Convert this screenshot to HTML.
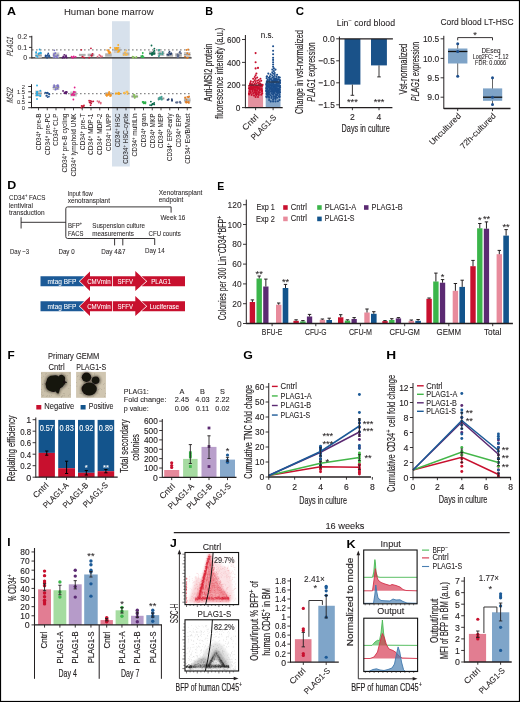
<!DOCTYPE html>
<html><head><meta charset="utf-8"><style>
html,body{margin:0;padding:0;background:#fff;}
body{width:520px;height:702px;overflow:hidden;}
svg{display:block;font-family:"Liberation Sans", sans-serif;will-change:transform;}
</style></head><body>
<svg width="520" height="702" viewBox="0 0 520 702" fill="#231f20">
<defs><filter id="bl1" x="-20%" y="-20%" width="140%" height="140%"><feGaussianBlur stdDeviation="0.45"/></filter>
<filter id="bl2" x="-30%" y="-30%" width="160%" height="160%"><feGaussianBlur stdDeviation="0.8"/></filter>
<filter id="bl3" x="-10%" y="-10%" width="120%" height="120%"><feGaussianBlur stdDeviation="0.6"/></filter></defs>
<text x="7" y="15" font-size="10.4" font-weight="bold" fill="#000" textLength="9" lengthAdjust="spacingAndGlyphs">A</text>
<text x="63.9" y="15.4" font-size="9.87" stroke="#231f20" stroke-width="0.04" textLength="89.7" lengthAdjust="spacingAndGlyphs">Human bone marrow</text>
<rect x="112" y="21.2" width="17.8" height="145.3" fill="#d7e1ec"/>
<line x1="31.8" y1="57.9" x2="191.6" y2="57.9" stroke="#231f20" stroke-width="1.4"/>
<line x1="32" y1="49.8" x2="191.6" y2="49.8" stroke="#8a8a8a" stroke-width="1.3" stroke-dasharray="1.6 2.4"/>
<rect x="35.2" y="53" width="6.6" height="4.8" fill="#c9c9c9"/>
<line x1="35.2" y1="55.4" x2="41.8" y2="55.4" stroke="#7a7a7a" stroke-width="0.6"/>
<circle cx="36.3" cy="55.67" r="0.9" fill="#29a9e0"/>
<circle cx="38.93" cy="53.35" r="0.9" fill="#29a9e0"/>
<circle cx="36.19" cy="52.1" r="0.9" fill="#29a9e0"/>
<circle cx="38.57" cy="54.1" r="0.9" fill="#29a9e0"/>
<circle cx="40.79" cy="53.39" r="0.9" fill="#29a9e0"/>
<circle cx="37.49" cy="56.9" r="0.9" fill="#29a9e0"/>
<circle cx="40.78" cy="52.54" r="0.9" fill="#29a9e0"/>
<circle cx="39.15" cy="53.35" r="0.9" fill="#29a9e0"/>
<circle cx="40.34" cy="52.63" r="0.9" fill="#29a9e0"/>
<circle cx="36.19" cy="52.66" r="0.9" fill="#29a9e0"/>
<circle cx="39.63" cy="49.5" r="0.9" fill="#29a9e0"/>
<circle cx="49.22" cy="55.29" r="0.9" fill="#1f4f8f"/>
<circle cx="46.26" cy="55.9" r="0.9" fill="#1f4f8f"/>
<circle cx="47.06" cy="57.83" r="0.9" fill="#1f4f8f"/>
<circle cx="45.5" cy="56.39" r="0.9" fill="#1f4f8f"/>
<circle cx="49.63" cy="56.82" r="0.9" fill="#1f4f8f"/>
<circle cx="45.59" cy="55.36" r="0.9" fill="#1f4f8f"/>
<circle cx="48.08" cy="56.24" r="0.9" fill="#1f4f8f"/>
<circle cx="47.72" cy="55.01" r="0.9" fill="#1f4f8f"/>
<circle cx="48.28" cy="53.5" r="0.9" fill="#1f4f8f"/>
<rect x="52.7" y="52.5" width="6.6" height="5.3" fill="#c9c9c9"/>
<line x1="52.7" y1="55.15" x2="59.3" y2="55.15" stroke="#7a7a7a" stroke-width="0.6"/>
<circle cx="55.98" cy="56.41" r="0.9" fill="#7b72c6"/>
<circle cx="57.71" cy="55.31" r="0.9" fill="#7b72c6"/>
<circle cx="54.03" cy="57.41" r="0.9" fill="#7b72c6"/>
<circle cx="55.42" cy="53.09" r="0.9" fill="#7b72c6"/>
<circle cx="53.84" cy="55.45" r="0.9" fill="#7b72c6"/>
<circle cx="56.72" cy="57.08" r="0.9" fill="#7b72c6"/>
<circle cx="54.51" cy="57.12" r="0.9" fill="#7b72c6"/>
<circle cx="55.08" cy="53.37" r="0.9" fill="#7b72c6"/>
<circle cx="57.53" cy="57.48" r="0.9" fill="#7b72c6"/>
<circle cx="53.86" cy="54.11" r="0.9" fill="#7b72c6"/>
<circle cx="54.34" cy="50.3" r="0.9" fill="#7b72c6"/>
<circle cx="64.13" cy="57.62" r="0.9" fill="#5a1d6e"/>
<circle cx="66.71" cy="57.64" r="0.9" fill="#5a1d6e"/>
<circle cx="64.25" cy="57.41" r="0.9" fill="#5a1d6e"/>
<circle cx="63.34" cy="56.52" r="0.9" fill="#5a1d6e"/>
<circle cx="66.28" cy="56.92" r="0.9" fill="#5a1d6e"/>
<circle cx="65.99" cy="55.41" r="0.9" fill="#5a1d6e"/>
<circle cx="65.7" cy="56.83" r="0.9" fill="#5a1d6e"/>
<circle cx="62.45" cy="57.75" r="0.9" fill="#5a1d6e"/>
<circle cx="64.3" cy="54.87" r="0.9" fill="#5a1d6e"/>
<circle cx="72.44" cy="57.64" r="0.9" fill="#e0218a"/>
<circle cx="73.3" cy="57.49" r="0.9" fill="#e0218a"/>
<circle cx="73.73" cy="56.44" r="0.9" fill="#e0218a"/>
<circle cx="71.59" cy="56.68" r="0.9" fill="#e0218a"/>
<circle cx="73.51" cy="57.15" r="0.9" fill="#e0218a"/>
<circle cx="75.69" cy="56.96" r="0.9" fill="#e0218a"/>
<rect x="78.95" y="53.8" width="6.6" height="2.3" fill="#c9c9c9"/>
<line x1="78.95" y1="54.95" x2="85.55" y2="54.95" stroke="#7a7a7a" stroke-width="0.6"/>
<circle cx="82.3" cy="56.8" r="0.9" fill="#cc1f3a"/>
<circle cx="82.72" cy="56.68" r="0.9" fill="#cc1f3a"/>
<circle cx="81.3" cy="49.8" r="0.9" fill="#cc1f3a"/>
<circle cx="84.31" cy="57.7" r="0.9" fill="#cc1f3a"/>
<rect x="87.7" y="53.5" width="6.6" height="3" fill="#c9c9c9"/>
<line x1="87.7" y1="55" x2="94.3" y2="55" stroke="#7a7a7a" stroke-width="0.6"/>
<circle cx="91.81" cy="55.53" r="0.9" fill="#c41a3b"/>
<circle cx="91.6" cy="55.68" r="0.9" fill="#c41a3b"/>
<circle cx="91.4" cy="55.33" r="0.9" fill="#c41a3b"/>
<circle cx="90.94" cy="48.3" r="0.9" fill="#c41a3b"/>
<circle cx="92.54" cy="53.8" r="0.9" fill="#c41a3b"/>
<circle cx="89.18" cy="57.7" r="0.9" fill="#c41a3b"/>
<circle cx="99.29" cy="55.02" r="0.9" fill="#e06c82"/>
<circle cx="100.4" cy="55.61" r="0.9" fill="#e06c82"/>
<circle cx="102.01" cy="56.47" r="0.9" fill="#e06c82"/>
<circle cx="97.54" cy="56.68" r="0.9" fill="#e06c82"/>
<circle cx="100.61" cy="56.79" r="0.9" fill="#e06c82"/>
<rect x="105.2" y="53" width="6.6" height="4" fill="#c9c9c9"/>
<line x1="105.2" y1="55" x2="111.8" y2="55" stroke="#7a7a7a" stroke-width="0.6"/>
<circle cx="108.59" cy="50.91" r="0.9" fill="#f7941d"/>
<circle cx="108.74" cy="51.32" r="0.9" fill="#f7941d"/>
<circle cx="107.2" cy="50.12" r="0.9" fill="#f7941d"/>
<circle cx="110.42" cy="52.5" r="0.9" fill="#f7941d"/>
<circle cx="109.16" cy="53.06" r="0.9" fill="#f7941d"/>
<circle cx="108.4" cy="51.86" r="0.9" fill="#f7941d"/>
<circle cx="109.72" cy="52.08" r="0.9" fill="#f7941d"/>
<circle cx="109.46" cy="53.13" r="0.9" fill="#f7941d"/>
<circle cx="110.35" cy="47.7" r="0.9" fill="#f7941d"/>
<rect x="113.95" y="47" width="6.6" height="6" fill="#c9c9c9"/>
<line x1="113.95" y1="50" x2="120.55" y2="50" stroke="#7a7a7a" stroke-width="0.6"/>
<circle cx="118.71" cy="50.99" r="0.9" fill="#f6a821"/>
<circle cx="116.97" cy="47.9" r="0.9" fill="#f6a821"/>
<circle cx="114.97" cy="48" r="0.9" fill="#f6a821"/>
<circle cx="116.58" cy="48.16" r="0.9" fill="#f6a821"/>
<circle cx="115.93" cy="48.91" r="0.9" fill="#f6a821"/>
<circle cx="116.01" cy="49.44" r="0.9" fill="#f6a821"/>
<circle cx="119.15" cy="50.76" r="0.9" fill="#f6a821"/>
<circle cx="116.5" cy="47.91" r="0.9" fill="#f6a821"/>
<circle cx="118" cy="51.88" r="0.9" fill="#f6a821"/>
<circle cx="116.65" cy="48.86" r="0.9" fill="#f6a821"/>
<circle cx="117.58" cy="48.81" r="0.9" fill="#f6a821"/>
<circle cx="118.13" cy="47.66" r="0.9" fill="#f6a821"/>
<circle cx="118.21" cy="45" r="0.9" fill="#f6a821"/>
<rect x="122.7" y="52" width="6.6" height="4" fill="#c9c9c9"/>
<line x1="122.7" y1="54" x2="129.3" y2="54" stroke="#7a7a7a" stroke-width="0.6"/>
<circle cx="125.29" cy="52.39" r="0.9" fill="#f9b94a"/>
<circle cx="125.88" cy="54.9" r="0.9" fill="#f9b94a"/>
<circle cx="126.45" cy="54.12" r="0.9" fill="#f9b94a"/>
<circle cx="126.39" cy="50.49" r="0.9" fill="#f9b94a"/>
<circle cx="123.72" cy="54.88" r="0.9" fill="#f9b94a"/>
<circle cx="126.39" cy="54.48" r="0.9" fill="#f9b94a"/>
<circle cx="124.78" cy="52.47" r="0.9" fill="#f9b94a"/>
<circle cx="127.13" cy="54.53" r="0.9" fill="#f9b94a"/>
<circle cx="132.57" cy="56.68" r="0.9" fill="#8cbf62"/>
<circle cx="133.33" cy="57.73" r="0.9" fill="#8cbf62"/>
<circle cx="135.75" cy="57.72" r="0.9" fill="#8cbf62"/>
<circle cx="133.04" cy="57.85" r="0.9" fill="#8cbf62"/>
<circle cx="136.48" cy="57.01" r="0.9" fill="#8cbf62"/>
<circle cx="133.63" cy="56.96" r="0.9" fill="#8cbf62"/>
<circle cx="141.83" cy="57.06" r="0.9" fill="#2db04b"/>
<circle cx="142.16" cy="57.26" r="0.9" fill="#2db04b"/>
<circle cx="141.2" cy="56.06" r="0.9" fill="#2db04b"/>
<circle cx="143.1" cy="57.1" r="0.9" fill="#2db04b"/>
<circle cx="143.55" cy="57.13" r="0.9" fill="#2db04b"/>
<circle cx="142.59" cy="55.71" r="0.9" fill="#2db04b"/>
<circle cx="142.77" cy="53" r="0.9" fill="#2db04b"/>
<rect x="148.95" y="51" width="6.6" height="4" fill="#c9c9c9"/>
<line x1="148.95" y1="53" x2="155.55" y2="53" stroke="#7a7a7a" stroke-width="0.6"/>
<circle cx="152.17" cy="54.69" r="0.9" fill="#0d6b4e"/>
<circle cx="153.96" cy="53.79" r="0.9" fill="#0d6b4e"/>
<circle cx="152.49" cy="54.39" r="0.9" fill="#0d6b4e"/>
<circle cx="152.7" cy="53.74" r="0.9" fill="#0d6b4e"/>
<circle cx="150.09" cy="53.59" r="0.9" fill="#0d6b4e"/>
<circle cx="151.61" cy="53.47" r="0.9" fill="#0d6b4e"/>
<circle cx="154.38" cy="50.6" r="0.9" fill="#0d6b4e"/>
<circle cx="151.7" cy="54.78" r="0.9" fill="#0d6b4e"/>
<circle cx="154.48" cy="53.52" r="0.9" fill="#0d6b4e"/>
<circle cx="153.79" cy="51.94" r="0.9" fill="#0d6b4e"/>
<circle cx="154.36" cy="48.69" r="0.9" fill="#0d6b4e"/>
<circle cx="152.52" cy="52.9" r="0.9" fill="#0d6b4e"/>
<circle cx="151.51" cy="45.5" r="0.9" fill="#0d6b4e"/>
<rect x="157.7" y="51" width="6.6" height="5" fill="#c9c9c9"/>
<line x1="157.7" y1="53.5" x2="164.3" y2="53.5" stroke="#7a7a7a" stroke-width="0.6"/>
<circle cx="159.17" cy="49.89" r="0.9" fill="#43a093"/>
<circle cx="162.57" cy="53.98" r="0.9" fill="#43a093"/>
<circle cx="159.32" cy="55.07" r="0.9" fill="#43a093"/>
<circle cx="159.1" cy="49.82" r="0.9" fill="#43a093"/>
<circle cx="158.9" cy="56.45" r="0.9" fill="#43a093"/>
<circle cx="160.37" cy="53.77" r="0.9" fill="#43a093"/>
<circle cx="158.66" cy="50.39" r="0.9" fill="#43a093"/>
<circle cx="162.2" cy="54.3" r="0.9" fill="#43a093"/>
<circle cx="159.84" cy="53.44" r="0.9" fill="#43a093"/>
<circle cx="162.63" cy="52.19" r="0.9" fill="#43a093"/>
<rect x="166.45" y="53" width="6.6" height="4" fill="#c9c9c9"/>
<line x1="166.45" y1="55" x2="173.05" y2="55" stroke="#7a7a7a" stroke-width="0.6"/>
<circle cx="171.08" cy="53.38" r="0.9" fill="#2d4470"/>
<circle cx="167.43" cy="54.71" r="0.9" fill="#2d4470"/>
<circle cx="170.65" cy="54.3" r="0.9" fill="#2d4470"/>
<circle cx="169.94" cy="53.67" r="0.9" fill="#2d4470"/>
<circle cx="171.24" cy="53.5" r="0.9" fill="#2d4470"/>
<circle cx="168.98" cy="52.87" r="0.9" fill="#2d4470"/>
<circle cx="169.54" cy="51.54" r="0.9" fill="#2d4470"/>
<circle cx="168.62" cy="54.93" r="0.9" fill="#2d4470"/>
<rect x="175.2" y="53" width="6.6" height="4" fill="#c9c9c9"/>
<line x1="175.2" y1="55" x2="181.8" y2="55" stroke="#7a7a7a" stroke-width="0.6"/>
<circle cx="179.98" cy="51.74" r="0.9" fill="#5c6a8c"/>
<circle cx="178.39" cy="56.81" r="0.9" fill="#5c6a8c"/>
<circle cx="177.61" cy="56" r="0.9" fill="#5c6a8c"/>
<circle cx="178.61" cy="55.2" r="0.9" fill="#5c6a8c"/>
<circle cx="177.61" cy="57.33" r="0.9" fill="#5c6a8c"/>
<circle cx="179.49" cy="52.63" r="0.9" fill="#5c6a8c"/>
<circle cx="180.89" cy="53.22" r="0.9" fill="#5c6a8c"/>
<circle cx="177.45" cy="54.5" r="0.9" fill="#5c6a8c"/>
<rect x="183.95" y="52" width="6.6" height="5" fill="#c9c9c9"/>
<line x1="183.95" y1="54.5" x2="190.55" y2="54.5" stroke="#7a7a7a" stroke-width="0.6"/>
<circle cx="189.2" cy="54.24" r="0.9" fill="#e17e26"/>
<circle cx="187.24" cy="53.19" r="0.9" fill="#e17e26"/>
<circle cx="185.05" cy="56.58" r="0.9" fill="#e17e26"/>
<circle cx="187.89" cy="57.56" r="0.9" fill="#e17e26"/>
<circle cx="188.12" cy="49.5" r="0.9" fill="#e17e26"/>
<circle cx="186.58" cy="50" r="0.9" fill="#e17e26"/>
<circle cx="187.05" cy="58" r="0.9" fill="#e17e26"/>
<line x1="31.8" y1="35.8" x2="31.8" y2="58.5" stroke="#231f20" stroke-width="1"/>
<line x1="29" y1="36.8" x2="31.8" y2="36.8" stroke="#231f20" stroke-width="0.9"/>
<text x="27.2" y="39.3" font-size="7" stroke="#231f20" stroke-width="0.04" text-anchor="end">0.2</text>
<line x1="29" y1="47.4" x2="31.8" y2="47.4" stroke="#231f20" stroke-width="0.9"/>
<text x="27.2" y="49.9" font-size="7" stroke="#231f20" stroke-width="0.04" text-anchor="end">0.1</text>
<line x1="29" y1="57.9" x2="31.8" y2="57.9" stroke="#231f20" stroke-width="0.9"/>
<text x="27.2" y="60.4" font-size="7" stroke="#231f20" stroke-width="0.04" text-anchor="end">0</text>
<text transform="translate(13.3 46.8) rotate(-90) skewX(-10)" font-size="9.12" stroke="#231f20" stroke-width="0.04" text-anchor="middle" font-style="italic" textLength="19.5" lengthAdjust="spacingAndGlyphs">PLAG1</text>
<line x1="31.5" y1="107.6" x2="191.6" y2="107.6" stroke="#231f20" stroke-width="1.4"/>
<line x1="32" y1="93.7" x2="191.6" y2="93.7" stroke="#8a8a8a" stroke-width="1.3" stroke-dasharray="1.6 2.4"/>
<rect x="35.2" y="90.5" width="6.6" height="6" fill="#c9c9c9"/>
<line x1="35.2" y1="93.5" x2="41.8" y2="93.5" stroke="#7a7a7a" stroke-width="0.6"/>
<circle cx="36.73" cy="92.07" r="0.9" fill="#29a9e0"/>
<circle cx="40.02" cy="95.08" r="0.9" fill="#29a9e0"/>
<circle cx="40.33" cy="90.74" r="0.9" fill="#29a9e0"/>
<circle cx="37.95" cy="95.18" r="0.9" fill="#29a9e0"/>
<circle cx="37.43" cy="91.93" r="0.9" fill="#29a9e0"/>
<circle cx="37.04" cy="93.79" r="0.9" fill="#29a9e0"/>
<circle cx="36.49" cy="95.37" r="0.9" fill="#29a9e0"/>
<circle cx="37.13" cy="91.94" r="0.9" fill="#29a9e0"/>
<circle cx="37.07" cy="94.48" r="0.9" fill="#29a9e0"/>
<circle cx="40.2" cy="96.21" r="0.9" fill="#29a9e0"/>
<circle cx="37.02" cy="85.5" r="0.9" fill="#29a9e0"/>
<circle cx="37.01" cy="99" r="0.9" fill="#29a9e0"/>
<circle cx="45.27" cy="92.72" r="0.9" fill="#1f4f8f"/>
<circle cx="47.65" cy="97.1" r="0.9" fill="#1f4f8f"/>
<circle cx="46.76" cy="93" r="0.9" fill="#1f4f8f"/>
<circle cx="49.24" cy="93.93" r="0.9" fill="#1f4f8f"/>
<circle cx="47.8" cy="92.93" r="0.9" fill="#1f4f8f"/>
<circle cx="47.36" cy="92.7" r="0.9" fill="#1f4f8f"/>
<circle cx="49.35" cy="94.38" r="0.9" fill="#1f4f8f"/>
<circle cx="46.22" cy="95.87" r="0.9" fill="#1f4f8f"/>
<circle cx="48.92" cy="96.55" r="0.9" fill="#1f4f8f"/>
<circle cx="46.88" cy="95.47" r="0.9" fill="#1f4f8f"/>
<rect x="52.7" y="85" width="6.6" height="5" fill="#c9c9c9"/>
<line x1="52.7" y1="87.5" x2="59.3" y2="87.5" stroke="#7a7a7a" stroke-width="0.6"/>
<circle cx="55.92" cy="88.89" r="0.9" fill="#7b72c6"/>
<circle cx="54.55" cy="86.18" r="0.9" fill="#7b72c6"/>
<circle cx="58.32" cy="86.53" r="0.9" fill="#7b72c6"/>
<circle cx="57.97" cy="85.15" r="0.9" fill="#7b72c6"/>
<circle cx="57.18" cy="86.11" r="0.9" fill="#7b72c6"/>
<circle cx="57.61" cy="88.7" r="0.9" fill="#7b72c6"/>
<circle cx="53.73" cy="87.21" r="0.9" fill="#7b72c6"/>
<circle cx="57.26" cy="85.38" r="0.9" fill="#7b72c6"/>
<circle cx="54.13" cy="85.08" r="0.9" fill="#7b72c6"/>
<circle cx="55.46" cy="89.68" r="0.9" fill="#7b72c6"/>
<circle cx="65.26" cy="92.1" r="0.9" fill="#5a1d6e"/>
<circle cx="63.06" cy="91.01" r="0.9" fill="#5a1d6e"/>
<circle cx="66.89" cy="92.12" r="0.9" fill="#5a1d6e"/>
<circle cx="64.46" cy="93.06" r="0.9" fill="#5a1d6e"/>
<circle cx="64.5" cy="93.17" r="0.9" fill="#5a1d6e"/>
<circle cx="65.36" cy="93.22" r="0.9" fill="#5a1d6e"/>
<circle cx="65.89" cy="92.41" r="0.9" fill="#5a1d6e"/>
<circle cx="66.2" cy="93.51" r="0.9" fill="#5a1d6e"/>
<circle cx="66.42" cy="91.98" r="0.9" fill="#5a1d6e"/>
<rect x="70.2" y="91.5" width="6.6" height="5" fill="#c9c9c9"/>
<line x1="70.2" y1="94" x2="76.8" y2="94" stroke="#7a7a7a" stroke-width="0.6"/>
<circle cx="71.69" cy="94.67" r="0.9" fill="#e0218a"/>
<circle cx="72.75" cy="93.78" r="0.9" fill="#e0218a"/>
<circle cx="71.94" cy="94.96" r="0.9" fill="#e0218a"/>
<circle cx="73.92" cy="91.7" r="0.9" fill="#e0218a"/>
<circle cx="74.51" cy="94.84" r="0.9" fill="#e0218a"/>
<circle cx="73.61" cy="95.06" r="0.9" fill="#e0218a"/>
<circle cx="73.69" cy="92.81" r="0.9" fill="#e0218a"/>
<circle cx="75.03" cy="92.09" r="0.9" fill="#e0218a"/>
<circle cx="74.66" cy="87.5" r="0.9" fill="#e0218a"/>
<circle cx="73.35" cy="99.5" r="0.9" fill="#e0218a"/>
<circle cx="81.41" cy="107.65" r="0.9" fill="#cc1f3a"/>
<circle cx="83.06" cy="106.56" r="0.9" fill="#cc1f3a"/>
<circle cx="83.58" cy="106.32" r="0.9" fill="#cc1f3a"/>
<circle cx="83.3" cy="106.38" r="0.9" fill="#cc1f3a"/>
<circle cx="82.29" cy="106.04" r="0.9" fill="#cc1f3a"/>
<circle cx="81.61" cy="105.93" r="0.9" fill="#cc1f3a"/>
<circle cx="83.99" cy="105.31" r="0.9" fill="#cc1f3a"/>
<circle cx="90.24" cy="102.44" r="0.9" fill="#c41a3b"/>
<circle cx="90.59" cy="105.17" r="0.9" fill="#c41a3b"/>
<circle cx="91.23" cy="103.31" r="0.9" fill="#c41a3b"/>
<circle cx="90.76" cy="100.84" r="0.9" fill="#c41a3b"/>
<circle cx="89.12" cy="100.7" r="0.9" fill="#c41a3b"/>
<circle cx="91.88" cy="101.7" r="0.9" fill="#c41a3b"/>
<circle cx="93.26" cy="101.33" r="0.9" fill="#c41a3b"/>
<circle cx="89.55" cy="102.37" r="0.9" fill="#c41a3b"/>
<circle cx="90.22" cy="102.54" r="0.9" fill="#c41a3b"/>
<circle cx="99" cy="101.95" r="0.9" fill="#e06c82"/>
<circle cx="99.24" cy="101.3" r="0.9" fill="#e06c82"/>
<circle cx="98.68" cy="102.59" r="0.9" fill="#e06c82"/>
<circle cx="100.77" cy="102.57" r="0.9" fill="#e06c82"/>
<circle cx="97.41" cy="101.04" r="0.9" fill="#e06c82"/>
<circle cx="100.68" cy="103.51" r="0.9" fill="#e06c82"/>
<rect x="105.2" y="92" width="6.6" height="4" fill="#c9c9c9"/>
<line x1="105.2" y1="94" x2="111.8" y2="94" stroke="#7a7a7a" stroke-width="0.6"/>
<circle cx="108" cy="94.61" r="0.9" fill="#f7941d"/>
<circle cx="110.82" cy="94.86" r="0.9" fill="#f7941d"/>
<circle cx="109.49" cy="94.23" r="0.9" fill="#f7941d"/>
<circle cx="106.39" cy="94.09" r="0.9" fill="#f7941d"/>
<circle cx="108.78" cy="93.1" r="0.9" fill="#f7941d"/>
<circle cx="106.85" cy="95.95" r="0.9" fill="#f7941d"/>
<circle cx="106.32" cy="95.29" r="0.9" fill="#f7941d"/>
<circle cx="110.06" cy="96.11" r="0.9" fill="#f7941d"/>
<circle cx="110.84" cy="95.87" r="0.9" fill="#f7941d"/>
<circle cx="108.6" cy="94.6" r="0.9" fill="#f7941d"/>
<circle cx="109.17" cy="91.96" r="0.9" fill="#f7941d"/>
<circle cx="106.75" cy="95.14" r="0.9" fill="#f7941d"/>
<circle cx="118.21" cy="93.47" r="0.9" fill="#f6a821"/>
<circle cx="116" cy="93.21" r="0.9" fill="#f6a821"/>
<circle cx="118.34" cy="93.85" r="0.9" fill="#f6a821"/>
<circle cx="119.25" cy="93.25" r="0.9" fill="#f6a821"/>
<circle cx="118.22" cy="93.61" r="0.9" fill="#f6a821"/>
<circle cx="115.76" cy="93.84" r="0.9" fill="#f6a821"/>
<circle cx="119.09" cy="94.17" r="0.9" fill="#f6a821"/>
<circle cx="118.52" cy="92.66" r="0.9" fill="#f6a821"/>
<circle cx="127.42" cy="94.02" r="0.9" fill="#f9b94a"/>
<circle cx="124.03" cy="92.79" r="0.9" fill="#f9b94a"/>
<circle cx="127.05" cy="91.42" r="0.9" fill="#f9b94a"/>
<circle cx="123.92" cy="93.2" r="0.9" fill="#f9b94a"/>
<circle cx="124.3" cy="93.34" r="0.9" fill="#f9b94a"/>
<circle cx="127.75" cy="92.38" r="0.9" fill="#f9b94a"/>
<circle cx="124.4" cy="92.67" r="0.9" fill="#f9b94a"/>
<circle cx="126.16" cy="92.03" r="0.9" fill="#f9b94a"/>
<rect x="131.45" y="95" width="6.6" height="3" fill="#c9c9c9"/>
<line x1="131.45" y1="96.5" x2="138.05" y2="96.5" stroke="#7a7a7a" stroke-width="0.6"/>
<circle cx="134.48" cy="96.82" r="0.9" fill="#8cbf62"/>
<circle cx="134.19" cy="96.05" r="0.9" fill="#8cbf62"/>
<circle cx="135.12" cy="96.84" r="0.9" fill="#8cbf62"/>
<circle cx="134.54" cy="94.87" r="0.9" fill="#8cbf62"/>
<circle cx="134.32" cy="95.89" r="0.9" fill="#8cbf62"/>
<circle cx="134.7" cy="97.94" r="0.9" fill="#8cbf62"/>
<circle cx="133.61" cy="94.7" r="0.9" fill="#8cbf62"/>
<circle cx="136.73" cy="96.41" r="0.9" fill="#8cbf62"/>
<circle cx="144.09" cy="103.14" r="0.9" fill="#2db04b"/>
<circle cx="144.33" cy="103.13" r="0.9" fill="#2db04b"/>
<circle cx="143.72" cy="101.9" r="0.9" fill="#2db04b"/>
<circle cx="143.59" cy="103.27" r="0.9" fill="#2db04b"/>
<circle cx="142.64" cy="101.98" r="0.9" fill="#2db04b"/>
<circle cx="145.37" cy="103.43" r="0.9" fill="#2db04b"/>
<circle cx="144.73" cy="102.76" r="0.9" fill="#2db04b"/>
<circle cx="145.52" cy="102.25" r="0.9" fill="#2db04b"/>
<circle cx="154.18" cy="102.96" r="0.9" fill="#0d6b4e"/>
<circle cx="154.26" cy="104.38" r="0.9" fill="#0d6b4e"/>
<circle cx="150.89" cy="101.55" r="0.9" fill="#0d6b4e"/>
<circle cx="150.04" cy="105.08" r="0.9" fill="#0d6b4e"/>
<circle cx="152.13" cy="104.6" r="0.9" fill="#0d6b4e"/>
<circle cx="152.67" cy="104.22" r="0.9" fill="#0d6b4e"/>
<circle cx="152.83" cy="103.87" r="0.9" fill="#0d6b4e"/>
<circle cx="151.31" cy="105.33" r="0.9" fill="#0d6b4e"/>
<circle cx="152.64" cy="103.88" r="0.9" fill="#0d6b4e"/>
<circle cx="152.61" cy="103.99" r="0.9" fill="#0d6b4e"/>
<rect x="157.7" y="97" width="6.6" height="3" fill="#c9c9c9"/>
<line x1="157.7" y1="98.5" x2="164.3" y2="98.5" stroke="#7a7a7a" stroke-width="0.6"/>
<circle cx="161.2" cy="98.22" r="0.9" fill="#43a093"/>
<circle cx="160.22" cy="98.6" r="0.9" fill="#43a093"/>
<circle cx="160.96" cy="97.26" r="0.9" fill="#43a093"/>
<circle cx="158.63" cy="99.55" r="0.9" fill="#43a093"/>
<circle cx="159.79" cy="97.33" r="0.9" fill="#43a093"/>
<circle cx="161.36" cy="99.4" r="0.9" fill="#43a093"/>
<circle cx="159.15" cy="98.02" r="0.9" fill="#43a093"/>
<circle cx="159.18" cy="99.2" r="0.9" fill="#43a093"/>
<circle cx="161.95" cy="99.62" r="0.9" fill="#43a093"/>
<circle cx="161.68" cy="96.64" r="0.9" fill="#43a093"/>
<circle cx="167.5" cy="99.92" r="0.9" fill="#2d4470"/>
<circle cx="172" cy="100.64" r="0.9" fill="#2d4470"/>
<circle cx="168.29" cy="99.67" r="0.9" fill="#2d4470"/>
<circle cx="172.12" cy="100.47" r="0.9" fill="#2d4470"/>
<circle cx="171.89" cy="99.25" r="0.9" fill="#2d4470"/>
<circle cx="168.59" cy="99.15" r="0.9" fill="#2d4470"/>
<circle cx="176.23" cy="102.47" r="0.9" fill="#5c6a8c"/>
<circle cx="180.64" cy="102.91" r="0.9" fill="#5c6a8c"/>
<circle cx="176.16" cy="102.45" r="0.9" fill="#5c6a8c"/>
<circle cx="177.63" cy="102.17" r="0.9" fill="#5c6a8c"/>
<circle cx="179.97" cy="102.4" r="0.9" fill="#5c6a8c"/>
<circle cx="180.01" cy="101.62" r="0.9" fill="#5c6a8c"/>
<circle cx="177.18" cy="102.63" r="0.9" fill="#5c6a8c"/>
<rect x="183.95" y="97.8" width="6.6" height="4.7" fill="#c9c9c9"/>
<line x1="183.95" y1="100.15" x2="190.55" y2="100.15" stroke="#7a7a7a" stroke-width="0.6"/>
<circle cx="188.83" cy="102.9" r="0.9" fill="#e17e26"/>
<circle cx="186.33" cy="102.71" r="0.9" fill="#e17e26"/>
<circle cx="186.46" cy="99.56" r="0.9" fill="#e17e26"/>
<circle cx="186.73" cy="101.86" r="0.9" fill="#e17e26"/>
<circle cx="185.83" cy="101.91" r="0.9" fill="#e17e26"/>
<circle cx="188.64" cy="97.18" r="0.9" fill="#e17e26"/>
<circle cx="187.16" cy="102.33" r="0.9" fill="#e17e26"/>
<circle cx="188.73" cy="101.84" r="0.9" fill="#e17e26"/>
<circle cx="187.37" cy="96.93" r="0.9" fill="#e17e26"/>
<circle cx="185.11" cy="97.42" r="0.9" fill="#e17e26"/>
<circle cx="185.31" cy="97.81" r="0.9" fill="#e17e26"/>
<circle cx="189.09" cy="96.44" r="0.9" fill="#e17e26"/>
<line x1="31.5" y1="84.2" x2="31.5" y2="108.2" stroke="#231f20" stroke-width="1"/>
<line x1="28.2" y1="86.5" x2="31.5" y2="86.5" stroke="#231f20" stroke-width="0.9"/>
<line x1="28.2" y1="91.8" x2="31.5" y2="91.8" stroke="#231f20" stroke-width="0.9"/>
<line x1="28.2" y1="97.1" x2="31.5" y2="97.1" stroke="#231f20" stroke-width="0.9"/>
<line x1="28.2" y1="102.4" x2="31.5" y2="102.4" stroke="#231f20" stroke-width="0.9"/>
<line x1="28.2" y1="107.7" x2="31.5" y2="107.7" stroke="#231f20" stroke-width="0.9"/>
<text x="25" y="88.5" font-size="5.8" stroke="#231f20" stroke-width="0.04" text-anchor="end">2</text>
<text x="25" y="93.8" font-size="5.8" stroke="#231f20" stroke-width="0.04" text-anchor="end">1.5</text>
<text x="25" y="99.1" font-size="5.8" stroke="#231f20" stroke-width="0.04" text-anchor="end">1</text>
<text x="25" y="104.4" font-size="5.8" stroke="#231f20" stroke-width="0.04" text-anchor="end">0.5</text>
<text x="25" y="109.7" font-size="5.8" stroke="#231f20" stroke-width="0.04" text-anchor="end">0</text>
<text transform="translate(12.9 95.7) rotate(-90) skewX(-10)" font-size="9.12" stroke="#231f20" stroke-width="0.04" text-anchor="middle" font-style="italic" textLength="15.4" lengthAdjust="spacingAndGlyphs">MSI2</text>
<line x1="38.5" y1="107.6" x2="38.5" y2="110.3" stroke="#231f20" stroke-width="0.8"/>
<text transform="translate(40.9 113.5) rotate(-90)" font-size="7.04" stroke="#231f20" stroke-width="0.04" text-anchor="end" textLength="36.8" lengthAdjust="spacingAndGlyphs">CD34<tspan font-size="65%" baseline-shift="super">+</tspan> pre-B</text>
<line x1="47.25" y1="107.6" x2="47.25" y2="110.3" stroke="#231f20" stroke-width="0.8"/>
<text transform="translate(49.65 113.5) rotate(-90)" font-size="7.04" stroke="#231f20" stroke-width="0.04" text-anchor="end" textLength="41.4" lengthAdjust="spacingAndGlyphs">CD34<tspan font-size="65%" baseline-shift="super">+</tspan> pre-PC</text>
<line x1="56" y1="107.6" x2="56" y2="110.3" stroke="#231f20" stroke-width="0.8"/>
<text transform="translate(58.4 113.5) rotate(-90)" font-size="7.04" stroke="#231f20" stroke-width="0.04" text-anchor="end" textLength="32.2" lengthAdjust="spacingAndGlyphs">CD34<tspan font-size="65%" baseline-shift="super">+</tspan> CLP</text>
<line x1="64.75" y1="107.6" x2="64.75" y2="110.3" stroke="#231f20" stroke-width="0.8"/>
<text transform="translate(67.15 113.5) rotate(-90)" font-size="7.04" stroke="#231f20" stroke-width="0.04" text-anchor="end" textLength="59" lengthAdjust="spacingAndGlyphs">CD34<tspan font-size="65%" baseline-shift="super">+</tspan> pre-B cycling</text>
<line x1="73.5" y1="107.6" x2="73.5" y2="110.3" stroke="#231f20" stroke-width="0.8"/>
<text transform="translate(75.9 113.5) rotate(-90)" font-size="7.04" stroke="#231f20" stroke-width="0.04" text-anchor="end" textLength="63" lengthAdjust="spacingAndGlyphs">CD34<tspan font-size="65%" baseline-shift="super">+</tspan> lymphoid UNK</text>
<line x1="82.25" y1="107.6" x2="82.25" y2="110.3" stroke="#231f20" stroke-width="0.8"/>
<text transform="translate(84.65 113.5) rotate(-90)" font-size="7.04" stroke="#231f20" stroke-width="0.04" text-anchor="end" textLength="36.8" lengthAdjust="spacingAndGlyphs">CD34<tspan font-size="65%" baseline-shift="super">+</tspan> pre-T</text>
<line x1="91" y1="107.6" x2="91" y2="110.3" stroke="#231f20" stroke-width="0.8"/>
<text transform="translate(93.4 113.5) rotate(-90)" font-size="7.04" stroke="#231f20" stroke-width="0.04" text-anchor="end" textLength="41.4" lengthAdjust="spacingAndGlyphs">CD34<tspan font-size="65%" baseline-shift="super">+</tspan> MDP-1</text>
<line x1="99.75" y1="107.6" x2="99.75" y2="110.3" stroke="#231f20" stroke-width="0.8"/>
<text transform="translate(102.15 113.5) rotate(-90)" font-size="7.04" stroke="#231f20" stroke-width="0.04" text-anchor="end" textLength="41.4" lengthAdjust="spacingAndGlyphs">CD34<tspan font-size="65%" baseline-shift="super">+</tspan> MDP-2</text>
<line x1="108.5" y1="107.6" x2="108.5" y2="110.3" stroke="#231f20" stroke-width="0.8"/>
<text transform="translate(110.9 113.5) rotate(-90)" font-size="7.04" stroke="#231f20" stroke-width="0.04" text-anchor="end" textLength="37.5" lengthAdjust="spacingAndGlyphs">CD34<tspan font-size="65%" baseline-shift="super">+</tspan> LMPP</text>
<line x1="117.25" y1="107.6" x2="117.25" y2="110.3" stroke="#231f20" stroke-width="0.8"/>
<text transform="translate(119.65 113.5) rotate(-90)" font-size="7.04" stroke="#231f20" stroke-width="0.04" text-anchor="end" textLength="33.8" lengthAdjust="spacingAndGlyphs">CD34<tspan font-size="65%" baseline-shift="super">+</tspan> HSC</text>
<line x1="126" y1="107.6" x2="126" y2="110.3" stroke="#231f20" stroke-width="0.8"/>
<text transform="translate(128.4 113.5) rotate(-90)" font-size="7.04" stroke="#231f20" stroke-width="0.04" text-anchor="end" textLength="50.3" lengthAdjust="spacingAndGlyphs">CD34<tspan font-size="65%" baseline-shift="super">+</tspan> HSC-cycle</text>
<line x1="134.75" y1="107.6" x2="134.75" y2="110.3" stroke="#231f20" stroke-width="0.8"/>
<text transform="translate(137.15 113.5) rotate(-90)" font-size="7.04" stroke="#231f20" stroke-width="0.04" text-anchor="end" textLength="42.9" lengthAdjust="spacingAndGlyphs">CD34<tspan font-size="65%" baseline-shift="super">+</tspan> multiLin</text>
<line x1="143.5" y1="107.6" x2="143.5" y2="110.3" stroke="#231f20" stroke-width="0.8"/>
<text transform="translate(145.9 113.5) rotate(-90)" font-size="7.04" stroke="#231f20" stroke-width="0.04" text-anchor="end" textLength="33.8" lengthAdjust="spacingAndGlyphs">CD34<tspan font-size="65%" baseline-shift="super">+</tspan> gran</text>
<line x1="152.25" y1="107.6" x2="152.25" y2="110.3" stroke="#231f20" stroke-width="0.8"/>
<text transform="translate(154.65 113.5) rotate(-90)" font-size="7.04" stroke="#231f20" stroke-width="0.04" text-anchor="end" textLength="34.7" lengthAdjust="spacingAndGlyphs">CD34<tspan font-size="65%" baseline-shift="super">+</tspan> MKP</text>
<line x1="161" y1="107.6" x2="161" y2="110.3" stroke="#231f20" stroke-width="0.8"/>
<text transform="translate(163.4 113.5) rotate(-90)" font-size="7.04" stroke="#231f20" stroke-width="0.04" text-anchor="end" textLength="34.7" lengthAdjust="spacingAndGlyphs">CD34<tspan font-size="65%" baseline-shift="super">+</tspan> MEP</text>
<line x1="169.75" y1="107.6" x2="169.75" y2="110.3" stroke="#231f20" stroke-width="0.8"/>
<text transform="translate(172.15 113.5) rotate(-90)" font-size="7.04" stroke="#231f20" stroke-width="0.04" text-anchor="end" textLength="47.5" lengthAdjust="spacingAndGlyphs">CD34<tspan font-size="65%" baseline-shift="super">+</tspan> ERP-early</text>
<line x1="178.5" y1="107.6" x2="178.5" y2="110.3" stroke="#231f20" stroke-width="0.8"/>
<text transform="translate(180.9 113.5) rotate(-90)" font-size="7.04" stroke="#231f20" stroke-width="0.04" text-anchor="end" textLength="33.8" lengthAdjust="spacingAndGlyphs">CD34<tspan font-size="65%" baseline-shift="super">+</tspan> ERP</text>
<line x1="187.25" y1="107.6" x2="187.25" y2="110.3" stroke="#231f20" stroke-width="0.8"/>
<text transform="translate(189.65 113.5) rotate(-90)" font-size="7.04" stroke="#231f20" stroke-width="0.04" text-anchor="end" textLength="50.3" lengthAdjust="spacingAndGlyphs">CD34<tspan font-size="65%" baseline-shift="super">+</tspan> Eo/B/Mast</text>
<text x="205.3" y="15.1" font-size="10.4" font-weight="bold" fill="#000" textLength="7.8" lengthAdjust="spacingAndGlyphs">B</text>
<text x="267.3" y="37.7" font-size="8.58" stroke="#231f20" stroke-width="0.09" text-anchor="middle" textLength="13" lengthAdjust="spacingAndGlyphs">n.s.</text>
<rect x="248.1" y="85.1" width="15" height="22.5" fill="#e3919f"/>
<rect x="265.7" y="82" width="14.8" height="25.6" fill="#86a6c8"/>
<g fill="#c8102e"><circle cx="255.6" cy="97.0" r="1.05"/><circle cx="258.0" cy="97.0" r="1.05"/><circle cx="254.0" cy="95.6" r="1.05"/><circle cx="256.4" cy="95.3" r="1.05"/><circle cx="258.8" cy="94.9" r="1.05"/><circle cx="251.6" cy="94.9" r="1.05"/><circle cx="261.2" cy="94.7" r="1.05"/><circle cx="249.2" cy="94.4" r="1.05"/><circle cx="256.1" cy="94.4" r="1.05"/><circle cx="255.6" cy="94.0" r="1.05"/><circle cx="257.1" cy="94.0" r="1.05"/><circle cx="253.2" cy="93.5" r="1.05"/><circle cx="249.0" cy="93.4" r="1.05"/><circle cx="262.2" cy="93.4" r="1.05"/><circle cx="258.8" cy="93.0" r="1.05"/><circle cx="250.8" cy="92.9" r="1.05"/><circle cx="255.8" cy="92.6" r="1.05"/><circle cx="254.2" cy="92.4" r="1.05"/><circle cx="259.8" cy="92.4" r="1.05"/><circle cx="256.5" cy="92.4" r="1.05"/><circle cx="255.5" cy="92.3" r="1.05"/><circle cx="258.3" cy="92.0" r="1.05"/><circle cx="252.4" cy="91.6" r="1.05"/><circle cx="262.0" cy="91.6" r="1.05"/><circle cx="250.0" cy="91.2" r="1.05"/><circle cx="249.5" cy="91.2" r="1.05"/><circle cx="254.8" cy="90.7" r="1.05"/><circle cx="257.2" cy="90.6" r="1.05"/><circle cx="259.6" cy="90.4" r="1.05"/><circle cx="256.1" cy="90.4" r="1.05"/><circle cx="254.4" cy="90.2" r="1.05"/><circle cx="262.0" cy="90.2" r="1.05"/><circle cx="261.5" cy="90.2" r="1.05"/><circle cx="252.4" cy="90.1" r="1.05"/><circle cx="255.2" cy="89.7" r="1.05"/><circle cx="250.0" cy="89.4" r="1.05"/><circle cx="250.4" cy="89.4" r="1.05"/><circle cx="254.7" cy="89.3" r="1.05"/><circle cx="260.0" cy="89.3" r="1.05"/><circle cx="261.2" cy="89.2" r="1.05"/><circle cx="255.3" cy="89.2" r="1.05"/><circle cx="253.0" cy="89.1" r="1.05"/><circle cx="258.0" cy="88.9" r="1.05"/><circle cx="251.3" cy="88.9" r="1.05"/><circle cx="257.3" cy="88.6" r="1.05"/><circle cx="261.6" cy="88.4" r="1.05"/><circle cx="250.4" cy="88.4" r="1.05"/><circle cx="259.5" cy="88.3" r="1.05"/><circle cx="248.9" cy="88.2" r="1.05"/><circle cx="251.3" cy="88.2" r="1.05"/><circle cx="251.8" cy="88.1" r="1.05"/><circle cx="258.2" cy="88.0" r="1.05"/><circle cx="253.1" cy="88.0" r="1.05"/><circle cx="253.6" cy="87.9" r="1.05"/><circle cx="257.3" cy="87.9" r="1.05"/><circle cx="250.1" cy="87.9" r="1.05"/><circle cx="258.8" cy="87.8" r="1.05"/><circle cx="250.3" cy="87.8" r="1.05"/><circle cx="255.7" cy="87.6" r="1.05"/><circle cx="252.1" cy="87.6" r="1.05"/><circle cx="251.4" cy="87.2" r="1.05"/><circle cx="256.0" cy="87.2" r="1.05"/><circle cx="254.7" cy="87.2" r="1.05"/><circle cx="260.4" cy="86.7" r="1.05"/><circle cx="253.9" cy="86.7" r="1.05"/><circle cx="254.4" cy="86.7" r="1.05"/><circle cx="256.0" cy="86.6" r="1.05"/><circle cx="250.8" cy="86.5" r="1.05"/><circle cx="251.5" cy="86.4" r="1.05"/><circle cx="257.4" cy="86.3" r="1.05"/><circle cx="257.5" cy="86.2" r="1.05"/><circle cx="256.0" cy="86.0" r="1.05"/><circle cx="262.0" cy="85.9" r="1.05"/><circle cx="249.2" cy="85.8" r="1.05"/><circle cx="260.5" cy="85.7" r="1.05"/><circle cx="257.2" cy="85.7" r="1.05"/><circle cx="260.6" cy="85.7" r="1.05"/><circle cx="251.9" cy="85.7" r="1.05"/><circle cx="259.0" cy="85.7" r="1.05"/><circle cx="259.9" cy="85.5" r="1.05"/><circle cx="261.2" cy="85.4" r="1.05"/><circle cx="253.0" cy="85.4" r="1.05"/><circle cx="253.0" cy="85.3" r="1.05"/><circle cx="261.5" cy="85.3" r="1.05"/><circle cx="251.7" cy="85.0" r="1.05"/><circle cx="262.6" cy="84.9" r="1.05"/><circle cx="254.8" cy="84.5" r="1.05"/><circle cx="261.0" cy="84.5" r="1.05"/><circle cx="250.5" cy="84.4" r="1.05"/><circle cx="252.0" cy="84.4" r="1.05"/><circle cx="258.8" cy="84.4" r="1.05"/><circle cx="252.2" cy="84.3" r="1.05"/><circle cx="250.0" cy="84.1" r="1.05"/><circle cx="260.3" cy="83.9" r="1.05"/><circle cx="254.5" cy="83.9" r="1.05"/><circle cx="256.4" cy="83.8" r="1.05"/><circle cx="259.7" cy="83.8" r="1.05"/><circle cx="250.4" cy="83.1" r="1.05"/><circle cx="258.0" cy="82.7" r="1.05"/><circle cx="255.6" cy="82.0" r="1.05"/><circle cx="253.2" cy="81.9" r="1.05"/><circle cx="259.6" cy="81.8" r="1.05"/><circle cx="250.8" cy="81.4" r="1.05"/><circle cx="257.2" cy="80.8" r="1.05"/><circle cx="261.2" cy="80.8" r="1.05"/><circle cx="254.8" cy="80.4" r="1.05"/><circle cx="258.8" cy="80.0" r="1.05"/><circle cx="255.6" cy="78.7" r="1.05"/><circle cx="253.2" cy="78.7" r="1.05"/><circle cx="260.4" cy="78.7" r="1.05"/><circle cx="257.2" cy="77.5" r="1.05"/><circle cx="254.8" cy="77.0" r="1.05"/><circle cx="255.6" cy="75.3" r="1.05"/><circle cx="256.4" cy="73.5" r="1.05"/><circle cx="255.6" cy="68.4" r="1.05"/><circle cx="258.0" cy="67.9" r="1.05"/><circle cx="255.6" cy="62.2" r="1.05"/><circle cx="255.6" cy="53.1" r="1.05"/></g>
<g fill="#1c4e8c"><circle cx="273.1" cy="101.4" r="1.05"/><circle cx="275.5" cy="101.4" r="1.05"/><circle cx="270.7" cy="101.4" r="1.05"/><circle cx="277.9" cy="101.3" r="1.05"/><circle cx="269.1" cy="100.0" r="1.05"/><circle cx="279.5" cy="100.0" r="1.05"/><circle cx="273.1" cy="99.6" r="1.05"/><circle cx="275.5" cy="98.9" r="1.05"/><circle cx="273.9" cy="98.0" r="1.05"/><circle cx="271.5" cy="98.0" r="1.05"/><circle cx="277.1" cy="97.7" r="1.05"/><circle cx="269.1" cy="97.7" r="1.05"/><circle cx="279.5" cy="97.3" r="1.05"/><circle cx="266.7" cy="97.2" r="1.05"/><circle cx="275.5" cy="97.0" r="1.05"/><circle cx="271.7" cy="96.7" r="1.05"/><circle cx="275.7" cy="96.6" r="1.05"/><circle cx="266.3" cy="96.6" r="1.05"/><circle cx="268.9" cy="96.6" r="1.05"/><circle cx="275.7" cy="96.3" r="1.05"/><circle cx="278.9" cy="96.3" r="1.05"/><circle cx="279.7" cy="96.3" r="1.05"/><circle cx="273.9" cy="96.2" r="1.05"/><circle cx="267.7" cy="95.9" r="1.05"/><circle cx="270.7" cy="95.3" r="1.05"/><circle cx="277.1" cy="95.1" r="1.05"/><circle cx="273.2" cy="94.8" r="1.05"/><circle cx="276.7" cy="94.7" r="1.05"/><circle cx="269.1" cy="94.5" r="1.05"/><circle cx="279.5" cy="94.4" r="1.05"/><circle cx="266.7" cy="94.3" r="1.05"/><circle cx="273.1" cy="94.3" r="1.05"/><circle cx="275.7" cy="94.3" r="1.05"/><circle cx="268.7" cy="94.0" r="1.05"/><circle cx="267.1" cy="94.0" r="1.05"/><circle cx="267.6" cy="93.8" r="1.05"/><circle cx="271.5" cy="93.5" r="1.05"/><circle cx="266.6" cy="93.5" r="1.05"/><circle cx="277.9" cy="93.3" r="1.05"/><circle cx="273.8" cy="93.2" r="1.05"/><circle cx="273.3" cy="92.9" r="1.05"/><circle cx="274.1" cy="92.8" r="1.05"/><circle cx="268.2" cy="92.8" r="1.05"/><circle cx="268.7" cy="92.7" r="1.05"/><circle cx="276.3" cy="92.5" r="1.05"/><circle cx="279.5" cy="92.4" r="1.05"/><circle cx="269.0" cy="92.4" r="1.05"/><circle cx="277.9" cy="92.3" r="1.05"/><circle cx="280.0" cy="92.3" r="1.05"/><circle cx="279.1" cy="92.2" r="1.05"/><circle cx="271.5" cy="91.8" r="1.05"/><circle cx="266.7" cy="91.7" r="1.05"/><circle cx="267.4" cy="91.7" r="1.05"/><circle cx="267.0" cy="91.5" r="1.05"/><circle cx="279.4" cy="91.5" r="1.05"/><circle cx="272.6" cy="91.5" r="1.05"/><circle cx="276.8" cy="91.4" r="1.05"/><circle cx="270.7" cy="91.4" r="1.05"/><circle cx="272.6" cy="91.3" r="1.05"/><circle cx="273.3" cy="91.3" r="1.05"/><circle cx="272.1" cy="91.2" r="1.05"/><circle cx="274.5" cy="91.1" r="1.05"/><circle cx="266.3" cy="91.1" r="1.05"/><circle cx="275.9" cy="90.9" r="1.05"/><circle cx="277.9" cy="90.9" r="1.05"/><circle cx="268.6" cy="90.9" r="1.05"/><circle cx="272.5" cy="90.9" r="1.05"/><circle cx="276.5" cy="90.8" r="1.05"/><circle cx="271.8" cy="90.8" r="1.05"/><circle cx="268.8" cy="90.7" r="1.05"/><circle cx="268.4" cy="90.6" r="1.05"/><circle cx="273.3" cy="90.6" r="1.05"/><circle cx="266.3" cy="90.5" r="1.05"/><circle cx="278.6" cy="90.4" r="1.05"/><circle cx="277.3" cy="90.4" r="1.05"/><circle cx="276.0" cy="90.4" r="1.05"/><circle cx="278.2" cy="90.4" r="1.05"/><circle cx="274.9" cy="90.3" r="1.05"/><circle cx="271.8" cy="90.3" r="1.05"/><circle cx="274.5" cy="90.0" r="1.05"/><circle cx="273.2" cy="89.9" r="1.05"/><circle cx="279.9" cy="89.9" r="1.05"/><circle cx="277.4" cy="89.6" r="1.05"/><circle cx="269.7" cy="89.6" r="1.05"/><circle cx="278.9" cy="89.6" r="1.05"/><circle cx="276.5" cy="89.6" r="1.05"/><circle cx="277.0" cy="89.3" r="1.05"/><circle cx="277.5" cy="89.2" r="1.05"/><circle cx="271.8" cy="89.1" r="1.05"/><circle cx="267.5" cy="89.1" r="1.05"/><circle cx="278.7" cy="89.1" r="1.05"/><circle cx="278.4" cy="89.1" r="1.05"/><circle cx="275.8" cy="89.0" r="1.05"/><circle cx="276.8" cy="89.0" r="1.05"/><circle cx="276.8" cy="88.9" r="1.05"/><circle cx="271.8" cy="88.9" r="1.05"/><circle cx="276.2" cy="88.7" r="1.05"/><circle cx="267.1" cy="88.7" r="1.05"/><circle cx="270.9" cy="88.7" r="1.05"/><circle cx="272.7" cy="88.7" r="1.05"/><circle cx="266.2" cy="88.7" r="1.05"/><circle cx="271.1" cy="88.6" r="1.05"/><circle cx="275.0" cy="88.5" r="1.05"/><circle cx="274.8" cy="88.3" r="1.05"/><circle cx="269.3" cy="88.1" r="1.05"/><circle cx="279.3" cy="88.1" r="1.05"/><circle cx="275.4" cy="88.1" r="1.05"/><circle cx="270.8" cy="88.1" r="1.05"/><circle cx="275.3" cy="87.9" r="1.05"/><circle cx="274.1" cy="87.9" r="1.05"/><circle cx="273.6" cy="87.7" r="1.05"/><circle cx="271.6" cy="87.7" r="1.05"/><circle cx="280.1" cy="87.6" r="1.05"/><circle cx="275.1" cy="87.6" r="1.05"/><circle cx="275.9" cy="87.5" r="1.05"/><circle cx="276.8" cy="87.4" r="1.05"/><circle cx="279.8" cy="87.4" r="1.05"/><circle cx="266.4" cy="87.4" r="1.05"/><circle cx="274.7" cy="87.4" r="1.05"/><circle cx="276.4" cy="87.4" r="1.05"/><circle cx="269.7" cy="87.4" r="1.05"/><circle cx="271.7" cy="87.2" r="1.05"/><circle cx="266.8" cy="87.1" r="1.05"/><circle cx="268.8" cy="87.1" r="1.05"/><circle cx="271.4" cy="86.6" r="1.05"/><circle cx="267.5" cy="86.6" r="1.05"/><circle cx="269.6" cy="86.5" r="1.05"/><circle cx="278.8" cy="86.2" r="1.05"/><circle cx="273.8" cy="86.2" r="1.05"/><circle cx="273.2" cy="86.1" r="1.05"/><circle cx="279.6" cy="86.1" r="1.05"/><circle cx="274.1" cy="86.1" r="1.05"/><circle cx="280.0" cy="86.0" r="1.05"/><circle cx="275.0" cy="85.9" r="1.05"/><circle cx="277.4" cy="85.9" r="1.05"/><circle cx="267.2" cy="85.9" r="1.05"/><circle cx="274.5" cy="85.8" r="1.05"/><circle cx="276.7" cy="85.7" r="1.05"/><circle cx="266.7" cy="85.5" r="1.05"/><circle cx="279.1" cy="85.5" r="1.05"/><circle cx="268.3" cy="85.5" r="1.05"/><circle cx="272.7" cy="85.4" r="1.05"/><circle cx="268.5" cy="85.4" r="1.05"/><circle cx="273.0" cy="85.4" r="1.05"/><circle cx="274.7" cy="85.3" r="1.05"/><circle cx="266.9" cy="85.3" r="1.05"/><circle cx="279.3" cy="85.2" r="1.05"/><circle cx="272.0" cy="85.2" r="1.05"/><circle cx="273.5" cy="85.2" r="1.05"/><circle cx="274.5" cy="85.2" r="1.05"/><circle cx="271.2" cy="85.1" r="1.05"/><circle cx="270.1" cy="85.1" r="1.05"/><circle cx="275.3" cy="85.1" r="1.05"/><circle cx="273.9" cy="85.0" r="1.05"/><circle cx="270.1" cy="84.7" r="1.05"/><circle cx="276.1" cy="84.5" r="1.05"/><circle cx="270.2" cy="84.4" r="1.05"/><circle cx="266.3" cy="84.4" r="1.05"/><circle cx="269.5" cy="84.4" r="1.05"/><circle cx="277.9" cy="84.1" r="1.05"/><circle cx="266.7" cy="83.9" r="1.05"/><circle cx="268.3" cy="83.9" r="1.05"/><circle cx="276.7" cy="83.5" r="1.05"/><circle cx="273.1" cy="83.4" r="1.05"/><circle cx="279.5" cy="83.3" r="1.05"/><circle cx="271.6" cy="83.3" r="1.05"/><circle cx="278.7" cy="83.0" r="1.05"/><circle cx="276.6" cy="83.0" r="1.05"/><circle cx="266.8" cy="83.0" r="1.05"/><circle cx="279.9" cy="82.9" r="1.05"/><circle cx="279.3" cy="82.9" r="1.05"/><circle cx="267.1" cy="82.9" r="1.05"/><circle cx="278.8" cy="82.7" r="1.05"/><circle cx="274.7" cy="82.6" r="1.05"/><circle cx="269.9" cy="82.5" r="1.05"/><circle cx="272.1" cy="82.3" r="1.05"/><circle cx="272.8" cy="82.3" r="1.05"/><circle cx="279.7" cy="82.2" r="1.05"/><circle cx="269.5" cy="82.1" r="1.05"/><circle cx="273.4" cy="82.1" r="1.05"/><circle cx="279.2" cy="81.9" r="1.05"/><circle cx="276.2" cy="81.9" r="1.05"/><circle cx="272.7" cy="81.8" r="1.05"/><circle cx="279.8" cy="81.8" r="1.05"/><circle cx="277.5" cy="81.7" r="1.05"/><circle cx="274.6" cy="81.6" r="1.05"/><circle cx="267.7" cy="81.6" r="1.05"/><circle cx="274.8" cy="81.5" r="1.05"/><circle cx="272.5" cy="81.4" r="1.05"/><circle cx="269.0" cy="81.3" r="1.05"/><circle cx="266.8" cy="81.2" r="1.05"/><circle cx="273.5" cy="81.1" r="1.05"/><circle cx="267.8" cy="81.1" r="1.05"/><circle cx="272.3" cy="81.0" r="1.05"/><circle cx="275.5" cy="80.9" r="1.05"/><circle cx="272.5" cy="80.9" r="1.05"/><circle cx="269.8" cy="80.9" r="1.05"/><circle cx="274.3" cy="80.8" r="1.05"/><circle cx="272.0" cy="80.3" r="1.05"/><circle cx="277.0" cy="80.3" r="1.05"/><circle cx="273.5" cy="80.3" r="1.05"/><circle cx="280.1" cy="80.3" r="1.05"/><circle cx="279.4" cy="80.1" r="1.05"/><circle cx="276.4" cy="79.8" r="1.05"/><circle cx="269.4" cy="79.7" r="1.05"/><circle cx="267.7" cy="79.7" r="1.05"/><circle cx="278.6" cy="79.6" r="1.05"/><circle cx="277.1" cy="79.6" r="1.05"/><circle cx="274.8" cy="79.1" r="1.05"/><circle cx="271.1" cy="79.1" r="1.05"/><circle cx="269.9" cy="79.0" r="1.05"/><circle cx="275.7" cy="79.0" r="1.05"/><circle cx="274.0" cy="79.0" r="1.05"/><circle cx="274.4" cy="78.8" r="1.05"/><circle cx="275.0" cy="78.5" r="1.05"/><circle cx="276.6" cy="78.4" r="1.05"/><circle cx="266.7" cy="78.3" r="1.05"/><circle cx="278.7" cy="77.8" r="1.05"/><circle cx="272.3" cy="77.7" r="1.05"/><circle cx="268.8" cy="77.7" r="1.05"/><circle cx="269.6" cy="77.6" r="1.05"/><circle cx="279.8" cy="77.5" r="1.05"/><circle cx="278.9" cy="77.5" r="1.05"/><circle cx="278.4" cy="77.1" r="1.05"/><circle cx="273.9" cy="76.9" r="1.05"/><circle cx="266.7" cy="76.8" r="1.05"/><circle cx="276.3" cy="76.6" r="1.05"/><circle cx="267.0" cy="76.3" r="1.05"/><circle cx="269.9" cy="76.3" r="1.05"/><circle cx="272.3" cy="75.7" r="1.05"/><circle cx="274.7" cy="75.0" r="1.05"/><circle cx="277.1" cy="74.8" r="1.05"/><circle cx="270.7" cy="74.2" r="1.05"/><circle cx="273.1" cy="73.8" r="1.05"/><circle cx="268.3" cy="73.6" r="1.05"/><circle cx="274.7" cy="73.0" r="1.05"/><circle cx="272.3" cy="72.2" r="1.05"/><circle cx="273.9" cy="71.1" r="1.05"/><circle cx="272.3" cy="69.6" r="1.05"/><circle cx="275.5" cy="69.6" r="1.05"/><circle cx="273.9" cy="68.4" r="1.05"/><circle cx="273.1" cy="66.7" r="1.05"/><circle cx="273.1" cy="64.5" r="1.05"/><circle cx="273.1" cy="62.2" r="1.05"/><circle cx="273.1" cy="59.9" r="1.05"/><circle cx="273.1" cy="57.7" r="1.05"/><circle cx="273.1" cy="54.3" r="1.05"/><circle cx="273.1" cy="50.8" r="1.05"/><circle cx="273.1" cy="46.3" r="1.05"/></g>
<line x1="249" y1="85.1" x2="262" y2="85.1" stroke="#333" stroke-width="0.8"/>
<line x1="266.5" y1="82" x2="279.5" y2="82" stroke="#333" stroke-width="0.8"/>
<line x1="245.3" y1="107.6" x2="282.7" y2="107.6" stroke="#231f20" stroke-width="1.3"/>
<line x1="245.4" y1="35" x2="245.4" y2="108.2" stroke="#231f20" stroke-width="1"/>
<line x1="242" y1="39.5" x2="245.4" y2="39.5" stroke="#231f20" stroke-width="0.9"/>
<text x="240.5" y="42.75" font-size="9.12" stroke="#231f20" stroke-width="0.13" text-anchor="end" textLength="13.4" lengthAdjust="spacingAndGlyphs">600</text>
<line x1="242" y1="62.4" x2="245.4" y2="62.4" stroke="#231f20" stroke-width="0.9"/>
<text x="240.5" y="65.65" font-size="9.12" stroke="#231f20" stroke-width="0.13" text-anchor="end" textLength="13.4" lengthAdjust="spacingAndGlyphs">400</text>
<line x1="242" y1="85.1" x2="245.4" y2="85.1" stroke="#231f20" stroke-width="0.9"/>
<text x="240.5" y="88.35" font-size="9.12" stroke="#231f20" stroke-width="0.13" text-anchor="end" textLength="13.4" lengthAdjust="spacingAndGlyphs">200</text>
<line x1="242" y1="107.6" x2="245.4" y2="107.6" stroke="#231f20" stroke-width="0.9"/>
<text x="240.5" y="110.85" font-size="9.12" stroke="#231f20" stroke-width="0.13" text-anchor="end" textLength="4.65" lengthAdjust="spacingAndGlyphs">0</text>
<line x1="255.6" y1="107.6" x2="255.6" y2="110.2" stroke="#231f20" stroke-width="0.9"/>
<line x1="273.1" y1="107.6" x2="273.1" y2="110.2" stroke="#231f20" stroke-width="0.9"/>
<text transform="translate(212.2 72.6) rotate(-90)" font-size="10.26" stroke="#231f20" stroke-width="0.16" text-anchor="middle" textLength="58" lengthAdjust="spacingAndGlyphs">Anti-MSI2 protein</text>
<text transform="translate(222.6 73.2) rotate(-90)" font-size="10.26" stroke="#231f20" stroke-width="0.16" text-anchor="middle" textLength="91" lengthAdjust="spacingAndGlyphs">fluorescence intensity (a.u.)</text>
<text transform="translate(259 117.5) rotate(-45)" font-size="8.36" stroke="#231f20" stroke-width="0.09" text-anchor="end" textLength="19" lengthAdjust="spacingAndGlyphs">Cntrl</text>
<text transform="translate(276.8 118) rotate(-45)" font-size="8.36" stroke="#231f20" stroke-width="0.09" text-anchor="end" textLength="32" lengthAdjust="spacingAndGlyphs">PLAG1-S</text>
<text x="295.7" y="15.1" font-size="10.4" font-weight="bold" fill="#000" textLength="8.3" lengthAdjust="spacingAndGlyphs">C</text>
<text x="336.8" y="25.5" font-size="9.46" stroke="#231f20" stroke-width="0.09" textLength="58.2" lengthAdjust="spacingAndGlyphs">Lin<tspan font-size="65%" baseline-shift="super">−</tspan> cord blood</text>
<rect x="344.5" y="38.9" width="15.9" height="45.7" fill="#1a5289"/>
<rect x="371" y="38.9" width="15.9" height="26.5" fill="#1a5289"/>
<line x1="352.4" y1="84.6" x2="352.4" y2="95.3" stroke="#231f20" stroke-width="0.9"/>
<line x1="350.6" y1="95.3" x2="354.2" y2="95.3" stroke="#231f20" stroke-width="0.9"/>
<line x1="379" y1="65.4" x2="379" y2="76.9" stroke="#231f20" stroke-width="0.9"/>
<line x1="377.2" y1="76.9" x2="380.8" y2="76.9" stroke="#231f20" stroke-width="0.9"/>
<text x="352.4" y="104.68" font-size="9.2" stroke="#231f20" stroke-width="0.09" text-anchor="middle">***</text>
<text x="379" y="104.68" font-size="9.2" stroke="#231f20" stroke-width="0.09" text-anchor="middle">***</text>
<line x1="339.4" y1="38.9" x2="392.9" y2="38.9" stroke="#231f20" stroke-width="1.4"/>
<line x1="339.4" y1="107.6" x2="392.4" y2="107.6" stroke="#231f20" stroke-width="1.3"/>
<line x1="339.4" y1="36.5" x2="339.4" y2="108.2" stroke="#231f20" stroke-width="1"/>
<line x1="336.2" y1="38.8" x2="339.4" y2="38.8" stroke="#231f20" stroke-width="0.9"/>
<text x="334.8" y="42.05" font-size="9.12" stroke="#231f20" stroke-width="0.13" text-anchor="end" textLength="12" lengthAdjust="spacingAndGlyphs">0.0</text>
<line x1="336.2" y1="60.8" x2="339.4" y2="60.8" stroke="#231f20" stroke-width="0.9"/>
<text x="334.8" y="64.05" font-size="9.12" stroke="#231f20" stroke-width="0.13" text-anchor="end" textLength="16.5" lengthAdjust="spacingAndGlyphs">−0.5</text>
<line x1="336.2" y1="82.8" x2="339.4" y2="82.8" stroke="#231f20" stroke-width="0.9"/>
<text x="334.8" y="86.05" font-size="9.12" stroke="#231f20" stroke-width="0.13" text-anchor="end" textLength="16.5" lengthAdjust="spacingAndGlyphs">−1.0</text>
<line x1="336.2" y1="104.8" x2="339.4" y2="104.8" stroke="#231f20" stroke-width="0.9"/>
<text x="334.8" y="108.05" font-size="9.12" stroke="#231f20" stroke-width="0.13" text-anchor="end" textLength="16.5" lengthAdjust="spacingAndGlyphs">−1.5</text>
<line x1="352.4" y1="107.6" x2="352.4" y2="110.2" stroke="#231f20" stroke-width="0.9"/>
<text x="352.4" y="119.6" font-size="9.36" stroke="#231f20" stroke-width="0.13" text-anchor="middle" textLength="4.77" lengthAdjust="spacingAndGlyphs">2</text>
<line x1="379" y1="107.6" x2="379" y2="110.2" stroke="#231f20" stroke-width="0.9"/>
<text x="379" y="119.6" font-size="9.36" stroke="#231f20" stroke-width="0.13" text-anchor="middle" textLength="4.77" lengthAdjust="spacingAndGlyphs">4</text>
<text x="365.7" y="132" font-size="10.8" stroke="#231f20" stroke-width="0.16" text-anchor="middle" textLength="48.2" lengthAdjust="spacingAndGlyphs">Days in culture</text>
<text transform="translate(303.3 72) rotate(-90)" font-size="10.26" stroke="#231f20" stroke-width="0.16" text-anchor="middle" textLength="84" lengthAdjust="spacingAndGlyphs">Change in vst-normalized</text>
<text transform="translate(315.2 72) rotate(-90)" font-size="10.26" stroke="#231f20" stroke-width="0.16" text-anchor="middle" textLength="59.5" lengthAdjust="spacingAndGlyphs"><tspan font-style="italic">PLAG1</tspan> expression</text>
<text x="440.4" y="25.4" font-size="9.46" stroke="#231f20" stroke-width="0.09" textLength="73.1" lengthAdjust="spacingAndGlyphs">Cord blood LT-HSC</text>
<line x1="457.7" y1="43.8" x2="457.7" y2="76.2" stroke="#555" stroke-width="0.9"/>
<rect x="448" y="48.5" width="19.4" height="15" fill="#7ea3c7"/>
<line x1="448" y1="51.5" x2="467.4" y2="51.5" stroke="#111" stroke-width="1.3"/>
<circle cx="457.7" cy="43.8" r="1.5" fill="#1c4e8c"/>
<circle cx="457.7" cy="51.5" r="1.5" fill="#1c4e8c"/>
<circle cx="457.7" cy="76.2" r="1.5" fill="#1c4e8c"/>
<line x1="492.5" y1="77.8" x2="492.5" y2="104.5" stroke="#555" stroke-width="0.9"/>
<rect x="483" y="88.4" width="19.2" height="12.4" fill="#7ea3c7"/>
<line x1="483" y1="97.2" x2="502.2" y2="97.2" stroke="#111" stroke-width="1.3"/>
<circle cx="492.5" cy="77.8" r="1.5" fill="#1c4e8c"/>
<circle cx="492.5" cy="97.2" r="1.5" fill="#1c4e8c"/>
<circle cx="492.5" cy="104.5" r="1.5" fill="#1c4e8c"/>
<polyline points="457.7,40.3 457.7,37.6 492.5,37.6 492.5,40.3" fill="none" stroke="#231f20" stroke-width="0.9"/>
<text x="475.1" y="37.78" font-size="9.2" stroke="#231f20" stroke-width="0.09" text-anchor="middle">*</text>
<text x="491" y="53" font-size="7.2" stroke="#231f20" stroke-width="0.09" text-anchor="middle" textLength="19" lengthAdjust="spacingAndGlyphs">DEseq</text>
<text x="490.6" y="59.3" font-size="7.2" stroke="#231f20" stroke-width="0.09" text-anchor="middle" textLength="35.8" lengthAdjust="spacingAndGlyphs">Log2FC: −1.12</text>
<text x="490.6" y="65.3" font-size="7.2" stroke="#231f20" stroke-width="0.09" text-anchor="middle" textLength="31" lengthAdjust="spacingAndGlyphs">FDR: 0.0066</text>
<line x1="443.8" y1="35.8" x2="443.8" y2="108.9" stroke="#231f20" stroke-width="1"/>
<line x1="443.8" y1="108.5" x2="510.5" y2="108.5" stroke="#231f20" stroke-width="1.3"/>
<line x1="440.6" y1="38.8" x2="443.8" y2="38.8" stroke="#231f20" stroke-width="0.9"/>
<text x="439.2" y="42.05" font-size="9.12" stroke="#231f20" stroke-width="0.13" text-anchor="end" textLength="16.3" lengthAdjust="spacingAndGlyphs">10.5</text>
<line x1="440.6" y1="58.4" x2="443.8" y2="58.4" stroke="#231f20" stroke-width="0.9"/>
<text x="439.2" y="61.65" font-size="9.12" stroke="#231f20" stroke-width="0.13" text-anchor="end" textLength="16.3" lengthAdjust="spacingAndGlyphs">10.0</text>
<line x1="440.6" y1="77.8" x2="443.8" y2="77.8" stroke="#231f20" stroke-width="0.9"/>
<text x="439.2" y="81.05" font-size="9.12" stroke="#231f20" stroke-width="0.13" text-anchor="end" textLength="12" lengthAdjust="spacingAndGlyphs">9.5</text>
<line x1="440.6" y1="97.2" x2="443.8" y2="97.2" stroke="#231f20" stroke-width="0.9"/>
<text x="439.2" y="100.45" font-size="9.12" stroke="#231f20" stroke-width="0.13" text-anchor="end" textLength="12" lengthAdjust="spacingAndGlyphs">9.0</text>
<line x1="457.7" y1="108.5" x2="457.7" y2="111.1" stroke="#231f20" stroke-width="0.9"/>
<line x1="492.5" y1="108.5" x2="492.5" y2="111.1" stroke="#231f20" stroke-width="0.9"/>
<text transform="translate(407.4 69.2) rotate(-90)" font-size="10.26" stroke="#231f20" stroke-width="0.16" text-anchor="middle" textLength="50.8" lengthAdjust="spacingAndGlyphs">Vst-normalized</text>
<text transform="translate(418.8 71.5) rotate(-90)" font-size="10.26" stroke="#231f20" stroke-width="0.16" text-anchor="middle" textLength="59.5" lengthAdjust="spacingAndGlyphs"><tspan font-style="italic">PLAG1</tspan> expression</text>
<text transform="translate(461.5 116.5) rotate(-45)" font-size="8.36" stroke="#231f20" stroke-width="0.09" text-anchor="end" textLength="41" lengthAdjust="spacingAndGlyphs">Uncultured</text>
<text transform="translate(496.3 116.5) rotate(-45)" font-size="8.36" stroke="#231f20" stroke-width="0.09" text-anchor="end" textLength="46.5" lengthAdjust="spacingAndGlyphs">72h-cultured</text>
<text x="7.2" y="189.2" font-size="10.4" font-weight="bold" fill="#000" textLength="9" lengthAdjust="spacingAndGlyphs">D</text>
<text x="8.9" y="199.9" font-size="7.74" stroke="#231f20" stroke-width="0.06" textLength="36.5" lengthAdjust="spacingAndGlyphs">CD34<tspan font-size="65%" baseline-shift="super">+</tspan> FACS</text>
<text x="8.9" y="207.6" font-size="7.74" stroke="#231f20" stroke-width="0.06" textLength="24" lengthAdjust="spacingAndGlyphs">lentiviral</text>
<text x="8.9" y="215.2" font-size="7.74" stroke="#231f20" stroke-width="0.06" textLength="35.7" lengthAdjust="spacingAndGlyphs">transduction</text>
<line x1="21.1" y1="217.3" x2="21.1" y2="228.5" stroke="#231f20" stroke-width="0.9"/>
<line x1="21.1" y1="222.3" x2="65.8" y2="222.3" stroke="#231f20" stroke-width="0.9"/>
<path d="M171.1 212.7 V206.9 H67.6 Q65.8 206.9 65.8 208.7 V236.7 Q65.8 238.5 67.6 238.5 H154.7 V245" fill="none" stroke="#231f20" stroke-width="0.9"/>
<line x1="114.6" y1="238.5" x2="114.6" y2="245.4" stroke="#231f20" stroke-width="0.9"/>
<line x1="122.8" y1="238.5" x2="122.8" y2="245.4" stroke="#231f20" stroke-width="0.9"/>
<text x="67.7" y="195.8" font-size="7.74" stroke="#231f20" stroke-width="0.06" textLength="25" lengthAdjust="spacingAndGlyphs">Input flow</text>
<text x="67.7" y="203.4" font-size="7.74" stroke="#231f20" stroke-width="0.06" textLength="42.3" lengthAdjust="spacingAndGlyphs">xenotransplant</text>
<text x="68" y="227.7" font-size="7.74" stroke="#231f20" stroke-width="0.06" textLength="14" lengthAdjust="spacingAndGlyphs">BFP<tspan font-size="65%" baseline-shift="super">+</tspan></text>
<text x="68" y="235.7" font-size="7.74" stroke="#231f20" stroke-width="0.06" textLength="15.5" lengthAdjust="spacingAndGlyphs">FACS</text>
<text x="92.3" y="228" font-size="7.74" stroke="#231f20" stroke-width="0.06" textLength="52.7" lengthAdjust="spacingAndGlyphs">Suspension culture</text>
<text x="92.3" y="235.7" font-size="7.74" stroke="#231f20" stroke-width="0.06" textLength="41.7" lengthAdjust="spacingAndGlyphs">measurements</text>
<text x="158.8" y="195.4" font-size="7.74" stroke="#231f20" stroke-width="0.06" textLength="43.5" lengthAdjust="spacingAndGlyphs">Xenotransplant</text>
<text x="158.8" y="202.3" font-size="7.74" stroke="#231f20" stroke-width="0.06" textLength="24.5" lengthAdjust="spacingAndGlyphs">endpoint</text>
<text x="160.5" y="219.6" font-size="7.74" stroke="#231f20" stroke-width="0.06" textLength="24.9" lengthAdjust="spacingAndGlyphs">Week 16</text>
<text x="148.5" y="235.8" font-size="7.74" stroke="#231f20" stroke-width="0.06" textLength="32.3" lengthAdjust="spacingAndGlyphs">CFU counts</text>
<text x="10" y="253.5" font-size="7.74" stroke="#231f20" stroke-width="0.06" textLength="19.2" lengthAdjust="spacingAndGlyphs">Day −3</text>
<text x="58.5" y="253.5" font-size="7.74" stroke="#231f20" stroke-width="0.06" textLength="16.1" lengthAdjust="spacingAndGlyphs">Day 0</text>
<text x="101.2" y="253.5" font-size="7.74" stroke="#231f20" stroke-width="0.06" textLength="24.2" lengthAdjust="spacingAndGlyphs">Day 4&amp;7</text>
<text x="145" y="253.3" font-size="7.74" stroke="#231f20" stroke-width="0.06" textLength="19.6" lengthAdjust="spacingAndGlyphs">Day 14</text>
<polygon points="40.5,276.35 84.2,276.35 78.8,281.3 84.2,286.25 40.5,286.25" fill="#1c5a97"/>
<polygon points="79.8,281.3 90,271.5 90,276.35 112,276.35 112,286.25 90,286.25 90,290.9" fill="#c8102e"/>
<polygon points="112.8,276.35 135.3,276.35 135.3,271.1 146.2,281.3 135.3,291.1 135.3,286.25 112.8,286.25" fill="#c8102e"/>
<polygon points="141.6,276.35 185,276.35 185,286.25 141.6,286.25 147.2,281.3" fill="#c8102e"/>
<text x="61.9" y="283.9" font-size="7.84" stroke="#fff" stroke-width="0.06" text-anchor="middle" fill="#fff" textLength="29" lengthAdjust="spacingAndGlyphs">mtag BFP</text>
<text x="98.9" y="283.9" font-size="7.84" stroke="#fff" stroke-width="0.06" text-anchor="middle" fill="#fff" textLength="23.5" lengthAdjust="spacingAndGlyphs">CMVmin</text>
<text x="125.2" y="283.9" font-size="7.84" stroke="#fff" stroke-width="0.06" text-anchor="middle" fill="#fff" textLength="15.5" lengthAdjust="spacingAndGlyphs">SFFV</text>
<text x="161" y="283.9" font-size="7.84" stroke="#fff" stroke-width="0.06" text-anchor="middle" fill="#fff" textLength="19.5" lengthAdjust="spacingAndGlyphs">PLAG1</text>
<polygon points="40.5,301.35 84.2,301.35 78.8,306.3 84.2,311.25 40.5,311.25" fill="#1c5a97"/>
<polygon points="79.8,306.3 90,296.5 90,301.35 112,301.35 112,311.25 90,311.25 90,315.9" fill="#c8102e"/>
<polygon points="112.8,301.35 135.3,301.35 135.3,296.1 146.2,306.3 135.3,316.1 135.3,311.25 112.8,311.25" fill="#c8102e"/>
<polygon points="141.6,301.35 185,301.35 185,311.25 141.6,311.25 147.2,306.3" fill="#c8102e"/>
<text x="61.9" y="308.9" font-size="7.84" stroke="#fff" stroke-width="0.06" text-anchor="middle" fill="#fff" textLength="29" lengthAdjust="spacingAndGlyphs">mtag BFP</text>
<text x="98.9" y="308.9" font-size="7.84" stroke="#fff" stroke-width="0.06" text-anchor="middle" fill="#fff" textLength="23.5" lengthAdjust="spacingAndGlyphs">CMVmin</text>
<text x="125.2" y="308.9" font-size="7.84" stroke="#fff" stroke-width="0.06" text-anchor="middle" fill="#fff" textLength="15.5" lengthAdjust="spacingAndGlyphs">SFFV</text>
<text x="164.2" y="308.9" font-size="7.84" stroke="#fff" stroke-width="0.06" text-anchor="middle" fill="#fff" textLength="29.5" lengthAdjust="spacingAndGlyphs">Luciferase</text>
<text x="217.3" y="189.7" font-size="10.4" font-weight="bold" fill="#000" textLength="7" lengthAdjust="spacingAndGlyphs">E</text>
<rect x="249.7" y="302" width="5.4" height="21.5" fill="#c8102e"/>
<line x1="252.4" y1="302" x2="252.4" y2="299.9" stroke="#231f20" stroke-width="1"/>
<line x1="250.7" y1="299.9" x2="254.1" y2="299.9" stroke="#231f20" stroke-width="1"/>
<rect x="256.5" y="278.5" width="5.4" height="45" fill="#3bb54a"/>
<line x1="259.2" y1="278.5" x2="259.2" y2="276" stroke="#231f20" stroke-width="1"/>
<line x1="257.5" y1="276" x2="260.9" y2="276" stroke="#231f20" stroke-width="1"/>
<rect x="263.2" y="286.5" width="5.3" height="37" fill="#5b2a72"/>
<line x1="265.85" y1="286.5" x2="265.85" y2="279.1" stroke="#231f20" stroke-width="1"/>
<line x1="264.15" y1="279.1" x2="267.55" y2="279.1" stroke="#231f20" stroke-width="1"/>
<rect x="276" y="304.7" width="5.4" height="18.8" fill="#e88b9c"/>
<line x1="278.7" y1="304.7" x2="278.7" y2="303" stroke="#231f20" stroke-width="1"/>
<line x1="277" y1="303" x2="280.4" y2="303" stroke="#231f20" stroke-width="1"/>
<rect x="282.7" y="288" width="5.6" height="35.5" fill="#13548c"/>
<line x1="285.5" y1="288" x2="285.5" y2="284.4" stroke="#231f20" stroke-width="1"/>
<line x1="283.8" y1="284.4" x2="287.2" y2="284.4" stroke="#231f20" stroke-width="1"/>
<rect x="293.4" y="320.8" width="5.4" height="2.7" fill="#c8102e"/>
<line x1="296.1" y1="320.8" x2="296.1" y2="319.8" stroke="#231f20" stroke-width="1"/>
<line x1="294.4" y1="319.8" x2="297.8" y2="319.8" stroke="#231f20" stroke-width="1"/>
<rect x="300.2" y="321.4" width="5.4" height="2.1" fill="#3bb54a"/>
<line x1="302.9" y1="321.4" x2="302.9" y2="320.6" stroke="#231f20" stroke-width="1"/>
<line x1="301.2" y1="320.6" x2="304.6" y2="320.6" stroke="#231f20" stroke-width="1"/>
<rect x="306.9" y="316.5" width="5.3" height="7" fill="#5b2a72"/>
<line x1="309.55" y1="316.5" x2="309.55" y2="314.4" stroke="#231f20" stroke-width="1"/>
<line x1="307.85" y1="314.4" x2="311.25" y2="314.4" stroke="#231f20" stroke-width="1"/>
<rect x="319.7" y="319.8" width="5.4" height="3.7" fill="#e88b9c"/>
<line x1="322.4" y1="319.8" x2="322.4" y2="319" stroke="#231f20" stroke-width="1"/>
<line x1="320.7" y1="319" x2="324.1" y2="319" stroke="#231f20" stroke-width="1"/>
<rect x="326.4" y="320" width="5.6" height="3.5" fill="#13548c"/>
<line x1="329.2" y1="320" x2="329.2" y2="318.2" stroke="#231f20" stroke-width="1"/>
<line x1="327.5" y1="318.2" x2="330.9" y2="318.2" stroke="#231f20" stroke-width="1"/>
<rect x="338" y="317.3" width="5.4" height="6.2" fill="#c8102e"/>
<line x1="340.7" y1="317.3" x2="340.7" y2="314.7" stroke="#231f20" stroke-width="1"/>
<line x1="339" y1="314.7" x2="342.4" y2="314.7" stroke="#231f20" stroke-width="1"/>
<rect x="344.8" y="320.6" width="5.4" height="2.9" fill="#3bb54a"/>
<line x1="347.5" y1="320.6" x2="347.5" y2="319.8" stroke="#231f20" stroke-width="1"/>
<line x1="345.8" y1="319.8" x2="349.2" y2="319.8" stroke="#231f20" stroke-width="1"/>
<rect x="351.5" y="319" width="5.3" height="4.5" fill="#5b2a72"/>
<line x1="354.15" y1="319" x2="354.15" y2="317.6" stroke="#231f20" stroke-width="1"/>
<line x1="352.45" y1="317.6" x2="355.85" y2="317.6" stroke="#231f20" stroke-width="1"/>
<rect x="364.3" y="312.5" width="5.4" height="11" fill="#e88b9c"/>
<line x1="367" y1="312.5" x2="367" y2="309" stroke="#231f20" stroke-width="1"/>
<line x1="365.3" y1="309" x2="368.7" y2="309" stroke="#231f20" stroke-width="1"/>
<rect x="371" y="313.8" width="5.6" height="9.7" fill="#13548c"/>
<line x1="373.8" y1="313.8" x2="373.8" y2="311.7" stroke="#231f20" stroke-width="1"/>
<line x1="372.1" y1="311.7" x2="375.5" y2="311.7" stroke="#231f20" stroke-width="1"/>
<rect x="382.3" y="321.1" width="5.4" height="2.4" fill="#c8102e"/>
<line x1="385" y1="321.1" x2="385" y2="320.6" stroke="#231f20" stroke-width="1"/>
<line x1="383.3" y1="320.6" x2="386.7" y2="320.6" stroke="#231f20" stroke-width="1"/>
<rect x="389.1" y="320" width="5.4" height="3.5" fill="#3bb54a"/>
<line x1="391.8" y1="320" x2="391.8" y2="318.7" stroke="#231f20" stroke-width="1"/>
<line x1="390.1" y1="318.7" x2="393.5" y2="318.7" stroke="#231f20" stroke-width="1"/>
<rect x="395.8" y="318.4" width="5.3" height="5.1" fill="#5b2a72"/>
<line x1="398.45" y1="318.4" x2="398.45" y2="317.6" stroke="#231f20" stroke-width="1"/>
<line x1="396.75" y1="317.6" x2="400.15" y2="317.6" stroke="#231f20" stroke-width="1"/>
<rect x="408.6" y="320.8" width="5.4" height="2.7" fill="#e88b9c"/>
<line x1="411.3" y1="320.8" x2="411.3" y2="320" stroke="#231f20" stroke-width="1"/>
<line x1="409.6" y1="320" x2="413" y2="320" stroke="#231f20" stroke-width="1"/>
<rect x="415.3" y="320.8" width="5.6" height="2.7" fill="#13548c"/>
<line x1="418.1" y1="320.8" x2="418.1" y2="319.5" stroke="#231f20" stroke-width="1"/>
<line x1="416.4" y1="319.5" x2="419.8" y2="319.5" stroke="#231f20" stroke-width="1"/>
<rect x="426.4" y="298.8" width="5.4" height="24.7" fill="#c8102e"/>
<line x1="429.1" y1="298.8" x2="429.1" y2="298" stroke="#231f20" stroke-width="1"/>
<line x1="427.4" y1="298" x2="430.8" y2="298" stroke="#231f20" stroke-width="1"/>
<rect x="433.2" y="281.5" width="5.4" height="42" fill="#3bb54a"/>
<line x1="435.9" y1="281.5" x2="435.9" y2="273.1" stroke="#231f20" stroke-width="1"/>
<line x1="434.2" y1="273.1" x2="437.6" y2="273.1" stroke="#231f20" stroke-width="1"/>
<rect x="439.9" y="282.7" width="5.3" height="40.8" fill="#5b2a72"/>
<line x1="442.55" y1="282.7" x2="442.55" y2="279.6" stroke="#231f20" stroke-width="1"/>
<line x1="440.85" y1="279.6" x2="444.25" y2="279.6" stroke="#231f20" stroke-width="1"/>
<rect x="452.7" y="290.8" width="5.4" height="32.7" fill="#e88b9c"/>
<line x1="455.4" y1="290.8" x2="455.4" y2="283.5" stroke="#231f20" stroke-width="1"/>
<line x1="453.7" y1="283.5" x2="457.1" y2="283.5" stroke="#231f20" stroke-width="1"/>
<rect x="459.4" y="286.9" width="5.6" height="36.6" fill="#13548c"/>
<line x1="462.2" y1="286.9" x2="462.2" y2="280.2" stroke="#231f20" stroke-width="1"/>
<line x1="460.5" y1="280.2" x2="463.9" y2="280.2" stroke="#231f20" stroke-width="1"/>
<rect x="470.3" y="266.2" width="5.4" height="57.3" fill="#c8102e"/>
<line x1="473" y1="266.2" x2="473" y2="260.4" stroke="#231f20" stroke-width="1"/>
<line x1="471.3" y1="260.4" x2="474.7" y2="260.4" stroke="#231f20" stroke-width="1"/>
<rect x="477.1" y="228.3" width="5.4" height="95.2" fill="#3bb54a"/>
<line x1="479.8" y1="228.3" x2="479.8" y2="223.5" stroke="#231f20" stroke-width="1"/>
<line x1="478.1" y1="223.5" x2="481.5" y2="223.5" stroke="#231f20" stroke-width="1"/>
<rect x="483.8" y="228.7" width="5.3" height="94.8" fill="#5b2a72"/>
<line x1="486.45" y1="228.7" x2="486.45" y2="221.9" stroke="#231f20" stroke-width="1"/>
<line x1="484.75" y1="221.9" x2="488.15" y2="221.9" stroke="#231f20" stroke-width="1"/>
<rect x="496.6" y="254.2" width="5.4" height="69.3" fill="#e88b9c"/>
<line x1="499.3" y1="254.2" x2="499.3" y2="250.4" stroke="#231f20" stroke-width="1"/>
<line x1="497.6" y1="250.4" x2="501" y2="250.4" stroke="#231f20" stroke-width="1"/>
<rect x="503.3" y="235.6" width="5.6" height="87.9" fill="#13548c"/>
<line x1="506.1" y1="235.6" x2="506.1" y2="229.6" stroke="#231f20" stroke-width="1"/>
<line x1="504.4" y1="229.6" x2="507.8" y2="229.6" stroke="#231f20" stroke-width="1"/>
<text x="259.2" y="276.88" font-size="9.2" stroke="#231f20" stroke-width="0.09" text-anchor="middle">**</text>
<text x="285.5" y="285.38" font-size="9.2" stroke="#231f20" stroke-width="0.09" text-anchor="middle">**</text>
<text x="442.6" y="279.78" font-size="9.2" stroke="#231f20" stroke-width="0.09" text-anchor="middle">*</text>
<text x="479.8" y="223.48" font-size="9.2" stroke="#231f20" stroke-width="0.09" text-anchor="middle">*</text>
<text x="486.5" y="222.48" font-size="9.2" stroke="#231f20" stroke-width="0.09" text-anchor="middle">**</text>
<text x="506.1" y="229.78" font-size="9.2" stroke="#231f20" stroke-width="0.09" text-anchor="middle">**</text>
<line x1="246.3" y1="323.5" x2="512.9" y2="323.5" stroke="#231f20" stroke-width="1.3"/>
<line x1="246.3" y1="199.6" x2="246.3" y2="324.1" stroke="#231f20" stroke-width="1"/>
<line x1="243" y1="323.5" x2="246.3" y2="323.5" stroke="#231f20" stroke-width="0.9"/>
<text x="241.6" y="326.5" font-size="8.4" stroke="#231f20" stroke-width="0.09" text-anchor="end">0</text>
<line x1="243" y1="303.7" x2="246.3" y2="303.7" stroke="#231f20" stroke-width="0.9"/>
<text x="241.6" y="306.7" font-size="8.4" stroke="#231f20" stroke-width="0.09" text-anchor="end">20</text>
<line x1="243" y1="283.9" x2="246.3" y2="283.9" stroke="#231f20" stroke-width="0.9"/>
<text x="241.6" y="286.9" font-size="8.4" stroke="#231f20" stroke-width="0.09" text-anchor="end">40</text>
<line x1="243" y1="264.1" x2="246.3" y2="264.1" stroke="#231f20" stroke-width="0.9"/>
<text x="241.6" y="267.1" font-size="8.4" stroke="#231f20" stroke-width="0.09" text-anchor="end">60</text>
<line x1="243" y1="244.3" x2="246.3" y2="244.3" stroke="#231f20" stroke-width="0.9"/>
<text x="241.6" y="247.3" font-size="8.4" stroke="#231f20" stroke-width="0.09" text-anchor="end">80</text>
<line x1="243" y1="224.5" x2="246.3" y2="224.5" stroke="#231f20" stroke-width="0.9"/>
<text x="241.6" y="227.5" font-size="8.4" stroke="#231f20" stroke-width="0.09" text-anchor="end">100</text>
<line x1="243" y1="204.7" x2="246.3" y2="204.7" stroke="#231f20" stroke-width="0.9"/>
<text x="241.6" y="207.7" font-size="8.4" stroke="#231f20" stroke-width="0.09" text-anchor="end">120</text>
<line x1="272.1" y1="323.5" x2="272.1" y2="326.2" stroke="#231f20" stroke-width="0.9"/>
<text x="272.1" y="335.2" font-size="8.58" stroke="#231f20" stroke-width="0.09" text-anchor="middle" textLength="20.5" lengthAdjust="spacingAndGlyphs">BFU-E</text>
<line x1="315.8" y1="323.5" x2="315.8" y2="326.2" stroke="#231f20" stroke-width="0.9"/>
<text x="315.8" y="335.2" font-size="8.58" stroke="#231f20" stroke-width="0.09" text-anchor="middle" textLength="21.5" lengthAdjust="spacingAndGlyphs">CFU-G</text>
<line x1="360.4" y1="323.5" x2="360.4" y2="326.2" stroke="#231f20" stroke-width="0.9"/>
<text x="360.4" y="335.2" font-size="8.58" stroke="#231f20" stroke-width="0.09" text-anchor="middle" textLength="23" lengthAdjust="spacingAndGlyphs">CFU-M</text>
<line x1="404.7" y1="323.5" x2="404.7" y2="326.2" stroke="#231f20" stroke-width="0.9"/>
<text x="404.7" y="335.2" font-size="8.58" stroke="#231f20" stroke-width="0.09" text-anchor="middle" textLength="30.5" lengthAdjust="spacingAndGlyphs">CFU-GM</text>
<line x1="448.8" y1="323.5" x2="448.8" y2="326.2" stroke="#231f20" stroke-width="0.9"/>
<text x="448.8" y="335.2" font-size="8.58" stroke="#231f20" stroke-width="0.09" text-anchor="middle" textLength="24.5" lengthAdjust="spacingAndGlyphs">GEMM</text>
<line x1="492.7" y1="323.5" x2="492.7" y2="326.2" stroke="#231f20" stroke-width="0.9"/>
<text x="492.7" y="335.2" font-size="8.58" stroke="#231f20" stroke-width="0.09" text-anchor="middle" textLength="17.5" lengthAdjust="spacingAndGlyphs">Total</text>
<text transform="translate(225.8 268) rotate(-90)" font-size="10.26" stroke="#231f20" stroke-width="0.16" text-anchor="middle" textLength="104.7" lengthAdjust="spacingAndGlyphs">Colonies per 300 Lin<tspan font-size="75%" baseline-shift="super">−</tspan>CD34<tspan font-size="75%" baseline-shift="super">+</tspan>BFP<tspan font-size="75%" baseline-shift="super">+</tspan></text>
<text x="256.4" y="209.6" font-size="8.14" stroke="#231f20" stroke-width="0.09" textLength="18.5" lengthAdjust="spacingAndGlyphs">Exp 1</text>
<text x="256" y="221.5" font-size="8.14" stroke="#231f20" stroke-width="0.09" textLength="18.9" lengthAdjust="spacingAndGlyphs">Exp 2</text>
<rect x="283.2" y="205.2" width="4.5" height="4.6" fill="#c8102e"/>
<text x="290.8" y="209.8" font-size="8.14" stroke="#231f20" stroke-width="0.09" textLength="16.1" lengthAdjust="spacingAndGlyphs">Cntrl</text>
<rect x="317.2" y="205.2" width="4.5" height="4.6" fill="#3bb54a"/>
<text x="324.8" y="209.8" font-size="8.14" stroke="#231f20" stroke-width="0.09" textLength="31.5" lengthAdjust="spacingAndGlyphs">PLAG1-A</text>
<rect x="364" y="205.2" width="4.5" height="4.6" fill="#5b2a72"/>
<text x="371.6" y="209.8" font-size="8.14" stroke="#231f20" stroke-width="0.09" textLength="31" lengthAdjust="spacingAndGlyphs">PLAG1-B</text>
<rect x="283.2" y="216.6" width="4.5" height="4.6" fill="#e88b9c"/>
<text x="290.8" y="221.2" font-size="8.14" stroke="#231f20" stroke-width="0.09" textLength="16.1" lengthAdjust="spacingAndGlyphs">Cntrl</text>
<rect x="317.2" y="216.6" width="4.5" height="4.6" fill="#13548c"/>
<text x="324.8" y="221.2" font-size="8.14" stroke="#231f20" stroke-width="0.09" textLength="29.7" lengthAdjust="spacingAndGlyphs">PLAG1-S</text>
<text x="7.6" y="358.5" font-size="10.4" font-weight="bold" fill="#000" textLength="7.2" lengthAdjust="spacingAndGlyphs">F</text>
<text x="48" y="358.9" font-size="8.36" stroke="#231f20" stroke-width="0.09" textLength="51.2" lengthAdjust="spacingAndGlyphs">Primary GEMM</text>
<text x="48.5" y="369.5" font-size="8.36" stroke="#231f20" stroke-width="0.09" textLength="16.1" lengthAdjust="spacingAndGlyphs">Cntrl</text>
<text x="76.2" y="369.5" font-size="8.36" stroke="#231f20" stroke-width="0.09" textLength="30" lengthAdjust="spacingAndGlyphs">PLAG1-S</text>
<rect x="41" y="371.9" width="30" height="25.9" fill="#cbc1ab"/>
<rect x="76.1" y="371.9" width="29.8" height="25.9" fill="#d0c6b1"/>
<circle cx="59.56" cy="390.9" r="0.35" fill="#6e665a" opacity="0.6"/>
<circle cx="64.56" cy="395.87" r="0.35" fill="#6e665a" opacity="0.6"/>
<circle cx="62.96" cy="395.37" r="0.35" fill="#6e665a" opacity="0.6"/>
<circle cx="42.34" cy="384.05" r="0.35" fill="#6e665a" opacity="0.6"/>
<circle cx="68.86" cy="388.59" r="0.35" fill="#6e665a" opacity="0.6"/>
<circle cx="67.63" cy="375.31" r="0.35" fill="#6e665a" opacity="0.6"/>
<circle cx="55.1" cy="378.62" r="0.35" fill="#6e665a" opacity="0.6"/>
<circle cx="57.27" cy="386.73" r="0.35" fill="#6e665a" opacity="0.6"/>
<circle cx="41.88" cy="377.87" r="0.35" fill="#6e665a" opacity="0.6"/>
<circle cx="49.6" cy="395.23" r="0.35" fill="#6e665a" opacity="0.6"/>
<circle cx="63.71" cy="376.46" r="0.35" fill="#6e665a" opacity="0.6"/>
<circle cx="64.62" cy="375.94" r="0.35" fill="#6e665a" opacity="0.6"/>
<circle cx="59.41" cy="375.64" r="0.35" fill="#6e665a" opacity="0.6"/>
<circle cx="41.55" cy="394.11" r="0.35" fill="#6e665a" opacity="0.6"/>
<circle cx="47.57" cy="377.84" r="0.35" fill="#6e665a" opacity="0.6"/>
<circle cx="69.99" cy="394.14" r="0.35" fill="#6e665a" opacity="0.6"/>
<circle cx="49.89" cy="396.34" r="0.35" fill="#6e665a" opacity="0.6"/>
<circle cx="57.14" cy="389.31" r="0.35" fill="#6e665a" opacity="0.6"/>
<circle cx="47.44" cy="395.84" r="0.35" fill="#6e665a" opacity="0.6"/>
<circle cx="61.53" cy="396.47" r="0.35" fill="#6e665a" opacity="0.6"/>
<circle cx="67.42" cy="379.91" r="0.35" fill="#6e665a" opacity="0.6"/>
<circle cx="51.97" cy="376.62" r="0.35" fill="#6e665a" opacity="0.6"/>
<circle cx="45.73" cy="374.12" r="0.35" fill="#6e665a" opacity="0.6"/>
<circle cx="50.24" cy="387.46" r="0.35" fill="#6e665a" opacity="0.6"/>
<circle cx="41.6" cy="389.31" r="0.35" fill="#6e665a" opacity="0.6"/>
<circle cx="51.3" cy="380.19" r="0.35" fill="#6e665a" opacity="0.6"/>
<circle cx="65.24" cy="384.42" r="0.35" fill="#6e665a" opacity="0.6"/>
<circle cx="50.66" cy="384.43" r="0.35" fill="#6e665a" opacity="0.6"/>
<circle cx="61.94" cy="373.91" r="0.35" fill="#6e665a" opacity="0.6"/>
<circle cx="69.78" cy="373.07" r="0.35" fill="#6e665a" opacity="0.6"/>
<circle cx="63.24" cy="393.45" r="0.35" fill="#6e665a" opacity="0.6"/>
<circle cx="42.02" cy="392.04" r="0.35" fill="#6e665a" opacity="0.6"/>
<circle cx="52.12" cy="386.85" r="0.35" fill="#6e665a" opacity="0.6"/>
<circle cx="41.76" cy="373.66" r="0.35" fill="#6e665a" opacity="0.6"/>
<circle cx="46.75" cy="396.19" r="0.35" fill="#6e665a" opacity="0.6"/>
<circle cx="47.2" cy="391.24" r="0.35" fill="#6e665a" opacity="0.6"/>
<circle cx="68.46" cy="395.86" r="0.35" fill="#6e665a" opacity="0.6"/>
<circle cx="51.49" cy="381.3" r="0.35" fill="#6e665a" opacity="0.6"/>
<circle cx="56.72" cy="391.73" r="0.35" fill="#6e665a" opacity="0.6"/>
<circle cx="44.63" cy="391.06" r="0.35" fill="#6e665a" opacity="0.6"/>
<circle cx="64.62" cy="393.82" r="0.35" fill="#6e665a" opacity="0.6"/>
<circle cx="42.56" cy="395.96" r="0.35" fill="#6e665a" opacity="0.6"/>
<circle cx="44.14" cy="380.95" r="0.35" fill="#6e665a" opacity="0.6"/>
<circle cx="59.21" cy="395.27" r="0.35" fill="#6e665a" opacity="0.6"/>
<circle cx="51.36" cy="395.42" r="0.35" fill="#6e665a" opacity="0.6"/>
<circle cx="57.31" cy="380.25" r="0.35" fill="#6e665a" opacity="0.6"/>
<circle cx="50.69" cy="376.9" r="0.35" fill="#6e665a" opacity="0.6"/>
<circle cx="43.77" cy="376.19" r="0.35" fill="#6e665a" opacity="0.6"/>
<circle cx="61.49" cy="397.22" r="0.35" fill="#6e665a" opacity="0.6"/>
<circle cx="46.18" cy="373.7" r="0.35" fill="#6e665a" opacity="0.6"/>
<circle cx="70.11" cy="385.73" r="0.35" fill="#6e665a" opacity="0.6"/>
<circle cx="53.27" cy="378.39" r="0.35" fill="#6e665a" opacity="0.6"/>
<circle cx="58.72" cy="392.99" r="0.35" fill="#6e665a" opacity="0.6"/>
<circle cx="54.71" cy="382.96" r="0.35" fill="#6e665a" opacity="0.6"/>
<circle cx="43.12" cy="395.22" r="0.35" fill="#6e665a" opacity="0.6"/>
<circle cx="42.45" cy="384.74" r="0.35" fill="#6e665a" opacity="0.6"/>
<circle cx="65.81" cy="375.74" r="0.35" fill="#6e665a" opacity="0.6"/>
<circle cx="62.72" cy="396.06" r="0.35" fill="#6e665a" opacity="0.6"/>
<circle cx="59.78" cy="392.04" r="0.35" fill="#6e665a" opacity="0.6"/>
<circle cx="44.59" cy="383.28" r="0.35" fill="#6e665a" opacity="0.6"/>
<circle cx="80.9" cy="393.45" r="0.35" fill="#6e665a" opacity="0.6"/>
<circle cx="85.09" cy="383.74" r="0.35" fill="#6e665a" opacity="0.6"/>
<circle cx="105.38" cy="393.64" r="0.35" fill="#6e665a" opacity="0.6"/>
<circle cx="104.71" cy="383.75" r="0.35" fill="#6e665a" opacity="0.6"/>
<circle cx="90.66" cy="390.59" r="0.35" fill="#6e665a" opacity="0.6"/>
<circle cx="90.4" cy="379.72" r="0.35" fill="#6e665a" opacity="0.6"/>
<circle cx="88.23" cy="376.13" r="0.35" fill="#6e665a" opacity="0.6"/>
<circle cx="87.46" cy="397.01" r="0.35" fill="#6e665a" opacity="0.6"/>
<circle cx="104.24" cy="388.05" r="0.35" fill="#6e665a" opacity="0.6"/>
<circle cx="90.98" cy="380.89" r="0.35" fill="#6e665a" opacity="0.6"/>
<circle cx="79.17" cy="379.25" r="0.35" fill="#6e665a" opacity="0.6"/>
<circle cx="99.12" cy="394.01" r="0.35" fill="#6e665a" opacity="0.6"/>
<circle cx="87.01" cy="391.99" r="0.35" fill="#6e665a" opacity="0.6"/>
<circle cx="98.92" cy="389.73" r="0.35" fill="#6e665a" opacity="0.6"/>
<circle cx="95.72" cy="391.34" r="0.35" fill="#6e665a" opacity="0.6"/>
<circle cx="87.07" cy="389.97" r="0.35" fill="#6e665a" opacity="0.6"/>
<circle cx="84.69" cy="384.54" r="0.35" fill="#6e665a" opacity="0.6"/>
<circle cx="98.77" cy="389.63" r="0.35" fill="#6e665a" opacity="0.6"/>
<circle cx="85.06" cy="395.95" r="0.35" fill="#6e665a" opacity="0.6"/>
<circle cx="95.31" cy="386.9" r="0.35" fill="#6e665a" opacity="0.6"/>
<circle cx="76.93" cy="386.07" r="0.35" fill="#6e665a" opacity="0.6"/>
<circle cx="83.82" cy="389.16" r="0.35" fill="#6e665a" opacity="0.6"/>
<circle cx="89.93" cy="392.75" r="0.35" fill="#6e665a" opacity="0.6"/>
<circle cx="95.25" cy="392.28" r="0.35" fill="#6e665a" opacity="0.6"/>
<circle cx="86.62" cy="388.47" r="0.35" fill="#6e665a" opacity="0.6"/>
<circle cx="97.85" cy="393.04" r="0.35" fill="#6e665a" opacity="0.6"/>
<circle cx="86.68" cy="393.4" r="0.35" fill="#6e665a" opacity="0.6"/>
<circle cx="101.65" cy="389.57" r="0.35" fill="#6e665a" opacity="0.6"/>
<circle cx="104.71" cy="396.22" r="0.35" fill="#6e665a" opacity="0.6"/>
<circle cx="91.52" cy="385.63" r="0.35" fill="#6e665a" opacity="0.6"/>
<circle cx="81.39" cy="393.25" r="0.35" fill="#6e665a" opacity="0.6"/>
<circle cx="103.6" cy="384.34" r="0.35" fill="#6e665a" opacity="0.6"/>
<circle cx="96.51" cy="390.35" r="0.35" fill="#6e665a" opacity="0.6"/>
<circle cx="97.63" cy="376.76" r="0.35" fill="#6e665a" opacity="0.6"/>
<circle cx="99.07" cy="386.9" r="0.35" fill="#6e665a" opacity="0.6"/>
<circle cx="95.77" cy="382.94" r="0.35" fill="#6e665a" opacity="0.6"/>
<circle cx="94.56" cy="391.71" r="0.35" fill="#6e665a" opacity="0.6"/>
<circle cx="94.94" cy="390.37" r="0.35" fill="#6e665a" opacity="0.6"/>
<circle cx="77.4" cy="376.47" r="0.35" fill="#6e665a" opacity="0.6"/>
<circle cx="89.3" cy="388.62" r="0.35" fill="#6e665a" opacity="0.6"/>
<circle cx="82.91" cy="389.51" r="0.35" fill="#6e665a" opacity="0.6"/>
<circle cx="94.77" cy="373.54" r="0.35" fill="#6e665a" opacity="0.6"/>
<circle cx="90.18" cy="378.11" r="0.35" fill="#6e665a" opacity="0.6"/>
<circle cx="78.16" cy="375.81" r="0.35" fill="#6e665a" opacity="0.6"/>
<circle cx="85.74" cy="377" r="0.35" fill="#6e665a" opacity="0.6"/>
<circle cx="82.17" cy="373.38" r="0.35" fill="#6e665a" opacity="0.6"/>
<circle cx="90" cy="381.93" r="0.35" fill="#6e665a" opacity="0.6"/>
<circle cx="94.22" cy="387.14" r="0.35" fill="#6e665a" opacity="0.6"/>
<circle cx="83.45" cy="394.9" r="0.35" fill="#6e665a" opacity="0.6"/>
<circle cx="76.62" cy="382.55" r="0.35" fill="#6e665a" opacity="0.6"/>
<circle cx="84.62" cy="382.67" r="0.35" fill="#6e665a" opacity="0.6"/>
<circle cx="79.91" cy="393.12" r="0.35" fill="#6e665a" opacity="0.6"/>
<circle cx="87.37" cy="373.39" r="0.35" fill="#6e665a" opacity="0.6"/>
<circle cx="94.27" cy="374.85" r="0.35" fill="#6e665a" opacity="0.6"/>
<circle cx="92.3" cy="380.92" r="0.35" fill="#6e665a" opacity="0.6"/>
<circle cx="93.33" cy="396.27" r="0.35" fill="#6e665a" opacity="0.6"/>
<circle cx="100.17" cy="382.89" r="0.35" fill="#6e665a" opacity="0.6"/>
<circle cx="100.01" cy="388.43" r="0.35" fill="#6e665a" opacity="0.6"/>
<circle cx="87.24" cy="376.02" r="0.35" fill="#6e665a" opacity="0.6"/>
<circle cx="93.76" cy="386.48" r="0.35" fill="#6e665a" opacity="0.6"/>
<g filter="url(#bl2)" fill="#3a342c" fill-opacity="0.55"><path d="M45 381 Q46 374 53 374.5 Q57 373.5 58.5 375.5 Q60 373 63.5 374.2 Q67.5 376.5 66 380 Q68.5 382 66.5 385 Q63.5 388.5 61 389.5 Q60.5 392 59 395 Q56 395.5 55.5 392.5 Q52 393.5 49 392 Q44.5 390.5 44.5 386.5 Q43.5 383.5 45 381 Z"/><circle cx="96" cy="380.3" r="5"/><circle cx="86.5" cy="377.3" r="5.6"/><ellipse cx="89.2" cy="389.0" rx="8.8" ry="7.6"/></g>
<g filter="url(#bl1)" fill="#141210"><path d="M46.5 381 Q47.5 375.5 53 375.5 Q57 374.5 58.5 376.5 Q60 374 63 375.2 Q66 377 64.8 380 Q66.5 383 64 385 Q62.5 387.5 60 388.5 Q59.5 391 58.5 393.5 Q56.5 394 56 391.5 Q53 392.5 50 391 Q46 389.5 46 386 Q45 383.5 46.5 381 Z"/><path d="M63 381 L67 382 L66.5 383 L63 382.5 Z"/><circle cx="86.5" cy="377.3" r="4.7"/><circle cx="95.6" cy="380.3" r="3.8"/><ellipse cx="89.2" cy="389.0" rx="7.6" ry="6.5"/><path d="M84 386 L82 390 L84 392 Z"/></g>
<rect x="36.3" y="405" width="5" height="4.5" fill="#c8102e"/>
<text x="44.3" y="409.3" font-size="8.47" stroke="#231f20" stroke-width="0.09" textLength="30" lengthAdjust="spacingAndGlyphs">Negative</text>
<rect x="80.6" y="405" width="5" height="4.5" fill="#13548c"/>
<text x="88.8" y="409.3" font-size="8.47" stroke="#231f20" stroke-width="0.09" textLength="24.7" lengthAdjust="spacingAndGlyphs">Positive</text>
<rect x="38.6" y="419.9" width="16.3" height="33" fill="#13548c"/>
<rect x="38.6" y="452.9" width="16.3" height="24.3" fill="#c8102e"/>
<text x="46.75" y="430.8" font-size="8.14" stroke="#fff" stroke-width="0.09" text-anchor="middle" fill="#fff" textLength="14.2" lengthAdjust="spacingAndGlyphs">0.57</text>
<line x1="46.75" y1="451" x2="46.75" y2="455.2" stroke="#000" stroke-width="1"/>
<line x1="45.15" y1="451" x2="48.35" y2="451" stroke="#000" stroke-width="1"/>
<line x1="45.15" y1="455.2" x2="48.35" y2="455.2" stroke="#000" stroke-width="1"/>
<rect x="58.2" y="419.9" width="16.8" height="48.3" fill="#13548c"/>
<rect x="58.2" y="468.2" width="16.8" height="9" fill="#c8102e"/>
<text x="66.6" y="430.8" font-size="8.14" stroke="#fff" stroke-width="0.09" text-anchor="middle" fill="#fff" textLength="14.2" lengthAdjust="spacingAndGlyphs">0.83</text>
<line x1="66.6" y1="461.2" x2="66.6" y2="473.5" stroke="#000" stroke-width="1"/>
<line x1="65" y1="461.2" x2="68.2" y2="461.2" stroke="#000" stroke-width="1"/>
<line x1="65" y1="473.5" x2="68.2" y2="473.5" stroke="#000" stroke-width="1"/>
<rect x="78" y="419.9" width="16.6" height="52.9" fill="#13548c"/>
<rect x="78" y="472.8" width="16.6" height="4.4" fill="#c8102e"/>
<text x="86.3" y="430.8" font-size="8.14" stroke="#fff" stroke-width="0.09" text-anchor="middle" fill="#fff" textLength="14.2" lengthAdjust="spacingAndGlyphs">0.92</text>
<line x1="86.3" y1="470.5" x2="86.3" y2="475" stroke="#000" stroke-width="1"/>
<line x1="84.7" y1="470.5" x2="87.9" y2="470.5" stroke="#000" stroke-width="1"/>
<line x1="84.7" y1="475" x2="87.9" y2="475" stroke="#000" stroke-width="1"/>
<text x="86.3" y="469.55" font-size="7.6" stroke="#fff" stroke-width="0.09" text-anchor="middle" fill="#fff">*</text>
<rect x="97.6" y="419.9" width="16.6" height="51.3" fill="#13548c"/>
<rect x="97.6" y="471.2" width="16.6" height="6" fill="#c8102e"/>
<text x="105.9" y="430.8" font-size="8.14" stroke="#fff" stroke-width="0.09" text-anchor="middle" fill="#fff" textLength="14.2" lengthAdjust="spacingAndGlyphs">0.89</text>
<line x1="105.9" y1="469.5" x2="105.9" y2="472.8" stroke="#000" stroke-width="1"/>
<line x1="104.3" y1="469.5" x2="107.5" y2="469.5" stroke="#000" stroke-width="1"/>
<line x1="104.3" y1="472.8" x2="107.5" y2="472.8" stroke="#000" stroke-width="1"/>
<text x="105.9" y="469.55" font-size="7.6" stroke="#fff" stroke-width="0.09" text-anchor="middle" fill="#fff">**</text>
<line x1="35.8" y1="477.2" x2="117.7" y2="477.2" stroke="#231f20" stroke-width="1.3"/>
<line x1="35.8" y1="417.5" x2="35.8" y2="477.8" stroke="#231f20" stroke-width="1"/>
<line x1="32.6" y1="477.2" x2="35.8" y2="477.2" stroke="#231f20" stroke-width="0.9"/>
<text x="31.2" y="480.56" font-size="9.36" stroke="#231f20" stroke-width="0.13" text-anchor="end" textLength="5" lengthAdjust="spacingAndGlyphs">0</text>
<line x1="32.6" y1="465.7" x2="35.8" y2="465.7" stroke="#231f20" stroke-width="0.9"/>
<text x="31.2" y="469.06" font-size="9.36" stroke="#231f20" stroke-width="0.13" text-anchor="end" textLength="11" lengthAdjust="spacingAndGlyphs">0.2</text>
<line x1="32.6" y1="454.2" x2="35.8" y2="454.2" stroke="#231f20" stroke-width="0.9"/>
<text x="31.2" y="457.56" font-size="9.36" stroke="#231f20" stroke-width="0.13" text-anchor="end" textLength="11" lengthAdjust="spacingAndGlyphs">0.4</text>
<line x1="32.6" y1="442.7" x2="35.8" y2="442.7" stroke="#231f20" stroke-width="0.9"/>
<text x="31.2" y="446.06" font-size="9.36" stroke="#231f20" stroke-width="0.13" text-anchor="end" textLength="11" lengthAdjust="spacingAndGlyphs">0.6</text>
<line x1="32.6" y1="431.2" x2="35.8" y2="431.2" stroke="#231f20" stroke-width="0.9"/>
<text x="31.2" y="434.56" font-size="9.36" stroke="#231f20" stroke-width="0.13" text-anchor="end" textLength="11" lengthAdjust="spacingAndGlyphs">0.8</text>
<line x1="32.6" y1="419.7" x2="35.8" y2="419.7" stroke="#231f20" stroke-width="0.9"/>
<text x="31.2" y="423.06" font-size="9.36" stroke="#231f20" stroke-width="0.13" text-anchor="end" textLength="5" lengthAdjust="spacingAndGlyphs">1</text>
<text transform="translate(15.2 448.3) rotate(-90)" font-size="10.53" stroke="#231f20" stroke-width="0.16" text-anchor="middle" textLength="65.8" lengthAdjust="spacingAndGlyphs">Replating efficiency</text>
<line x1="46.4" y1="477.2" x2="46.4" y2="479.9" stroke="#231f20" stroke-width="0.9"/>
<text transform="translate(49.1 485.8) rotate(-45)" font-size="8.36" stroke="#231f20" stroke-width="0.09" text-anchor="end" textLength="18" lengthAdjust="spacingAndGlyphs">Cntrl</text>
<line x1="66.5" y1="477.2" x2="66.5" y2="479.9" stroke="#231f20" stroke-width="0.9"/>
<text transform="translate(69.2 485.8) rotate(-45)" font-size="8.36" stroke="#231f20" stroke-width="0.09" text-anchor="end" textLength="32.5" lengthAdjust="spacingAndGlyphs">PLAG1-A</text>
<line x1="86.2" y1="477.2" x2="86.2" y2="479.9" stroke="#231f20" stroke-width="0.9"/>
<text transform="translate(88.9 485.8) rotate(-45)" font-size="8.36" stroke="#231f20" stroke-width="0.09" text-anchor="end" textLength="32.5" lengthAdjust="spacingAndGlyphs">PLAG1-B</text>
<line x1="105.7" y1="477.2" x2="105.7" y2="479.9" stroke="#231f20" stroke-width="0.9"/>
<text transform="translate(108.4 485.8) rotate(-45)" font-size="8.36" stroke="#231f20" stroke-width="0.09" text-anchor="end" textLength="31.5" lengthAdjust="spacingAndGlyphs">PLAG1-S</text>
<text x="123.7" y="393.7" font-size="8.03" stroke="#231f20" stroke-width="0.09" textLength="25" lengthAdjust="spacingAndGlyphs">PLAG1:</text>
<text x="123.7" y="401.9" font-size="8.03" stroke="#231f20" stroke-width="0.09" textLength="42.8" lengthAdjust="spacingAndGlyphs">Fold change:</text>
<text x="123.7" y="410.6" font-size="8.03" stroke="#231f20" stroke-width="0.09" textLength="25" lengthAdjust="spacingAndGlyphs">p value:</text>
<text x="181.9" y="393.7" font-size="7.3" stroke="#231f20" stroke-width="0.09" text-anchor="middle">A</text>
<text x="181.9" y="401.9" font-size="8.03" stroke="#231f20" stroke-width="0.09" text-anchor="middle" textLength="14.3" lengthAdjust="spacingAndGlyphs">2.45</text>
<text x="181.9" y="410.6" font-size="8.03" stroke="#231f20" stroke-width="0.09" text-anchor="middle" textLength="14.3" lengthAdjust="spacingAndGlyphs">0.06</text>
<text x="202.5" y="393.7" font-size="7.3" stroke="#231f20" stroke-width="0.09" text-anchor="middle">B</text>
<text x="202.5" y="401.9" font-size="8.03" stroke="#231f20" stroke-width="0.09" text-anchor="middle" textLength="14.3" lengthAdjust="spacingAndGlyphs">4.03</text>
<text x="202.5" y="410.6" font-size="8.03" stroke="#231f20" stroke-width="0.09" text-anchor="middle" textLength="13" lengthAdjust="spacingAndGlyphs">0.11</text>
<text x="222.5" y="393.7" font-size="7.3" stroke="#231f20" stroke-width="0.09" text-anchor="middle">S</text>
<text x="222.5" y="401.9" font-size="8.03" stroke="#231f20" stroke-width="0.09" text-anchor="middle" textLength="14.3" lengthAdjust="spacingAndGlyphs">2.22</text>
<text x="222.5" y="410.6" font-size="8.03" stroke="#231f20" stroke-width="0.09" text-anchor="middle" textLength="14.3" lengthAdjust="spacingAndGlyphs">0.02</text>
<rect x="164.2" y="470" width="15" height="7.4" fill="#e6899b"/>
<circle cx="171.7" cy="462.8" r="1.6" fill="#c8102e"/>
<circle cx="171.7" cy="465.5" r="1.6" fill="#c8102e"/>
<circle cx="171.7" cy="467.5" r="1.6" fill="#c8102e"/>
<rect x="183.1" y="458.9" width="14.5" height="18.5" fill="#a6dba1"/>
<rect x="188.95" y="451.3" width="2.8" height="2.8" fill="#3bb54a"/>
<rect x="188.95" y="453.6" width="2.8" height="2.8" fill="#3bb54a"/>
<rect x="188.95" y="455.6" width="2.8" height="2.8" fill="#3bb54a"/>
<rect x="188.95" y="465.1" width="2.8" height="2.8" fill="#3bb54a"/>
<line x1="190.35" y1="444.6" x2="190.35" y2="463.5" stroke="#231f20" stroke-width="0.9"/>
<line x1="188.75" y1="444.6" x2="191.95" y2="444.6" stroke="#231f20" stroke-width="0.9"/>
<line x1="188.75" y1="463.5" x2="191.95" y2="463.5" stroke="#231f20" stroke-width="0.9"/>
<rect x="201.5" y="446.9" width="15" height="30.5" fill="#b99fcb"/>
<rect x="207.6" y="426.6" width="2.8" height="2.8" fill="#5b2a72"/>
<rect x="207.6" y="445.1" width="2.8" height="2.8" fill="#5b2a72"/>
<rect x="207.6" y="465.1" width="2.8" height="2.8" fill="#5b2a72"/>
<line x1="209" y1="435.8" x2="209" y2="458.5" stroke="#231f20" stroke-width="0.9"/>
<line x1="207.4" y1="435.8" x2="210.6" y2="435.8" stroke="#231f20" stroke-width="0.9"/>
<line x1="207.4" y1="458.5" x2="210.6" y2="458.5" stroke="#231f20" stroke-width="0.9"/>
<rect x="220" y="459.6" width="15" height="17.8" fill="#87a9cc"/>
<circle cx="227.5" cy="455" r="1.6" fill="#1c5a97"/>
<circle cx="227.5" cy="460" r="1.6" fill="#1c5a97"/>
<circle cx="227.5" cy="462.3" r="1.6" fill="#1c5a97"/>
<line x1="227.5" y1="457.3" x2="227.5" y2="461.2" stroke="#231f20" stroke-width="0.9"/>
<line x1="225.9" y1="457.3" x2="229.1" y2="457.3" stroke="#231f20" stroke-width="0.9"/>
<line x1="225.9" y1="461.2" x2="229.1" y2="461.2" stroke="#231f20" stroke-width="0.9"/>
<text x="227.5" y="453.98" font-size="9.2" stroke="#231f20" stroke-width="0.09" text-anchor="middle">*</text>
<line x1="162.3" y1="477.4" x2="236.5" y2="477.4" stroke="#231f20" stroke-width="1.3"/>
<line x1="162.3" y1="419" x2="162.3" y2="478" stroke="#231f20" stroke-width="1"/>
<line x1="159.2" y1="477.4" x2="162.3" y2="477.4" stroke="#231f20" stroke-width="0.9"/>
<text x="157.8" y="480.65" font-size="9.12" stroke="#231f20" stroke-width="0.13" text-anchor="end" textLength="4.8" lengthAdjust="spacingAndGlyphs">0</text>
<line x1="159.2" y1="468.02" x2="162.3" y2="468.02" stroke="#231f20" stroke-width="0.9"/>
<text x="157.8" y="471.27" font-size="9.12" stroke="#231f20" stroke-width="0.13" text-anchor="end" textLength="13.9" lengthAdjust="spacingAndGlyphs">100</text>
<line x1="159.2" y1="458.64" x2="162.3" y2="458.64" stroke="#231f20" stroke-width="0.9"/>
<text x="157.8" y="461.89" font-size="9.12" stroke="#231f20" stroke-width="0.13" text-anchor="end" textLength="13.9" lengthAdjust="spacingAndGlyphs">200</text>
<line x1="159.2" y1="449.26" x2="162.3" y2="449.26" stroke="#231f20" stroke-width="0.9"/>
<text x="157.8" y="452.51" font-size="9.12" stroke="#231f20" stroke-width="0.13" text-anchor="end" textLength="13.9" lengthAdjust="spacingAndGlyphs">300</text>
<line x1="159.2" y1="439.88" x2="162.3" y2="439.88" stroke="#231f20" stroke-width="0.9"/>
<text x="157.8" y="443.13" font-size="9.12" stroke="#231f20" stroke-width="0.13" text-anchor="end" textLength="13.9" lengthAdjust="spacingAndGlyphs">400</text>
<line x1="159.2" y1="430.5" x2="162.3" y2="430.5" stroke="#231f20" stroke-width="0.9"/>
<text x="157.8" y="433.75" font-size="9.12" stroke="#231f20" stroke-width="0.13" text-anchor="end" textLength="13.9" lengthAdjust="spacingAndGlyphs">500</text>
<line x1="159.2" y1="421.12" x2="162.3" y2="421.12" stroke="#231f20" stroke-width="0.9"/>
<text x="157.8" y="424.37" font-size="9.12" stroke="#231f20" stroke-width="0.13" text-anchor="end" textLength="13.9" lengthAdjust="spacingAndGlyphs">600</text>
<text transform="translate(128 446.2) rotate(-90)" font-size="10.53" stroke="#231f20" stroke-width="0.16" text-anchor="middle" textLength="53.3" lengthAdjust="spacingAndGlyphs">Total secondary</text>
<text transform="translate(138.6 447.4) rotate(-90)" font-size="10.53" stroke="#231f20" stroke-width="0.16" text-anchor="middle" textLength="26.8" lengthAdjust="spacingAndGlyphs">colonies</text>
<line x1="171.7" y1="477.4" x2="171.7" y2="480.1" stroke="#231f20" stroke-width="0.9"/>
<text transform="translate(175.6 486.8) rotate(-45)" font-size="8.36" stroke="#231f20" stroke-width="0.09" text-anchor="end" textLength="18" lengthAdjust="spacingAndGlyphs">Cntrl</text>
<line x1="190.4" y1="477.4" x2="190.4" y2="480.1" stroke="#231f20" stroke-width="0.9"/>
<text transform="translate(194.3 486.8) rotate(-45)" font-size="8.36" stroke="#231f20" stroke-width="0.09" text-anchor="end" textLength="32.5" lengthAdjust="spacingAndGlyphs">PLAG1-A</text>
<line x1="209" y1="477.4" x2="209" y2="480.1" stroke="#231f20" stroke-width="0.9"/>
<text transform="translate(212.9 486.8) rotate(-45)" font-size="8.36" stroke="#231f20" stroke-width="0.09" text-anchor="end" textLength="32.5" lengthAdjust="spacingAndGlyphs">PLAG1-B</text>
<line x1="227.5" y1="477.4" x2="227.5" y2="480.1" stroke="#231f20" stroke-width="0.9"/>
<text transform="translate(231.4 486.8) rotate(-45)" font-size="8.36" stroke="#231f20" stroke-width="0.09" text-anchor="end" textLength="31.5" lengthAdjust="spacingAndGlyphs">PLAG1-S</text>
<text x="243.2" y="359.4" font-size="10.4" font-weight="bold" fill="#000" textLength="9.6" lengthAdjust="spacingAndGlyphs">G</text>
<circle cx="320.55" cy="471.75" r="1.45" fill="#c8102e"/>
<circle cx="320.55" cy="469.5" r="1.45" fill="#c8102e"/>
<circle cx="320.55" cy="468" r="1.45" fill="#c8102e"/>
<circle cx="320.55" cy="466.5" r="1.45" fill="#c8102e"/>
<circle cx="320.55" cy="465" r="1.45" fill="#c8102e"/>
<circle cx="320.55" cy="463.5" r="1.45" fill="#c8102e"/>
<circle cx="359.4" cy="474" r="1.45" fill="#c8102e"/>
<circle cx="359.4" cy="472.5" r="1.45" fill="#c8102e"/>
<circle cx="359.4" cy="471" r="1.45" fill="#c8102e"/>
<circle cx="359.4" cy="469.5" r="1.45" fill="#c8102e"/>
<circle cx="359.4" cy="468" r="1.45" fill="#c8102e"/>
<circle cx="359.4" cy="465.75" r="1.45" fill="#c8102e"/>
<circle cx="359.4" cy="464.25" r="1.45" fill="#c8102e"/>
<circle cx="320.55" cy="466.5" r="1.45" fill="#43b649"/>
<circle cx="320.55" cy="464.25" r="1.45" fill="#43b649"/>
<circle cx="320.55" cy="462.75" r="1.45" fill="#43b649"/>
<circle cx="320.55" cy="461.25" r="1.45" fill="#43b649"/>
<circle cx="320.55" cy="459" r="1.45" fill="#43b649"/>
<circle cx="359.4" cy="462" r="1.45" fill="#43b649"/>
<circle cx="359.4" cy="460.5" r="1.45" fill="#43b649"/>
<circle cx="359.4" cy="458.25" r="1.45" fill="#43b649"/>
<circle cx="359.4" cy="456" r="1.45" fill="#43b649"/>
<circle cx="359.4" cy="454.5" r="1.45" fill="#43b649"/>
<circle cx="359.4" cy="453" r="1.45" fill="#43b649"/>
<circle cx="320.55" cy="462" r="1.45" fill="#5b2a72"/>
<circle cx="320.55" cy="459" r="1.45" fill="#5b2a72"/>
<circle cx="320.55" cy="456" r="1.45" fill="#5b2a72"/>
<circle cx="320.55" cy="453" r="1.45" fill="#5b2a72"/>
<circle cx="320.55" cy="450" r="1.45" fill="#5b2a72"/>
<circle cx="320.55" cy="447.75" r="1.45" fill="#5b2a72"/>
<circle cx="359.4" cy="447" r="1.45" fill="#5b2a72"/>
<circle cx="359.4" cy="439.5" r="1.45" fill="#5b2a72"/>
<circle cx="359.4" cy="435" r="1.45" fill="#5b2a72"/>
<circle cx="359.4" cy="432" r="1.45" fill="#5b2a72"/>
<circle cx="359.4" cy="427.5" r="1.45" fill="#5b2a72"/>
<circle cx="359.4" cy="423" r="1.45" fill="#5b2a72"/>
<circle cx="320.55" cy="465" r="1.45" fill="#1c5a97"/>
<circle cx="320.55" cy="459" r="1.45" fill="#1c5a97"/>
<circle cx="320.55" cy="456" r="1.45" fill="#1c5a97"/>
<circle cx="320.55" cy="453.75" r="1.45" fill="#1c5a97"/>
<circle cx="320.55" cy="451.5" r="1.45" fill="#1c5a97"/>
<circle cx="320.55" cy="450" r="1.45" fill="#1c5a97"/>
<circle cx="320.55" cy="448.5" r="1.45" fill="#1c5a97"/>
<circle cx="320.55" cy="447" r="1.45" fill="#1c5a97"/>
<circle cx="320.55" cy="446.25" r="1.45" fill="#1c5a97"/>
<circle cx="359.4" cy="448.5" r="1.45" fill="#1c5a97"/>
<circle cx="359.4" cy="445.5" r="1.45" fill="#1c5a97"/>
<circle cx="359.4" cy="432" r="1.45" fill="#1c5a97"/>
<circle cx="359.4" cy="426.75" r="1.45" fill="#1c5a97"/>
<circle cx="359.4" cy="423" r="1.45" fill="#1c5a97"/>
<circle cx="359.4" cy="420" r="1.45" fill="#1c5a97"/>
<circle cx="359.4" cy="412.5" r="1.45" fill="#1c5a97"/>
<circle cx="359.4" cy="394.5" r="1.45" fill="#1c5a97"/>
<polyline points="268.75,475.5 320.55,466.8 359.4,467.25" fill="none" stroke="#c8102e" stroke-width="1.5"/>
<polyline points="268.75,475.5 320.55,463.2 359.4,457.5" fill="none" stroke="#43b649" stroke-width="1.5"/>
<polyline points="268.75,475.5 320.55,452.25 359.4,432" fill="none" stroke="#5b2a72" stroke-width="1.5"/>
<polyline points="268.75,475.5 320.55,451.5 359.4,426" fill="none" stroke="#1c5a97" stroke-width="1.5"/>
<line x1="320.55" y1="456" x2="320.55" y2="447.75" stroke="#231f20" stroke-width="0.8"/>
<line x1="319.25" y1="456" x2="321.85" y2="456" stroke="#231f20" stroke-width="0.8"/>
<line x1="319.25" y1="447.75" x2="321.85" y2="447.75" stroke="#231f20" stroke-width="0.8"/>
<line x1="359.4" y1="436.5" x2="359.4" y2="418.5" stroke="#231f20" stroke-width="0.8"/>
<line x1="358.1" y1="436.5" x2="360.7" y2="436.5" stroke="#231f20" stroke-width="0.8"/>
<line x1="358.1" y1="418.5" x2="360.7" y2="418.5" stroke="#231f20" stroke-width="0.8"/>
<line x1="359.4" y1="432" x2="359.4" y2="420" stroke="#231f20" stroke-width="0.8"/>
<line x1="358.1" y1="432" x2="360.7" y2="432" stroke="#231f20" stroke-width="0.8"/>
<line x1="358.1" y1="420" x2="360.7" y2="420" stroke="#231f20" stroke-width="0.8"/>
<line x1="359.4" y1="460.5" x2="359.4" y2="454.5" stroke="#231f20" stroke-width="0.8"/>
<line x1="358.1" y1="460.5" x2="360.7" y2="460.5" stroke="#231f20" stroke-width="0.8"/>
<line x1="358.1" y1="454.5" x2="360.7" y2="454.5" stroke="#231f20" stroke-width="0.8"/>
<line x1="359.4" y1="469.5" x2="359.4" y2="465" stroke="#231f20" stroke-width="0.8"/>
<line x1="358.1" y1="469.5" x2="360.7" y2="469.5" stroke="#231f20" stroke-width="0.8"/>
<line x1="358.1" y1="465" x2="360.7" y2="465" stroke="#231f20" stroke-width="0.8"/>
<line x1="320.55" y1="468" x2="320.55" y2="465.6" stroke="#231f20" stroke-width="0.8"/>
<line x1="319.25" y1="468" x2="321.85" y2="468" stroke="#231f20" stroke-width="0.8"/>
<line x1="319.25" y1="465.6" x2="321.85" y2="465.6" stroke="#231f20" stroke-width="0.8"/>
<line x1="320.55" y1="465" x2="320.55" y2="461.25" stroke="#231f20" stroke-width="0.8"/>
<line x1="319.25" y1="465" x2="321.85" y2="465" stroke="#231f20" stroke-width="0.8"/>
<line x1="319.25" y1="461.25" x2="321.85" y2="461.25" stroke="#231f20" stroke-width="0.8"/>
<text x="327.8" y="439.28" font-size="9.2" stroke="#231f20" stroke-width="0.09" text-anchor="middle">***</text>
<text x="327.8" y="447.28" font-size="9.2" stroke="#231f20" stroke-width="0.09" text-anchor="middle">***</text>
<text x="327.3" y="464.78" font-size="9.2" stroke="#231f20" stroke-width="0.09" text-anchor="middle">*</text>
<text x="368" y="426.98" font-size="9.2" stroke="#231f20" stroke-width="0.09" text-anchor="middle">***</text>
<text x="368" y="433.78" font-size="9.2" stroke="#231f20" stroke-width="0.09" text-anchor="middle">***</text>
<text x="368" y="460.78" font-size="9.2" stroke="#231f20" stroke-width="0.09" text-anchor="middle">**</text>
<line x1="268.75" y1="477" x2="371" y2="477" stroke="#231f20" stroke-width="1.3"/>
<line x1="268.75" y1="383" x2="268.75" y2="477.6" stroke="#231f20" stroke-width="1"/>
<line x1="265.6" y1="477" x2="268.75" y2="477" stroke="#231f20" stroke-width="0.9"/>
<text x="264.3" y="480.36" font-size="9.36" stroke="#231f20" stroke-width="0.13" text-anchor="end" textLength="4.9" lengthAdjust="spacingAndGlyphs">0</text>
<line x1="265.6" y1="462" x2="268.75" y2="462" stroke="#231f20" stroke-width="0.9"/>
<text x="264.3" y="465.36" font-size="9.36" stroke="#231f20" stroke-width="0.13" text-anchor="end" textLength="9.3" lengthAdjust="spacingAndGlyphs">10</text>
<line x1="265.6" y1="447" x2="268.75" y2="447" stroke="#231f20" stroke-width="0.9"/>
<text x="264.3" y="450.36" font-size="9.36" stroke="#231f20" stroke-width="0.13" text-anchor="end" textLength="9.3" lengthAdjust="spacingAndGlyphs">20</text>
<line x1="265.6" y1="432" x2="268.75" y2="432" stroke="#231f20" stroke-width="0.9"/>
<text x="264.3" y="435.36" font-size="9.36" stroke="#231f20" stroke-width="0.13" text-anchor="end" textLength="9.3" lengthAdjust="spacingAndGlyphs">30</text>
<line x1="265.6" y1="417" x2="268.75" y2="417" stroke="#231f20" stroke-width="0.9"/>
<text x="264.3" y="420.36" font-size="9.36" stroke="#231f20" stroke-width="0.13" text-anchor="end" textLength="9.3" lengthAdjust="spacingAndGlyphs">40</text>
<line x1="265.6" y1="402" x2="268.75" y2="402" stroke="#231f20" stroke-width="0.9"/>
<text x="264.3" y="405.36" font-size="9.36" stroke="#231f20" stroke-width="0.13" text-anchor="end" textLength="9.3" lengthAdjust="spacingAndGlyphs">50</text>
<line x1="265.6" y1="387" x2="268.75" y2="387" stroke="#231f20" stroke-width="0.9"/>
<text x="264.3" y="390.36" font-size="9.36" stroke="#231f20" stroke-width="0.13" text-anchor="end" textLength="9.3" lengthAdjust="spacingAndGlyphs">60</text>
<line x1="268.75" y1="477" x2="268.75" y2="479.7" stroke="#231f20" stroke-width="0.9"/>
<text x="268.75" y="490" font-size="9.36" stroke="#231f20" stroke-width="0.13" text-anchor="middle" textLength="4.77" lengthAdjust="spacingAndGlyphs">0</text>
<line x1="294.65" y1="477" x2="294.65" y2="479.7" stroke="#231f20" stroke-width="0.9"/>
<text x="294.65" y="490" font-size="9.36" stroke="#231f20" stroke-width="0.13" text-anchor="middle" textLength="4.77" lengthAdjust="spacingAndGlyphs">2</text>
<line x1="320.55" y1="477" x2="320.55" y2="479.7" stroke="#231f20" stroke-width="0.9"/>
<text x="320.55" y="490" font-size="9.36" stroke="#231f20" stroke-width="0.13" text-anchor="middle" textLength="4.77" lengthAdjust="spacingAndGlyphs">4</text>
<line x1="346.45" y1="477" x2="346.45" y2="479.7" stroke="#231f20" stroke-width="0.9"/>
<text x="346.45" y="490" font-size="9.36" stroke="#231f20" stroke-width="0.13" text-anchor="middle" textLength="4.77" lengthAdjust="spacingAndGlyphs">6</text>
<line x1="372.35" y1="477" x2="372.35" y2="479.7" stroke="#231f20" stroke-width="0.9"/>
<text x="372.35" y="490" font-size="9.36" stroke="#231f20" stroke-width="0.13" text-anchor="middle" textLength="4.77" lengthAdjust="spacingAndGlyphs">8</text>
<text x="323.1" y="503.8" font-size="10.8" stroke="#231f20" stroke-width="0.16" text-anchor="middle" textLength="47.8" lengthAdjust="spacingAndGlyphs">Days in culture</text>
<text transform="translate(252 431.9) rotate(-90)" font-size="10.67" stroke="#231f20" stroke-width="0.16" text-anchor="middle" textLength="93.8" lengthAdjust="spacingAndGlyphs">Cumulative TNC fold change</text>
<line x1="271.9" y1="386.4" x2="277.7" y2="386.4" stroke="#c8102e" stroke-width="1.4"/>
<text x="280.6" y="389.1" font-size="8.36" stroke="#231f20" stroke-width="0.09" textLength="16.3" lengthAdjust="spacingAndGlyphs">Cntrl</text>
<line x1="271.9" y1="395.95" x2="277.7" y2="395.95" stroke="#43b649" stroke-width="1.4"/>
<text x="280.6" y="398.65" font-size="8.36" stroke="#231f20" stroke-width="0.09" textLength="31" lengthAdjust="spacingAndGlyphs">PLAG1-A</text>
<line x1="271.9" y1="405.5" x2="277.7" y2="405.5" stroke="#5b2a72" stroke-width="1.4"/>
<text x="280.6" y="408.2" font-size="8.36" stroke="#231f20" stroke-width="0.09" textLength="30.6" lengthAdjust="spacingAndGlyphs">PLAG1-B</text>
<line x1="271.9" y1="415.05" x2="277.7" y2="415.05" stroke="#1c5a97" stroke-width="1.4"/>
<text x="280.6" y="417.75" font-size="8.36" stroke="#231f20" stroke-width="0.09" textLength="29.6" lengthAdjust="spacingAndGlyphs">PLAG1-S</text>
<text x="386.2" y="359.4" font-size="10.4" font-weight="bold" fill="#000" textLength="9.9" lengthAdjust="spacingAndGlyphs">H</text>
<circle cx="461.8" cy="471.5" r="1.45" fill="#c8102e"/>
<circle cx="461.8" cy="466.25" r="1.45" fill="#c8102e"/>
<circle cx="461.8" cy="462.5" r="1.45" fill="#c8102e"/>
<circle cx="461.8" cy="458.75" r="1.45" fill="#c8102e"/>
<circle cx="461.8" cy="455" r="1.45" fill="#c8102e"/>
<circle cx="498.4" cy="476" r="1.45" fill="#c8102e"/>
<circle cx="498.4" cy="473.75" r="1.45" fill="#c8102e"/>
<circle cx="498.4" cy="470" r="1.45" fill="#c8102e"/>
<circle cx="498.4" cy="466.25" r="1.45" fill="#c8102e"/>
<circle cx="498.4" cy="462.5" r="1.45" fill="#c8102e"/>
<circle cx="461.8" cy="455" r="1.45" fill="#43b649"/>
<circle cx="461.8" cy="451.25" r="1.45" fill="#43b649"/>
<circle cx="461.8" cy="447.5" r="1.45" fill="#43b649"/>
<circle cx="498.4" cy="466.25" r="1.45" fill="#43b649"/>
<circle cx="498.4" cy="462.5" r="1.45" fill="#43b649"/>
<circle cx="498.4" cy="458.75" r="1.45" fill="#43b649"/>
<circle cx="498.4" cy="455" r="1.45" fill="#43b649"/>
<circle cx="461.8" cy="432.5" r="1.45" fill="#5b2a72"/>
<circle cx="461.8" cy="425" r="1.45" fill="#5b2a72"/>
<circle cx="461.8" cy="417.5" r="1.45" fill="#5b2a72"/>
<circle cx="461.8" cy="405.5" r="1.45" fill="#5b2a72"/>
<circle cx="498.4" cy="458.75" r="1.45" fill="#5b2a72"/>
<circle cx="498.4" cy="455" r="1.45" fill="#5b2a72"/>
<circle cx="498.4" cy="447.5" r="1.45" fill="#5b2a72"/>
<circle cx="498.4" cy="443.75" r="1.45" fill="#5b2a72"/>
<circle cx="498.4" cy="440" r="1.45" fill="#5b2a72"/>
<circle cx="461.8" cy="438.5" r="1.45" fill="#1c5a97"/>
<circle cx="461.8" cy="434" r="1.45" fill="#1c5a97"/>
<circle cx="461.8" cy="428.75" r="1.45" fill="#1c5a97"/>
<circle cx="461.8" cy="425" r="1.45" fill="#1c5a97"/>
<circle cx="461.8" cy="421.25" r="1.45" fill="#1c5a97"/>
<circle cx="461.8" cy="417.5" r="1.45" fill="#1c5a97"/>
<circle cx="461.8" cy="413" r="1.45" fill="#1c5a97"/>
<circle cx="461.8" cy="410" r="1.45" fill="#1c5a97"/>
<circle cx="461.8" cy="393.5" r="1.45" fill="#1c5a97"/>
<circle cx="498.4" cy="473.75" r="1.45" fill="#1c5a97"/>
<circle cx="498.4" cy="470" r="1.45" fill="#1c5a97"/>
<circle cx="498.4" cy="462.5" r="1.45" fill="#1c5a97"/>
<circle cx="498.4" cy="458.75" r="1.45" fill="#1c5a97"/>
<circle cx="498.4" cy="451.25" r="1.45" fill="#1c5a97"/>
<circle cx="498.4" cy="447.5" r="1.45" fill="#1c5a97"/>
<circle cx="498.4" cy="443" r="1.45" fill="#1c5a97"/>
<circle cx="498.4" cy="438.5" r="1.45" fill="#1c5a97"/>
<circle cx="498.4" cy="436.25" r="1.45" fill="#1c5a97"/>
<circle cx="498.4" cy="434" r="1.45" fill="#1c5a97"/>
<polyline points="413,470 461.8,457.25 498.4,474.5" fill="none" stroke="#c8102e" stroke-width="1.5"/>
<polyline points="413,470 461.8,452 498.4,462.5" fill="none" stroke="#43b649" stroke-width="1.5"/>
<polyline points="413,470 461.8,422 498.4,454.25" fill="none" stroke="#5b2a72" stroke-width="1.5"/>
<polyline points="413,470 461.8,420.5 498.4,450.5" fill="none" stroke="#1c5a97" stroke-width="1.5"/>
<line x1="461.8" y1="428.75" x2="461.8" y2="412.25" stroke="#231f20" stroke-width="0.8"/>
<line x1="460.5" y1="428.75" x2="463.1" y2="428.75" stroke="#231f20" stroke-width="0.8"/>
<line x1="460.5" y1="412.25" x2="463.1" y2="412.25" stroke="#231f20" stroke-width="0.8"/>
<line x1="461.8" y1="462.5" x2="461.8" y2="452.75" stroke="#231f20" stroke-width="0.8"/>
<line x1="460.5" y1="462.5" x2="463.1" y2="462.5" stroke="#231f20" stroke-width="0.8"/>
<line x1="460.5" y1="452.75" x2="463.1" y2="452.75" stroke="#231f20" stroke-width="0.8"/>
<line x1="461.8" y1="452.75" x2="461.8" y2="449" stroke="#231f20" stroke-width="0.8"/>
<line x1="460.5" y1="452.75" x2="463.1" y2="452.75" stroke="#231f20" stroke-width="0.8"/>
<line x1="460.5" y1="449" x2="463.1" y2="449" stroke="#231f20" stroke-width="0.8"/>
<line x1="498.4" y1="458" x2="498.4" y2="449" stroke="#231f20" stroke-width="0.8"/>
<line x1="497.1" y1="458" x2="499.7" y2="458" stroke="#231f20" stroke-width="0.8"/>
<line x1="497.1" y1="449" x2="499.7" y2="449" stroke="#231f20" stroke-width="0.8"/>
<line x1="498.4" y1="465.5" x2="498.4" y2="459.5" stroke="#231f20" stroke-width="0.8"/>
<line x1="497.1" y1="465.5" x2="499.7" y2="465.5" stroke="#231f20" stroke-width="0.8"/>
<line x1="497.1" y1="459.5" x2="499.7" y2="459.5" stroke="#231f20" stroke-width="0.8"/>
<line x1="498.4" y1="476" x2="498.4" y2="473" stroke="#231f20" stroke-width="0.8"/>
<line x1="497.1" y1="476" x2="499.7" y2="476" stroke="#231f20" stroke-width="0.8"/>
<line x1="497.1" y1="473" x2="499.7" y2="473" stroke="#231f20" stroke-width="0.8"/>
<text x="469.3" y="415.98" font-size="9.2" stroke="#231f20" stroke-width="0.09" text-anchor="middle">**</text>
<text x="469.3" y="424.08" font-size="9.2" stroke="#231f20" stroke-width="0.09" text-anchor="middle">**</text>
<text x="505.3" y="452.78" font-size="9.2" stroke="#231f20" stroke-width="0.09" text-anchor="middle">**</text>
<text x="505.3" y="461.08" font-size="9.2" stroke="#231f20" stroke-width="0.09" text-anchor="middle">**</text>
<text x="505.3" y="469.78" font-size="9.2" stroke="#231f20" stroke-width="0.09" text-anchor="middle">**</text>
<line x1="413" y1="477.5" x2="511" y2="477.5" stroke="#231f20" stroke-width="1.3"/>
<line x1="413" y1="383" x2="413" y2="478.1" stroke="#231f20" stroke-width="1"/>
<line x1="409.9" y1="477.5" x2="413" y2="477.5" stroke="#231f20" stroke-width="0.9"/>
<text x="408.5" y="480.86" font-size="9.36" stroke="#231f20" stroke-width="0.13" text-anchor="end" textLength="4.9" lengthAdjust="spacingAndGlyphs">0</text>
<line x1="409.9" y1="462.5" x2="413" y2="462.5" stroke="#231f20" stroke-width="0.9"/>
<text x="408.5" y="465.86" font-size="9.36" stroke="#231f20" stroke-width="0.13" text-anchor="end" textLength="4.9" lengthAdjust="spacingAndGlyphs">2</text>
<line x1="409.9" y1="447.5" x2="413" y2="447.5" stroke="#231f20" stroke-width="0.9"/>
<text x="408.5" y="450.86" font-size="9.36" stroke="#231f20" stroke-width="0.13" text-anchor="end" textLength="4.9" lengthAdjust="spacingAndGlyphs">4</text>
<line x1="409.9" y1="432.5" x2="413" y2="432.5" stroke="#231f20" stroke-width="0.9"/>
<text x="408.5" y="435.86" font-size="9.36" stroke="#231f20" stroke-width="0.13" text-anchor="end" textLength="4.9" lengthAdjust="spacingAndGlyphs">6</text>
<line x1="409.9" y1="417.5" x2="413" y2="417.5" stroke="#231f20" stroke-width="0.9"/>
<text x="408.5" y="420.86" font-size="9.36" stroke="#231f20" stroke-width="0.13" text-anchor="end" textLength="4.9" lengthAdjust="spacingAndGlyphs">8</text>
<line x1="409.9" y1="402.5" x2="413" y2="402.5" stroke="#231f20" stroke-width="0.9"/>
<text x="408.5" y="405.86" font-size="9.36" stroke="#231f20" stroke-width="0.13" text-anchor="end" textLength="9.3" lengthAdjust="spacingAndGlyphs">10</text>
<line x1="409.9" y1="387.5" x2="413" y2="387.5" stroke="#231f20" stroke-width="0.9"/>
<text x="408.5" y="390.86" font-size="9.36" stroke="#231f20" stroke-width="0.13" text-anchor="end" textLength="9.3" lengthAdjust="spacingAndGlyphs">12</text>
<line x1="413" y1="477.5" x2="413" y2="480.2" stroke="#231f20" stroke-width="0.9"/>
<text x="413" y="489.6" font-size="9.36" stroke="#231f20" stroke-width="0.13" text-anchor="middle" textLength="4.77" lengthAdjust="spacingAndGlyphs">0</text>
<line x1="437.4" y1="477.5" x2="437.4" y2="480.2" stroke="#231f20" stroke-width="0.9"/>
<text x="437.4" y="489.6" font-size="9.36" stroke="#231f20" stroke-width="0.13" text-anchor="middle" textLength="4.77" lengthAdjust="spacingAndGlyphs">2</text>
<line x1="461.8" y1="477.5" x2="461.8" y2="480.2" stroke="#231f20" stroke-width="0.9"/>
<text x="461.8" y="489.6" font-size="9.36" stroke="#231f20" stroke-width="0.13" text-anchor="middle" textLength="4.77" lengthAdjust="spacingAndGlyphs">4</text>
<line x1="486.2" y1="477.5" x2="486.2" y2="480.2" stroke="#231f20" stroke-width="0.9"/>
<text x="486.2" y="489.6" font-size="9.36" stroke="#231f20" stroke-width="0.13" text-anchor="middle" textLength="4.77" lengthAdjust="spacingAndGlyphs">6</text>
<line x1="510.6" y1="477.5" x2="510.6" y2="480.2" stroke="#231f20" stroke-width="0.9"/>
<text x="510.6" y="489.6" font-size="9.36" stroke="#231f20" stroke-width="0.13" text-anchor="middle" textLength="4.77" lengthAdjust="spacingAndGlyphs">8</text>
<text x="463.1" y="502.5" font-size="10.8" stroke="#231f20" stroke-width="0.16" text-anchor="middle" textLength="48.7" lengthAdjust="spacingAndGlyphs">Days in culture</text>
<text transform="translate(394.8 433.4) rotate(-90)" font-size="10.67" stroke="#231f20" stroke-width="0.16" text-anchor="middle" textLength="117.3" lengthAdjust="spacingAndGlyphs">Cumulative CD34<tspan font-size="75%" baseline-shift="super">+</tspan> cell fold change</text>
<line x1="417" y1="385.8" x2="423.7" y2="385.8" stroke="#c8102e" stroke-width="1.4"/>
<text x="426.3" y="388.5" font-size="8.36" stroke="#231f20" stroke-width="0.09" textLength="16.3" lengthAdjust="spacingAndGlyphs">Cntrl</text>
<line x1="417" y1="394.3" x2="423.7" y2="394.3" stroke="#43b649" stroke-width="1.4"/>
<text x="426.3" y="397" font-size="8.36" stroke="#231f20" stroke-width="0.09" textLength="31" lengthAdjust="spacingAndGlyphs">PLAG1-A</text>
<line x1="417" y1="402.8" x2="423.7" y2="402.8" stroke="#5b2a72" stroke-width="1.4"/>
<text x="426.3" y="405.5" font-size="8.36" stroke="#231f20" stroke-width="0.09" textLength="30.6" lengthAdjust="spacingAndGlyphs">PLAG1-B</text>
<line x1="417" y1="411.3" x2="423.7" y2="411.3" stroke="#1c5a97" stroke-width="1.4"/>
<text x="426.3" y="414" font-size="8.36" stroke="#231f20" stroke-width="0.09" textLength="29.6" lengthAdjust="spacingAndGlyphs">PLAG1-S</text>
<text x="7.2" y="546.2" font-size="10.4" font-weight="bold" fill="#000" textLength="3.3" lengthAdjust="spacingAndGlyphs">I</text>
<rect x="38.1" y="589.33" width="12.9" height="35.57" fill="#e27d93"/>
<circle cx="44.55" cy="571.09" r="1.7" fill="#c8102e"/>
<circle cx="44.55" cy="575.65" r="1.7" fill="#c8102e"/>
<circle cx="44.55" cy="581.12" r="1.7" fill="#c8102e"/>
<circle cx="44.55" cy="582.95" r="1.7" fill="#c8102e"/>
<circle cx="44.55" cy="585.68" r="1.7" fill="#c8102e"/>
<circle cx="44.55" cy="592.98" r="1.7" fill="#c8102e"/>
<circle cx="44.55" cy="596.63" r="1.7" fill="#c8102e"/>
<circle cx="44.55" cy="600.28" r="1.7" fill="#c8102e"/>
<circle cx="44.55" cy="602.1" r="1.7" fill="#c8102e"/>
<circle cx="44.55" cy="603.92" r="1.7" fill="#c8102e"/>
<line x1="44.55" y1="583.86" x2="44.55" y2="590.7" stroke="#231f20" stroke-width="0.9"/>
<line x1="42.95" y1="583.86" x2="46.15" y2="583.86" stroke="#231f20" stroke-width="0.9"/>
<line x1="42.95" y1="590.7" x2="46.15" y2="590.7" stroke="#231f20" stroke-width="0.9"/>
<rect x="53.5" y="590.24" width="12.8" height="34.66" fill="#a5dca0"/>
<circle cx="59.9" cy="582.04" r="1.7" fill="#3bb54a"/>
<circle cx="59.9" cy="592.07" r="1.7" fill="#3bb54a"/>
<circle cx="59.9" cy="597.08" r="1.7" fill="#3bb54a"/>
<line x1="59.9" y1="585.23" x2="59.9" y2="594.8" stroke="#231f20" stroke-width="0.9"/>
<line x1="58.3" y1="585.23" x2="61.5" y2="585.23" stroke="#231f20" stroke-width="0.9"/>
<line x1="58.3" y1="594.8" x2="61.5" y2="594.8" stroke="#231f20" stroke-width="0.9"/>
<rect x="68.8" y="584.32" width="12.9" height="40.58" fill="#b69bc9"/>
<circle cx="75.25" cy="570.18" r="1.7" fill="#5b2a72"/>
<circle cx="75.25" cy="576.11" r="1.7" fill="#5b2a72"/>
<circle cx="75.25" cy="586.6" r="1.7" fill="#5b2a72"/>
<circle cx="75.25" cy="597.08" r="1.7" fill="#5b2a72"/>
<line x1="75.25" y1="580.67" x2="75.25" y2="588.88" stroke="#231f20" stroke-width="0.9"/>
<line x1="73.65" y1="580.67" x2="76.85" y2="580.67" stroke="#231f20" stroke-width="0.9"/>
<line x1="73.65" y1="588.88" x2="76.85" y2="588.88" stroke="#231f20" stroke-width="0.9"/>
<rect x="84.2" y="574.47" width="13.5" height="50.43" fill="#7ea3c7"/>
<circle cx="90.95" cy="561.06" r="1.7" fill="#1c5a97"/>
<circle cx="90.95" cy="564.71" r="1.7" fill="#1c5a97"/>
<circle cx="90.95" cy="570.18" r="1.7" fill="#1c5a97"/>
<circle cx="90.95" cy="572" r="1.7" fill="#1c5a97"/>
<circle cx="90.95" cy="583.86" r="1.7" fill="#1c5a97"/>
<circle cx="90.95" cy="596.17" r="1.7" fill="#1c5a97"/>
<line x1="90.95" y1="571.55" x2="90.95" y2="577.02" stroke="#231f20" stroke-width="0.9"/>
<line x1="89.35" y1="571.55" x2="92.55" y2="571.55" stroke="#231f20" stroke-width="0.9"/>
<line x1="89.35" y1="577.02" x2="92.55" y2="577.02" stroke="#231f20" stroke-width="0.9"/>
<rect x="100.5" y="620.07" width="12.4" height="4.83" fill="#e27d93"/>
<circle cx="106.7" cy="617.6" r="1.7" fill="#c8102e"/>
<circle cx="106.7" cy="619.43" r="1.7" fill="#c8102e"/>
<circle cx="106.7" cy="620.34" r="1.7" fill="#c8102e"/>
<circle cx="106.7" cy="621.25" r="1.7" fill="#c8102e"/>
<circle cx="106.7" cy="621.71" r="1.7" fill="#c8102e"/>
<line x1="106.7" y1="618.52" x2="106.7" y2="620.8" stroke="#231f20" stroke-width="0.9"/>
<line x1="105.1" y1="618.52" x2="108.3" y2="618.52" stroke="#231f20" stroke-width="0.9"/>
<line x1="105.1" y1="620.8" x2="108.3" y2="620.8" stroke="#231f20" stroke-width="0.9"/>
<rect x="115.6" y="610.31" width="12.7" height="14.59" fill="#a5dca0"/>
<circle cx="121.95" cy="607.57" r="1.7" fill="#3bb54a"/>
<circle cx="121.95" cy="611.22" r="1.7" fill="#3bb54a"/>
<circle cx="121.95" cy="616.24" r="1.7" fill="#3bb54a"/>
<line x1="121.95" y1="607.57" x2="121.95" y2="613.04" stroke="#231f20" stroke-width="0.9"/>
<line x1="120.35" y1="607.57" x2="123.55" y2="607.57" stroke="#231f20" stroke-width="0.9"/>
<line x1="120.35" y1="613.04" x2="123.55" y2="613.04" stroke="#231f20" stroke-width="0.9"/>
<rect x="131" y="615.78" width="12.6" height="9.12" fill="#b69bc9"/>
<circle cx="137.3" cy="610.31" r="1.7" fill="#5b2a72"/>
<circle cx="137.3" cy="613.5" r="1.7" fill="#5b2a72"/>
<circle cx="137.3" cy="616.69" r="1.7" fill="#5b2a72"/>
<circle cx="137.3" cy="621.71" r="1.7" fill="#5b2a72"/>
<line x1="137.3" y1="612.13" x2="137.3" y2="617.6" stroke="#231f20" stroke-width="0.9"/>
<line x1="135.7" y1="612.13" x2="138.9" y2="612.13" stroke="#231f20" stroke-width="0.9"/>
<line x1="135.7" y1="617.6" x2="138.9" y2="617.6" stroke="#231f20" stroke-width="0.9"/>
<rect x="146.3" y="615.14" width="12.9" height="9.76" fill="#7ea3c7"/>
<circle cx="152.75" cy="610.31" r="1.7" fill="#1c5a97"/>
<circle cx="152.75" cy="613.04" r="1.7" fill="#1c5a97"/>
<circle cx="152.75" cy="615.78" r="1.7" fill="#1c5a97"/>
<circle cx="152.75" cy="616.69" r="1.7" fill="#1c5a97"/>
<circle cx="152.75" cy="621.25" r="1.7" fill="#1c5a97"/>
<line x1="152.75" y1="613.04" x2="152.75" y2="617.15" stroke="#231f20" stroke-width="0.9"/>
<line x1="151.15" y1="613.04" x2="154.35" y2="613.04" stroke="#231f20" stroke-width="0.9"/>
<line x1="151.15" y1="617.15" x2="154.35" y2="617.15" stroke="#231f20" stroke-width="0.9"/>
<text x="90.9" y="559.38" font-size="9.2" stroke="#231f20" stroke-width="0.09" text-anchor="middle">**</text>
<text x="122" y="606.78" font-size="9.2" stroke="#231f20" stroke-width="0.09" text-anchor="middle">*</text>
<text x="152.7" y="608.78" font-size="9.2" stroke="#231f20" stroke-width="0.09" text-anchor="middle">**</text>
<line x1="34.5" y1="624.9" x2="162" y2="624.9" stroke="#231f20" stroke-width="1.3"/>
<line x1="34.5" y1="548" x2="34.5" y2="625.5" stroke="#231f20" stroke-width="1.1"/>
<line x1="31.5" y1="624.9" x2="34.5" y2="624.9" stroke="#231f20" stroke-width="0.9"/>
<text x="29.6" y="628.26" font-size="9.36" stroke="#231f20" stroke-width="0.13" text-anchor="end" textLength="4.9" lengthAdjust="spacingAndGlyphs">0</text>
<line x1="31.5" y1="615.78" x2="34.5" y2="615.78" stroke="#231f20" stroke-width="0.9"/>
<text x="29.6" y="619.14" font-size="9.36" stroke="#231f20" stroke-width="0.13" text-anchor="end" textLength="9.3" lengthAdjust="spacingAndGlyphs">10</text>
<line x1="31.5" y1="606.66" x2="34.5" y2="606.66" stroke="#231f20" stroke-width="0.9"/>
<text x="29.6" y="610.02" font-size="9.36" stroke="#231f20" stroke-width="0.13" text-anchor="end" textLength="9.3" lengthAdjust="spacingAndGlyphs">20</text>
<line x1="31.5" y1="597.54" x2="34.5" y2="597.54" stroke="#231f20" stroke-width="0.9"/>
<text x="29.6" y="600.9" font-size="9.36" stroke="#231f20" stroke-width="0.13" text-anchor="end" textLength="9.3" lengthAdjust="spacingAndGlyphs">30</text>
<line x1="31.5" y1="588.42" x2="34.5" y2="588.42" stroke="#231f20" stroke-width="0.9"/>
<text x="29.6" y="591.78" font-size="9.36" stroke="#231f20" stroke-width="0.13" text-anchor="end" textLength="9.3" lengthAdjust="spacingAndGlyphs">40</text>
<line x1="31.5" y1="579.3" x2="34.5" y2="579.3" stroke="#231f20" stroke-width="0.9"/>
<text x="29.6" y="582.66" font-size="9.36" stroke="#231f20" stroke-width="0.13" text-anchor="end" textLength="9.3" lengthAdjust="spacingAndGlyphs">50</text>
<line x1="31.5" y1="570.18" x2="34.5" y2="570.18" stroke="#231f20" stroke-width="0.9"/>
<text x="29.6" y="573.54" font-size="9.36" stroke="#231f20" stroke-width="0.13" text-anchor="end" textLength="9.3" lengthAdjust="spacingAndGlyphs">60</text>
<line x1="31.5" y1="561.06" x2="34.5" y2="561.06" stroke="#231f20" stroke-width="0.9"/>
<text x="29.6" y="564.42" font-size="9.36" stroke="#231f20" stroke-width="0.13" text-anchor="end" textLength="9.3" lengthAdjust="spacingAndGlyphs">70</text>
<line x1="31.5" y1="551.94" x2="34.5" y2="551.94" stroke="#231f20" stroke-width="0.9"/>
<text x="29.6" y="555.3" font-size="9.36" stroke="#231f20" stroke-width="0.13" text-anchor="end" textLength="9.3" lengthAdjust="spacingAndGlyphs">80</text>
<line x1="34.5" y1="625" x2="34.5" y2="678.8" stroke="#231f20" stroke-width="1"/>
<line x1="99.2" y1="625" x2="99.2" y2="678.8" stroke="#231f20" stroke-width="1"/>
<line x1="161.4" y1="625" x2="161.4" y2="678.8" stroke="#231f20" stroke-width="1"/>
<line x1="44.55" y1="624.9" x2="44.55" y2="627.6" stroke="#231f20" stroke-width="0.9"/>
<text transform="translate(47.45 631.5) rotate(-90)" font-size="8.85" stroke="#231f20" stroke-width="0.16" text-anchor="end" textLength="17" lengthAdjust="spacingAndGlyphs">Cntrl</text>
<line x1="59.9" y1="624.9" x2="59.9" y2="627.6" stroke="#231f20" stroke-width="0.9"/>
<text transform="translate(62.8 631.5) rotate(-90)" font-size="8.85" stroke="#231f20" stroke-width="0.16" text-anchor="end" textLength="32" lengthAdjust="spacingAndGlyphs">PLAG1-A</text>
<line x1="75.25" y1="624.9" x2="75.25" y2="627.6" stroke="#231f20" stroke-width="0.9"/>
<text transform="translate(78.15 631.5) rotate(-90)" font-size="8.85" stroke="#231f20" stroke-width="0.16" text-anchor="end" textLength="32" lengthAdjust="spacingAndGlyphs">PLAG1-B</text>
<line x1="90.95" y1="624.9" x2="90.95" y2="627.6" stroke="#231f20" stroke-width="0.9"/>
<text transform="translate(93.85 631.5) rotate(-90)" font-size="8.85" stroke="#231f20" stroke-width="0.16" text-anchor="end" textLength="31.5" lengthAdjust="spacingAndGlyphs">PLAG1-S</text>
<line x1="106.7" y1="624.9" x2="106.7" y2="627.6" stroke="#231f20" stroke-width="0.9"/>
<text transform="translate(109.6 631.5) rotate(-90)" font-size="8.85" stroke="#231f20" stroke-width="0.16" text-anchor="end" textLength="17" lengthAdjust="spacingAndGlyphs">Cntrl</text>
<line x1="121.95" y1="624.9" x2="121.95" y2="627.6" stroke="#231f20" stroke-width="0.9"/>
<text transform="translate(124.85 631.5) rotate(-90)" font-size="8.85" stroke="#231f20" stroke-width="0.16" text-anchor="end" textLength="32" lengthAdjust="spacingAndGlyphs">PLAG1-A</text>
<line x1="137.3" y1="624.9" x2="137.3" y2="627.6" stroke="#231f20" stroke-width="0.9"/>
<text transform="translate(140.2 631.5) rotate(-90)" font-size="8.85" stroke="#231f20" stroke-width="0.16" text-anchor="end" textLength="32" lengthAdjust="spacingAndGlyphs">PLAG1-B</text>
<line x1="152.75" y1="624.9" x2="152.75" y2="627.6" stroke="#231f20" stroke-width="0.9"/>
<text transform="translate(155.65 631.5) rotate(-90)" font-size="8.85" stroke="#231f20" stroke-width="0.16" text-anchor="end" textLength="31.5" lengthAdjust="spacingAndGlyphs">PLAG1-S</text>
<text x="67.7" y="676.7" font-size="10.67" stroke="#231f20" stroke-width="0.16" text-anchor="middle" textLength="18.3" lengthAdjust="spacingAndGlyphs">Day 4</text>
<text x="130.2" y="676.7" font-size="10.67" stroke="#231f20" stroke-width="0.16" text-anchor="middle" textLength="18.3" lengthAdjust="spacingAndGlyphs">Day 7</text>
<text transform="translate(15.6 587.8) rotate(-90)" font-size="10.67" stroke="#231f20" stroke-width="0.16" text-anchor="middle" textLength="27" lengthAdjust="spacingAndGlyphs">% CD34<tspan font-size="75%" baseline-shift="super">+</tspan></text>
<text x="344.9" y="528.7" font-size="9.46" stroke="#231f20" stroke-width="0.09" text-anchor="middle" textLength="39" lengthAdjust="spacingAndGlyphs">16 weeks</text>
<line x1="173.8" y1="532.5" x2="509.7" y2="532.5" stroke="#231f20" stroke-width="1.25"/>
<text x="169.9" y="546.5" font-size="10.4" font-weight="bold" fill="#000" textLength="6.8" lengthAdjust="spacingAndGlyphs">J</text>
<text x="211.9" y="549.5" font-size="8.47" stroke="#231f20" stroke-width="0.09" text-anchor="middle" textLength="18.5" lengthAdjust="spacingAndGlyphs">Cntrl</text>
<text x="214.4" y="617.3" font-size="8.47" stroke="#231f20" stroke-width="0.09" text-anchor="middle" textLength="33.6" lengthAdjust="spacingAndGlyphs">PLAG1-S</text>
<line x1="179.4" y1="553" x2="179.4" y2="678.5" stroke="#231f20" stroke-width="0.9"/>
<polygon points="179.4,549.5 177.6,554.3 181.2,554.3" fill="#231f20"/>
<line x1="179.4" y1="678.5" x2="234" y2="678.5" stroke="#231f20" stroke-width="0.9"/>
<polygon points="238.5,678.5 233.7,676.7 233.7,680.3" fill="#231f20"/>
<text transform="translate(177.8 613.5) rotate(-90)" font-size="10.26" stroke="#231f20" stroke-width="0.16" text-anchor="middle" textLength="19.5" lengthAdjust="spacingAndGlyphs">SSC-H</text>
<text x="208.8" y="690.8" font-size="10.4" stroke="#231f20" stroke-width="0.16" text-anchor="middle" textLength="66.5" lengthAdjust="spacingAndGlyphs">BFP of human CD45<tspan font-size="75%" baseline-shift="super">+</tspan></text>
<g filter="url(#bl2)"><path d="M208.5 554 L211.5 554 L214 572 L222 588 L230 598 L230 602 L195 602 L198.5 590 L204.5 570 Z" fill="#e63546" fill-opacity="0.5"/><path d="M213 560 L230 570 L234 600 L222 600 Z" fill="#ea5a67" fill-opacity="0.18"/><path d="M196 578 L200 578 L198 603 L188 603 Z" fill="#ea5a67" fill-opacity="0.25"/></g>
<g fill="#e0303f" fill-opacity="0.3"><circle cx="209.0" cy="576.5" r="0.45"/><circle cx="210.2" cy="581.8" r="0.45"/><circle cx="201.0" cy="589.8" r="0.45"/><circle cx="210.7" cy="560.0" r="0.45"/><circle cx="205.0" cy="577.4" r="0.45"/><circle cx="206.2" cy="598.9" r="0.45"/><circle cx="206.7" cy="595.2" r="0.45"/><circle cx="201.5" cy="590.2" r="0.45"/><circle cx="219.3" cy="590.1" r="0.45"/><circle cx="214.2" cy="586.8" r="0.45"/><circle cx="200.7" cy="591.1" r="0.45"/><circle cx="210.1" cy="593.3" r="0.45"/><circle cx="203.5" cy="579.2" r="0.45"/><circle cx="206.5" cy="595.9" r="0.45"/><circle cx="220.3" cy="592.3" r="0.45"/><circle cx="222.1" cy="592.2" r="0.45"/><circle cx="215.2" cy="582.7" r="0.45"/><circle cx="219.9" cy="584.3" r="0.45"/><circle cx="199.6" cy="596.2" r="0.45"/><circle cx="206.2" cy="571.2" r="0.45"/><circle cx="205.3" cy="598.2" r="0.45"/><circle cx="203.5" cy="589.8" r="0.45"/><circle cx="205.5" cy="586.3" r="0.45"/><circle cx="209.8" cy="581.1" r="0.45"/><circle cx="220.2" cy="588.6" r="0.45"/><circle cx="222.1" cy="591.3" r="0.45"/><circle cx="226.6" cy="595.7" r="0.45"/><circle cx="201.4" cy="591.0" r="0.45"/><circle cx="225.4" cy="595.8" r="0.45"/><circle cx="209.4" cy="596.9" r="0.45"/><circle cx="201.7" cy="592.2" r="0.45"/><circle cx="209.5" cy="595.1" r="0.45"/><circle cx="203.7" cy="578.5" r="0.45"/><circle cx="226.6" cy="595.7" r="0.45"/><circle cx="212.2" cy="568.1" r="0.45"/><circle cx="203.1" cy="583.2" r="0.45"/><circle cx="213.7" cy="578.9" r="0.45"/><circle cx="199.3" cy="596.1" r="0.45"/><circle cx="201.0" cy="589.5" r="0.45"/><circle cx="203.7" cy="592.3" r="0.45"/><circle cx="226.4" cy="596.3" r="0.45"/><circle cx="223.0" cy="586.3" r="0.45"/><circle cx="203.5" cy="579.5" r="0.45"/><circle cx="201.0" cy="589.1" r="0.45"/><circle cx="207.3" cy="574.5" r="0.45"/><circle cx="201.7" cy="589.4" r="0.45"/><circle cx="212.0" cy="564.1" r="0.45"/><circle cx="218.9" cy="579.6" r="0.45"/><circle cx="204.0" cy="596.7" r="0.45"/><circle cx="208.3" cy="584.9" r="0.45"/><circle cx="210.1" cy="590.3" r="0.45"/><circle cx="210.8" cy="587.9" r="0.45"/><circle cx="207.4" cy="597.7" r="0.45"/><circle cx="213.2" cy="583.9" r="0.45"/><circle cx="205.8" cy="576.4" r="0.45"/><circle cx="207.8" cy="598.5" r="0.45"/><circle cx="201.4" cy="587.6" r="0.45"/><circle cx="209.7" cy="583.4" r="0.45"/><circle cx="209.7" cy="561.2" r="0.45"/><circle cx="200.9" cy="590.0" r="0.45"/><circle cx="206.8" cy="589.9" r="0.45"/><circle cx="204.2" cy="591.3" r="0.45"/><circle cx="214.9" cy="592.0" r="0.45"/><circle cx="207.9" cy="561.6" r="0.45"/><circle cx="223.5" cy="591.2" r="0.45"/><circle cx="207.6" cy="577.0" r="0.45"/><circle cx="204.0" cy="588.9" r="0.45"/><circle cx="205.1" cy="581.5" r="0.45"/><circle cx="210.0" cy="581.7" r="0.45"/><circle cx="206.3" cy="579.1" r="0.45"/><circle cx="199.9" cy="593.7" r="0.45"/><circle cx="214.2" cy="588.2" r="0.45"/><circle cx="204.5" cy="579.5" r="0.45"/><circle cx="201.7" cy="594.4" r="0.45"/><circle cx="207.6" cy="574.0" r="0.45"/><circle cx="200.7" cy="591.8" r="0.45"/><circle cx="205.6" cy="580.0" r="0.45"/><circle cx="205.7" cy="595.2" r="0.45"/><circle cx="200.5" cy="595.7" r="0.45"/><circle cx="211.1" cy="580.5" r="0.45"/><circle cx="205.9" cy="596.4" r="0.45"/><circle cx="204.6" cy="575.9" r="0.45"/><circle cx="202.6" cy="587.0" r="0.45"/><circle cx="219.2" cy="594.5" r="0.45"/><circle cx="206.1" cy="573.9" r="0.45"/><circle cx="211.8" cy="594.5" r="0.45"/><circle cx="203.6" cy="594.5" r="0.45"/><circle cx="206.7" cy="570.8" r="0.45"/><circle cx="202.3" cy="594.2" r="0.45"/><circle cx="206.7" cy="580.9" r="0.45"/><circle cx="206.3" cy="583.5" r="0.45"/><circle cx="200.0" cy="597.2" r="0.45"/><circle cx="210.6" cy="558.0" r="0.45"/><circle cx="226.7" cy="596.3" r="0.45"/><circle cx="220.3" cy="584.0" r="0.45"/><circle cx="200.8" cy="597.4" r="0.45"/><circle cx="218.8" cy="593.0" r="0.45"/><circle cx="208.0" cy="590.8" r="0.45"/><circle cx="205.9" cy="578.7" r="0.45"/><circle cx="204.4" cy="576.0" r="0.45"/><circle cx="203.5" cy="588.8" r="0.45"/><circle cx="199.7" cy="594.6" r="0.45"/><circle cx="213.8" cy="596.8" r="0.45"/><circle cx="222.6" cy="597.3" r="0.45"/><circle cx="209.6" cy="596.7" r="0.45"/><circle cx="210.3" cy="560.0" r="0.45"/><circle cx="206.4" cy="573.2" r="0.45"/><circle cx="208.2" cy="590.8" r="0.45"/><circle cx="219.7" cy="583.3" r="0.45"/><circle cx="204.3" cy="589.4" r="0.45"/><circle cx="215.5" cy="577.1" r="0.45"/><circle cx="215.2" cy="585.4" r="0.45"/><circle cx="203.9" cy="581.1" r="0.45"/><circle cx="216.7" cy="587.2" r="0.45"/><circle cx="213.1" cy="573.2" r="0.45"/><circle cx="218.5" cy="597.2" r="0.45"/><circle cx="199.5" cy="594.9" r="0.45"/><circle cx="219.0" cy="589.9" r="0.45"/><circle cx="207.7" cy="564.8" r="0.45"/><circle cx="208.7" cy="577.8" r="0.45"/><circle cx="207.4" cy="583.6" r="0.45"/><circle cx="199.8" cy="593.8" r="0.45"/><circle cx="207.1" cy="565.3" r="0.45"/><circle cx="205.7" cy="570.5" r="0.45"/><circle cx="221.0" cy="598.4" r="0.45"/><circle cx="208.8" cy="567.9" r="0.45"/><circle cx="205.4" cy="579.7" r="0.45"/><circle cx="211.1" cy="581.1" r="0.45"/><circle cx="204.7" cy="588.7" r="0.45"/><circle cx="206.5" cy="574.2" r="0.45"/><circle cx="209.3" cy="570.5" r="0.45"/><circle cx="204.6" cy="592.2" r="0.45"/><circle cx="206.8" cy="567.4" r="0.45"/><circle cx="210.2" cy="581.9" r="0.45"/><circle cx="204.4" cy="593.9" r="0.45"/><circle cx="211.1" cy="594.4" r="0.45"/><circle cx="205.6" cy="583.9" r="0.45"/><circle cx="213.0" cy="586.0" r="0.45"/><circle cx="212.4" cy="583.5" r="0.45"/><circle cx="203.7" cy="584.9" r="0.45"/><circle cx="212.9" cy="587.2" r="0.45"/><circle cx="208.3" cy="566.8" r="0.45"/><circle cx="217.9" cy="583.7" r="0.45"/><circle cx="203.8" cy="597.6" r="0.45"/><circle cx="217.7" cy="596.7" r="0.45"/><circle cx="207.7" cy="577.5" r="0.45"/><circle cx="212.9" cy="570.4" r="0.45"/><circle cx="220.2" cy="590.8" r="0.45"/><circle cx="212.6" cy="594.2" r="0.45"/><circle cx="209.2" cy="592.7" r="0.45"/><circle cx="209.7" cy="569.1" r="0.45"/><circle cx="208.8" cy="558.1" r="0.45"/><circle cx="199.9" cy="593.7" r="0.45"/><circle cx="206.3" cy="568.3" r="0.45"/><circle cx="200.5" cy="596.3" r="0.45"/><circle cx="211.2" cy="561.7" r="0.45"/><circle cx="213.4" cy="570.3" r="0.45"/><circle cx="218.3" cy="591.1" r="0.45"/><circle cx="209.7" cy="597.9" r="0.45"/><circle cx="199.7" cy="594.3" r="0.45"/><circle cx="207.7" cy="593.5" r="0.45"/><circle cx="200.6" cy="592.2" r="0.45"/><circle cx="223.0" cy="593.1" r="0.45"/><circle cx="207.8" cy="565.9" r="0.45"/><circle cx="217.3" cy="588.0" r="0.45"/><circle cx="204.8" cy="576.7" r="0.45"/><circle cx="210.3" cy="577.0" r="0.45"/><circle cx="204.8" cy="593.2" r="0.45"/><circle cx="206.3" cy="581.7" r="0.45"/><circle cx="206.7" cy="581.0" r="0.45"/><circle cx="208.8" cy="567.7" r="0.45"/><circle cx="204.7" cy="598.4" r="0.45"/><circle cx="201.0" cy="593.0" r="0.45"/><circle cx="215.4" cy="591.6" r="0.45"/><circle cx="208.0" cy="591.1" r="0.45"/><circle cx="211.3" cy="585.6" r="0.45"/><circle cx="200.0" cy="596.7" r="0.45"/><circle cx="211.6" cy="568.6" r="0.45"/><circle cx="207.7" cy="597.1" r="0.45"/><circle cx="213.2" cy="584.3" r="0.45"/><circle cx="206.0" cy="574.0" r="0.45"/><circle cx="209.7" cy="574.6" r="0.45"/><circle cx="204.5" cy="579.7" r="0.45"/><circle cx="223.2" cy="591.6" r="0.45"/><circle cx="212.2" cy="578.9" r="0.45"/><circle cx="216.9" cy="583.3" r="0.45"/><circle cx="203.2" cy="588.6" r="0.45"/><circle cx="204.4" cy="575.5" r="0.45"/><circle cx="205.6" cy="585.5" r="0.45"/><circle cx="206.9" cy="573.3" r="0.45"/><circle cx="214.0" cy="580.0" r="0.45"/><circle cx="216.5" cy="571.7" r="0.45"/><circle cx="210.1" cy="585.5" r="0.45"/><circle cx="216.8" cy="585.1" r="0.45"/><circle cx="209.0" cy="594.9" r="0.45"/><circle cx="213.4" cy="585.5" r="0.45"/><circle cx="204.7" cy="595.7" r="0.45"/><circle cx="224.0" cy="592.7" r="0.45"/><circle cx="203.4" cy="585.1" r="0.45"/><circle cx="212.2" cy="576.3" r="0.45"/><circle cx="223.3" cy="591.2" r="0.45"/><circle cx="201.5" cy="595.7" r="0.45"/><circle cx="205.9" cy="574.2" r="0.45"/><circle cx="211.7" cy="574.0" r="0.45"/><circle cx="222.3" cy="595.8" r="0.45"/><circle cx="215.6" cy="577.2" r="0.45"/><circle cx="206.9" cy="579.6" r="0.45"/><circle cx="200.4" cy="592.6" r="0.45"/><circle cx="212.7" cy="568.4" r="0.45"/><circle cx="206.1" cy="578.8" r="0.45"/><circle cx="212.4" cy="588.5" r="0.45"/><circle cx="208.9" cy="558.7" r="0.45"/><circle cx="207.6" cy="584.1" r="0.45"/><circle cx="209.7" cy="575.2" r="0.45"/><circle cx="204.2" cy="598.0" r="0.45"/><circle cx="201.9" cy="587.5" r="0.45"/><circle cx="211.3" cy="578.1" r="0.45"/><circle cx="213.9" cy="569.8" r="0.45"/><circle cx="199.4" cy="596.9" r="0.45"/><circle cx="203.8" cy="597.7" r="0.45"/><circle cx="215.8" cy="593.7" r="0.45"/><circle cx="211.6" cy="578.9" r="0.45"/><circle cx="217.1" cy="590.6" r="0.45"/><circle cx="213.1" cy="577.7" r="0.45"/><circle cx="213.1" cy="598.1" r="0.45"/><circle cx="201.9" cy="587.2" r="0.45"/><circle cx="205.0" cy="585.9" r="0.45"/><circle cx="212.8" cy="592.3" r="0.45"/><circle cx="202.3" cy="588.1" r="0.45"/><circle cx="211.2" cy="590.4" r="0.45"/><circle cx="215.1" cy="573.6" r="0.45"/><circle cx="201.2" cy="590.6" r="0.45"/><circle cx="199.7" cy="597.5" r="0.45"/><circle cx="212.7" cy="580.3" r="0.45"/><circle cx="209.0" cy="589.0" r="0.45"/><circle cx="206.6" cy="590.4" r="0.45"/><circle cx="204.1" cy="579.6" r="0.45"/><circle cx="210.9" cy="566.5" r="0.45"/><circle cx="208.6" cy="593.2" r="0.45"/><circle cx="204.1" cy="592.8" r="0.45"/><circle cx="206.6" cy="577.7" r="0.45"/><circle cx="199.3" cy="596.1" r="0.45"/><circle cx="203.4" cy="586.3" r="0.45"/><circle cx="203.9" cy="593.6" r="0.45"/><circle cx="206.5" cy="580.4" r="0.45"/><circle cx="215.3" cy="587.4" r="0.45"/><circle cx="216.2" cy="581.1" r="0.45"/><circle cx="206.8" cy="569.7" r="0.45"/><circle cx="206.2" cy="568.9" r="0.45"/><circle cx="214.7" cy="593.8" r="0.45"/><circle cx="205.4" cy="573.9" r="0.45"/><circle cx="213.8" cy="583.4" r="0.45"/><circle cx="215.7" cy="594.7" r="0.45"/><circle cx="201.8" cy="588.9" r="0.45"/><circle cx="203.5" cy="582.8" r="0.45"/><circle cx="209.4" cy="587.0" r="0.45"/><circle cx="205.7" cy="574.8" r="0.45"/><circle cx="199.8" cy="593.9" r="0.45"/><circle cx="221.5" cy="594.4" r="0.45"/><circle cx="204.0" cy="597.9" r="0.45"/><circle cx="209.8" cy="587.7" r="0.45"/><circle cx="223.6" cy="590.0" r="0.45"/><circle cx="203.2" cy="591.5" r="0.45"/><circle cx="206.8" cy="595.8" r="0.45"/><circle cx="214.1" cy="589.1" r="0.45"/><circle cx="209.9" cy="557.1" r="0.45"/><circle cx="207.4" cy="590.8" r="0.45"/><circle cx="206.9" cy="586.8" r="0.45"/><circle cx="208.9" cy="574.4" r="0.45"/><circle cx="209.0" cy="563.5" r="0.45"/><circle cx="206.3" cy="590.4" r="0.45"/><circle cx="222.2" cy="588.1" r="0.45"/><circle cx="199.9" cy="596.6" r="0.45"/><circle cx="211.1" cy="594.2" r="0.45"/><circle cx="208.1" cy="564.9" r="0.45"/><circle cx="204.3" cy="576.3" r="0.45"/><circle cx="220.7" cy="587.3" r="0.45"/><circle cx="216.5" cy="580.0" r="0.45"/><circle cx="201.0" cy="591.7" r="0.45"/><circle cx="210.4" cy="595.8" r="0.45"/><circle cx="214.7" cy="597.4" r="0.45"/><circle cx="203.8" cy="592.8" r="0.45"/><circle cx="223.3" cy="594.5" r="0.45"/><circle cx="205.6" cy="595.8" r="0.45"/><circle cx="207.0" cy="593.3" r="0.45"/><circle cx="205.9" cy="569.5" r="0.45"/><circle cx="206.9" cy="567.3" r="0.45"/><circle cx="208.5" cy="572.6" r="0.45"/><circle cx="208.5" cy="591.8" r="0.45"/><circle cx="211.3" cy="583.6" r="0.45"/><circle cx="207.6" cy="579.3" r="0.45"/><circle cx="205.0" cy="593.3" r="0.45"/><circle cx="215.4" cy="573.7" r="0.45"/><circle cx="204.4" cy="592.3" r="0.45"/><circle cx="208.6" cy="581.8" r="0.45"/><circle cx="202.6" cy="589.0" r="0.45"/><circle cx="209.0" cy="557.3" r="0.45"/><circle cx="200.6" cy="593.9" r="0.45"/><circle cx="203.1" cy="584.8" r="0.45"/><circle cx="205.0" cy="575.1" r="0.45"/><circle cx="203.3" cy="583.0" r="0.45"/><circle cx="207.8" cy="562.3" r="0.45"/><circle cx="208.4" cy="573.0" r="0.45"/><circle cx="206.8" cy="565.8" r="0.45"/><circle cx="206.1" cy="584.5" r="0.45"/><circle cx="200.4" cy="591.9" r="0.45"/><circle cx="206.1" cy="582.9" r="0.45"/><circle cx="212.3" cy="562.2" r="0.45"/><circle cx="204.6" cy="575.6" r="0.45"/><circle cx="202.7" cy="585.3" r="0.45"/><circle cx="204.3" cy="589.7" r="0.45"/><circle cx="205.7" cy="570.5" r="0.45"/><circle cx="202.6" cy="592.5" r="0.45"/><circle cx="206.5" cy="594.1" r="0.45"/><circle cx="202.2" cy="597.5" r="0.45"/><circle cx="205.4" cy="577.0" r="0.45"/><circle cx="211.3" cy="594.7" r="0.45"/><circle cx="203.3" cy="580.8" r="0.45"/><circle cx="223.8" cy="591.3" r="0.45"/><circle cx="201.0" cy="588.9" r="0.45"/><circle cx="207.7" cy="562.7" r="0.45"/><circle cx="205.0" cy="573.2" r="0.45"/><circle cx="210.2" cy="565.2" r="0.45"/><circle cx="200.6" cy="596.7" r="0.45"/><circle cx="206.5" cy="598.4" r="0.45"/><circle cx="222.7" cy="594.4" r="0.45"/><circle cx="198.9" cy="597.7" r="0.45"/><circle cx="210.2" cy="579.3" r="0.45"/><circle cx="199.2" cy="597.8" r="0.45"/><circle cx="215.7" cy="578.8" r="0.45"/><circle cx="207.6" cy="569.9" r="0.45"/><circle cx="211.8" cy="580.4" r="0.45"/><circle cx="200.2" cy="597.4" r="0.45"/><circle cx="214.8" cy="592.8" r="0.45"/><circle cx="208.9" cy="595.2" r="0.45"/><circle cx="203.6" cy="597.3" r="0.45"/><circle cx="203.8" cy="583.3" r="0.45"/><circle cx="206.9" cy="593.8" r="0.45"/><circle cx="204.4" cy="577.8" r="0.45"/><circle cx="210.5" cy="592.4" r="0.45"/><circle cx="204.8" cy="592.1" r="0.45"/><circle cx="202.5" cy="585.7" r="0.45"/><circle cx="200.3" cy="592.1" r="0.45"/><circle cx="214.4" cy="585.1" r="0.45"/><circle cx="200.8" cy="591.2" r="0.45"/><circle cx="214.9" cy="576.4" r="0.45"/><circle cx="219.7" cy="590.3" r="0.45"/><circle cx="205.9" cy="596.1" r="0.45"/><circle cx="215.3" cy="596.7" r="0.45"/><circle cx="206.0" cy="580.4" r="0.45"/><circle cx="208.1" cy="566.8" r="0.45"/><circle cx="199.3" cy="598.0" r="0.45"/><circle cx="201.6" cy="588.2" r="0.45"/><circle cx="210.3" cy="567.5" r="0.45"/><circle cx="204.2" cy="576.6" r="0.45"/><circle cx="210.5" cy="572.2" r="0.45"/><circle cx="201.1" cy="588.7" r="0.45"/><circle cx="217.8" cy="576.1" r="0.45"/><circle cx="209.3" cy="575.6" r="0.45"/><circle cx="214.8" cy="583.5" r="0.45"/><circle cx="216.2" cy="589.2" r="0.45"/><circle cx="202.5" cy="587.2" r="0.45"/><circle cx="205.0" cy="573.5" r="0.45"/><circle cx="200.0" cy="595.0" r="0.45"/><circle cx="212.2" cy="561.8" r="0.45"/><circle cx="215.5" cy="574.6" r="0.45"/><circle cx="208.5" cy="567.9" r="0.45"/><circle cx="214.4" cy="575.8" r="0.45"/><circle cx="211.5" cy="589.5" r="0.45"/><circle cx="220.3" cy="593.4" r="0.45"/><circle cx="210.1" cy="580.9" r="0.45"/><circle cx="202.5" cy="584.4" r="0.45"/><circle cx="210.2" cy="595.2" r="0.45"/><circle cx="201.1" cy="594.7" r="0.45"/><circle cx="207.0" cy="587.3" r="0.45"/><circle cx="200.4" cy="592.5" r="0.45"/><circle cx="207.8" cy="580.9" r="0.45"/><circle cx="209.3" cy="566.8" r="0.45"/><circle cx="205.5" cy="592.7" r="0.45"/><circle cx="210.4" cy="590.4" r="0.45"/><circle cx="206.5" cy="575.4" r="0.45"/><circle cx="202.7" cy="598.9" r="0.45"/><circle cx="202.5" cy="583.9" r="0.45"/><circle cx="204.9" cy="575.5" r="0.45"/><circle cx="215.2" cy="597.5" r="0.45"/><circle cx="226.6" cy="596.2" r="0.45"/><circle cx="221.5" cy="589.4" r="0.45"/><circle cx="206.0" cy="587.2" r="0.45"/><circle cx="223.1" cy="597.8" r="0.45"/><circle cx="206.7" cy="597.9" r="0.45"/><circle cx="205.1" cy="593.7" r="0.45"/><circle cx="224.3" cy="598.9" r="0.45"/><circle cx="217.9" cy="578.8" r="0.45"/><circle cx="205.0" cy="573.9" r="0.45"/><circle cx="203.0" cy="592.4" r="0.45"/><circle cx="211.2" cy="586.7" r="0.45"/><circle cx="210.8" cy="563.9" r="0.45"/><circle cx="207.2" cy="578.1" r="0.45"/><circle cx="213.3" cy="580.8" r="0.45"/><circle cx="202.7" cy="593.0" r="0.45"/><circle cx="207.1" cy="569.1" r="0.45"/><circle cx="202.6" cy="583.2" r="0.45"/><circle cx="212.4" cy="572.2" r="0.45"/><circle cx="224.3" cy="591.8" r="0.45"/><circle cx="222.0" cy="598.6" r="0.45"/><circle cx="203.5" cy="581.9" r="0.45"/><circle cx="207.5" cy="579.6" r="0.45"/><circle cx="208.7" cy="586.9" r="0.45"/><circle cx="216.4" cy="581.4" r="0.45"/><circle cx="207.6" cy="578.5" r="0.45"/><circle cx="218.4" cy="596.4" r="0.45"/><circle cx="204.8" cy="579.0" r="0.45"/><circle cx="199.6" cy="594.5" r="0.45"/><circle cx="209.0" cy="571.0" r="0.45"/><circle cx="202.3" cy="587.2" r="0.45"/><circle cx="207.4" cy="564.9" r="0.45"/><circle cx="206.5" cy="593.6" r="0.45"/><circle cx="217.8" cy="598.5" r="0.45"/><circle cx="198.7" cy="598.5" r="0.45"/><circle cx="204.8" cy="573.9" r="0.45"/><circle cx="205.1" cy="583.9" r="0.45"/><circle cx="209.3" cy="565.0" r="0.45"/><circle cx="207.3" cy="568.5" r="0.45"/><circle cx="214.1" cy="576.9" r="0.45"/><circle cx="204.1" cy="583.5" r="0.45"/><circle cx="208.6" cy="564.2" r="0.45"/><circle cx="212.5" cy="589.9" r="0.45"/><circle cx="218.5" cy="597.0" r="0.45"/><circle cx="204.4" cy="576.9" r="0.45"/><circle cx="217.0" cy="593.3" r="0.45"/><circle cx="217.0" cy="586.4" r="0.45"/><circle cx="203.6" cy="587.7" r="0.45"/><circle cx="205.0" cy="573.1" r="0.45"/><circle cx="220.5" cy="590.3" r="0.45"/><circle cx="206.3" cy="596.9" r="0.45"/><circle cx="221.9" cy="590.9" r="0.45"/><circle cx="210.5" cy="594.7" r="0.45"/><circle cx="208.3" cy="583.3" r="0.45"/><circle cx="205.5" cy="573.2" r="0.45"/><circle cx="224.9" cy="591.4" r="0.45"/><circle cx="205.8" cy="587.5" r="0.45"/><circle cx="207.3" cy="581.1" r="0.45"/><circle cx="206.1" cy="594.4" r="0.45"/><circle cx="199.8" cy="598.1" r="0.45"/><circle cx="208.6" cy="579.7" r="0.45"/><circle cx="216.8" cy="583.2" r="0.45"/><circle cx="223.5" cy="595.0" r="0.45"/><circle cx="200.9" cy="589.4" r="0.45"/><circle cx="208.9" cy="588.4" r="0.45"/><circle cx="203.9" cy="585.7" r="0.45"/><circle cx="221.6" cy="592.1" r="0.45"/><circle cx="210.6" cy="569.1" r="0.45"/><circle cx="208.3" cy="581.8" r="0.45"/><circle cx="225.5" cy="596.6" r="0.45"/><circle cx="201.9" cy="590.3" r="0.45"/><circle cx="200.3" cy="597.2" r="0.45"/><circle cx="215.9" cy="582.2" r="0.45"/><circle cx="204.9" cy="579.7" r="0.45"/><circle cx="225.1" cy="597.9" r="0.45"/><circle cx="206.4" cy="579.8" r="0.45"/><circle cx="204.1" cy="578.4" r="0.45"/><circle cx="218.5" cy="577.0" r="0.45"/><circle cx="207.0" cy="567.4" r="0.45"/><circle cx="204.7" cy="574.7" r="0.45"/><circle cx="214.3" cy="586.9" r="0.45"/><circle cx="211.4" cy="595.3" r="0.45"/><circle cx="199.6" cy="594.8" r="0.45"/><circle cx="218.5" cy="578.4" r="0.45"/><circle cx="207.3" cy="566.6" r="0.45"/><circle cx="203.8" cy="585.6" r="0.45"/><circle cx="201.5" cy="587.5" r="0.45"/><circle cx="217.6" cy="576.4" r="0.45"/><circle cx="214.9" cy="571.7" r="0.45"/><circle cx="217.4" cy="573.6" r="0.45"/><circle cx="211.7" cy="591.1" r="0.45"/><circle cx="205.4" cy="571.6" r="0.45"/><circle cx="201.1" cy="593.3" r="0.45"/><circle cx="213.9" cy="574.2" r="0.45"/><circle cx="199.3" cy="596.2" r="0.45"/><circle cx="208.2" cy="598.1" r="0.45"/><circle cx="203.0" cy="582.2" r="0.45"/><circle cx="220.9" cy="582.5" r="0.45"/><circle cx="204.1" cy="578.3" r="0.45"/><circle cx="205.6" cy="571.8" r="0.45"/><circle cx="218.1" cy="581.1" r="0.45"/><circle cx="206.9" cy="567.2" r="0.45"/><circle cx="227.8" cy="597.6" r="0.45"/><circle cx="201.0" cy="598.6" r="0.45"/><circle cx="219.3" cy="581.2" r="0.45"/><circle cx="212.9" cy="585.6" r="0.45"/><circle cx="203.4" cy="579.6" r="0.45"/><circle cx="213.5" cy="580.9" r="0.45"/><circle cx="209.4" cy="593.9" r="0.45"/><circle cx="208.7" cy="585.0" r="0.45"/><circle cx="208.6" cy="584.3" r="0.45"/><circle cx="201.0" cy="595.2" r="0.45"/><circle cx="221.4" cy="588.9" r="0.45"/><circle cx="200.6" cy="595.5" r="0.45"/><circle cx="220.2" cy="598.2" r="0.45"/><circle cx="206.1" cy="573.0" r="0.45"/><circle cx="204.6" cy="574.8" r="0.45"/><circle cx="204.6" cy="598.5" r="0.45"/><circle cx="199.8" cy="596.1" r="0.45"/><circle cx="211.0" cy="560.2" r="0.45"/><circle cx="226.0" cy="594.2" r="0.45"/><circle cx="208.2" cy="591.4" r="0.45"/><circle cx="200.2" cy="593.5" r="0.45"/><circle cx="206.5" cy="587.3" r="0.45"/><circle cx="209.9" cy="571.8" r="0.45"/><circle cx="208.3" cy="580.0" r="0.45"/><circle cx="205.1" cy="581.9" r="0.45"/><circle cx="210.1" cy="581.3" r="0.45"/><circle cx="225.0" cy="598.6" r="0.45"/><circle cx="219.4" cy="595.9" r="0.45"/><circle cx="219.0" cy="578.6" r="0.45"/><circle cx="204.1" cy="577.9" r="0.45"/><circle cx="213.8" cy="586.1" r="0.45"/><circle cx="211.0" cy="580.7" r="0.45"/><circle cx="218.7" cy="578.4" r="0.45"/><circle cx="207.4" cy="584.6" r="0.45"/><circle cx="218.7" cy="587.1" r="0.45"/><circle cx="208.0" cy="598.7" r="0.45"/><circle cx="210.6" cy="584.2" r="0.45"/><circle cx="208.3" cy="566.6" r="0.45"/><circle cx="216.9" cy="595.5" r="0.45"/><circle cx="212.3" cy="565.7" r="0.45"/><circle cx="220.7" cy="582.3" r="0.45"/><circle cx="204.0" cy="581.6" r="0.45"/><circle cx="219.1" cy="587.6" r="0.45"/><circle cx="217.5" cy="583.9" r="0.45"/><circle cx="204.3" cy="592.1" r="0.45"/><circle cx="208.3" cy="579.1" r="0.45"/><circle cx="205.8" cy="582.8" r="0.45"/><circle cx="219.7" cy="590.5" r="0.45"/><circle cx="201.8" cy="588.6" r="0.45"/><circle cx="206.7" cy="575.6" r="0.45"/><circle cx="201.6" cy="589.5" r="0.45"/><circle cx="207.5" cy="567.6" r="0.45"/><circle cx="203.7" cy="578.4" r="0.45"/><circle cx="220.4" cy="587.3" r="0.45"/><circle cx="214.1" cy="587.2" r="0.45"/><circle cx="219.3" cy="595.0" r="0.45"/><circle cx="205.6" cy="597.0" r="0.45"/><circle cx="201.0" cy="591.3" r="0.45"/><circle cx="204.1" cy="596.3" r="0.45"/><circle cx="218.7" cy="585.3" r="0.45"/><circle cx="204.4" cy="578.6" r="0.45"/><circle cx="210.3" cy="594.9" r="0.45"/><circle cx="206.3" cy="567.8" r="0.45"/><circle cx="203.0" cy="581.1" r="0.45"/><circle cx="200.8" cy="595.1" r="0.45"/><circle cx="206.6" cy="578.0" r="0.45"/><circle cx="206.4" cy="586.5" r="0.45"/><circle cx="212.0" cy="589.9" r="0.45"/><circle cx="202.5" cy="584.1" r="0.45"/><circle cx="213.9" cy="598.5" r="0.45"/><circle cx="208.3" cy="567.7" r="0.45"/><circle cx="225.6" cy="593.2" r="0.45"/><circle cx="206.7" cy="566.3" r="0.45"/><circle cx="206.3" cy="585.5" r="0.45"/><circle cx="219.2" cy="596.6" r="0.45"/><circle cx="206.8" cy="580.3" r="0.45"/><circle cx="219.5" cy="588.6" r="0.45"/><circle cx="207.1" cy="574.8" r="0.45"/><circle cx="210.2" cy="568.1" r="0.45"/><circle cx="212.0" cy="562.2" r="0.45"/><circle cx="209.5" cy="586.8" r="0.45"/><circle cx="206.9" cy="567.8" r="0.45"/><circle cx="217.5" cy="585.1" r="0.45"/><circle cx="203.7" cy="587.3" r="0.45"/><circle cx="212.7" cy="598.6" r="0.45"/><circle cx="202.7" cy="587.0" r="0.45"/><circle cx="217.0" cy="579.0" r="0.45"/><circle cx="209.0" cy="571.0" r="0.45"/><circle cx="204.5" cy="589.6" r="0.45"/><circle cx="222.0" cy="593.6" r="0.45"/><circle cx="215.4" cy="595.7" r="0.45"/><circle cx="204.6" cy="574.9" r="0.45"/><circle cx="204.7" cy="583.9" r="0.45"/><circle cx="215.0" cy="574.4" r="0.45"/><circle cx="214.2" cy="575.5" r="0.45"/><circle cx="199.5" cy="597.6" r="0.45"/><circle cx="204.4" cy="597.1" r="0.45"/><circle cx="205.1" cy="575.3" r="0.45"/><circle cx="209.0" cy="563.5" r="0.45"/><circle cx="216.6" cy="582.3" r="0.45"/><circle cx="199.6" cy="595.2" r="0.45"/><circle cx="206.0" cy="582.9" r="0.45"/><circle cx="205.9" cy="573.5" r="0.45"/><circle cx="211.8" cy="577.6" r="0.45"/><circle cx="203.4" cy="580.7" r="0.45"/><circle cx="207.6" cy="575.7" r="0.45"/><circle cx="203.0" cy="588.1" r="0.45"/><circle cx="201.9" cy="591.8" r="0.45"/><circle cx="210.6" cy="591.0" r="0.45"/><circle cx="212.4" cy="573.4" r="0.45"/><circle cx="208.8" cy="582.6" r="0.45"/><circle cx="211.0" cy="589.0" r="0.45"/><circle cx="202.3" cy="584.3" r="0.45"/><circle cx="220.0" cy="594.0" r="0.45"/><circle cx="209.7" cy="585.8" r="0.45"/><circle cx="216.6" cy="577.8" r="0.45"/><circle cx="202.0" cy="591.4" r="0.45"/><circle cx="226.0" cy="594.8" r="0.45"/><circle cx="220.5" cy="580.9" r="0.45"/><circle cx="202.8" cy="585.6" r="0.45"/><circle cx="203.8" cy="592.3" r="0.45"/><circle cx="209.8" cy="592.7" r="0.45"/><circle cx="209.0" cy="569.4" r="0.45"/><circle cx="206.7" cy="595.6" r="0.45"/><circle cx="218.3" cy="587.3" r="0.45"/><circle cx="207.8" cy="584.4" r="0.45"/><circle cx="217.3" cy="588.6" r="0.45"/><circle cx="204.7" cy="574.8" r="0.45"/><circle cx="208.9" cy="593.4" r="0.45"/><circle cx="216.9" cy="579.2" r="0.45"/><circle cx="208.5" cy="596.4" r="0.45"/><circle cx="220.2" cy="598.7" r="0.45"/><circle cx="202.8" cy="593.1" r="0.45"/><circle cx="209.9" cy="559.6" r="0.45"/><circle cx="204.0" cy="592.7" r="0.45"/><circle cx="209.4" cy="585.4" r="0.45"/><circle cx="211.8" cy="577.0" r="0.45"/><circle cx="205.3" cy="588.0" r="0.45"/><circle cx="209.3" cy="569.6" r="0.45"/><circle cx="212.8" cy="579.9" r="0.45"/><circle cx="207.3" cy="573.3" r="0.45"/><circle cx="207.3" cy="574.5" r="0.45"/><circle cx="201.6" cy="588.4" r="0.45"/><circle cx="208.8" cy="565.3" r="0.45"/><circle cx="208.5" cy="574.8" r="0.45"/><circle cx="205.2" cy="573.0" r="0.45"/><circle cx="220.5" cy="587.3" r="0.45"/><circle cx="207.7" cy="596.0" r="0.45"/><circle cx="202.7" cy="582.7" r="0.45"/><circle cx="205.7" cy="578.1" r="0.45"/><circle cx="199.4" cy="597.7" r="0.45"/><circle cx="206.5" cy="597.8" r="0.45"/><circle cx="204.0" cy="584.0" r="0.45"/><circle cx="200.1" cy="598.2" r="0.45"/><circle cx="208.0" cy="588.3" r="0.45"/><circle cx="205.5" cy="574.7" r="0.45"/><circle cx="218.1" cy="598.7" r="0.45"/><circle cx="221.5" cy="592.7" r="0.45"/><circle cx="211.0" cy="568.8" r="0.45"/><circle cx="201.7" cy="593.1" r="0.45"/><circle cx="221.4" cy="584.7" r="0.45"/><circle cx="213.7" cy="580.2" r="0.45"/><circle cx="210.9" cy="572.9" r="0.45"/><circle cx="208.4" cy="577.8" r="0.45"/><circle cx="217.0" cy="581.9" r="0.45"/><circle cx="207.6" cy="593.0" r="0.45"/><circle cx="205.8" cy="591.5" r="0.45"/><circle cx="202.0" cy="594.5" r="0.45"/><circle cx="209.8" cy="587.5" r="0.45"/><circle cx="202.7" cy="582.4" r="0.45"/><circle cx="210.5" cy="573.1" r="0.45"/><circle cx="212.8" cy="575.2" r="0.45"/><circle cx="221.2" cy="586.3" r="0.45"/><circle cx="214.9" cy="595.5" r="0.45"/><circle cx="202.9" cy="581.9" r="0.45"/><circle cx="214.5" cy="587.8" r="0.45"/><circle cx="200.6" cy="597.2" r="0.45"/><circle cx="216.6" cy="572.5" r="0.45"/><circle cx="207.0" cy="592.8" r="0.45"/><circle cx="200.9" cy="592.8" r="0.45"/><circle cx="212.1" cy="587.5" r="0.45"/><circle cx="201.8" cy="589.2" r="0.45"/><circle cx="210.2" cy="571.3" r="0.45"/><circle cx="200.0" cy="596.4" r="0.45"/><circle cx="208.6" cy="558.7" r="0.45"/><circle cx="204.7" cy="594.0" r="0.45"/><circle cx="222.1" cy="584.7" r="0.45"/><circle cx="203.0" cy="589.4" r="0.45"/><circle cx="200.3" cy="591.8" r="0.45"/><circle cx="212.0" cy="578.3" r="0.45"/><circle cx="205.0" cy="573.2" r="0.45"/><circle cx="204.5" cy="586.7" r="0.45"/><circle cx="199.1" cy="598.4" r="0.45"/><circle cx="204.5" cy="594.4" r="0.45"/><circle cx="205.9" cy="594.5" r="0.45"/><circle cx="203.8" cy="590.9" r="0.45"/><circle cx="207.7" cy="575.9" r="0.45"/><circle cx="203.6" cy="594.4" r="0.45"/><circle cx="207.2" cy="576.1" r="0.45"/><circle cx="207.3" cy="568.6" r="0.45"/><circle cx="208.8" cy="588.3" r="0.45"/><circle cx="203.5" cy="589.0" r="0.45"/><circle cx="207.8" cy="561.9" r="0.45"/><circle cx="204.0" cy="580.6" r="0.45"/><circle cx="203.3" cy="588.2" r="0.45"/><circle cx="210.4" cy="593.4" r="0.45"/><circle cx="214.6" cy="590.8" r="0.45"/><circle cx="206.2" cy="586.8" r="0.45"/><circle cx="203.5" cy="579.4" r="0.45"/><circle cx="207.4" cy="594.2" r="0.45"/><circle cx="214.3" cy="568.9" r="0.45"/><circle cx="210.9" cy="588.6" r="0.45"/><circle cx="202.7" cy="584.1" r="0.45"/><circle cx="199.7" cy="599.0" r="0.45"/><circle cx="221.0" cy="581.6" r="0.45"/><circle cx="208.7" cy="570.4" r="0.45"/><circle cx="203.6" cy="585.5" r="0.45"/><circle cx="204.8" cy="597.3" r="0.45"/><circle cx="209.2" cy="559.7" r="0.45"/><circle cx="209.9" cy="558.0" r="0.45"/><circle cx="222.6" cy="596.0" r="0.45"/><circle cx="210.3" cy="564.6" r="0.45"/><circle cx="207.7" cy="579.3" r="0.45"/><circle cx="205.4" cy="579.1" r="0.45"/><circle cx="210.2" cy="571.0" r="0.45"/><circle cx="214.6" cy="568.1" r="0.45"/><circle cx="213.1" cy="564.2" r="0.45"/><circle cx="204.8" cy="574.3" r="0.45"/><circle cx="208.3" cy="593.0" r="0.45"/><circle cx="207.6" cy="593.6" r="0.45"/><circle cx="201.0" cy="589.9" r="0.45"/><circle cx="207.9" cy="591.1" r="0.45"/><circle cx="198.7" cy="598.2" r="0.45"/><circle cx="210.5" cy="566.5" r="0.45"/><circle cx="205.0" cy="597.3" r="0.45"/><circle cx="209.1" cy="592.1" r="0.45"/><circle cx="207.4" cy="582.5" r="0.45"/><circle cx="201.0" cy="589.1" r="0.45"/><circle cx="213.0" cy="579.3" r="0.45"/><circle cx="207.9" cy="577.4" r="0.45"/><circle cx="206.3" cy="577.3" r="0.45"/><circle cx="214.8" cy="590.5" r="0.45"/><circle cx="206.5" cy="598.0" r="0.45"/><circle cx="206.5" cy="574.8" r="0.45"/><circle cx="207.4" cy="565.6" r="0.45"/><circle cx="210.5" cy="588.6" r="0.45"/><circle cx="204.8" cy="576.6" r="0.45"/><circle cx="206.5" cy="568.8" r="0.45"/><circle cx="203.5" cy="586.2" r="0.45"/><circle cx="209.2" cy="596.4" r="0.45"/><circle cx="206.9" cy="580.7" r="0.45"/><circle cx="210.7" cy="563.8" r="0.45"/><circle cx="204.2" cy="593.1" r="0.45"/><circle cx="202.6" cy="592.5" r="0.45"/><circle cx="205.3" cy="575.6" r="0.45"/><circle cx="210.0" cy="574.5" r="0.45"/><circle cx="214.3" cy="590.3" r="0.45"/><circle cx="211.9" cy="569.2" r="0.45"/><circle cx="205.5" cy="585.4" r="0.45"/><circle cx="206.4" cy="586.2" r="0.45"/><circle cx="207.1" cy="574.7" r="0.45"/><circle cx="213.8" cy="590.4" r="0.45"/><circle cx="200.5" cy="597.1" r="0.45"/><circle cx="218.1" cy="596.5" r="0.45"/><circle cx="224.6" cy="592.2" r="0.45"/><circle cx="212.5" cy="571.3" r="0.45"/><circle cx="199.7" cy="596.7" r="0.45"/><circle cx="222.0" cy="588.9" r="0.45"/><circle cx="215.8" cy="578.8" r="0.45"/><circle cx="205.4" cy="596.9" r="0.45"/><circle cx="206.0" cy="571.8" r="0.45"/><circle cx="205.3" cy="595.1" r="0.45"/><circle cx="207.2" cy="579.7" r="0.45"/><circle cx="201.4" cy="597.4" r="0.45"/><circle cx="211.7" cy="561.0" r="0.45"/><circle cx="206.3" cy="579.8" r="0.45"/><circle cx="201.7" cy="598.5" r="0.45"/><circle cx="213.4" cy="567.9" r="0.45"/><circle cx="205.1" cy="576.7" r="0.45"/><circle cx="200.9" cy="597.6" r="0.45"/><circle cx="203.0" cy="596.8" r="0.45"/><circle cx="204.5" cy="579.2" r="0.45"/><circle cx="209.2" cy="587.4" r="0.45"/><circle cx="208.1" cy="582.8" r="0.45"/><circle cx="215.4" cy="579.0" r="0.45"/><circle cx="216.3" cy="597.5" r="0.45"/><circle cx="199.8" cy="594.8" r="0.45"/><circle cx="204.9" cy="577.0" r="0.45"/><circle cx="216.3" cy="572.3" r="0.45"/><circle cx="223.3" cy="596.9" r="0.45"/><circle cx="201.8" cy="587.9" r="0.45"/><circle cx="202.4" cy="583.8" r="0.45"/><circle cx="201.7" cy="596.8" r="0.45"/><circle cx="218.2" cy="578.6" r="0.45"/><circle cx="216.2" cy="574.7" r="0.45"/><circle cx="211.4" cy="579.5" r="0.45"/><circle cx="214.0" cy="569.4" r="0.45"/><circle cx="205.3" cy="582.8" r="0.45"/><circle cx="210.1" cy="590.6" r="0.45"/><circle cx="204.3" cy="577.0" r="0.45"/><circle cx="201.2" cy="588.4" r="0.45"/><circle cx="203.3" cy="596.1" r="0.45"/><circle cx="206.6" cy="573.1" r="0.45"/><circle cx="207.1" cy="569.8" r="0.45"/><circle cx="205.8" cy="587.4" r="0.45"/><circle cx="205.0" cy="580.4" r="0.45"/><circle cx="215.2" cy="585.7" r="0.45"/><circle cx="214.6" cy="584.1" r="0.45"/><circle cx="202.3" cy="585.6" r="0.45"/><circle cx="214.2" cy="573.2" r="0.45"/><circle cx="205.6" cy="585.5" r="0.45"/><circle cx="217.6" cy="586.6" r="0.45"/><circle cx="205.7" cy="582.0" r="0.45"/><circle cx="202.9" cy="581.6" r="0.45"/><circle cx="207.3" cy="587.5" r="0.45"/><circle cx="206.8" cy="586.0" r="0.45"/><circle cx="213.2" cy="585.2" r="0.45"/><circle cx="217.3" cy="574.0" r="0.45"/><circle cx="213.6" cy="569.9" r="0.45"/><circle cx="213.2" cy="573.4" r="0.45"/><circle cx="204.0" cy="577.5" r="0.45"/><circle cx="217.5" cy="587.4" r="0.45"/><circle cx="221.2" cy="595.5" r="0.45"/><circle cx="198.8" cy="598.6" r="0.45"/><circle cx="203.1" cy="582.1" r="0.45"/><circle cx="206.2" cy="593.2" r="0.45"/><circle cx="217.2" cy="593.0" r="0.45"/><circle cx="213.4" cy="599.0" r="0.45"/><circle cx="208.7" cy="596.2" r="0.45"/><circle cx="213.3" cy="567.5" r="0.45"/><circle cx="206.3" cy="568.3" r="0.45"/><circle cx="202.3" cy="595.1" r="0.45"/><circle cx="200.6" cy="590.8" r="0.45"/><circle cx="212.0" cy="575.2" r="0.45"/><circle cx="209.1" cy="563.5" r="0.45"/><circle cx="200.7" cy="597.6" r="0.45"/><circle cx="215.1" cy="591.9" r="0.45"/><circle cx="215.5" cy="589.6" r="0.45"/><circle cx="200.3" cy="591.8" r="0.45"/><circle cx="209.0" cy="574.3" r="0.45"/><circle cx="200.6" cy="598.3" r="0.45"/><circle cx="201.6" cy="588.7" r="0.45"/><circle cx="205.8" cy="595.5" r="0.45"/><circle cx="212.1" cy="586.8" r="0.45"/><circle cx="211.7" cy="571.3" r="0.45"/><circle cx="220.1" cy="594.4" r="0.45"/><circle cx="204.8" cy="578.3" r="0.45"/><circle cx="215.1" cy="572.9" r="0.45"/><circle cx="205.9" cy="584.1" r="0.45"/><circle cx="212.9" cy="586.7" r="0.45"/><circle cx="205.7" cy="579.8" r="0.45"/><circle cx="216.5" cy="593.5" r="0.45"/><circle cx="203.7" cy="578.9" r="0.45"/><circle cx="215.3" cy="597.4" r="0.45"/><circle cx="205.6" cy="588.9" r="0.45"/><circle cx="205.2" cy="598.1" r="0.45"/><circle cx="204.6" cy="575.5" r="0.45"/><circle cx="210.1" cy="581.1" r="0.45"/><circle cx="219.3" cy="581.6" r="0.45"/><circle cx="206.6" cy="590.5" r="0.45"/><circle cx="210.3" cy="590.8" r="0.45"/><circle cx="207.5" cy="589.6" r="0.45"/><circle cx="207.6" cy="586.8" r="0.45"/><circle cx="200.9" cy="595.1" r="0.45"/><circle cx="202.8" cy="594.0" r="0.45"/><circle cx="199.6" cy="595.5" r="0.45"/><circle cx="206.7" cy="585.6" r="0.45"/><circle cx="201.6" cy="592.1" r="0.45"/><circle cx="204.3" cy="577.5" r="0.45"/><circle cx="209.6" cy="588.0" r="0.45"/><circle cx="209.3" cy="556.0" r="0.45"/><circle cx="217.0" cy="574.7" r="0.45"/><circle cx="209.3" cy="584.7" r="0.45"/><circle cx="211.2" cy="578.7" r="0.45"/><circle cx="212.8" cy="594.7" r="0.45"/><circle cx="209.3" cy="556.7" r="0.45"/><circle cx="201.9" cy="585.8" r="0.45"/><circle cx="203.1" cy="594.1" r="0.45"/><circle cx="210.5" cy="578.8" r="0.45"/><circle cx="207.6" cy="588.6" r="0.45"/><circle cx="207.8" cy="595.8" r="0.45"/><circle cx="203.2" cy="580.8" r="0.45"/><circle cx="204.9" cy="587.7" r="0.45"/><circle cx="204.7" cy="587.2" r="0.45"/><circle cx="208.6" cy="558.7" r="0.45"/><circle cx="205.3" cy="572.5" r="0.45"/><circle cx="209.8" cy="595.6" r="0.45"/><circle cx="212.1" cy="576.5" r="0.45"/><circle cx="200.9" cy="590.0" r="0.45"/><circle cx="201.8" cy="593.1" r="0.45"/><circle cx="199.4" cy="598.9" r="0.45"/><circle cx="204.9" cy="578.5" r="0.45"/><circle cx="218.7" cy="595.9" r="0.45"/><circle cx="201.9" cy="588.5" r="0.45"/><circle cx="212.7" cy="583.8" r="0.45"/><circle cx="213.1" cy="565.6" r="0.45"/><circle cx="223.6" cy="595.4" r="0.45"/><circle cx="210.8" cy="591.8" r="0.45"/><circle cx="201.4" cy="598.4" r="0.45"/><circle cx="203.8" cy="579.3" r="0.45"/><circle cx="213.3" cy="573.7" r="0.45"/><circle cx="211.5" cy="568.6" r="0.45"/><circle cx="217.5" cy="582.7" r="0.45"/><circle cx="213.2" cy="593.3" r="0.45"/><circle cx="199.5" cy="595.4" r="0.45"/><circle cx="206.4" cy="577.7" r="0.45"/><circle cx="211.9" cy="583.8" r="0.45"/><circle cx="215.5" cy="596.3" r="0.45"/><circle cx="214.0" cy="597.4" r="0.45"/><circle cx="208.2" cy="581.3" r="0.45"/><circle cx="217.9" cy="593.1" r="0.45"/><circle cx="205.6" cy="581.8" r="0.45"/><circle cx="202.5" cy="589.5" r="0.45"/><circle cx="199.2" cy="596.3" r="0.45"/><circle cx="207.2" cy="590.4" r="0.45"/><circle cx="209.5" cy="574.4" r="0.45"/><circle cx="221.2" cy="585.3" r="0.45"/><circle cx="210.0" cy="596.4" r="0.45"/><circle cx="221.6" cy="596.1" r="0.45"/><circle cx="213.7" cy="572.9" r="0.45"/><circle cx="226.4" cy="595.2" r="0.45"/><circle cx="204.8" cy="593.3" r="0.45"/><circle cx="210.8" cy="575.0" r="0.45"/><circle cx="212.8" cy="575.2" r="0.45"/><circle cx="217.3" cy="588.3" r="0.45"/><circle cx="205.0" cy="581.3" r="0.45"/><circle cx="212.6" cy="596.8" r="0.45"/><circle cx="209.2" cy="582.1" r="0.45"/><circle cx="211.2" cy="584.0" r="0.45"/><circle cx="203.9" cy="586.6" r="0.45"/><circle cx="222.5" cy="598.6" r="0.45"/><circle cx="202.5" cy="593.3" r="0.45"/><circle cx="212.2" cy="574.4" r="0.45"/><circle cx="212.1" cy="594.9" r="0.45"/><circle cx="212.1" cy="575.3" r="0.45"/><circle cx="205.2" cy="586.8" r="0.45"/><circle cx="206.5" cy="588.8" r="0.45"/><circle cx="215.1" cy="590.4" r="0.45"/><circle cx="199.2" cy="598.6" r="0.45"/><circle cx="221.7" cy="588.3" r="0.45"/><circle cx="209.7" cy="590.7" r="0.45"/><circle cx="199.4" cy="595.6" r="0.45"/><circle cx="211.1" cy="594.2" r="0.45"/><circle cx="203.9" cy="588.6" r="0.45"/><circle cx="201.4" cy="589.6" r="0.45"/><circle cx="203.4" cy="586.9" r="0.45"/><circle cx="218.5" cy="597.5" r="0.45"/><circle cx="214.4" cy="585.3" r="0.45"/><circle cx="208.5" cy="582.3" r="0.45"/><circle cx="214.2" cy="572.7" r="0.45"/><circle cx="215.9" cy="593.5" r="0.45"/><circle cx="212.4" cy="567.7" r="0.45"/><circle cx="209.5" cy="559.8" r="0.45"/><circle cx="201.9" cy="585.7" r="0.45"/><circle cx="218.1" cy="583.6" r="0.45"/><circle cx="203.8" cy="589.8" r="0.45"/><circle cx="203.8" cy="594.7" r="0.45"/><circle cx="204.6" cy="596.7" r="0.45"/><circle cx="214.4" cy="567.3" r="0.45"/><circle cx="207.2" cy="566.7" r="0.45"/><circle cx="200.4" cy="593.6" r="0.45"/><circle cx="218.2" cy="587.5" r="0.45"/><circle cx="204.5" cy="588.8" r="0.45"/><circle cx="218.4" cy="593.3" r="0.45"/><circle cx="211.0" cy="588.5" r="0.45"/><circle cx="206.6" cy="580.0" r="0.45"/><circle cx="226.9" cy="598.8" r="0.45"/><circle cx="209.1" cy="556.8" r="0.45"/><circle cx="213.7" cy="575.9" r="0.45"/><circle cx="205.1" cy="574.7" r="0.45"/><circle cx="200.9" cy="593.5" r="0.45"/><circle cx="205.8" cy="598.5" r="0.45"/><circle cx="219.0" cy="596.7" r="0.45"/><circle cx="213.3" cy="575.0" r="0.45"/><circle cx="203.7" cy="583.3" r="0.45"/><circle cx="210.6" cy="564.4" r="0.45"/><circle cx="203.9" cy="588.0" r="0.45"/><circle cx="200.9" cy="595.2" r="0.45"/><circle cx="202.4" cy="584.3" r="0.45"/><circle cx="217.2" cy="581.0" r="0.45"/><circle cx="202.4" cy="586.1" r="0.45"/><circle cx="210.8" cy="576.4" r="0.45"/><circle cx="216.4" cy="578.2" r="0.45"/><circle cx="212.5" cy="565.8" r="0.45"/><circle cx="217.5" cy="589.7" r="0.45"/><circle cx="203.1" cy="581.2" r="0.45"/><circle cx="210.3" cy="573.3" r="0.45"/><circle cx="207.8" cy="562.1" r="0.45"/><circle cx="220.8" cy="593.9" r="0.45"/><circle cx="219.5" cy="595.7" r="0.45"/><circle cx="218.9" cy="587.8" r="0.45"/><circle cx="209.1" cy="591.7" r="0.45"/><circle cx="202.3" cy="583.7" r="0.45"/><circle cx="206.9" cy="568.2" r="0.45"/><circle cx="202.5" cy="584.9" r="0.45"/><circle cx="209.6" cy="598.3" r="0.45"/><circle cx="221.1" cy="592.9" r="0.45"/><circle cx="215.7" cy="575.9" r="0.45"/><circle cx="201.5" cy="598.1" r="0.45"/><circle cx="212.7" cy="570.6" r="0.45"/><circle cx="218.0" cy="596.5" r="0.45"/><circle cx="210.2" cy="583.1" r="0.45"/><circle cx="206.5" cy="569.8" r="0.45"/><circle cx="213.8" cy="583.5" r="0.45"/><circle cx="214.0" cy="568.1" r="0.45"/><circle cx="212.5" cy="562.6" r="0.45"/><circle cx="214.3" cy="576.4" r="0.45"/><circle cx="224.5" cy="594.8" r="0.45"/><circle cx="212.7" cy="585.2" r="0.45"/><circle cx="215.2" cy="578.8" r="0.45"/><circle cx="213.8" cy="569.5" r="0.45"/><circle cx="201.2" cy="588.9" r="0.45"/><circle cx="202.5" cy="597.7" r="0.45"/><circle cx="207.3" cy="566.5" r="0.45"/><circle cx="208.2" cy="562.3" r="0.45"/><circle cx="225.0" cy="592.1" r="0.45"/><circle cx="218.7" cy="590.0" r="0.45"/><circle cx="214.4" cy="594.9" r="0.45"/><circle cx="204.2" cy="582.3" r="0.45"/><circle cx="209.2" cy="572.4" r="0.45"/><circle cx="212.4" cy="574.9" r="0.45"/><circle cx="209.6" cy="579.9" r="0.45"/><circle cx="211.0" cy="587.5" r="0.45"/><circle cx="206.2" cy="572.3" r="0.45"/><circle cx="201.9" cy="591.5" r="0.45"/><circle cx="223.5" cy="591.1" r="0.45"/><circle cx="220.1" cy="582.4" r="0.45"/><circle cx="222.1" cy="589.5" r="0.45"/><circle cx="214.6" cy="586.9" r="0.45"/><circle cx="201.7" cy="591.4" r="0.45"/><circle cx="209.7" cy="586.7" r="0.45"/><circle cx="211.7" cy="585.0" r="0.45"/><circle cx="217.9" cy="597.0" r="0.45"/><circle cx="200.4" cy="594.7" r="0.45"/><circle cx="211.1" cy="591.9" r="0.45"/><circle cx="198.8" cy="597.6" r="0.45"/><circle cx="216.8" cy="573.3" r="0.45"/><circle cx="212.6" cy="581.9" r="0.45"/><circle cx="205.4" cy="588.8" r="0.45"/><circle cx="209.3" cy="584.1" r="0.45"/><circle cx="208.2" cy="598.7" r="0.45"/><circle cx="202.8" cy="594.1" r="0.45"/><circle cx="210.5" cy="592.1" r="0.45"/><circle cx="220.5" cy="592.9" r="0.45"/><circle cx="214.4" cy="567.4" r="0.45"/><circle cx="203.0" cy="589.4" r="0.45"/><circle cx="202.3" cy="585.0" r="0.45"/><circle cx="214.7" cy="576.2" r="0.45"/><circle cx="219.8" cy="592.1" r="0.45"/><circle cx="205.3" cy="572.7" r="0.45"/><circle cx="208.0" cy="582.1" r="0.45"/><circle cx="203.1" cy="592.1" r="0.45"/><circle cx="209.8" cy="592.8" r="0.45"/><circle cx="214.1" cy="578.6" r="0.45"/><circle cx="209.7" cy="566.9" r="0.45"/><circle cx="204.8" cy="574.1" r="0.45"/><circle cx="208.3" cy="585.4" r="0.45"/><circle cx="204.9" cy="589.4" r="0.45"/><circle cx="217.6" cy="597.4" r="0.45"/><circle cx="205.2" cy="572.3" r="0.45"/><circle cx="204.7" cy="598.1" r="0.45"/><circle cx="206.4" cy="569.3" r="0.45"/><circle cx="201.4" cy="591.8" r="0.45"/><circle cx="211.9" cy="581.9" r="0.45"/><circle cx="211.3" cy="581.1" r="0.45"/><circle cx="218.0" cy="597.8" r="0.45"/><circle cx="211.0" cy="589.9" r="0.45"/><circle cx="210.9" cy="579.5" r="0.45"/><circle cx="209.9" cy="590.4" r="0.45"/><circle cx="214.4" cy="585.8" r="0.45"/><circle cx="211.9" cy="574.9" r="0.45"/><circle cx="198.7" cy="598.5" r="0.45"/><circle cx="218.7" cy="577.1" r="0.45"/><circle cx="212.3" cy="567.6" r="0.45"/><circle cx="201.3" cy="588.5" r="0.45"/><circle cx="200.8" cy="589.9" r="0.45"/><circle cx="202.6" cy="595.5" r="0.45"/><circle cx="222.7" cy="597.3" r="0.45"/><circle cx="207.6" cy="571.3" r="0.45"/><circle cx="212.3" cy="572.2" r="0.45"/><circle cx="206.2" cy="568.6" r="0.45"/><circle cx="213.5" cy="570.0" r="0.45"/><circle cx="206.0" cy="576.9" r="0.45"/><circle cx="209.0" cy="584.4" r="0.45"/><circle cx="219.9" cy="583.3" r="0.45"/><circle cx="207.7" cy="580.7" r="0.45"/><circle cx="201.5" cy="595.9" r="0.45"/><circle cx="214.0" cy="573.4" r="0.45"/><circle cx="217.0" cy="579.7" r="0.45"/><circle cx="204.1" cy="594.9" r="0.45"/><circle cx="203.4" cy="580.4" r="0.45"/><circle cx="205.7" cy="596.1" r="0.45"/><circle cx="203.8" cy="580.7" r="0.45"/><circle cx="215.5" cy="575.9" r="0.45"/><circle cx="209.3" cy="570.9" r="0.45"/><circle cx="208.1" cy="589.8" r="0.45"/><circle cx="205.7" cy="586.2" r="0.45"/><circle cx="213.9" cy="574.3" r="0.45"/><circle cx="209.2" cy="596.7" r="0.45"/><circle cx="216.7" cy="577.1" r="0.45"/><circle cx="205.1" cy="574.8" r="0.45"/><circle cx="217.8" cy="589.8" r="0.45"/><circle cx="201.6" cy="588.3" r="0.45"/><circle cx="199.7" cy="598.5" r="0.45"/><circle cx="220.3" cy="580.8" r="0.45"/><circle cx="215.8" cy="594.2" r="0.45"/><circle cx="212.7" cy="567.1" r="0.45"/><circle cx="202.5" cy="582.8" r="0.45"/><circle cx="223.1" cy="594.1" r="0.45"/><circle cx="208.7" cy="564.6" r="0.45"/><circle cx="203.0" cy="596.8" r="0.45"/><circle cx="214.0" cy="579.2" r="0.45"/><circle cx="222.1" cy="584.2" r="0.45"/><circle cx="220.4" cy="595.7" r="0.45"/></g>
<g fill="#d81e34" fill-opacity="0.45"><circle cx="202.2" cy="586.6" r="0.5"/><circle cx="202.3" cy="580.4" r="0.5"/><circle cx="206.6" cy="570.1" r="0.5"/><circle cx="207.0" cy="572.4" r="0.5"/><circle cx="203.7" cy="577.0" r="0.5"/><circle cx="207.1" cy="563.2" r="0.5"/><circle cx="206.9" cy="567.2" r="0.5"/><circle cx="200.2" cy="594.3" r="0.5"/><circle cx="208.5" cy="562.0" r="0.5"/><circle cx="205.0" cy="571.2" r="0.5"/><circle cx="205.4" cy="570.2" r="0.5"/><circle cx="207.3" cy="560.0" r="0.5"/><circle cx="203.2" cy="582.1" r="0.5"/><circle cx="208.2" cy="560.6" r="0.5"/><circle cx="205.0" cy="574.1" r="0.5"/><circle cx="206.4" cy="567.8" r="0.5"/><circle cx="209.0" cy="556.5" r="0.5"/><circle cx="204.3" cy="578.8" r="0.5"/><circle cx="199.8" cy="591.9" r="0.5"/><circle cx="202.7" cy="582.0" r="0.5"/><circle cx="206.2" cy="566.6" r="0.5"/><circle cx="206.1" cy="567.1" r="0.5"/><circle cx="199.5" cy="594.3" r="0.5"/><circle cx="208.8" cy="559.6" r="0.5"/><circle cx="199.4" cy="593.4" r="0.5"/><circle cx="200.4" cy="596.1" r="0.5"/><circle cx="206.4" cy="566.7" r="0.5"/><circle cx="206.3" cy="567.2" r="0.5"/><circle cx="206.8" cy="565.3" r="0.5"/><circle cx="203.7" cy="574.9" r="0.5"/><circle cx="203.4" cy="584.9" r="0.5"/><circle cx="203.5" cy="576.7" r="0.5"/><circle cx="201.3" cy="587.9" r="0.5"/><circle cx="204.1" cy="574.6" r="0.5"/><circle cx="207.8" cy="559.9" r="0.5"/><circle cx="200.7" cy="587.9" r="0.5"/><circle cx="200.3" cy="590.8" r="0.5"/><circle cx="207.1" cy="568.0" r="0.5"/><circle cx="200.7" cy="593.8" r="0.5"/><circle cx="207.7" cy="562.9" r="0.5"/><circle cx="205.3" cy="571.6" r="0.5"/><circle cx="203.2" cy="577.0" r="0.5"/><circle cx="199.9" cy="591.2" r="0.5"/><circle cx="205.5" cy="567.7" r="0.5"/><circle cx="207.9" cy="558.1" r="0.5"/><circle cx="207.4" cy="564.8" r="0.5"/><circle cx="205.8" cy="571.1" r="0.5"/><circle cx="203.3" cy="578.2" r="0.5"/><circle cx="206.1" cy="570.2" r="0.5"/><circle cx="203.8" cy="581.6" r="0.5"/><circle cx="207.7" cy="568.7" r="0.5"/><circle cx="207.7" cy="561.0" r="0.5"/><circle cx="209.2" cy="559.7" r="0.5"/><circle cx="199.8" cy="587.8" r="0.5"/><circle cx="203.0" cy="578.6" r="0.5"/><circle cx="200.6" cy="591.7" r="0.5"/><circle cx="206.2" cy="564.5" r="0.5"/><circle cx="206.5" cy="569.9" r="0.5"/><circle cx="201.0" cy="584.6" r="0.5"/><circle cx="207.4" cy="563.9" r="0.5"/><circle cx="199.4" cy="593.6" r="0.5"/><circle cx="206.7" cy="563.6" r="0.5"/><circle cx="203.2" cy="586.0" r="0.5"/><circle cx="203.7" cy="574.4" r="0.5"/><circle cx="202.4" cy="581.6" r="0.5"/><circle cx="204.9" cy="575.7" r="0.5"/><circle cx="200.8" cy="590.9" r="0.5"/><circle cx="199.8" cy="592.1" r="0.5"/><circle cx="203.0" cy="580.2" r="0.5"/><circle cx="202.6" cy="588.3" r="0.5"/><circle cx="205.6" cy="568.7" r="0.5"/><circle cx="200.8" cy="588.0" r="0.5"/><circle cx="206.5" cy="568.6" r="0.5"/><circle cx="207.3" cy="563.0" r="0.5"/><circle cx="207.4" cy="567.3" r="0.5"/><circle cx="200.0" cy="597.2" r="0.5"/><circle cx="199.4" cy="596.1" r="0.5"/><circle cx="206.4" cy="567.8" r="0.5"/><circle cx="205.1" cy="576.5" r="0.5"/><circle cx="201.9" cy="585.6" r="0.5"/><circle cx="208.2" cy="561.8" r="0.5"/><circle cx="202.4" cy="586.6" r="0.5"/><circle cx="206.6" cy="562.6" r="0.5"/><circle cx="201.7" cy="591.7" r="0.5"/><circle cx="202.0" cy="584.5" r="0.5"/><circle cx="205.4" cy="574.1" r="0.5"/><circle cx="209.0" cy="557.4" r="0.5"/><circle cx="206.4" cy="567.8" r="0.5"/><circle cx="204.6" cy="571.0" r="0.5"/><circle cx="199.9" cy="595.8" r="0.5"/><circle cx="209.4" cy="558.9" r="0.5"/><circle cx="202.4" cy="583.5" r="0.5"/><circle cx="199.3" cy="594.7" r="0.5"/><circle cx="205.0" cy="572.5" r="0.5"/><circle cx="206.4" cy="568.6" r="0.5"/><circle cx="204.9" cy="575.6" r="0.5"/><circle cx="202.7" cy="580.4" r="0.5"/><circle cx="199.6" cy="590.6" r="0.5"/><circle cx="207.3" cy="567.7" r="0.5"/><circle cx="204.0" cy="578.3" r="0.5"/><circle cx="202.1" cy="587.1" r="0.5"/><circle cx="203.6" cy="577.3" r="0.5"/><circle cx="203.5" cy="581.1" r="0.5"/><circle cx="203.5" cy="580.9" r="0.5"/><circle cx="205.7" cy="571.7" r="0.5"/><circle cx="200.1" cy="594.5" r="0.5"/><circle cx="201.7" cy="586.7" r="0.5"/><circle cx="201.0" cy="588.0" r="0.5"/><circle cx="209.1" cy="555.0" r="0.5"/><circle cx="209.4" cy="558.0" r="0.5"/><circle cx="207.1" cy="564.4" r="0.5"/><circle cx="202.5" cy="580.4" r="0.5"/><circle cx="199.6" cy="592.2" r="0.5"/><circle cx="201.9" cy="584.2" r="0.5"/><circle cx="199.3" cy="595.3" r="0.5"/><circle cx="203.7" cy="576.5" r="0.5"/><circle cx="207.1" cy="558.7" r="0.5"/><circle cx="208.9" cy="560.1" r="0.5"/><circle cx="198.9" cy="597.5" r="0.5"/><circle cx="208.6" cy="563.9" r="0.5"/><circle cx="200.1" cy="589.4" r="0.5"/><circle cx="201.7" cy="587.8" r="0.5"/><circle cx="207.1" cy="566.8" r="0.5"/><circle cx="203.7" cy="580.2" r="0.5"/><circle cx="201.1" cy="584.0" r="0.5"/><circle cx="202.4" cy="582.6" r="0.5"/><circle cx="203.4" cy="576.7" r="0.5"/><circle cx="199.8" cy="594.6" r="0.5"/><circle cx="199.2" cy="597.2" r="0.5"/><circle cx="207.3" cy="563.1" r="0.5"/><circle cx="202.5" cy="584.8" r="0.5"/><circle cx="208.4" cy="556.7" r="0.5"/><circle cx="202.8" cy="584.7" r="0.5"/><circle cx="203.4" cy="581.2" r="0.5"/><circle cx="207.8" cy="561.9" r="0.5"/><circle cx="204.4" cy="570.3" r="0.5"/><circle cx="202.3" cy="584.1" r="0.5"/><circle cx="204.4" cy="577.5" r="0.5"/><circle cx="206.8" cy="562.5" r="0.5"/><circle cx="208.3" cy="558.8" r="0.5"/><circle cx="206.0" cy="572.3" r="0.5"/><circle cx="208.4" cy="561.9" r="0.5"/><circle cx="200.0" cy="591.0" r="0.5"/><circle cx="200.4" cy="592.0" r="0.5"/><circle cx="203.7" cy="582.8" r="0.5"/><circle cx="207.1" cy="558.6" r="0.5"/><circle cx="200.1" cy="592.1" r="0.5"/><circle cx="206.5" cy="566.9" r="0.5"/><circle cx="199.8" cy="594.4" r="0.5"/><circle cx="202.1" cy="585.9" r="0.5"/><circle cx="202.6" cy="583.1" r="0.5"/><circle cx="203.3" cy="582.2" r="0.5"/><circle cx="206.5" cy="563.3" r="0.5"/><circle cx="204.6" cy="576.3" r="0.5"/><circle cx="203.5" cy="577.4" r="0.5"/><circle cx="203.9" cy="575.3" r="0.5"/><circle cx="203.0" cy="588.3" r="0.5"/><circle cx="205.8" cy="566.2" r="0.5"/><circle cx="208.6" cy="559.6" r="0.5"/><circle cx="198.5" cy="596.3" r="0.5"/><circle cx="209.9" cy="558.9" r="0.5"/><circle cx="202.9" cy="584.5" r="0.5"/><circle cx="206.3" cy="569.5" r="0.5"/><circle cx="207.6" cy="562.4" r="0.5"/><circle cx="210.0" cy="557.0" r="0.5"/><circle cx="200.3" cy="590.7" r="0.5"/><circle cx="203.7" cy="578.3" r="0.5"/><circle cx="202.6" cy="577.2" r="0.5"/><circle cx="206.3" cy="570.7" r="0.5"/><circle cx="200.5" cy="593.9" r="0.5"/><circle cx="207.8" cy="562.4" r="0.5"/><circle cx="207.3" cy="560.5" r="0.5"/><circle cx="205.3" cy="571.1" r="0.5"/><circle cx="206.4" cy="566.7" r="0.5"/><circle cx="202.3" cy="580.6" r="0.5"/><circle cx="201.3" cy="586.6" r="0.5"/><circle cx="202.3" cy="582.7" r="0.5"/><circle cx="199.5" cy="594.3" r="0.5"/><circle cx="203.0" cy="579.6" r="0.5"/><circle cx="202.9" cy="584.6" r="0.5"/><circle cx="204.1" cy="573.8" r="0.5"/><circle cx="199.2" cy="598.7" r="0.5"/><circle cx="204.1" cy="575.8" r="0.5"/><circle cx="200.4" cy="592.6" r="0.5"/><circle cx="206.2" cy="569.3" r="0.5"/><circle cx="205.6" cy="568.0" r="0.5"/><circle cx="202.8" cy="587.2" r="0.5"/><circle cx="204.9" cy="570.9" r="0.5"/><circle cx="201.3" cy="586.7" r="0.5"/><circle cx="201.0" cy="587.4" r="0.5"/><circle cx="203.4" cy="584.4" r="0.5"/><circle cx="200.2" cy="593.7" r="0.5"/><circle cx="202.1" cy="584.7" r="0.5"/><circle cx="203.1" cy="582.0" r="0.5"/><circle cx="208.7" cy="558.3" r="0.5"/><circle cx="203.7" cy="579.1" r="0.5"/><circle cx="208.6" cy="561.3" r="0.5"/><circle cx="202.3" cy="583.6" r="0.5"/><circle cx="204.3" cy="574.8" r="0.5"/><circle cx="201.9" cy="584.0" r="0.5"/><circle cx="206.4" cy="563.3" r="0.5"/><circle cx="201.4" cy="583.0" r="0.5"/><circle cx="200.3" cy="588.2" r="0.5"/><circle cx="202.1" cy="584.2" r="0.5"/><circle cx="205.1" cy="570.9" r="0.5"/><circle cx="205.8" cy="568.7" r="0.5"/><circle cx="201.9" cy="581.4" r="0.5"/><circle cx="202.0" cy="592.7" r="0.5"/><circle cx="209.5" cy="562.8" r="0.5"/><circle cx="206.9" cy="565.6" r="0.5"/><circle cx="199.8" cy="592.7" r="0.5"/><circle cx="200.1" cy="590.7" r="0.5"/><circle cx="205.2" cy="571.5" r="0.5"/><circle cx="201.6" cy="586.1" r="0.5"/><circle cx="203.6" cy="579.2" r="0.5"/><circle cx="204.2" cy="573.4" r="0.5"/><circle cx="202.0" cy="587.0" r="0.5"/><circle cx="207.7" cy="558.2" r="0.5"/><circle cx="201.9" cy="580.1" r="0.5"/><circle cx="200.5" cy="590.9" r="0.5"/><circle cx="203.8" cy="579.4" r="0.5"/><circle cx="207.6" cy="559.9" r="0.5"/><circle cx="207.3" cy="567.5" r="0.5"/><circle cx="208.1" cy="563.6" r="0.5"/><circle cx="199.2" cy="593.2" r="0.5"/><circle cx="208.2" cy="567.4" r="0.5"/><circle cx="208.4" cy="565.9" r="0.5"/><circle cx="202.3" cy="577.9" r="0.5"/><circle cx="201.6" cy="587.2" r="0.5"/><circle cx="202.2" cy="583.2" r="0.5"/><circle cx="206.4" cy="566.5" r="0.5"/><circle cx="200.6" cy="589.5" r="0.5"/><circle cx="203.0" cy="580.2" r="0.5"/><circle cx="205.0" cy="573.4" r="0.5"/><circle cx="201.9" cy="588.7" r="0.5"/><circle cx="202.2" cy="584.0" r="0.5"/><circle cx="206.3" cy="571.0" r="0.5"/><circle cx="207.5" cy="563.9" r="0.5"/><circle cx="207.6" cy="562.8" r="0.5"/><circle cx="206.3" cy="561.1" r="0.5"/><circle cx="202.0" cy="586.2" r="0.5"/><circle cx="202.5" cy="585.2" r="0.5"/><circle cx="203.9" cy="575.8" r="0.5"/><circle cx="208.9" cy="562.2" r="0.5"/><circle cx="200.6" cy="590.5" r="0.5"/><circle cx="209.4" cy="556.1" r="0.5"/><circle cx="204.8" cy="570.7" r="0.5"/><circle cx="209.2" cy="554.6" r="0.5"/><circle cx="200.7" cy="592.1" r="0.5"/><circle cx="203.9" cy="582.2" r="0.5"/><circle cx="202.2" cy="583.8" r="0.5"/><circle cx="206.1" cy="564.3" r="0.5"/><circle cx="204.6" cy="575.5" r="0.5"/><circle cx="206.7" cy="567.1" r="0.5"/><circle cx="200.5" cy="589.8" r="0.5"/><circle cx="200.8" cy="585.0" r="0.5"/><circle cx="202.4" cy="584.7" r="0.5"/><circle cx="203.2" cy="573.1" r="0.5"/><circle cx="198.6" cy="595.4" r="0.5"/><circle cx="209.1" cy="558.4" r="0.5"/><circle cx="205.4" cy="573.9" r="0.5"/><circle cx="201.8" cy="586.2" r="0.5"/><circle cx="203.8" cy="577.5" r="0.5"/><circle cx="207.9" cy="559.3" r="0.5"/><circle cx="205.8" cy="572.1" r="0.5"/><circle cx="207.3" cy="563.8" r="0.5"/><circle cx="198.9" cy="597.6" r="0.5"/><circle cx="208.3" cy="556.8" r="0.5"/><circle cx="200.7" cy="588.1" r="0.5"/><circle cx="209.2" cy="558.0" r="0.5"/><circle cx="207.3" cy="566.6" r="0.5"/><circle cx="202.2" cy="583.9" r="0.5"/><circle cx="208.3" cy="555.9" r="0.5"/><circle cx="208.1" cy="562.0" r="0.5"/><circle cx="203.2" cy="587.2" r="0.5"/><circle cx="201.6" cy="585.6" r="0.5"/><circle cx="198.2" cy="596.9" r="0.5"/><circle cx="199.2" cy="596.9" r="0.5"/><circle cx="208.0" cy="561.8" r="0.5"/><circle cx="199.2" cy="593.0" r="0.5"/><circle cx="204.7" cy="571.5" r="0.5"/><circle cx="200.5" cy="587.1" r="0.5"/><circle cx="201.2" cy="590.8" r="0.5"/><circle cx="206.3" cy="563.8" r="0.5"/><circle cx="205.1" cy="570.8" r="0.5"/><circle cx="200.3" cy="591.1" r="0.5"/><circle cx="200.8" cy="590.4" r="0.5"/><circle cx="204.5" cy="573.9" r="0.5"/><circle cx="205.4" cy="571.2" r="0.5"/><circle cx="199.7" cy="594.5" r="0.5"/><circle cx="205.3" cy="571.4" r="0.5"/><circle cx="200.9" cy="589.8" r="0.5"/><circle cx="202.1" cy="584.9" r="0.5"/><circle cx="204.6" cy="575.0" r="0.5"/><circle cx="204.9" cy="574.2" r="0.5"/><circle cx="201.0" cy="588.4" r="0.5"/><circle cx="209.1" cy="556.6" r="0.5"/><circle cx="208.3" cy="558.9" r="0.5"/><circle cx="205.2" cy="566.4" r="0.5"/><circle cx="203.6" cy="578.1" r="0.5"/><circle cx="210.0" cy="556.5" r="0.5"/><circle cx="207.1" cy="563.3" r="0.5"/><circle cx="200.7" cy="588.0" r="0.5"/><circle cx="204.5" cy="578.8" r="0.5"/><circle cx="202.6" cy="583.5" r="0.5"/><circle cx="206.1" cy="565.7" r="0.5"/><circle cx="205.3" cy="574.0" r="0.5"/><circle cx="205.2" cy="567.9" r="0.5"/><circle cx="203.1" cy="576.2" r="0.5"/><circle cx="206.9" cy="562.4" r="0.5"/><circle cx="203.1" cy="579.4" r="0.5"/><circle cx="204.0" cy="576.0" r="0.5"/><circle cx="201.9" cy="588.9" r="0.5"/><circle cx="204.5" cy="573.7" r="0.5"/><circle cx="205.2" cy="573.0" r="0.5"/><circle cx="205.7" cy="572.2" r="0.5"/><circle cx="208.7" cy="556.8" r="0.5"/><circle cx="200.6" cy="590.6" r="0.5"/><circle cx="199.9" cy="596.7" r="0.5"/><circle cx="204.6" cy="577.4" r="0.5"/><circle cx="206.6" cy="566.7" r="0.5"/><circle cx="208.5" cy="561.7" r="0.5"/><circle cx="201.4" cy="587.7" r="0.5"/><circle cx="199.9" cy="595.8" r="0.5"/><circle cx="206.0" cy="566.6" r="0.5"/><circle cx="205.1" cy="575.2" r="0.5"/><circle cx="205.6" cy="574.0" r="0.5"/><circle cx="209.3" cy="558.8" r="0.5"/><circle cx="206.9" cy="570.7" r="0.5"/><circle cx="206.4" cy="569.4" r="0.5"/><circle cx="206.2" cy="564.2" r="0.5"/><circle cx="199.3" cy="593.8" r="0.5"/><circle cx="203.7" cy="578.7" r="0.5"/><circle cx="210.8" cy="556.5" r="0.5"/><circle cx="201.3" cy="589.1" r="0.5"/><circle cx="209.3" cy="557.0" r="0.5"/><circle cx="201.1" cy="586.5" r="0.5"/><circle cx="200.6" cy="590.5" r="0.5"/><circle cx="208.6" cy="560.6" r="0.5"/><circle cx="208.3" cy="558.5" r="0.5"/><circle cx="204.9" cy="573.5" r="0.5"/><circle cx="206.2" cy="573.2" r="0.5"/><circle cx="202.0" cy="592.8" r="0.5"/><circle cx="204.6" cy="581.0" r="0.5"/><circle cx="208.2" cy="561.1" r="0.5"/><circle cx="207.5" cy="559.4" r="0.5"/><circle cx="203.3" cy="580.3" r="0.5"/><circle cx="200.9" cy="587.8" r="0.5"/><circle cx="202.6" cy="582.0" r="0.5"/><circle cx="199.6" cy="594.8" r="0.5"/><circle cx="205.0" cy="573.1" r="0.5"/><circle cx="203.9" cy="575.5" r="0.5"/><circle cx="207.1" cy="561.5" r="0.5"/><circle cx="202.4" cy="585.3" r="0.5"/><circle cx="200.4" cy="590.8" r="0.5"/><circle cx="210.0" cy="557.7" r="0.5"/><circle cx="206.4" cy="566.7" r="0.5"/><circle cx="202.0" cy="583.2" r="0.5"/><circle cx="204.8" cy="572.4" r="0.5"/><circle cx="201.9" cy="586.6" r="0.5"/></g>
<g fill="#d81e34" fill-opacity="0.3"><circle cx="210.1" cy="565.5" r="0.42"/><circle cx="210.1" cy="574.2" r="0.42"/><circle cx="209.5" cy="577.2" r="0.42"/><circle cx="208.9" cy="578.3" r="0.42"/><circle cx="207.2" cy="589.6" r="0.42"/><circle cx="206.0" cy="589.5" r="0.42"/><circle cx="209.4" cy="569.2" r="0.42"/><circle cx="207.0" cy="592.0" r="0.42"/><circle cx="207.3" cy="589.6" r="0.42"/><circle cx="210.2" cy="577.2" r="0.42"/><circle cx="209.5" cy="571.9" r="0.42"/><circle cx="207.8" cy="576.8" r="0.42"/><circle cx="206.7" cy="588.3" r="0.42"/><circle cx="209.1" cy="580.8" r="0.42"/><circle cx="209.2" cy="568.6" r="0.42"/><circle cx="209.8" cy="573.0" r="0.42"/><circle cx="208.1" cy="573.7" r="0.42"/><circle cx="207.8" cy="579.0" r="0.42"/><circle cx="206.9" cy="580.7" r="0.42"/><circle cx="209.0" cy="573.6" r="0.42"/><circle cx="209.3" cy="573.2" r="0.42"/><circle cx="209.9" cy="565.9" r="0.42"/><circle cx="207.1" cy="585.9" r="0.42"/><circle cx="208.7" cy="574.9" r="0.42"/><circle cx="210.0" cy="566.1" r="0.42"/><circle cx="210.6" cy="565.8" r="0.42"/><circle cx="208.3" cy="574.2" r="0.42"/><circle cx="206.9" cy="592.4" r="0.42"/><circle cx="208.5" cy="575.4" r="0.42"/><circle cx="208.3" cy="576.7" r="0.42"/><circle cx="210.2" cy="573.8" r="0.42"/><circle cx="210.9" cy="563.1" r="0.42"/><circle cx="209.0" cy="569.6" r="0.42"/><circle cx="205.5" cy="595.4" r="0.42"/><circle cx="208.7" cy="568.3" r="0.42"/><circle cx="207.1" cy="585.6" r="0.42"/><circle cx="205.7" cy="594.2" r="0.42"/><circle cx="206.4" cy="593.8" r="0.42"/><circle cx="207.0" cy="588.5" r="0.42"/><circle cx="208.7" cy="575.0" r="0.42"/><circle cx="208.7" cy="573.9" r="0.42"/><circle cx="209.8" cy="570.9" r="0.42"/><circle cx="207.4" cy="589.4" r="0.42"/><circle cx="207.6" cy="580.9" r="0.42"/><circle cx="206.1" cy="594.9" r="0.42"/><circle cx="206.6" cy="592.6" r="0.42"/><circle cx="211.2" cy="564.1" r="0.42"/><circle cx="206.9" cy="585.4" r="0.42"/><circle cx="208.8" cy="571.8" r="0.42"/><circle cx="207.3" cy="583.1" r="0.42"/><circle cx="208.7" cy="568.5" r="0.42"/><circle cx="209.8" cy="567.4" r="0.42"/><circle cx="210.2" cy="570.7" r="0.42"/><circle cx="210.0" cy="567.2" r="0.42"/><circle cx="206.8" cy="589.7" r="0.42"/><circle cx="208.6" cy="571.5" r="0.42"/><circle cx="210.4" cy="566.3" r="0.42"/><circle cx="209.1" cy="571.7" r="0.42"/><circle cx="210.0" cy="562.4" r="0.42"/><circle cx="207.8" cy="584.0" r="0.42"/><circle cx="208.8" cy="572.2" r="0.42"/><circle cx="209.9" cy="563.9" r="0.42"/><circle cx="210.5" cy="565.0" r="0.42"/><circle cx="209.2" cy="579.0" r="0.42"/><circle cx="209.4" cy="574.3" r="0.42"/><circle cx="209.4" cy="569.3" r="0.42"/><circle cx="209.1" cy="573.5" r="0.42"/><circle cx="210.7" cy="567.1" r="0.42"/><circle cx="209.4" cy="571.5" r="0.42"/><circle cx="206.8" cy="589.5" r="0.42"/><circle cx="206.7" cy="592.0" r="0.42"/><circle cx="205.4" cy="593.3" r="0.42"/><circle cx="206.2" cy="593.4" r="0.42"/><circle cx="206.4" cy="592.8" r="0.42"/><circle cx="209.8" cy="563.1" r="0.42"/><circle cx="206.8" cy="594.2" r="0.42"/><circle cx="206.4" cy="585.5" r="0.42"/><circle cx="208.7" cy="583.0" r="0.42"/><circle cx="206.1" cy="590.9" r="0.42"/><circle cx="208.2" cy="580.5" r="0.42"/><circle cx="207.6" cy="579.9" r="0.42"/><circle cx="210.7" cy="564.8" r="0.42"/><circle cx="207.9" cy="578.9" r="0.42"/><circle cx="207.7" cy="588.2" r="0.42"/><circle cx="205.8" cy="594.4" r="0.42"/><circle cx="209.3" cy="573.4" r="0.42"/><circle cx="209.5" cy="569.2" r="0.42"/><circle cx="209.8" cy="564.7" r="0.42"/><circle cx="208.5" cy="578.0" r="0.42"/><circle cx="209.5" cy="572.4" r="0.42"/><circle cx="210.0" cy="571.0" r="0.42"/><circle cx="206.0" cy="592.6" r="0.42"/><circle cx="210.8" cy="565.4" r="0.42"/><circle cx="206.8" cy="594.4" r="0.42"/><circle cx="207.7" cy="589.0" r="0.42"/><circle cx="209.4" cy="569.8" r="0.42"/><circle cx="206.6" cy="591.8" r="0.42"/><circle cx="207.1" cy="584.2" r="0.42"/><circle cx="209.0" cy="568.9" r="0.42"/><circle cx="209.1" cy="575.7" r="0.42"/><circle cx="207.2" cy="591.8" r="0.42"/><circle cx="208.0" cy="577.5" r="0.42"/><circle cx="210.0" cy="567.1" r="0.42"/><circle cx="210.2" cy="567.8" r="0.42"/><circle cx="207.5" cy="583.1" r="0.42"/><circle cx="211.5" cy="563.0" r="0.42"/><circle cx="208.8" cy="578.5" r="0.42"/><circle cx="208.1" cy="574.2" r="0.42"/><circle cx="208.0" cy="576.6" r="0.42"/><circle cx="210.5" cy="569.4" r="0.42"/><circle cx="209.3" cy="577.8" r="0.42"/><circle cx="208.4" cy="577.2" r="0.42"/><circle cx="210.1" cy="564.5" r="0.42"/><circle cx="206.5" cy="594.3" r="0.42"/><circle cx="210.6" cy="563.0" r="0.42"/><circle cx="210.2" cy="565.3" r="0.42"/><circle cx="210.0" cy="562.4" r="0.42"/><circle cx="206.8" cy="587.0" r="0.42"/><circle cx="206.8" cy="593.5" r="0.42"/><circle cx="206.9" cy="588.0" r="0.42"/></g>
<g fill="#d81e34" fill-opacity="0.4"><circle cx="221.7" cy="600.0" r="0.5"/><circle cx="225.8" cy="598.8" r="0.5"/><circle cx="217.1" cy="598.0" r="0.5"/><circle cx="209.0" cy="597.1" r="0.5"/><circle cx="198.8" cy="597.9" r="0.5"/><circle cx="222.6" cy="599.1" r="0.5"/><circle cx="224.9" cy="599.4" r="0.5"/><circle cx="225.4" cy="598.3" r="0.5"/><circle cx="225.7" cy="599.7" r="0.5"/><circle cx="198.2" cy="598.7" r="0.5"/><circle cx="197.7" cy="597.0" r="0.5"/><circle cx="201.1" cy="599.0" r="0.5"/><circle cx="205.9" cy="597.3" r="0.5"/><circle cx="199.2" cy="598.6" r="0.5"/><circle cx="200.9" cy="599.4" r="0.5"/><circle cx="228.6" cy="598.6" r="0.5"/><circle cx="201.3" cy="598.5" r="0.5"/><circle cx="224.2" cy="597.1" r="0.5"/><circle cx="222.3" cy="599.3" r="0.5"/><circle cx="223.3" cy="598.8" r="0.5"/><circle cx="217.0" cy="598.7" r="0.5"/><circle cx="223.5" cy="598.3" r="0.5"/><circle cx="208.5" cy="598.8" r="0.5"/><circle cx="207.1" cy="597.2" r="0.5"/><circle cx="212.9" cy="600.8" r="0.5"/><circle cx="224.7" cy="598.9" r="0.5"/><circle cx="217.1" cy="597.5" r="0.5"/><circle cx="209.9" cy="597.2" r="0.5"/><circle cx="203.3" cy="596.8" r="0.5"/><circle cx="224.5" cy="596.2" r="0.5"/><circle cx="222.1" cy="598.9" r="0.5"/><circle cx="204.5" cy="599.2" r="0.5"/><circle cx="214.2" cy="599.6" r="0.5"/><circle cx="214.9" cy="597.7" r="0.5"/><circle cx="209.5" cy="598.9" r="0.5"/><circle cx="228.4" cy="599.2" r="0.5"/><circle cx="225.9" cy="597.6" r="0.5"/><circle cx="202.7" cy="597.3" r="0.5"/><circle cx="195.8" cy="598.7" r="0.5"/><circle cx="201.9" cy="598.5" r="0.5"/><circle cx="228.4" cy="597.9" r="0.5"/><circle cx="198.1" cy="598.2" r="0.5"/><circle cx="195.6" cy="599.0" r="0.5"/><circle cx="206.4" cy="598.5" r="0.5"/><circle cx="200.3" cy="598.7" r="0.5"/><circle cx="199.4" cy="599.9" r="0.5"/><circle cx="199.6" cy="598.6" r="0.5"/><circle cx="216.4" cy="597.7" r="0.5"/><circle cx="204.7" cy="598.5" r="0.5"/><circle cx="204.2" cy="598.4" r="0.5"/><circle cx="224.4" cy="598.1" r="0.5"/><circle cx="202.2" cy="599.9" r="0.5"/><circle cx="198.6" cy="597.5" r="0.5"/><circle cx="196.2" cy="599.0" r="0.5"/><circle cx="213.0" cy="597.7" r="0.5"/><circle cx="220.8" cy="598.9" r="0.5"/><circle cx="225.2" cy="597.8" r="0.5"/><circle cx="221.2" cy="599.0" r="0.5"/><circle cx="220.8" cy="597.1" r="0.5"/><circle cx="206.6" cy="598.4" r="0.5"/><circle cx="219.6" cy="596.8" r="0.5"/><circle cx="205.2" cy="597.6" r="0.5"/><circle cx="197.3" cy="599.4" r="0.5"/><circle cx="222.3" cy="597.5" r="0.5"/><circle cx="220.4" cy="598.6" r="0.5"/><circle cx="224.4" cy="597.6" r="0.5"/><circle cx="216.0" cy="598.0" r="0.5"/><circle cx="198.2" cy="598.8" r="0.5"/><circle cx="202.8" cy="598.1" r="0.5"/><circle cx="216.1" cy="599.3" r="0.5"/><circle cx="227.6" cy="597.1" r="0.5"/><circle cx="195.4" cy="597.9" r="0.5"/><circle cx="218.7" cy="596.8" r="0.5"/><circle cx="206.9" cy="598.1" r="0.5"/><circle cx="216.9" cy="596.8" r="0.5"/><circle cx="209.8" cy="598.4" r="0.5"/><circle cx="223.0" cy="599.3" r="0.5"/><circle cx="212.1" cy="597.6" r="0.5"/><circle cx="219.0" cy="595.9" r="0.5"/><circle cx="226.8" cy="598.2" r="0.5"/><circle cx="211.9" cy="598.3" r="0.5"/><circle cx="225.7" cy="598.1" r="0.5"/><circle cx="216.0" cy="598.6" r="0.5"/><circle cx="223.7" cy="598.5" r="0.5"/><circle cx="221.6" cy="597.7" r="0.5"/><circle cx="203.3" cy="597.8" r="0.5"/><circle cx="211.4" cy="599.7" r="0.5"/><circle cx="196.5" cy="597.7" r="0.5"/><circle cx="202.0" cy="600.2" r="0.5"/><circle cx="223.8" cy="599.5" r="0.5"/><circle cx="226.5" cy="597.7" r="0.5"/><circle cx="197.1" cy="598.9" r="0.5"/><circle cx="203.7" cy="597.9" r="0.5"/><circle cx="206.5" cy="599.3" r="0.5"/><circle cx="219.8" cy="599.1" r="0.5"/><circle cx="222.8" cy="597.7" r="0.5"/><circle cx="204.9" cy="598.3" r="0.5"/><circle cx="198.0" cy="600.3" r="0.5"/><circle cx="197.6" cy="599.6" r="0.5"/><circle cx="208.9" cy="598.4" r="0.5"/><circle cx="221.2" cy="599.2" r="0.5"/><circle cx="222.4" cy="597.9" r="0.5"/><circle cx="199.4" cy="599.3" r="0.5"/><circle cx="208.1" cy="597.8" r="0.5"/><circle cx="195.5" cy="599.4" r="0.5"/><circle cx="198.9" cy="598.9" r="0.5"/><circle cx="217.5" cy="599.3" r="0.5"/><circle cx="220.6" cy="598.5" r="0.5"/><circle cx="214.9" cy="597.2" r="0.5"/><circle cx="211.5" cy="597.3" r="0.5"/><circle cx="223.2" cy="599.3" r="0.5"/><circle cx="213.0" cy="599.8" r="0.5"/><circle cx="201.7" cy="598.8" r="0.5"/><circle cx="216.6" cy="600.9" r="0.5"/><circle cx="211.9" cy="596.6" r="0.5"/><circle cx="216.5" cy="598.5" r="0.5"/><circle cx="202.5" cy="600.3" r="0.5"/><circle cx="221.6" cy="597.8" r="0.5"/><circle cx="219.1" cy="598.1" r="0.5"/><circle cx="228.2" cy="597.7" r="0.5"/><circle cx="219.2" cy="599.4" r="0.5"/><circle cx="209.5" cy="600.1" r="0.5"/><circle cx="197.1" cy="599.0" r="0.5"/><circle cx="209.3" cy="598.0" r="0.5"/><circle cx="198.2" cy="597.3" r="0.5"/><circle cx="222.9" cy="598.3" r="0.5"/><circle cx="227.4" cy="599.6" r="0.5"/><circle cx="208.6" cy="597.5" r="0.5"/><circle cx="226.9" cy="598.6" r="0.5"/><circle cx="214.2" cy="599.4" r="0.5"/><circle cx="207.5" cy="598.0" r="0.5"/><circle cx="203.3" cy="598.3" r="0.5"/><circle cx="195.7" cy="597.8" r="0.5"/><circle cx="222.7" cy="598.8" r="0.5"/><circle cx="203.7" cy="599.1" r="0.5"/><circle cx="201.6" cy="600.0" r="0.5"/><circle cx="223.5" cy="598.0" r="0.5"/><circle cx="218.8" cy="598.4" r="0.5"/><circle cx="228.9" cy="598.0" r="0.5"/><circle cx="213.6" cy="599.7" r="0.5"/><circle cx="227.3" cy="598.9" r="0.5"/><circle cx="208.0" cy="598.5" r="0.5"/><circle cx="222.5" cy="597.5" r="0.5"/><circle cx="214.3" cy="599.1" r="0.5"/><circle cx="195.4" cy="600.6" r="0.5"/><circle cx="208.5" cy="599.0" r="0.5"/><circle cx="210.1" cy="596.9" r="0.5"/><circle cx="225.3" cy="597.9" r="0.5"/><circle cx="197.8" cy="598.4" r="0.5"/><circle cx="213.5" cy="598.4" r="0.5"/><circle cx="222.7" cy="597.5" r="0.5"/><circle cx="224.1" cy="598.6" r="0.5"/><circle cx="218.6" cy="599.6" r="0.5"/><circle cx="205.5" cy="597.9" r="0.5"/><circle cx="218.6" cy="598.5" r="0.5"/><circle cx="199.4" cy="598.5" r="0.5"/><circle cx="227.6" cy="598.3" r="0.5"/><circle cx="220.6" cy="598.3" r="0.5"/><circle cx="220.7" cy="601.4" r="0.5"/><circle cx="200.9" cy="599.4" r="0.5"/><circle cx="212.2" cy="598.2" r="0.5"/><circle cx="206.8" cy="597.4" r="0.5"/><circle cx="211.2" cy="596.8" r="0.5"/><circle cx="224.9" cy="596.7" r="0.5"/><circle cx="228.6" cy="598.9" r="0.5"/><circle cx="207.1" cy="597.4" r="0.5"/><circle cx="225.9" cy="599.2" r="0.5"/><circle cx="221.7" cy="598.1" r="0.5"/><circle cx="206.8" cy="599.6" r="0.5"/><circle cx="225.6" cy="598.9" r="0.5"/><circle cx="213.2" cy="599.3" r="0.5"/><circle cx="222.1" cy="596.7" r="0.5"/><circle cx="205.1" cy="598.9" r="0.5"/><circle cx="212.2" cy="598.3" r="0.5"/><circle cx="197.8" cy="597.0" r="0.5"/><circle cx="222.6" cy="599.9" r="0.5"/><circle cx="228.7" cy="597.4" r="0.5"/><circle cx="200.6" cy="598.0" r="0.5"/><circle cx="211.5" cy="599.3" r="0.5"/><circle cx="224.0" cy="598.0" r="0.5"/><circle cx="205.3" cy="598.7" r="0.5"/><circle cx="227.8" cy="597.9" r="0.5"/><circle cx="199.0" cy="599.6" r="0.5"/><circle cx="221.4" cy="599.1" r="0.5"/><circle cx="219.2" cy="597.2" r="0.5"/><circle cx="201.9" cy="599.4" r="0.5"/><circle cx="206.1" cy="598.3" r="0.5"/><circle cx="196.5" cy="599.2" r="0.5"/><circle cx="202.3" cy="597.2" r="0.5"/><circle cx="206.4" cy="598.1" r="0.5"/><circle cx="215.8" cy="597.6" r="0.5"/><circle cx="195.5" cy="600.1" r="0.5"/><circle cx="221.3" cy="599.6" r="0.5"/><circle cx="216.7" cy="597.7" r="0.5"/><circle cx="228.4" cy="598.8" r="0.5"/><circle cx="212.2" cy="598.9" r="0.5"/><circle cx="219.6" cy="597.4" r="0.5"/><circle cx="209.7" cy="598.2" r="0.5"/><circle cx="210.6" cy="598.8" r="0.5"/><circle cx="217.3" cy="598.2" r="0.5"/><circle cx="198.1" cy="598.9" r="0.5"/><circle cx="222.2" cy="597.9" r="0.5"/><circle cx="205.9" cy="597.7" r="0.5"/><circle cx="227.5" cy="597.6" r="0.5"/><circle cx="211.1" cy="597.3" r="0.5"/><circle cx="203.5" cy="598.4" r="0.5"/><circle cx="227.0" cy="598.2" r="0.5"/><circle cx="202.1" cy="599.0" r="0.5"/><circle cx="219.4" cy="599.6" r="0.5"/><circle cx="227.5" cy="597.7" r="0.5"/><circle cx="202.6" cy="599.8" r="0.5"/><circle cx="202.3" cy="597.4" r="0.5"/><circle cx="198.1" cy="597.6" r="0.5"/><circle cx="211.7" cy="599.0" r="0.5"/><circle cx="219.5" cy="598.6" r="0.5"/><circle cx="206.3" cy="599.3" r="0.5"/><circle cx="200.5" cy="597.2" r="0.5"/><circle cx="204.3" cy="599.0" r="0.5"/><circle cx="199.6" cy="598.4" r="0.5"/><circle cx="224.2" cy="598.1" r="0.5"/><circle cx="215.9" cy="598.5" r="0.5"/><circle cx="223.7" cy="598.6" r="0.5"/><circle cx="195.8" cy="598.5" r="0.5"/><circle cx="218.5" cy="597.3" r="0.5"/><circle cx="201.8" cy="598.4" r="0.5"/><circle cx="215.1" cy="597.7" r="0.5"/><circle cx="227.8" cy="598.0" r="0.5"/><circle cx="203.2" cy="598.2" r="0.5"/><circle cx="208.9" cy="599.4" r="0.5"/><circle cx="208.3" cy="596.9" r="0.5"/><circle cx="215.0" cy="597.8" r="0.5"/><circle cx="205.8" cy="599.4" r="0.5"/><circle cx="227.1" cy="597.9" r="0.5"/><circle cx="216.2" cy="599.1" r="0.5"/><circle cx="202.5" cy="599.3" r="0.5"/><circle cx="223.1" cy="599.2" r="0.5"/><circle cx="207.5" cy="598.3" r="0.5"/><circle cx="215.5" cy="599.3" r="0.5"/><circle cx="204.2" cy="597.3" r="0.5"/><circle cx="196.3" cy="598.3" r="0.5"/><circle cx="206.0" cy="598.8" r="0.5"/><circle cx="220.5" cy="597.9" r="0.5"/><circle cx="197.6" cy="597.5" r="0.5"/><circle cx="217.1" cy="598.6" r="0.5"/><circle cx="195.2" cy="599.2" r="0.5"/><circle cx="226.2" cy="599.2" r="0.5"/><circle cx="212.1" cy="599.3" r="0.5"/><circle cx="228.5" cy="597.6" r="0.5"/><circle cx="197.6" cy="599.0" r="0.5"/><circle cx="202.4" cy="597.9" r="0.5"/><circle cx="212.9" cy="595.7" r="0.5"/><circle cx="226.8" cy="600.1" r="0.5"/><circle cx="219.6" cy="598.5" r="0.5"/><circle cx="210.0" cy="599.2" r="0.5"/><circle cx="205.9" cy="598.6" r="0.5"/><circle cx="204.0" cy="599.2" r="0.5"/><circle cx="205.1" cy="599.2" r="0.5"/><circle cx="227.4" cy="599.0" r="0.5"/><circle cx="223.5" cy="596.6" r="0.5"/><circle cx="226.9" cy="596.8" r="0.5"/><circle cx="198.1" cy="599.4" r="0.5"/><circle cx="213.1" cy="598.8" r="0.5"/><circle cx="228.9" cy="600.0" r="0.5"/><circle cx="221.9" cy="598.8" r="0.5"/><circle cx="203.9" cy="598.7" r="0.5"/><circle cx="198.2" cy="596.5" r="0.5"/><circle cx="217.4" cy="596.8" r="0.5"/><circle cx="200.1" cy="598.8" r="0.5"/><circle cx="217.5" cy="598.8" r="0.5"/><circle cx="209.7" cy="598.5" r="0.5"/><circle cx="206.8" cy="597.9" r="0.5"/><circle cx="228.8" cy="598.8" r="0.5"/><circle cx="209.1" cy="597.6" r="0.5"/><circle cx="225.0" cy="598.5" r="0.5"/><circle cx="200.6" cy="599.1" r="0.5"/><circle cx="224.8" cy="598.2" r="0.5"/><circle cx="209.5" cy="597.9" r="0.5"/><circle cx="222.8" cy="598.1" r="0.5"/><circle cx="202.5" cy="598.8" r="0.5"/><circle cx="225.5" cy="597.1" r="0.5"/><circle cx="228.6" cy="598.7" r="0.5"/><circle cx="222.7" cy="597.9" r="0.5"/><circle cx="198.5" cy="599.3" r="0.5"/><circle cx="199.7" cy="596.4" r="0.5"/><circle cx="196.4" cy="598.8" r="0.5"/><circle cx="218.1" cy="597.6" r="0.5"/><circle cx="222.8" cy="599.6" r="0.5"/><circle cx="223.6" cy="598.1" r="0.5"/><circle cx="226.0" cy="598.6" r="0.5"/><circle cx="226.2" cy="597.5" r="0.5"/><circle cx="209.3" cy="599.3" r="0.5"/><circle cx="211.5" cy="597.9" r="0.5"/><circle cx="196.2" cy="600.3" r="0.5"/><circle cx="210.5" cy="599.9" r="0.5"/><circle cx="219.8" cy="596.9" r="0.5"/><circle cx="212.8" cy="598.8" r="0.5"/><circle cx="199.9" cy="597.9" r="0.5"/><circle cx="200.3" cy="599.8" r="0.5"/><circle cx="227.0" cy="599.7" r="0.5"/><circle cx="224.6" cy="599.0" r="0.5"/></g>
<g fill="#e24a58" fill-opacity="0.25"><circle cx="228.5" cy="562.7" r="0.4"/><circle cx="211.0" cy="588.5" r="0.4"/><circle cx="219.5" cy="560.5" r="0.4"/><circle cx="211.5" cy="586.6" r="0.4"/><circle cx="208.7" cy="569.3" r="0.4"/><circle cx="234.4" cy="567.6" r="0.4"/><circle cx="231.8" cy="557.2" r="0.4"/><circle cx="213.6" cy="558.3" r="0.4"/><circle cx="228.5" cy="582.1" r="0.4"/><circle cx="229.5" cy="593.5" r="0.4"/><circle cx="228.2" cy="561.0" r="0.4"/><circle cx="220.8" cy="557.5" r="0.4"/><circle cx="230.3" cy="573.3" r="0.4"/><circle cx="221.0" cy="597.0" r="0.4"/><circle cx="235.8" cy="583.8" r="0.4"/><circle cx="218.8" cy="596.2" r="0.4"/><circle cx="231.6" cy="565.9" r="0.4"/><circle cx="220.7" cy="599.6" r="0.4"/><circle cx="235.6" cy="598.1" r="0.4"/><circle cx="221.6" cy="563.5" r="0.4"/><circle cx="233.0" cy="565.4" r="0.4"/><circle cx="224.9" cy="573.9" r="0.4"/><circle cx="231.7" cy="572.9" r="0.4"/><circle cx="218.6" cy="595.0" r="0.4"/><circle cx="228.3" cy="601.9" r="0.4"/><circle cx="211.3" cy="562.0" r="0.4"/><circle cx="226.9" cy="578.9" r="0.4"/><circle cx="233.0" cy="577.3" r="0.4"/><circle cx="209.3" cy="577.9" r="0.4"/><circle cx="215.0" cy="592.8" r="0.4"/><circle cx="230.6" cy="595.7" r="0.4"/><circle cx="211.1" cy="581.9" r="0.4"/><circle cx="213.6" cy="601.0" r="0.4"/><circle cx="212.2" cy="585.9" r="0.4"/><circle cx="228.1" cy="565.2" r="0.4"/><circle cx="224.3" cy="561.6" r="0.4"/><circle cx="209.5" cy="569.0" r="0.4"/><circle cx="210.2" cy="576.2" r="0.4"/><circle cx="227.0" cy="598.6" r="0.4"/><circle cx="215.3" cy="577.9" r="0.4"/><circle cx="227.3" cy="570.5" r="0.4"/><circle cx="216.7" cy="573.0" r="0.4"/><circle cx="231.4" cy="572.6" r="0.4"/><circle cx="229.5" cy="562.8" r="0.4"/><circle cx="216.6" cy="569.4" r="0.4"/><circle cx="214.4" cy="563.3" r="0.4"/><circle cx="219.1" cy="593.4" r="0.4"/><circle cx="226.5" cy="601.7" r="0.4"/><circle cx="216.8" cy="570.0" r="0.4"/><circle cx="214.8" cy="578.7" r="0.4"/><circle cx="211.5" cy="593.0" r="0.4"/><circle cx="219.9" cy="557.9" r="0.4"/><circle cx="222.2" cy="575.7" r="0.4"/><circle cx="213.4" cy="569.9" r="0.4"/><circle cx="226.8" cy="601.9" r="0.4"/><circle cx="224.9" cy="567.8" r="0.4"/><circle cx="208.9" cy="570.9" r="0.4"/><circle cx="214.7" cy="575.5" r="0.4"/><circle cx="220.6" cy="568.9" r="0.4"/><circle cx="212.6" cy="598.8" r="0.4"/><circle cx="234.5" cy="589.3" r="0.4"/><circle cx="234.0" cy="582.1" r="0.4"/><circle cx="228.8" cy="576.3" r="0.4"/><circle cx="226.6" cy="595.0" r="0.4"/><circle cx="227.8" cy="592.7" r="0.4"/><circle cx="225.1" cy="571.9" r="0.4"/><circle cx="230.5" cy="597.2" r="0.4"/><circle cx="214.6" cy="563.6" r="0.4"/><circle cx="208.2" cy="567.3" r="0.4"/><circle cx="213.1" cy="565.3" r="0.4"/><circle cx="212.6" cy="570.6" r="0.4"/><circle cx="212.7" cy="600.2" r="0.4"/><circle cx="210.0" cy="556.6" r="0.4"/><circle cx="233.8" cy="573.6" r="0.4"/><circle cx="228.9" cy="570.7" r="0.4"/><circle cx="208.4" cy="557.7" r="0.4"/><circle cx="233.8" cy="558.3" r="0.4"/><circle cx="220.4" cy="568.1" r="0.4"/><circle cx="226.0" cy="573.3" r="0.4"/><circle cx="230.6" cy="565.9" r="0.4"/><circle cx="223.1" cy="601.1" r="0.4"/><circle cx="222.9" cy="599.9" r="0.4"/><circle cx="209.4" cy="596.5" r="0.4"/><circle cx="218.9" cy="601.9" r="0.4"/><circle cx="227.6" cy="567.8" r="0.4"/><circle cx="229.5" cy="563.7" r="0.4"/><circle cx="222.8" cy="590.1" r="0.4"/><circle cx="212.7" cy="558.7" r="0.4"/><circle cx="231.5" cy="564.7" r="0.4"/><circle cx="229.3" cy="577.7" r="0.4"/><circle cx="213.4" cy="595.6" r="0.4"/><circle cx="218.4" cy="568.1" r="0.4"/><circle cx="233.2" cy="601.5" r="0.4"/><circle cx="217.3" cy="600.8" r="0.4"/><circle cx="211.0" cy="592.5" r="0.4"/><circle cx="224.4" cy="567.2" r="0.4"/><circle cx="219.1" cy="570.7" r="0.4"/><circle cx="226.9" cy="575.4" r="0.4"/><circle cx="220.0" cy="586.7" r="0.4"/><circle cx="217.7" cy="559.8" r="0.4"/><circle cx="221.8" cy="595.8" r="0.4"/><circle cx="214.7" cy="568.4" r="0.4"/><circle cx="233.6" cy="563.5" r="0.4"/><circle cx="234.9" cy="569.9" r="0.4"/><circle cx="213.8" cy="589.3" r="0.4"/><circle cx="232.9" cy="577.5" r="0.4"/><circle cx="215.6" cy="561.9" r="0.4"/><circle cx="208.2" cy="588.4" r="0.4"/><circle cx="228.7" cy="570.5" r="0.4"/><circle cx="221.3" cy="591.2" r="0.4"/><circle cx="227.5" cy="587.3" r="0.4"/><circle cx="233.7" cy="567.2" r="0.4"/><circle cx="235.2" cy="584.8" r="0.4"/><circle cx="216.9" cy="587.3" r="0.4"/><circle cx="216.5" cy="574.9" r="0.4"/><circle cx="231.0" cy="593.1" r="0.4"/><circle cx="224.7" cy="593.1" r="0.4"/><circle cx="232.2" cy="573.9" r="0.4"/><circle cx="210.1" cy="599.3" r="0.4"/><circle cx="209.7" cy="576.5" r="0.4"/><circle cx="210.9" cy="580.7" r="0.4"/><circle cx="229.8" cy="557.6" r="0.4"/><circle cx="221.9" cy="574.5" r="0.4"/><circle cx="226.7" cy="597.3" r="0.4"/><circle cx="226.8" cy="558.8" r="0.4"/><circle cx="217.9" cy="577.4" r="0.4"/><circle cx="212.5" cy="595.5" r="0.4"/><circle cx="218.1" cy="572.5" r="0.4"/><circle cx="214.0" cy="580.7" r="0.4"/><circle cx="230.6" cy="561.1" r="0.4"/><circle cx="222.0" cy="569.7" r="0.4"/><circle cx="209.7" cy="574.3" r="0.4"/><circle cx="225.8" cy="584.3" r="0.4"/><circle cx="235.9" cy="588.3" r="0.4"/><circle cx="234.0" cy="589.5" r="0.4"/><circle cx="227.2" cy="597.3" r="0.4"/><circle cx="232.2" cy="590.7" r="0.4"/><circle cx="217.2" cy="569.0" r="0.4"/><circle cx="232.2" cy="557.2" r="0.4"/><circle cx="218.9" cy="594.5" r="0.4"/><circle cx="216.2" cy="578.9" r="0.4"/><circle cx="217.7" cy="585.4" r="0.4"/><circle cx="231.2" cy="558.7" r="0.4"/><circle cx="219.5" cy="595.4" r="0.4"/><circle cx="219.6" cy="600.9" r="0.4"/><circle cx="215.6" cy="579.2" r="0.4"/><circle cx="212.8" cy="595.9" r="0.4"/><circle cx="221.4" cy="593.9" r="0.4"/><circle cx="227.3" cy="568.1" r="0.4"/><circle cx="231.9" cy="559.1" r="0.4"/><circle cx="233.9" cy="592.1" r="0.4"/><circle cx="214.9" cy="582.5" r="0.4"/><circle cx="217.8" cy="577.5" r="0.4"/><circle cx="234.5" cy="576.9" r="0.4"/><circle cx="224.3" cy="558.1" r="0.4"/><circle cx="209.6" cy="577.9" r="0.4"/><circle cx="219.8" cy="599.0" r="0.4"/><circle cx="224.0" cy="596.9" r="0.4"/><circle cx="224.1" cy="598.8" r="0.4"/><circle cx="217.0" cy="557.2" r="0.4"/><circle cx="229.1" cy="586.1" r="0.4"/><circle cx="213.5" cy="565.9" r="0.4"/><circle cx="221.2" cy="597.4" r="0.4"/><circle cx="226.7" cy="575.9" r="0.4"/><circle cx="224.0" cy="572.0" r="0.4"/><circle cx="219.0" cy="564.4" r="0.4"/><circle cx="227.5" cy="557.1" r="0.4"/><circle cx="222.7" cy="560.1" r="0.4"/><circle cx="212.0" cy="590.9" r="0.4"/><circle cx="232.2" cy="579.4" r="0.4"/><circle cx="235.0" cy="588.6" r="0.4"/><circle cx="223.1" cy="583.9" r="0.4"/><circle cx="208.2" cy="560.5" r="0.4"/><circle cx="229.0" cy="573.2" r="0.4"/><circle cx="235.0" cy="567.8" r="0.4"/><circle cx="215.9" cy="565.7" r="0.4"/><circle cx="234.1" cy="581.1" r="0.4"/><circle cx="215.2" cy="559.0" r="0.4"/><circle cx="224.3" cy="556.7" r="0.4"/><circle cx="232.1" cy="563.3" r="0.4"/><circle cx="229.3" cy="595.7" r="0.4"/><circle cx="216.1" cy="582.9" r="0.4"/><circle cx="227.2" cy="577.0" r="0.4"/><circle cx="219.5" cy="596.7" r="0.4"/><circle cx="215.2" cy="582.0" r="0.4"/><circle cx="208.2" cy="582.2" r="0.4"/><circle cx="235.2" cy="574.2" r="0.4"/><circle cx="228.6" cy="571.0" r="0.4"/><circle cx="218.6" cy="574.1" r="0.4"/><circle cx="232.6" cy="571.0" r="0.4"/><circle cx="209.3" cy="581.1" r="0.4"/><circle cx="224.3" cy="583.9" r="0.4"/><circle cx="221.1" cy="569.7" r="0.4"/><circle cx="228.0" cy="567.5" r="0.4"/><circle cx="215.3" cy="564.2" r="0.4"/><circle cx="209.6" cy="565.5" r="0.4"/><circle cx="226.9" cy="574.2" r="0.4"/><circle cx="220.8" cy="566.6" r="0.4"/><circle cx="215.2" cy="587.6" r="0.4"/><circle cx="234.3" cy="562.5" r="0.4"/><circle cx="227.3" cy="600.2" r="0.4"/><circle cx="223.3" cy="597.1" r="0.4"/><circle cx="213.1" cy="592.1" r="0.4"/><circle cx="211.1" cy="565.9" r="0.4"/><circle cx="210.7" cy="556.2" r="0.4"/><circle cx="229.2" cy="572.1" r="0.4"/><circle cx="218.2" cy="589.7" r="0.4"/><circle cx="215.1" cy="595.5" r="0.4"/><circle cx="213.2" cy="600.9" r="0.4"/><circle cx="232.4" cy="579.0" r="0.4"/><circle cx="234.2" cy="594.9" r="0.4"/><circle cx="234.6" cy="569.6" r="0.4"/><circle cx="219.6" cy="569.9" r="0.4"/><circle cx="220.5" cy="581.5" r="0.4"/><circle cx="232.0" cy="571.1" r="0.4"/><circle cx="223.6" cy="568.7" r="0.4"/><circle cx="220.5" cy="558.4" r="0.4"/><circle cx="223.2" cy="584.3" r="0.4"/><circle cx="224.6" cy="596.0" r="0.4"/><circle cx="222.6" cy="568.7" r="0.4"/><circle cx="234.6" cy="574.5" r="0.4"/><circle cx="213.4" cy="579.4" r="0.4"/><circle cx="227.6" cy="568.3" r="0.4"/><circle cx="214.5" cy="559.9" r="0.4"/><circle cx="223.6" cy="573.3" r="0.4"/><circle cx="230.3" cy="563.4" r="0.4"/><circle cx="225.1" cy="562.9" r="0.4"/><circle cx="213.5" cy="561.2" r="0.4"/><circle cx="226.1" cy="589.6" r="0.4"/><circle cx="220.2" cy="594.0" r="0.4"/><circle cx="230.4" cy="595.8" r="0.4"/><circle cx="226.0" cy="576.6" r="0.4"/><circle cx="219.6" cy="592.6" r="0.4"/><circle cx="216.3" cy="567.2" r="0.4"/><circle cx="235.9" cy="599.0" r="0.4"/><circle cx="226.3" cy="594.3" r="0.4"/><circle cx="209.5" cy="591.6" r="0.4"/><circle cx="224.6" cy="569.6" r="0.4"/><circle cx="215.8" cy="587.2" r="0.4"/><circle cx="233.6" cy="590.3" r="0.4"/><circle cx="209.2" cy="582.9" r="0.4"/><circle cx="217.4" cy="566.4" r="0.4"/><circle cx="209.6" cy="582.6" r="0.4"/><circle cx="215.5" cy="571.4" r="0.4"/><circle cx="222.0" cy="597.3" r="0.4"/><circle cx="215.7" cy="582.5" r="0.4"/><circle cx="226.1" cy="590.7" r="0.4"/><circle cx="231.7" cy="566.4" r="0.4"/><circle cx="232.2" cy="559.5" r="0.4"/><circle cx="220.9" cy="589.8" r="0.4"/><circle cx="233.2" cy="572.0" r="0.4"/><circle cx="227.0" cy="588.2" r="0.4"/><circle cx="209.3" cy="590.5" r="0.4"/><circle cx="231.4" cy="562.4" r="0.4"/><circle cx="217.0" cy="575.9" r="0.4"/><circle cx="234.3" cy="600.0" r="0.4"/><circle cx="213.1" cy="574.2" r="0.4"/><circle cx="211.4" cy="558.4" r="0.4"/><circle cx="214.0" cy="599.0" r="0.4"/><circle cx="233.3" cy="565.2" r="0.4"/><circle cx="225.5" cy="585.3" r="0.4"/><circle cx="220.5" cy="594.9" r="0.4"/><circle cx="210.5" cy="568.5" r="0.4"/><circle cx="211.2" cy="597.9" r="0.4"/><circle cx="230.4" cy="576.7" r="0.4"/><circle cx="210.5" cy="595.2" r="0.4"/><circle cx="229.8" cy="596.0" r="0.4"/><circle cx="234.4" cy="586.6" r="0.4"/><circle cx="221.7" cy="592.9" r="0.4"/><circle cx="211.9" cy="594.6" r="0.4"/><circle cx="216.6" cy="576.2" r="0.4"/><circle cx="232.4" cy="556.3" r="0.4"/><circle cx="217.5" cy="593.4" r="0.4"/><circle cx="219.3" cy="597.6" r="0.4"/><circle cx="228.1" cy="566.5" r="0.4"/><circle cx="221.8" cy="572.3" r="0.4"/><circle cx="226.5" cy="588.8" r="0.4"/><circle cx="222.1" cy="559.5" r="0.4"/><circle cx="232.1" cy="564.2" r="0.4"/><circle cx="225.7" cy="593.9" r="0.4"/><circle cx="220.8" cy="558.3" r="0.4"/><circle cx="223.4" cy="560.5" r="0.4"/><circle cx="212.8" cy="565.6" r="0.4"/><circle cx="212.8" cy="582.6" r="0.4"/><circle cx="229.0" cy="576.3" r="0.4"/><circle cx="234.7" cy="559.3" r="0.4"/><circle cx="217.2" cy="570.8" r="0.4"/><circle cx="223.1" cy="586.8" r="0.4"/><circle cx="215.7" cy="575.6" r="0.4"/><circle cx="218.7" cy="571.7" r="0.4"/><circle cx="209.6" cy="590.4" r="0.4"/><circle cx="208.8" cy="575.4" r="0.4"/><circle cx="214.3" cy="575.3" r="0.4"/><circle cx="227.7" cy="592.7" r="0.4"/><circle cx="232.3" cy="584.8" r="0.4"/><circle cx="215.9" cy="556.5" r="0.4"/><circle cx="212.2" cy="596.7" r="0.4"/><circle cx="218.7" cy="573.4" r="0.4"/><circle cx="217.9" cy="571.5" r="0.4"/><circle cx="213.4" cy="568.9" r="0.4"/><circle cx="221.2" cy="577.0" r="0.4"/><circle cx="209.7" cy="561.1" r="0.4"/><circle cx="208.7" cy="577.5" r="0.4"/><circle cx="226.1" cy="596.5" r="0.4"/><circle cx="219.2" cy="583.9" r="0.4"/><circle cx="230.0" cy="580.6" r="0.4"/><circle cx="223.1" cy="562.8" r="0.4"/><circle cx="227.1" cy="589.4" r="0.4"/><circle cx="216.5" cy="586.4" r="0.4"/><circle cx="213.8" cy="561.0" r="0.4"/><circle cx="217.3" cy="581.2" r="0.4"/><circle cx="218.9" cy="567.5" r="0.4"/><circle cx="235.0" cy="588.2" r="0.4"/><circle cx="215.9" cy="559.3" r="0.4"/><circle cx="228.0" cy="598.4" r="0.4"/><circle cx="228.1" cy="587.5" r="0.4"/><circle cx="235.1" cy="588.0" r="0.4"/><circle cx="211.4" cy="577.7" r="0.4"/><circle cx="219.1" cy="582.6" r="0.4"/><circle cx="212.4" cy="584.9" r="0.4"/><circle cx="227.7" cy="568.5" r="0.4"/><circle cx="225.5" cy="571.8" r="0.4"/><circle cx="226.9" cy="577.5" r="0.4"/><circle cx="234.9" cy="577.4" r="0.4"/><circle cx="209.2" cy="559.1" r="0.4"/><circle cx="227.3" cy="560.3" r="0.4"/><circle cx="229.4" cy="578.8" r="0.4"/><circle cx="217.7" cy="574.8" r="0.4"/><circle cx="231.6" cy="580.8" r="0.4"/><circle cx="219.7" cy="577.7" r="0.4"/><circle cx="224.2" cy="576.9" r="0.4"/><circle cx="227.9" cy="574.8" r="0.4"/><circle cx="216.0" cy="561.5" r="0.4"/><circle cx="220.7" cy="564.4" r="0.4"/><circle cx="213.5" cy="564.0" r="0.4"/><circle cx="218.0" cy="597.9" r="0.4"/><circle cx="222.3" cy="568.7" r="0.4"/><circle cx="221.3" cy="577.1" r="0.4"/><circle cx="209.5" cy="593.2" r="0.4"/><circle cx="222.2" cy="601.6" r="0.4"/><circle cx="225.7" cy="567.2" r="0.4"/><circle cx="235.5" cy="561.1" r="0.4"/><circle cx="212.6" cy="562.6" r="0.4"/><circle cx="212.4" cy="562.2" r="0.4"/><circle cx="233.2" cy="562.6" r="0.4"/><circle cx="221.7" cy="562.6" r="0.4"/><circle cx="216.7" cy="560.2" r="0.4"/><circle cx="218.3" cy="569.0" r="0.4"/><circle cx="228.3" cy="601.6" r="0.4"/><circle cx="213.3" cy="577.4" r="0.4"/><circle cx="225.3" cy="601.4" r="0.4"/><circle cx="209.8" cy="586.2" r="0.4"/><circle cx="219.3" cy="579.1" r="0.4"/><circle cx="227.6" cy="588.0" r="0.4"/><circle cx="218.8" cy="593.5" r="0.4"/><circle cx="224.3" cy="566.6" r="0.4"/><circle cx="213.4" cy="565.2" r="0.4"/><circle cx="230.7" cy="595.7" r="0.4"/><circle cx="212.5" cy="583.2" r="0.4"/><circle cx="210.1" cy="558.9" r="0.4"/><circle cx="227.1" cy="581.6" r="0.4"/><circle cx="220.0" cy="576.0" r="0.4"/><circle cx="220.7" cy="573.3" r="0.4"/><circle cx="216.0" cy="599.0" r="0.4"/><circle cx="210.0" cy="583.1" r="0.4"/><circle cx="213.0" cy="572.8" r="0.4"/><circle cx="209.2" cy="562.6" r="0.4"/><circle cx="225.1" cy="557.5" r="0.4"/><circle cx="219.6" cy="584.1" r="0.4"/><circle cx="224.0" cy="560.7" r="0.4"/><circle cx="219.8" cy="571.0" r="0.4"/><circle cx="230.5" cy="595.8" r="0.4"/><circle cx="224.6" cy="592.1" r="0.4"/><circle cx="219.6" cy="601.0" r="0.4"/><circle cx="228.1" cy="597.0" r="0.4"/><circle cx="212.6" cy="588.0" r="0.4"/><circle cx="226.7" cy="588.0" r="0.4"/><circle cx="233.0" cy="566.5" r="0.4"/><circle cx="211.3" cy="581.8" r="0.4"/><circle cx="214.2" cy="600.6" r="0.4"/></g>
<g fill="#e24a58" fill-opacity="0.28"><circle cx="189.4" cy="576.9" r="0.4"/><circle cx="200.0" cy="588.6" r="0.4"/><circle cx="195.6" cy="576.8" r="0.4"/><circle cx="197.8" cy="573.4" r="0.4"/><circle cx="204.5" cy="598.9" r="0.4"/><circle cx="204.4" cy="587.2" r="0.4"/><circle cx="201.1" cy="578.9" r="0.4"/><circle cx="210.4" cy="580.3" r="0.4"/><circle cx="207.1" cy="587.6" r="0.4"/><circle cx="199.7" cy="596.2" r="0.4"/><circle cx="194.4" cy="601.5" r="0.4"/><circle cx="208.2" cy="597.7" r="0.4"/><circle cx="204.8" cy="593.5" r="0.4"/><circle cx="195.0" cy="596.2" r="0.4"/><circle cx="193.9" cy="597.2" r="0.4"/><circle cx="197.2" cy="584.5" r="0.4"/><circle cx="203.0" cy="587.5" r="0.4"/><circle cx="208.4" cy="581.5" r="0.4"/><circle cx="202.0" cy="592.4" r="0.4"/><circle cx="203.5" cy="579.0" r="0.4"/><circle cx="196.2" cy="598.8" r="0.4"/><circle cx="205.9" cy="583.9" r="0.4"/><circle cx="192.4" cy="580.2" r="0.4"/><circle cx="203.1" cy="599.7" r="0.4"/><circle cx="197.9" cy="602.7" r="0.4"/><circle cx="195.4" cy="578.3" r="0.4"/><circle cx="194.6" cy="597.4" r="0.4"/><circle cx="205.5" cy="602.9" r="0.4"/><circle cx="198.3" cy="574.3" r="0.4"/><circle cx="200.1" cy="597.2" r="0.4"/><circle cx="198.9" cy="601.7" r="0.4"/><circle cx="204.5" cy="590.4" r="0.4"/><circle cx="201.3" cy="600.5" r="0.4"/><circle cx="199.0" cy="602.0" r="0.4"/><circle cx="207.6" cy="598.8" r="0.4"/><circle cx="199.0" cy="601.2" r="0.4"/><circle cx="196.3" cy="602.9" r="0.4"/><circle cx="196.5" cy="601.8" r="0.4"/><circle cx="199.7" cy="593.4" r="0.4"/><circle cx="200.7" cy="592.2" r="0.4"/><circle cx="196.2" cy="599.5" r="0.4"/><circle cx="204.3" cy="573.3" r="0.4"/><circle cx="195.4" cy="588.8" r="0.4"/><circle cx="197.4" cy="593.6" r="0.4"/><circle cx="204.5" cy="598.9" r="0.4"/><circle cx="189.3" cy="580.1" r="0.4"/><circle cx="198.3" cy="595.1" r="0.4"/><circle cx="194.8" cy="581.8" r="0.4"/><circle cx="200.1" cy="575.2" r="0.4"/><circle cx="201.0" cy="573.3" r="0.4"/><circle cx="201.0" cy="590.0" r="0.4"/><circle cx="189.4" cy="581.4" r="0.4"/><circle cx="199.0" cy="602.0" r="0.4"/><circle cx="204.0" cy="578.6" r="0.4"/><circle cx="199.5" cy="584.2" r="0.4"/><circle cx="201.7" cy="581.7" r="0.4"/><circle cx="203.6" cy="578.4" r="0.4"/><circle cx="199.5" cy="601.9" r="0.4"/><circle cx="203.4" cy="594.5" r="0.4"/><circle cx="199.4" cy="600.9" r="0.4"/><circle cx="201.3" cy="602.6" r="0.4"/><circle cx="198.4" cy="576.2" r="0.4"/><circle cx="196.3" cy="584.4" r="0.4"/><circle cx="202.5" cy="596.2" r="0.4"/><circle cx="197.0" cy="598.7" r="0.4"/><circle cx="197.9" cy="589.4" r="0.4"/><circle cx="203.3" cy="592.6" r="0.4"/><circle cx="208.8" cy="598.4" r="0.4"/><circle cx="197.5" cy="588.1" r="0.4"/><circle cx="191.5" cy="589.8" r="0.4"/><circle cx="192.5" cy="593.7" r="0.4"/><circle cx="202.0" cy="602.5" r="0.4"/><circle cx="201.7" cy="590.3" r="0.4"/><circle cx="194.8" cy="592.9" r="0.4"/><circle cx="199.9" cy="585.8" r="0.4"/><circle cx="194.9" cy="589.0" r="0.4"/><circle cx="196.4" cy="580.9" r="0.4"/><circle cx="196.5" cy="573.2" r="0.4"/><circle cx="198.2" cy="597.0" r="0.4"/><circle cx="197.7" cy="586.1" r="0.4"/><circle cx="201.8" cy="590.6" r="0.4"/><circle cx="197.4" cy="602.9" r="0.4"/><circle cx="193.1" cy="597.3" r="0.4"/><circle cx="201.8" cy="597.8" r="0.4"/><circle cx="199.8" cy="582.7" r="0.4"/><circle cx="197.9" cy="573.6" r="0.4"/><circle cx="198.9" cy="602.5" r="0.4"/><circle cx="201.1" cy="581.5" r="0.4"/><circle cx="198.2" cy="575.1" r="0.4"/><circle cx="206.0" cy="574.6" r="0.4"/><circle cx="198.7" cy="582.7" r="0.4"/><circle cx="204.9" cy="576.7" r="0.4"/><circle cx="192.2" cy="578.6" r="0.4"/><circle cx="199.5" cy="602.4" r="0.4"/><circle cx="199.4" cy="595.5" r="0.4"/><circle cx="197.9" cy="600.4" r="0.4"/><circle cx="201.9" cy="590.3" r="0.4"/><circle cx="199.4" cy="583.4" r="0.4"/><circle cx="189.3" cy="600.6" r="0.4"/><circle cx="199.3" cy="591.5" r="0.4"/><circle cx="204.4" cy="585.9" r="0.4"/><circle cx="201.2" cy="591.4" r="0.4"/><circle cx="197.3" cy="592.9" r="0.4"/><circle cx="199.2" cy="588.5" r="0.4"/><circle cx="198.0" cy="596.8" r="0.4"/><circle cx="195.1" cy="576.9" r="0.4"/><circle cx="201.7" cy="593.6" r="0.4"/><circle cx="194.5" cy="598.5" r="0.4"/><circle cx="198.0" cy="594.4" r="0.4"/><circle cx="204.2" cy="596.4" r="0.4"/><circle cx="210.1" cy="598.9" r="0.4"/><circle cx="198.9" cy="592.1" r="0.4"/><circle cx="201.8" cy="590.3" r="0.4"/><circle cx="193.4" cy="595.0" r="0.4"/><circle cx="199.5" cy="592.3" r="0.4"/><circle cx="197.5" cy="595.1" r="0.4"/><circle cx="198.1" cy="602.3" r="0.4"/><circle cx="198.6" cy="594.3" r="0.4"/><circle cx="193.1" cy="601.6" r="0.4"/><circle cx="208.5" cy="599.6" r="0.4"/><circle cx="200.0" cy="596.2" r="0.4"/><circle cx="196.3" cy="599.8" r="0.4"/><circle cx="196.7" cy="594.8" r="0.4"/><circle cx="197.1" cy="599.1" r="0.4"/><circle cx="198.5" cy="602.5" r="0.4"/><circle cx="203.6" cy="589.3" r="0.4"/><circle cx="191.7" cy="598.2" r="0.4"/><circle cx="197.8" cy="598.5" r="0.4"/><circle cx="199.6" cy="584.7" r="0.4"/><circle cx="187.7" cy="583.9" r="0.4"/><circle cx="196.0" cy="587.7" r="0.4"/><circle cx="195.1" cy="577.6" r="0.4"/><circle cx="197.6" cy="600.5" r="0.4"/><circle cx="200.8" cy="592.1" r="0.4"/><circle cx="198.4" cy="577.3" r="0.4"/><circle cx="198.3" cy="578.2" r="0.4"/><circle cx="200.6" cy="602.6" r="0.4"/><circle cx="203.3" cy="602.9" r="0.4"/><circle cx="193.9" cy="581.8" r="0.4"/><circle cx="187.6" cy="587.4" r="0.4"/><circle cx="199.5" cy="594.6" r="0.4"/><circle cx="203.1" cy="588.1" r="0.4"/><circle cx="201.4" cy="580.2" r="0.4"/><circle cx="204.4" cy="587.3" r="0.4"/><circle cx="198.1" cy="599.7" r="0.4"/><circle cx="195.6" cy="596.9" r="0.4"/><circle cx="200.1" cy="600.2" r="0.4"/><circle cx="198.6" cy="597.9" r="0.4"/><circle cx="195.6" cy="588.6" r="0.4"/><circle cx="198.9" cy="592.2" r="0.4"/><circle cx="194.3" cy="593.3" r="0.4"/><circle cx="197.7" cy="601.0" r="0.4"/><circle cx="194.8" cy="585.5" r="0.4"/><circle cx="205.8" cy="597.2" r="0.4"/><circle cx="199.1" cy="578.8" r="0.4"/><circle cx="206.8" cy="574.3" r="0.4"/><circle cx="200.8" cy="598.1" r="0.4"/><circle cx="194.2" cy="603.0" r="0.4"/><circle cx="197.7" cy="589.4" r="0.4"/><circle cx="200.4" cy="581.4" r="0.4"/><circle cx="201.4" cy="585.5" r="0.4"/><circle cx="198.1" cy="596.4" r="0.4"/><circle cx="197.6" cy="589.9" r="0.4"/><circle cx="200.9" cy="596.3" r="0.4"/><circle cx="194.2" cy="594.5" r="0.4"/><circle cx="199.2" cy="594.8" r="0.4"/><circle cx="197.6" cy="592.4" r="0.4"/><circle cx="195.9" cy="593.0" r="0.4"/><circle cx="200.6" cy="579.8" r="0.4"/><circle cx="189.8" cy="576.2" r="0.4"/><circle cx="203.2" cy="592.8" r="0.4"/><circle cx="192.5" cy="596.6" r="0.4"/><circle cx="192.6" cy="582.9" r="0.4"/><circle cx="199.5" cy="601.1" r="0.4"/><circle cx="196.4" cy="584.0" r="0.4"/><circle cx="203.2" cy="591.6" r="0.4"/><circle cx="208.9" cy="583.1" r="0.4"/><circle cx="197.6" cy="586.7" r="0.4"/><circle cx="193.3" cy="598.3" r="0.4"/><circle cx="197.4" cy="596.7" r="0.4"/><circle cx="196.6" cy="577.0" r="0.4"/><circle cx="205.2" cy="574.2" r="0.4"/><circle cx="190.8" cy="600.1" r="0.4"/><circle cx="204.6" cy="575.9" r="0.4"/><circle cx="197.2" cy="594.1" r="0.4"/><circle cx="194.0" cy="602.2" r="0.4"/><circle cx="207.4" cy="576.8" r="0.4"/><circle cx="192.5" cy="600.0" r="0.4"/><circle cx="202.9" cy="590.9" r="0.4"/><circle cx="189.7" cy="579.2" r="0.4"/><circle cx="197.5" cy="602.6" r="0.4"/><circle cx="195.6" cy="601.4" r="0.4"/><circle cx="202.4" cy="592.2" r="0.4"/><circle cx="200.8" cy="594.5" r="0.4"/><circle cx="196.8" cy="595.4" r="0.4"/><circle cx="203.7" cy="592.1" r="0.4"/><circle cx="199.4" cy="601.2" r="0.4"/><circle cx="202.6" cy="602.9" r="0.4"/><circle cx="201.8" cy="591.7" r="0.4"/><circle cx="196.7" cy="578.1" r="0.4"/><circle cx="191.8" cy="596.3" r="0.4"/><circle cx="201.4" cy="594.2" r="0.4"/><circle cx="200.5" cy="592.5" r="0.4"/><circle cx="198.2" cy="594.2" r="0.4"/><circle cx="193.6" cy="598.0" r="0.4"/><circle cx="199.1" cy="585.8" r="0.4"/><circle cx="208.4" cy="598.2" r="0.4"/><circle cx="193.6" cy="582.4" r="0.4"/><circle cx="199.4" cy="588.8" r="0.4"/><circle cx="197.5" cy="588.3" r="0.4"/><circle cx="195.9" cy="594.0" r="0.4"/><circle cx="204.9" cy="596.1" r="0.4"/><circle cx="202.2" cy="577.6" r="0.4"/><circle cx="201.2" cy="593.2" r="0.4"/><circle cx="203.5" cy="601.5" r="0.4"/><circle cx="203.2" cy="599.0" r="0.4"/><circle cx="196.6" cy="601.5" r="0.4"/><circle cx="190.1" cy="588.6" r="0.4"/><circle cx="196.9" cy="588.2" r="0.4"/><circle cx="209.9" cy="582.2" r="0.4"/></g>
<g fill="#d81e34" fill-opacity="0.45"><circle cx="186.2" cy="583.7" r="0.45"/><circle cx="186.6" cy="589.8" r="0.45"/><circle cx="186.5" cy="581.5" r="0.45"/><circle cx="186.5" cy="583.0" r="0.45"/><circle cx="186.3" cy="582.0" r="0.45"/><circle cx="186.1" cy="591.6" r="0.45"/><circle cx="186.9" cy="602.6" r="0.45"/><circle cx="186.3" cy="591.9" r="0.45"/><circle cx="186.3" cy="593.2" r="0.45"/><circle cx="186.4" cy="587.4" r="0.45"/><circle cx="186.4" cy="584.1" r="0.45"/><circle cx="186.4" cy="588.5" r="0.45"/><circle cx="186.1" cy="602.8" r="0.45"/><circle cx="186.1" cy="596.7" r="0.45"/><circle cx="186.4" cy="584.3" r="0.45"/><circle cx="186.0" cy="586.6" r="0.45"/><circle cx="186.1" cy="590.5" r="0.45"/><circle cx="186.7" cy="587.5" r="0.45"/><circle cx="186.2" cy="587.4" r="0.45"/><circle cx="186.1" cy="595.2" r="0.45"/><circle cx="187.2" cy="578.4" r="0.45"/><circle cx="186.1" cy="589.2" r="0.45"/><circle cx="186.2" cy="584.5" r="0.45"/><circle cx="186.6" cy="593.1" r="0.45"/><circle cx="187.0" cy="601.0" r="0.45"/><circle cx="186.3" cy="599.8" r="0.45"/><circle cx="186.1" cy="593.6" r="0.45"/><circle cx="186.3" cy="592.4" r="0.45"/><circle cx="186.2" cy="597.7" r="0.45"/><circle cx="186.5" cy="585.7" r="0.45"/><circle cx="186.3" cy="602.8" r="0.45"/><circle cx="186.1" cy="586.2" r="0.45"/><circle cx="186.2" cy="601.8" r="0.45"/><circle cx="186.2" cy="598.2" r="0.45"/><circle cx="186.2" cy="598.0" r="0.45"/><circle cx="186.1" cy="578.1" r="0.45"/><circle cx="186.0" cy="587.0" r="0.45"/><circle cx="186.5" cy="578.4" r="0.45"/><circle cx="186.5" cy="589.2" r="0.45"/><circle cx="186.9" cy="599.9" r="0.45"/><circle cx="186.2" cy="588.7" r="0.45"/><circle cx="186.4" cy="582.6" r="0.45"/><circle cx="186.6" cy="578.0" r="0.45"/><circle cx="186.0" cy="593.9" r="0.45"/><circle cx="186.3" cy="598.4" r="0.45"/><circle cx="186.4" cy="586.5" r="0.45"/><circle cx="186.1" cy="584.6" r="0.45"/><circle cx="187.0" cy="601.7" r="0.45"/><circle cx="186.2" cy="602.8" r="0.45"/><circle cx="186.0" cy="593.4" r="0.45"/><circle cx="186.8" cy="585.4" r="0.45"/><circle cx="186.3" cy="599.7" r="0.45"/><circle cx="186.2" cy="590.4" r="0.45"/><circle cx="187.0" cy="600.5" r="0.45"/><circle cx="186.9" cy="581.6" r="0.45"/><circle cx="186.2" cy="589.5" r="0.45"/><circle cx="186.5" cy="583.2" r="0.45"/><circle cx="186.3" cy="589.7" r="0.45"/><circle cx="186.1" cy="592.7" r="0.45"/><circle cx="186.1" cy="578.2" r="0.45"/><circle cx="186.4" cy="597.9" r="0.45"/><circle cx="186.2" cy="587.0" r="0.45"/><circle cx="186.7" cy="582.2" r="0.45"/><circle cx="186.3" cy="590.0" r="0.45"/><circle cx="186.2" cy="598.2" r="0.45"/><circle cx="186.5" cy="601.6" r="0.45"/><circle cx="186.9" cy="579.0" r="0.45"/><circle cx="186.3" cy="588.7" r="0.45"/><circle cx="186.3" cy="589.6" r="0.45"/><circle cx="186.4" cy="595.0" r="0.45"/><circle cx="186.7" cy="579.4" r="0.45"/><circle cx="186.0" cy="596.7" r="0.45"/><circle cx="186.7" cy="597.4" r="0.45"/><circle cx="186.3" cy="602.5" r="0.45"/><circle cx="186.4" cy="593.3" r="0.45"/><circle cx="186.2" cy="590.0" r="0.45"/><circle cx="186.5" cy="578.4" r="0.45"/><circle cx="186.1" cy="586.3" r="0.45"/><circle cx="187.0" cy="597.7" r="0.45"/><circle cx="186.2" cy="579.4" r="0.45"/></g>
<g fill="none" stroke="#fff" stroke-opacity="0.55" stroke-width="0.5"><path d="M209 562 L203 596 L226 596"/><path d="M210 566 L206 594 L222 594"/><path d="M213 575 L224 592"/><path d="M198 600 L228 600"/></g>
<g filter="url(#bl2)"><path d="M206 668 L209 660 L213 652 L216 649 L220 652 L225 660 L229 668 Z" fill="#6a6a6a" fill-opacity="0.55"/><path d="M189 668 L194 662 L200 658 L205 657 L208 660 L209 668 Z" fill="#8a8a8a" fill-opacity="0.5"/><path d="M200 668 L204 652 L210 645 L216 642 L222 645 L228 654 L232 668 Z" fill="#b0b0b0" fill-opacity="0.35"/><path d="M211.5 664.5 Q216 655 220.5 664.5 Z" fill="#fff" fill-opacity="0.85"/><path d="M194 665.5 Q200 661 205 665.5 Z" fill="#fff" fill-opacity="0.6"/></g>
<g fill="#6a6a6a" fill-opacity="0.3"><circle cx="218.4" cy="637.2" r="0.4"/><circle cx="217.9" cy="654.2" r="0.4"/><circle cx="210.7" cy="666.2" r="0.4"/><circle cx="202.0" cy="669.9" r="0.4"/><circle cx="208.0" cy="666.7" r="0.4"/><circle cx="202.1" cy="625.8" r="0.4"/><circle cx="198.2" cy="666.2" r="0.4"/><circle cx="227.3" cy="666.9" r="0.4"/><circle cx="189.4" cy="659.4" r="0.4"/><circle cx="203.8" cy="644.4" r="0.4"/><circle cx="203.2" cy="667.7" r="0.4"/><circle cx="212.1" cy="656.0" r="0.4"/><circle cx="224.4" cy="669.3" r="0.4"/><circle cx="232.8" cy="643.2" r="0.4"/><circle cx="215.6" cy="659.5" r="0.4"/><circle cx="222.6" cy="667.0" r="0.4"/><circle cx="231.3" cy="637.6" r="0.4"/><circle cx="220.7" cy="662.1" r="0.4"/><circle cx="232.4" cy="662.1" r="0.4"/><circle cx="187.2" cy="636.2" r="0.4"/><circle cx="191.4" cy="666.9" r="0.4"/><circle cx="205.0" cy="639.3" r="0.4"/><circle cx="216.4" cy="660.2" r="0.4"/><circle cx="235.5" cy="636.5" r="0.4"/><circle cx="218.6" cy="664.9" r="0.4"/><circle cx="198.2" cy="637.0" r="0.4"/><circle cx="221.5" cy="634.4" r="0.4"/><circle cx="207.0" cy="629.8" r="0.4"/><circle cx="190.7" cy="668.7" r="0.4"/><circle cx="233.3" cy="646.2" r="0.4"/><circle cx="195.7" cy="667.2" r="0.4"/><circle cx="197.8" cy="655.7" r="0.4"/><circle cx="220.9" cy="657.3" r="0.4"/><circle cx="203.3" cy="632.7" r="0.4"/><circle cx="223.1" cy="657.7" r="0.4"/><circle cx="215.8" cy="666.0" r="0.4"/><circle cx="188.0" cy="670.0" r="0.4"/><circle cx="204.3" cy="668.1" r="0.4"/><circle cx="207.1" cy="665.5" r="0.4"/><circle cx="225.2" cy="661.3" r="0.4"/><circle cx="231.0" cy="659.3" r="0.4"/><circle cx="202.8" cy="664.3" r="0.4"/><circle cx="221.7" cy="628.9" r="0.4"/><circle cx="222.7" cy="652.2" r="0.4"/><circle cx="214.4" cy="666.3" r="0.4"/><circle cx="195.9" cy="666.2" r="0.4"/><circle cx="189.2" cy="651.9" r="0.4"/><circle cx="191.8" cy="666.6" r="0.4"/><circle cx="191.6" cy="625.6" r="0.4"/><circle cx="198.5" cy="660.2" r="0.4"/><circle cx="188.0" cy="668.6" r="0.4"/><circle cx="230.2" cy="654.9" r="0.4"/><circle cx="188.7" cy="664.3" r="0.4"/><circle cx="193.0" cy="665.2" r="0.4"/><circle cx="224.8" cy="670.0" r="0.4"/><circle cx="227.7" cy="662.8" r="0.4"/><circle cx="217.6" cy="627.4" r="0.4"/><circle cx="195.5" cy="649.5" r="0.4"/><circle cx="231.9" cy="662.3" r="0.4"/><circle cx="198.3" cy="646.0" r="0.4"/><circle cx="209.2" cy="661.4" r="0.4"/><circle cx="200.3" cy="659.1" r="0.4"/><circle cx="235.5" cy="668.1" r="0.4"/><circle cx="217.0" cy="631.3" r="0.4"/><circle cx="194.2" cy="637.0" r="0.4"/><circle cx="232.1" cy="655.9" r="0.4"/><circle cx="189.2" cy="669.1" r="0.4"/><circle cx="198.2" cy="661.7" r="0.4"/><circle cx="197.0" cy="631.9" r="0.4"/><circle cx="227.1" cy="665.1" r="0.4"/><circle cx="212.4" cy="664.2" r="0.4"/><circle cx="204.6" cy="662.1" r="0.4"/><circle cx="215.7" cy="668.1" r="0.4"/><circle cx="198.2" cy="666.8" r="0.4"/><circle cx="196.1" cy="655.8" r="0.4"/><circle cx="214.0" cy="648.9" r="0.4"/><circle cx="218.4" cy="656.2" r="0.4"/><circle cx="198.2" cy="665.3" r="0.4"/><circle cx="192.1" cy="644.3" r="0.4"/><circle cx="231.9" cy="653.8" r="0.4"/><circle cx="211.8" cy="668.1" r="0.4"/><circle cx="213.6" cy="646.4" r="0.4"/><circle cx="211.4" cy="658.2" r="0.4"/><circle cx="190.9" cy="669.8" r="0.4"/><circle cx="214.0" cy="637.6" r="0.4"/><circle cx="200.8" cy="662.0" r="0.4"/><circle cx="201.3" cy="652.6" r="0.4"/><circle cx="205.2" cy="664.2" r="0.4"/><circle cx="212.7" cy="657.5" r="0.4"/><circle cx="217.2" cy="652.1" r="0.4"/><circle cx="230.6" cy="655.0" r="0.4"/><circle cx="214.7" cy="634.6" r="0.4"/><circle cx="208.8" cy="660.9" r="0.4"/><circle cx="191.0" cy="655.6" r="0.4"/><circle cx="215.7" cy="632.4" r="0.4"/><circle cx="190.4" cy="669.5" r="0.4"/><circle cx="224.2" cy="645.2" r="0.4"/><circle cx="219.9" cy="669.6" r="0.4"/><circle cx="232.2" cy="659.8" r="0.4"/><circle cx="228.3" cy="641.9" r="0.4"/><circle cx="219.5" cy="661.9" r="0.4"/><circle cx="223.8" cy="632.3" r="0.4"/><circle cx="216.9" cy="654.9" r="0.4"/><circle cx="223.4" cy="653.7" r="0.4"/><circle cx="193.8" cy="641.0" r="0.4"/><circle cx="225.8" cy="669.5" r="0.4"/><circle cx="199.1" cy="666.7" r="0.4"/><circle cx="211.2" cy="645.5" r="0.4"/><circle cx="233.2" cy="647.4" r="0.4"/><circle cx="202.6" cy="667.9" r="0.4"/><circle cx="191.6" cy="660.1" r="0.4"/><circle cx="205.7" cy="659.4" r="0.4"/><circle cx="207.5" cy="654.0" r="0.4"/><circle cx="224.2" cy="665.3" r="0.4"/><circle cx="211.2" cy="653.0" r="0.4"/><circle cx="196.7" cy="655.8" r="0.4"/><circle cx="192.3" cy="668.3" r="0.4"/><circle cx="208.7" cy="662.5" r="0.4"/><circle cx="206.0" cy="638.0" r="0.4"/><circle cx="200.3" cy="643.5" r="0.4"/><circle cx="222.6" cy="669.9" r="0.4"/><circle cx="200.8" cy="650.3" r="0.4"/><circle cx="214.9" cy="657.2" r="0.4"/><circle cx="195.9" cy="626.1" r="0.4"/><circle cx="202.2" cy="656.8" r="0.4"/><circle cx="226.9" cy="647.6" r="0.4"/><circle cx="224.7" cy="668.9" r="0.4"/><circle cx="224.4" cy="669.4" r="0.4"/><circle cx="203.4" cy="669.7" r="0.4"/><circle cx="217.6" cy="645.4" r="0.4"/><circle cx="193.1" cy="660.3" r="0.4"/><circle cx="232.6" cy="666.1" r="0.4"/><circle cx="222.4" cy="650.5" r="0.4"/><circle cx="201.5" cy="636.2" r="0.4"/><circle cx="226.3" cy="663.7" r="0.4"/><circle cx="229.1" cy="659.1" r="0.4"/><circle cx="212.5" cy="665.4" r="0.4"/><circle cx="190.2" cy="636.1" r="0.4"/><circle cx="232.9" cy="665.4" r="0.4"/><circle cx="217.5" cy="657.9" r="0.4"/><circle cx="234.7" cy="627.3" r="0.4"/><circle cx="193.5" cy="631.8" r="0.4"/><circle cx="217.2" cy="667.1" r="0.4"/><circle cx="226.8" cy="637.6" r="0.4"/><circle cx="191.2" cy="669.1" r="0.4"/><circle cx="235.2" cy="631.0" r="0.4"/><circle cx="217.3" cy="629.5" r="0.4"/><circle cx="191.1" cy="665.5" r="0.4"/><circle cx="215.9" cy="626.4" r="0.4"/><circle cx="211.1" cy="641.7" r="0.4"/><circle cx="190.2" cy="665.2" r="0.4"/><circle cx="234.3" cy="628.9" r="0.4"/><circle cx="200.1" cy="631.9" r="0.4"/><circle cx="192.9" cy="669.2" r="0.4"/><circle cx="202.4" cy="664.3" r="0.4"/><circle cx="225.4" cy="661.6" r="0.4"/><circle cx="225.9" cy="663.2" r="0.4"/><circle cx="227.4" cy="667.2" r="0.4"/><circle cx="216.6" cy="666.7" r="0.4"/><circle cx="229.1" cy="667.3" r="0.4"/><circle cx="233.1" cy="654.4" r="0.4"/><circle cx="192.2" cy="635.9" r="0.4"/><circle cx="228.5" cy="657.7" r="0.4"/><circle cx="200.1" cy="639.9" r="0.4"/><circle cx="201.1" cy="634.5" r="0.4"/><circle cx="203.7" cy="626.9" r="0.4"/><circle cx="226.3" cy="669.6" r="0.4"/><circle cx="207.6" cy="635.4" r="0.4"/><circle cx="221.7" cy="666.3" r="0.4"/><circle cx="218.7" cy="665.4" r="0.4"/><circle cx="211.5" cy="653.9" r="0.4"/><circle cx="215.7" cy="627.6" r="0.4"/><circle cx="212.7" cy="670.0" r="0.4"/><circle cx="235.5" cy="669.1" r="0.4"/><circle cx="231.3" cy="665.8" r="0.4"/><circle cx="212.8" cy="657.6" r="0.4"/><circle cx="207.3" cy="668.6" r="0.4"/><circle cx="228.0" cy="636.7" r="0.4"/><circle cx="227.4" cy="655.2" r="0.4"/><circle cx="207.1" cy="663.5" r="0.4"/><circle cx="199.0" cy="669.1" r="0.4"/><circle cx="187.0" cy="653.5" r="0.4"/><circle cx="234.2" cy="650.9" r="0.4"/><circle cx="190.0" cy="657.9" r="0.4"/><circle cx="223.8" cy="663.9" r="0.4"/><circle cx="189.5" cy="631.3" r="0.4"/><circle cx="229.2" cy="633.0" r="0.4"/><circle cx="201.6" cy="659.6" r="0.4"/><circle cx="187.3" cy="667.3" r="0.4"/><circle cx="196.9" cy="631.6" r="0.4"/><circle cx="222.8" cy="669.3" r="0.4"/><circle cx="190.1" cy="665.5" r="0.4"/><circle cx="227.4" cy="632.8" r="0.4"/><circle cx="201.7" cy="668.8" r="0.4"/><circle cx="208.6" cy="666.2" r="0.4"/><circle cx="221.0" cy="663.4" r="0.4"/><circle cx="198.9" cy="668.9" r="0.4"/><circle cx="195.6" cy="670.1" r="0.4"/><circle cx="212.8" cy="655.9" r="0.4"/><circle cx="201.4" cy="631.5" r="0.4"/><circle cx="201.8" cy="662.4" r="0.4"/><circle cx="218.5" cy="655.4" r="0.4"/><circle cx="192.1" cy="666.7" r="0.4"/><circle cx="213.7" cy="646.5" r="0.4"/><circle cx="229.1" cy="657.9" r="0.4"/><circle cx="213.1" cy="664.3" r="0.4"/><circle cx="197.5" cy="669.8" r="0.4"/><circle cx="217.6" cy="669.4" r="0.4"/><circle cx="234.3" cy="667.8" r="0.4"/><circle cx="224.1" cy="669.1" r="0.4"/><circle cx="198.2" cy="664.7" r="0.4"/><circle cx="213.3" cy="628.4" r="0.4"/><circle cx="191.1" cy="639.3" r="0.4"/><circle cx="190.4" cy="631.5" r="0.4"/><circle cx="195.9" cy="634.2" r="0.4"/><circle cx="204.0" cy="634.5" r="0.4"/><circle cx="209.3" cy="666.8" r="0.4"/><circle cx="187.5" cy="665.9" r="0.4"/><circle cx="209.2" cy="632.2" r="0.4"/><circle cx="212.3" cy="640.2" r="0.4"/><circle cx="209.0" cy="656.0" r="0.4"/><circle cx="215.8" cy="650.6" r="0.4"/><circle cx="195.1" cy="665.3" r="0.4"/><circle cx="233.8" cy="663.8" r="0.4"/><circle cx="198.7" cy="662.9" r="0.4"/><circle cx="223.4" cy="639.8" r="0.4"/><circle cx="193.1" cy="663.7" r="0.4"/><circle cx="189.5" cy="668.2" r="0.4"/><circle cx="193.4" cy="644.5" r="0.4"/><circle cx="197.5" cy="647.4" r="0.4"/><circle cx="196.5" cy="643.2" r="0.4"/><circle cx="191.4" cy="669.9" r="0.4"/><circle cx="216.9" cy="664.5" r="0.4"/><circle cx="230.2" cy="668.6" r="0.4"/><circle cx="189.3" cy="651.0" r="0.4"/><circle cx="206.9" cy="661.1" r="0.4"/><circle cx="196.3" cy="631.9" r="0.4"/><circle cx="225.2" cy="669.4" r="0.4"/><circle cx="206.8" cy="669.9" r="0.4"/><circle cx="210.6" cy="657.1" r="0.4"/><circle cx="199.5" cy="658.4" r="0.4"/><circle cx="219.8" cy="669.6" r="0.4"/><circle cx="235.0" cy="666.4" r="0.4"/><circle cx="214.7" cy="629.7" r="0.4"/><circle cx="191.3" cy="634.5" r="0.4"/><circle cx="205.9" cy="666.7" r="0.4"/><circle cx="192.7" cy="669.1" r="0.4"/><circle cx="187.9" cy="632.7" r="0.4"/><circle cx="209.2" cy="661.1" r="0.4"/><circle cx="227.8" cy="659.4" r="0.4"/><circle cx="210.1" cy="650.0" r="0.4"/><circle cx="212.9" cy="667.8" r="0.4"/><circle cx="212.7" cy="667.3" r="0.4"/><circle cx="220.6" cy="668.0" r="0.4"/><circle cx="192.1" cy="657.3" r="0.4"/><circle cx="207.0" cy="649.5" r="0.4"/><circle cx="231.5" cy="658.9" r="0.4"/><circle cx="215.4" cy="667.0" r="0.4"/><circle cx="189.5" cy="668.3" r="0.4"/><circle cx="234.8" cy="669.2" r="0.4"/><circle cx="211.9" cy="669.5" r="0.4"/><circle cx="199.6" cy="664.5" r="0.4"/><circle cx="189.5" cy="666.6" r="0.4"/><circle cx="208.9" cy="667.3" r="0.4"/><circle cx="234.8" cy="627.8" r="0.4"/><circle cx="216.1" cy="650.7" r="0.4"/><circle cx="189.0" cy="660.5" r="0.4"/><circle cx="231.0" cy="638.2" r="0.4"/><circle cx="221.9" cy="646.8" r="0.4"/><circle cx="233.1" cy="657.9" r="0.4"/><circle cx="195.5" cy="652.7" r="0.4"/><circle cx="198.8" cy="636.3" r="0.4"/><circle cx="197.2" cy="638.8" r="0.4"/><circle cx="219.0" cy="654.5" r="0.4"/><circle cx="197.5" cy="663.6" r="0.4"/><circle cx="212.6" cy="626.2" r="0.4"/><circle cx="221.2" cy="648.2" r="0.4"/><circle cx="235.6" cy="664.9" r="0.4"/><circle cx="217.8" cy="659.9" r="0.4"/><circle cx="208.2" cy="668.1" r="0.4"/><circle cx="233.2" cy="669.3" r="0.4"/><circle cx="228.4" cy="667.3" r="0.4"/><circle cx="211.3" cy="669.9" r="0.4"/><circle cx="205.1" cy="646.5" r="0.4"/><circle cx="222.0" cy="636.0" r="0.4"/><circle cx="228.7" cy="642.8" r="0.4"/><circle cx="225.0" cy="662.4" r="0.4"/><circle cx="189.4" cy="670.0" r="0.4"/><circle cx="226.1" cy="666.2" r="0.4"/><circle cx="210.3" cy="651.8" r="0.4"/><circle cx="206.8" cy="669.1" r="0.4"/><circle cx="201.1" cy="633.0" r="0.4"/><circle cx="209.4" cy="648.2" r="0.4"/><circle cx="220.5" cy="667.4" r="0.4"/><circle cx="206.7" cy="662.2" r="0.4"/><circle cx="212.4" cy="657.8" r="0.4"/><circle cx="197.3" cy="664.5" r="0.4"/><circle cx="223.5" cy="668.9" r="0.4"/><circle cx="208.2" cy="646.5" r="0.4"/><circle cx="219.0" cy="658.5" r="0.4"/><circle cx="191.7" cy="653.0" r="0.4"/><circle cx="195.8" cy="635.8" r="0.4"/><circle cx="209.5" cy="644.2" r="0.4"/><circle cx="190.1" cy="635.7" r="0.4"/><circle cx="216.0" cy="669.7" r="0.4"/><circle cx="220.9" cy="661.3" r="0.4"/><circle cx="198.4" cy="625.9" r="0.4"/><circle cx="188.5" cy="667.9" r="0.4"/><circle cx="228.4" cy="636.9" r="0.4"/><circle cx="195.8" cy="629.7" r="0.4"/><circle cx="191.8" cy="667.2" r="0.4"/><circle cx="204.0" cy="665.8" r="0.4"/><circle cx="211.8" cy="666.6" r="0.4"/><circle cx="199.4" cy="664.0" r="0.4"/><circle cx="209.1" cy="654.8" r="0.4"/><circle cx="224.8" cy="655.8" r="0.4"/><circle cx="221.7" cy="655.1" r="0.4"/><circle cx="232.0" cy="661.5" r="0.4"/><circle cx="204.3" cy="647.8" r="0.4"/><circle cx="197.9" cy="628.5" r="0.4"/><circle cx="221.2" cy="669.6" r="0.4"/><circle cx="224.0" cy="661.9" r="0.4"/><circle cx="195.0" cy="661.4" r="0.4"/><circle cx="208.1" cy="633.7" r="0.4"/><circle cx="203.6" cy="658.7" r="0.4"/><circle cx="228.8" cy="646.5" r="0.4"/><circle cx="219.1" cy="637.0" r="0.4"/><circle cx="218.9" cy="641.6" r="0.4"/><circle cx="220.0" cy="669.9" r="0.4"/><circle cx="216.8" cy="648.4" r="0.4"/><circle cx="220.8" cy="665.0" r="0.4"/><circle cx="188.3" cy="658.4" r="0.4"/><circle cx="226.9" cy="636.7" r="0.4"/><circle cx="216.5" cy="662.7" r="0.4"/><circle cx="197.8" cy="670.1" r="0.4"/><circle cx="208.4" cy="668.7" r="0.4"/><circle cx="206.7" cy="625.5" r="0.4"/><circle cx="190.3" cy="649.0" r="0.4"/><circle cx="196.8" cy="668.8" r="0.4"/><circle cx="195.5" cy="666.3" r="0.4"/><circle cx="226.5" cy="627.0" r="0.4"/><circle cx="214.7" cy="664.2" r="0.4"/><circle cx="216.1" cy="668.3" r="0.4"/><circle cx="214.2" cy="668.4" r="0.4"/><circle cx="211.3" cy="664.7" r="0.4"/><circle cx="214.2" cy="659.2" r="0.4"/><circle cx="216.8" cy="665.6" r="0.4"/><circle cx="204.4" cy="666.1" r="0.4"/><circle cx="218.4" cy="654.7" r="0.4"/><circle cx="197.5" cy="635.1" r="0.4"/><circle cx="219.8" cy="640.5" r="0.4"/><circle cx="208.0" cy="629.8" r="0.4"/><circle cx="199.5" cy="660.8" r="0.4"/><circle cx="213.2" cy="668.4" r="0.4"/><circle cx="210.4" cy="630.3" r="0.4"/><circle cx="187.9" cy="648.7" r="0.4"/><circle cx="194.6" cy="660.6" r="0.4"/><circle cx="221.3" cy="661.6" r="0.4"/><circle cx="227.6" cy="644.2" r="0.4"/><circle cx="188.2" cy="669.5" r="0.4"/><circle cx="222.9" cy="651.1" r="0.4"/><circle cx="195.8" cy="668.0" r="0.4"/><circle cx="212.3" cy="649.6" r="0.4"/><circle cx="199.3" cy="654.9" r="0.4"/><circle cx="218.5" cy="666.7" r="0.4"/><circle cx="228.9" cy="669.7" r="0.4"/><circle cx="224.9" cy="669.6" r="0.4"/><circle cx="224.4" cy="664.2" r="0.4"/><circle cx="203.0" cy="641.3" r="0.4"/><circle cx="205.4" cy="645.4" r="0.4"/><circle cx="201.8" cy="669.8" r="0.4"/><circle cx="215.6" cy="662.3" r="0.4"/><circle cx="220.8" cy="667.0" r="0.4"/><circle cx="188.4" cy="639.1" r="0.4"/><circle cx="223.7" cy="640.8" r="0.4"/><circle cx="208.1" cy="669.2" r="0.4"/><circle cx="201.8" cy="631.9" r="0.4"/><circle cx="230.2" cy="662.0" r="0.4"/><circle cx="190.9" cy="661.7" r="0.4"/><circle cx="231.4" cy="639.2" r="0.4"/><circle cx="190.0" cy="669.2" r="0.4"/><circle cx="205.5" cy="659.3" r="0.4"/><circle cx="199.9" cy="647.1" r="0.4"/><circle cx="233.6" cy="669.1" r="0.4"/><circle cx="212.2" cy="650.4" r="0.4"/><circle cx="195.1" cy="661.4" r="0.4"/><circle cx="215.0" cy="641.1" r="0.4"/><circle cx="215.5" cy="636.8" r="0.4"/><circle cx="224.2" cy="662.5" r="0.4"/><circle cx="214.3" cy="662.9" r="0.4"/><circle cx="215.4" cy="665.4" r="0.4"/><circle cx="207.8" cy="638.7" r="0.4"/><circle cx="196.9" cy="666.9" r="0.4"/><circle cx="191.5" cy="663.7" r="0.4"/><circle cx="235.5" cy="659.4" r="0.4"/><circle cx="200.9" cy="630.4" r="0.4"/><circle cx="201.9" cy="640.3" r="0.4"/><circle cx="231.6" cy="664.4" r="0.4"/><circle cx="188.7" cy="636.5" r="0.4"/><circle cx="206.8" cy="665.0" r="0.4"/><circle cx="197.7" cy="656.3" r="0.4"/><circle cx="228.9" cy="654.0" r="0.4"/><circle cx="196.5" cy="627.5" r="0.4"/><circle cx="228.6" cy="631.5" r="0.4"/><circle cx="227.7" cy="626.8" r="0.4"/><circle cx="231.6" cy="653.0" r="0.4"/><circle cx="235.7" cy="626.0" r="0.4"/><circle cx="207.3" cy="665.1" r="0.4"/><circle cx="195.1" cy="668.0" r="0.4"/><circle cx="220.1" cy="670.0" r="0.4"/><circle cx="194.0" cy="632.6" r="0.4"/><circle cx="217.3" cy="661.5" r="0.4"/><circle cx="214.6" cy="629.0" r="0.4"/><circle cx="201.2" cy="659.5" r="0.4"/><circle cx="226.8" cy="669.9" r="0.4"/><circle cx="217.1" cy="668.3" r="0.4"/><circle cx="196.5" cy="649.0" r="0.4"/><circle cx="191.4" cy="654.2" r="0.4"/><circle cx="203.8" cy="654.7" r="0.4"/><circle cx="218.4" cy="651.3" r="0.4"/><circle cx="189.8" cy="668.3" r="0.4"/><circle cx="189.3" cy="666.7" r="0.4"/><circle cx="234.9" cy="669.8" r="0.4"/><circle cx="222.1" cy="665.3" r="0.4"/><circle cx="212.9" cy="631.9" r="0.4"/><circle cx="200.5" cy="656.0" r="0.4"/><circle cx="199.0" cy="632.1" r="0.4"/><circle cx="235.4" cy="666.9" r="0.4"/><circle cx="189.0" cy="666.0" r="0.4"/><circle cx="202.3" cy="670.0" r="0.4"/><circle cx="202.4" cy="669.8" r="0.4"/><circle cx="203.8" cy="650.9" r="0.4"/><circle cx="198.2" cy="658.7" r="0.4"/><circle cx="228.5" cy="661.9" r="0.4"/><circle cx="191.8" cy="669.4" r="0.4"/><circle cx="193.1" cy="668.7" r="0.4"/><circle cx="222.4" cy="651.8" r="0.4"/><circle cx="215.1" cy="630.5" r="0.4"/><circle cx="209.0" cy="660.1" r="0.4"/><circle cx="214.0" cy="663.8" r="0.4"/><circle cx="207.8" cy="631.7" r="0.4"/><circle cx="191.9" cy="632.8" r="0.4"/><circle cx="214.3" cy="664.3" r="0.4"/><circle cx="231.9" cy="628.4" r="0.4"/><circle cx="194.0" cy="669.6" r="0.4"/><circle cx="190.0" cy="667.5" r="0.4"/><circle cx="213.6" cy="667.4" r="0.4"/><circle cx="188.6" cy="664.4" r="0.4"/><circle cx="202.3" cy="665.4" r="0.4"/><circle cx="218.2" cy="659.2" r="0.4"/><circle cx="188.1" cy="647.8" r="0.4"/><circle cx="233.1" cy="641.0" r="0.4"/><circle cx="209.0" cy="646.5" r="0.4"/><circle cx="190.8" cy="647.3" r="0.4"/><circle cx="212.4" cy="654.9" r="0.4"/><circle cx="205.8" cy="668.9" r="0.4"/><circle cx="197.7" cy="662.2" r="0.4"/><circle cx="209.8" cy="660.3" r="0.4"/><circle cx="210.2" cy="648.7" r="0.4"/><circle cx="191.2" cy="635.7" r="0.4"/><circle cx="196.6" cy="665.5" r="0.4"/><circle cx="218.5" cy="659.1" r="0.4"/><circle cx="230.1" cy="669.5" r="0.4"/><circle cx="201.0" cy="651.2" r="0.4"/><circle cx="225.7" cy="641.4" r="0.4"/><circle cx="231.9" cy="639.8" r="0.4"/><circle cx="187.5" cy="662.2" r="0.4"/><circle cx="219.7" cy="633.9" r="0.4"/><circle cx="209.8" cy="668.6" r="0.4"/><circle cx="190.7" cy="670.0" r="0.4"/><circle cx="192.1" cy="664.1" r="0.4"/><circle cx="193.8" cy="640.9" r="0.4"/><circle cx="194.2" cy="656.9" r="0.4"/><circle cx="201.8" cy="668.6" r="0.4"/><circle cx="196.3" cy="665.1" r="0.4"/><circle cx="225.5" cy="660.8" r="0.4"/><circle cx="210.9" cy="669.8" r="0.4"/><circle cx="202.5" cy="640.6" r="0.4"/><circle cx="190.7" cy="654.7" r="0.4"/><circle cx="226.0" cy="660.6" r="0.4"/><circle cx="203.5" cy="669.6" r="0.4"/><circle cx="220.7" cy="654.7" r="0.4"/><circle cx="195.1" cy="667.8" r="0.4"/><circle cx="230.6" cy="656.8" r="0.4"/><circle cx="197.0" cy="632.3" r="0.4"/><circle cx="203.6" cy="655.3" r="0.4"/><circle cx="222.0" cy="631.2" r="0.4"/><circle cx="189.9" cy="670.0" r="0.4"/><circle cx="208.6" cy="659.0" r="0.4"/><circle cx="207.6" cy="653.3" r="0.4"/><circle cx="195.0" cy="663.0" r="0.4"/><circle cx="218.6" cy="647.5" r="0.4"/><circle cx="211.5" cy="636.9" r="0.4"/><circle cx="235.4" cy="635.9" r="0.4"/><circle cx="205.4" cy="626.5" r="0.4"/><circle cx="215.2" cy="644.6" r="0.4"/><circle cx="235.9" cy="643.9" r="0.4"/><circle cx="219.2" cy="651.6" r="0.4"/><circle cx="204.9" cy="659.8" r="0.4"/><circle cx="205.0" cy="668.5" r="0.4"/><circle cx="207.3" cy="665.9" r="0.4"/><circle cx="226.8" cy="664.7" r="0.4"/><circle cx="194.0" cy="647.0" r="0.4"/><circle cx="221.7" cy="633.9" r="0.4"/><circle cx="193.0" cy="631.0" r="0.4"/><circle cx="219.6" cy="665.0" r="0.4"/><circle cx="227.4" cy="669.9" r="0.4"/><circle cx="188.3" cy="640.9" r="0.4"/><circle cx="220.4" cy="630.1" r="0.4"/><circle cx="229.9" cy="659.3" r="0.4"/><circle cx="228.1" cy="643.5" r="0.4"/><circle cx="212.6" cy="634.7" r="0.4"/><circle cx="195.7" cy="670.1" r="0.4"/><circle cx="205.8" cy="638.2" r="0.4"/><circle cx="192.1" cy="668.3" r="0.4"/><circle cx="211.2" cy="627.3" r="0.4"/><circle cx="212.3" cy="627.1" r="0.4"/><circle cx="191.7" cy="666.8" r="0.4"/><circle cx="229.9" cy="667.5" r="0.4"/><circle cx="209.0" cy="662.8" r="0.4"/><circle cx="188.3" cy="627.2" r="0.4"/><circle cx="217.1" cy="632.0" r="0.4"/><circle cx="193.5" cy="656.6" r="0.4"/><circle cx="225.4" cy="648.9" r="0.4"/><circle cx="207.0" cy="643.2" r="0.4"/><circle cx="231.4" cy="652.4" r="0.4"/><circle cx="223.8" cy="670.2" r="0.4"/><circle cx="216.3" cy="653.4" r="0.4"/><circle cx="196.9" cy="650.8" r="0.4"/><circle cx="192.9" cy="647.6" r="0.4"/><circle cx="202.7" cy="646.4" r="0.4"/><circle cx="205.9" cy="661.7" r="0.4"/><circle cx="210.2" cy="664.3" r="0.4"/><circle cx="223.2" cy="669.5" r="0.4"/><circle cx="188.2" cy="642.1" r="0.4"/><circle cx="196.3" cy="643.6" r="0.4"/><circle cx="202.8" cy="668.3" r="0.4"/><circle cx="216.3" cy="636.3" r="0.4"/><circle cx="206.8" cy="626.9" r="0.4"/><circle cx="218.3" cy="657.7" r="0.4"/><circle cx="220.1" cy="649.3" r="0.4"/><circle cx="188.8" cy="639.1" r="0.4"/><circle cx="196.1" cy="663.9" r="0.4"/><circle cx="194.8" cy="663.1" r="0.4"/><circle cx="222.3" cy="666.0" r="0.4"/><circle cx="207.7" cy="640.3" r="0.4"/><circle cx="217.0" cy="653.8" r="0.4"/><circle cx="216.4" cy="669.0" r="0.4"/><circle cx="233.4" cy="668.4" r="0.4"/><circle cx="197.3" cy="634.7" r="0.4"/><circle cx="209.0" cy="648.1" r="0.4"/><circle cx="211.4" cy="669.7" r="0.4"/><circle cx="205.8" cy="667.3" r="0.4"/><circle cx="208.3" cy="665.7" r="0.4"/><circle cx="187.5" cy="670.1" r="0.4"/><circle cx="221.1" cy="662.5" r="0.4"/><circle cx="199.0" cy="646.5" r="0.4"/><circle cx="198.4" cy="636.4" r="0.4"/><circle cx="235.2" cy="659.5" r="0.4"/><circle cx="207.7" cy="636.0" r="0.4"/><circle cx="213.8" cy="640.0" r="0.4"/><circle cx="223.9" cy="645.0" r="0.4"/><circle cx="200.3" cy="635.7" r="0.4"/><circle cx="224.2" cy="667.0" r="0.4"/><circle cx="226.0" cy="665.3" r="0.4"/><circle cx="197.7" cy="657.0" r="0.4"/><circle cx="226.6" cy="646.7" r="0.4"/><circle cx="226.2" cy="628.4" r="0.4"/><circle cx="225.0" cy="630.5" r="0.4"/><circle cx="208.0" cy="668.4" r="0.4"/><circle cx="203.5" cy="667.1" r="0.4"/><circle cx="205.6" cy="663.3" r="0.4"/><circle cx="191.1" cy="659.6" r="0.4"/><circle cx="215.9" cy="667.4" r="0.4"/><circle cx="199.7" cy="626.6" r="0.4"/><circle cx="225.8" cy="643.7" r="0.4"/><circle cx="201.5" cy="649.9" r="0.4"/><circle cx="216.3" cy="648.2" r="0.4"/><circle cx="224.8" cy="658.9" r="0.4"/><circle cx="222.8" cy="630.6" r="0.4"/><circle cx="227.2" cy="669.6" r="0.4"/><circle cx="208.1" cy="629.0" r="0.4"/><circle cx="215.1" cy="664.0" r="0.4"/><circle cx="206.3" cy="662.8" r="0.4"/><circle cx="190.9" cy="666.8" r="0.4"/><circle cx="230.7" cy="638.8" r="0.4"/><circle cx="195.9" cy="652.8" r="0.4"/><circle cx="231.2" cy="670.1" r="0.4"/><circle cx="203.2" cy="659.6" r="0.4"/><circle cx="200.6" cy="653.2" r="0.4"/><circle cx="224.9" cy="666.5" r="0.4"/><circle cx="228.7" cy="625.7" r="0.4"/><circle cx="197.0" cy="652.9" r="0.4"/><circle cx="192.6" cy="651.1" r="0.4"/><circle cx="189.5" cy="666.8" r="0.4"/><circle cx="223.7" cy="654.4" r="0.4"/><circle cx="226.6" cy="659.1" r="0.4"/><circle cx="197.4" cy="639.5" r="0.4"/><circle cx="222.8" cy="653.1" r="0.4"/><circle cx="208.0" cy="648.7" r="0.4"/><circle cx="193.2" cy="669.7" r="0.4"/><circle cx="219.8" cy="664.7" r="0.4"/><circle cx="196.8" cy="646.8" r="0.4"/><circle cx="189.4" cy="656.5" r="0.4"/><circle cx="206.2" cy="666.0" r="0.4"/><circle cx="204.5" cy="631.2" r="0.4"/><circle cx="234.3" cy="663.0" r="0.4"/><circle cx="226.6" cy="661.7" r="0.4"/><circle cx="227.4" cy="628.9" r="0.4"/><circle cx="202.9" cy="658.2" r="0.4"/><circle cx="201.2" cy="650.0" r="0.4"/><circle cx="199.2" cy="640.3" r="0.4"/><circle cx="210.7" cy="640.0" r="0.4"/><circle cx="191.1" cy="635.2" r="0.4"/><circle cx="208.5" cy="670.0" r="0.4"/><circle cx="219.3" cy="644.0" r="0.4"/><circle cx="209.7" cy="663.9" r="0.4"/><circle cx="228.9" cy="635.0" r="0.4"/><circle cx="193.6" cy="656.4" r="0.4"/><circle cx="233.8" cy="636.1" r="0.4"/><circle cx="193.5" cy="628.8" r="0.4"/><circle cx="219.4" cy="634.2" r="0.4"/><circle cx="205.8" cy="625.5" r="0.4"/><circle cx="224.2" cy="669.7" r="0.4"/><circle cx="222.2" cy="658.5" r="0.4"/><circle cx="201.0" cy="659.3" r="0.4"/><circle cx="231.1" cy="669.6" r="0.4"/><circle cx="208.8" cy="668.3" r="0.4"/><circle cx="227.5" cy="670.1" r="0.4"/><circle cx="234.8" cy="654.4" r="0.4"/><circle cx="235.8" cy="669.1" r="0.4"/><circle cx="204.6" cy="669.4" r="0.4"/><circle cx="191.5" cy="640.5" r="0.4"/><circle cx="226.5" cy="637.9" r="0.4"/><circle cx="217.9" cy="669.4" r="0.4"/><circle cx="199.6" cy="643.1" r="0.4"/><circle cx="196.1" cy="669.8" r="0.4"/><circle cx="226.7" cy="639.5" r="0.4"/><circle cx="198.8" cy="669.9" r="0.4"/><circle cx="234.6" cy="669.6" r="0.4"/><circle cx="219.7" cy="631.7" r="0.4"/><circle cx="214.2" cy="670.0" r="0.4"/><circle cx="235.6" cy="662.4" r="0.4"/><circle cx="232.3" cy="651.6" r="0.4"/><circle cx="200.2" cy="669.6" r="0.4"/><circle cx="212.8" cy="664.1" r="0.4"/><circle cx="232.9" cy="669.1" r="0.4"/><circle cx="202.2" cy="667.9" r="0.4"/><circle cx="224.0" cy="651.7" r="0.4"/><circle cx="217.6" cy="659.7" r="0.4"/></g>
<g fill="#333" fill-opacity="0.35"><circle cx="208.8" cy="665.3" r="0.45"/><circle cx="214.1" cy="652.1" r="0.45"/><circle cx="223.4" cy="665.0" r="0.45"/><circle cx="221.0" cy="659.7" r="0.45"/><circle cx="218.6" cy="656.8" r="0.45"/><circle cx="223.8" cy="665.4" r="0.45"/><circle cx="222.3" cy="666.0" r="0.45"/><circle cx="224.9" cy="665.7" r="0.45"/><circle cx="209.7" cy="664.2" r="0.45"/><circle cx="212.9" cy="658.5" r="0.45"/><circle cx="224.0" cy="665.4" r="0.45"/><circle cx="220.3" cy="660.1" r="0.45"/><circle cx="209.0" cy="663.9" r="0.45"/><circle cx="220.2" cy="662.9" r="0.45"/><circle cx="211.0" cy="662.6" r="0.45"/><circle cx="220.2" cy="658.2" r="0.45"/><circle cx="211.5" cy="661.9" r="0.45"/><circle cx="223.8" cy="665.3" r="0.45"/><circle cx="222.9" cy="664.3" r="0.45"/><circle cx="219.7" cy="659.3" r="0.45"/><circle cx="210.3" cy="661.1" r="0.45"/><circle cx="216.9" cy="653.0" r="0.45"/><circle cx="218.6" cy="657.3" r="0.45"/><circle cx="219.7" cy="658.6" r="0.45"/><circle cx="214.8" cy="653.8" r="0.45"/><circle cx="211.3" cy="662.9" r="0.45"/><circle cx="218.8" cy="651.9" r="0.45"/><circle cx="220.5" cy="660.4" r="0.45"/><circle cx="219.7" cy="661.4" r="0.45"/><circle cx="216.2" cy="653.4" r="0.45"/><circle cx="221.8" cy="660.7" r="0.45"/><circle cx="209.6" cy="663.3" r="0.45"/><circle cx="214.1" cy="657.5" r="0.45"/><circle cx="221.7" cy="662.9" r="0.45"/><circle cx="220.0" cy="657.7" r="0.45"/><circle cx="213.8" cy="654.1" r="0.45"/><circle cx="223.9" cy="665.9" r="0.45"/><circle cx="221.7" cy="660.7" r="0.45"/><circle cx="209.9" cy="663.4" r="0.45"/><circle cx="208.5" cy="666.6" r="0.45"/><circle cx="210.4" cy="664.8" r="0.45"/><circle cx="208.5" cy="666.4" r="0.45"/><circle cx="210.4" cy="664.4" r="0.45"/><circle cx="221.4" cy="660.9" r="0.45"/><circle cx="215.2" cy="655.4" r="0.45"/><circle cx="220.9" cy="663.3" r="0.45"/><circle cx="211.1" cy="661.9" r="0.45"/><circle cx="210.4" cy="660.5" r="0.45"/><circle cx="208.7" cy="663.9" r="0.45"/><circle cx="223.9" cy="665.1" r="0.45"/><circle cx="212.6" cy="657.5" r="0.45"/><circle cx="221.8" cy="662.6" r="0.45"/><circle cx="212.5" cy="657.7" r="0.45"/><circle cx="224.9" cy="666.3" r="0.45"/><circle cx="210.3" cy="665.2" r="0.45"/><circle cx="210.1" cy="662.2" r="0.45"/><circle cx="223.2" cy="663.6" r="0.45"/><circle cx="214.3" cy="654.9" r="0.45"/><circle cx="209.4" cy="664.4" r="0.45"/><circle cx="207.7" cy="665.5" r="0.45"/><circle cx="212.5" cy="658.3" r="0.45"/><circle cx="214.0" cy="660.3" r="0.45"/><circle cx="213.2" cy="656.0" r="0.45"/><circle cx="209.6" cy="663.1" r="0.45"/><circle cx="217.1" cy="654.8" r="0.45"/><circle cx="208.1" cy="665.9" r="0.45"/><circle cx="208.4" cy="665.3" r="0.45"/><circle cx="224.9" cy="665.9" r="0.45"/><circle cx="219.9" cy="660.2" r="0.45"/><circle cx="218.8" cy="659.3" r="0.45"/><circle cx="211.3" cy="661.3" r="0.45"/><circle cx="212.7" cy="661.6" r="0.45"/><circle cx="221.4" cy="662.7" r="0.45"/><circle cx="210.0" cy="665.0" r="0.45"/><circle cx="223.2" cy="663.8" r="0.45"/><circle cx="222.6" cy="663.0" r="0.45"/><circle cx="212.4" cy="661.1" r="0.45"/><circle cx="211.2" cy="660.3" r="0.45"/><circle cx="214.9" cy="654.5" r="0.45"/><circle cx="221.8" cy="664.1" r="0.45"/><circle cx="221.6" cy="660.1" r="0.45"/><circle cx="222.5" cy="662.0" r="0.45"/><circle cx="210.9" cy="662.5" r="0.45"/><circle cx="221.4" cy="660.3" r="0.45"/><circle cx="210.9" cy="659.7" r="0.45"/><circle cx="212.7" cy="656.7" r="0.45"/><circle cx="213.3" cy="659.7" r="0.45"/><circle cx="215.1" cy="655.3" r="0.45"/><circle cx="208.2" cy="664.5" r="0.45"/><circle cx="216.8" cy="652.3" r="0.45"/><circle cx="220.7" cy="662.0" r="0.45"/><circle cx="209.9" cy="663.6" r="0.45"/><circle cx="221.8" cy="663.3" r="0.45"/><circle cx="222.1" cy="662.5" r="0.45"/><circle cx="222.0" cy="665.8" r="0.45"/><circle cx="219.3" cy="660.8" r="0.45"/><circle cx="222.9" cy="663.6" r="0.45"/><circle cx="210.0" cy="664.7" r="0.45"/><circle cx="223.3" cy="664.4" r="0.45"/><circle cx="221.8" cy="663.4" r="0.45"/><circle cx="208.9" cy="665.3" r="0.45"/><circle cx="225.0" cy="666.4" r="0.45"/><circle cx="224.3" cy="666.6" r="0.45"/><circle cx="222.7" cy="662.9" r="0.45"/><circle cx="211.5" cy="660.4" r="0.45"/><circle cx="212.5" cy="659.3" r="0.45"/><circle cx="223.4" cy="666.0" r="0.45"/><circle cx="210.1" cy="662.3" r="0.45"/><circle cx="212.2" cy="658.0" r="0.45"/><circle cx="219.1" cy="661.3" r="0.45"/><circle cx="211.5" cy="659.9" r="0.45"/><circle cx="211.7" cy="660.3" r="0.45"/><circle cx="208.4" cy="666.8" r="0.45"/><circle cx="208.9" cy="665.1" r="0.45"/><circle cx="221.9" cy="662.2" r="0.45"/><circle cx="221.4" cy="659.9" r="0.45"/><circle cx="221.9" cy="661.0" r="0.45"/><circle cx="220.0" cy="662.8" r="0.45"/><circle cx="219.1" cy="659.2" r="0.45"/><circle cx="209.7" cy="662.0" r="0.45"/><circle cx="218.8" cy="657.3" r="0.45"/><circle cx="221.4" cy="664.5" r="0.45"/><circle cx="211.6" cy="660.7" r="0.45"/><circle cx="223.4" cy="663.3" r="0.45"/><circle cx="225.5" cy="666.8" r="0.45"/><circle cx="212.0" cy="660.0" r="0.45"/><circle cx="212.8" cy="657.3" r="0.45"/><circle cx="211.0" cy="662.1" r="0.45"/><circle cx="221.5" cy="660.3" r="0.45"/><circle cx="223.4" cy="663.3" r="0.45"/><circle cx="218.1" cy="654.8" r="0.45"/><circle cx="220.5" cy="660.1" r="0.45"/><circle cx="223.4" cy="663.3" r="0.45"/><circle cx="218.4" cy="657.4" r="0.45"/><circle cx="221.3" cy="660.6" r="0.45"/><circle cx="207.5" cy="666.2" r="0.45"/><circle cx="217.3" cy="653.0" r="0.45"/><circle cx="218.9" cy="656.4" r="0.45"/><circle cx="209.4" cy="664.4" r="0.45"/><circle cx="207.5" cy="666.2" r="0.45"/><circle cx="217.1" cy="655.5" r="0.45"/><circle cx="224.0" cy="667.0" r="0.45"/><circle cx="211.0" cy="660.1" r="0.45"/><circle cx="210.0" cy="661.7" r="0.45"/><circle cx="209.0" cy="665.3" r="0.45"/><circle cx="215.8" cy="656.3" r="0.45"/><circle cx="214.7" cy="655.1" r="0.45"/><circle cx="213.1" cy="656.9" r="0.45"/><circle cx="222.0" cy="665.2" r="0.45"/><circle cx="207.5" cy="666.3" r="0.45"/><circle cx="221.3" cy="664.6" r="0.45"/><circle cx="221.9" cy="660.7" r="0.45"/><circle cx="221.1" cy="662.3" r="0.45"/><circle cx="223.5" cy="664.3" r="0.45"/><circle cx="210.2" cy="664.5" r="0.45"/><circle cx="213.0" cy="656.5" r="0.45"/><circle cx="206.9" cy="667.0" r="0.45"/><circle cx="212.0" cy="658.5" r="0.45"/><circle cx="213.6" cy="661.1" r="0.45"/><circle cx="210.5" cy="660.4" r="0.45"/><circle cx="213.2" cy="656.7" r="0.45"/><circle cx="217.3" cy="655.4" r="0.45"/><circle cx="219.1" cy="656.5" r="0.45"/><circle cx="210.3" cy="664.3" r="0.45"/><circle cx="224.5" cy="666.0" r="0.45"/><circle cx="221.0" cy="661.4" r="0.45"/><circle cx="208.8" cy="665.1" r="0.45"/><circle cx="209.3" cy="665.4" r="0.45"/><circle cx="220.1" cy="659.9" r="0.45"/><circle cx="210.9" cy="662.3" r="0.45"/><circle cx="220.3" cy="660.5" r="0.45"/><circle cx="223.4" cy="664.1" r="0.45"/><circle cx="222.9" cy="664.2" r="0.45"/><circle cx="211.8" cy="660.4" r="0.45"/><circle cx="219.6" cy="659.4" r="0.45"/><circle cx="218.8" cy="655.4" r="0.45"/><circle cx="213.8" cy="657.0" r="0.45"/><circle cx="212.2" cy="659.4" r="0.45"/><circle cx="211.8" cy="658.1" r="0.45"/><circle cx="214.6" cy="658.2" r="0.45"/><circle cx="210.8" cy="662.9" r="0.45"/><circle cx="210.5" cy="663.5" r="0.45"/><circle cx="223.9" cy="666.3" r="0.45"/><circle cx="223.5" cy="665.2" r="0.45"/><circle cx="219.0" cy="657.4" r="0.45"/><circle cx="210.3" cy="665.4" r="0.45"/><circle cx="218.4" cy="656.8" r="0.45"/><circle cx="220.0" cy="662.4" r="0.45"/><circle cx="212.3" cy="660.3" r="0.45"/><circle cx="212.9" cy="657.5" r="0.45"/><circle cx="222.7" cy="662.9" r="0.45"/><circle cx="208.3" cy="665.2" r="0.45"/><circle cx="209.5" cy="666.9" r="0.45"/><circle cx="208.0" cy="666.4" r="0.45"/><circle cx="220.7" cy="661.3" r="0.45"/><circle cx="224.3" cy="666.9" r="0.45"/><circle cx="216.2" cy="652.1" r="0.45"/><circle cx="219.7" cy="657.4" r="0.45"/><circle cx="218.4" cy="660.3" r="0.45"/><circle cx="221.8" cy="660.9" r="0.45"/><circle cx="210.1" cy="662.1" r="0.45"/><circle cx="217.6" cy="657.7" r="0.45"/><circle cx="209.7" cy="665.0" r="0.45"/><circle cx="209.3" cy="666.5" r="0.45"/><circle cx="211.1" cy="662.1" r="0.45"/><circle cx="218.6" cy="659.1" r="0.45"/><circle cx="210.3" cy="660.8" r="0.45"/><circle cx="219.8" cy="658.2" r="0.45"/><circle cx="209.5" cy="662.2" r="0.45"/><circle cx="221.5" cy="662.2" r="0.45"/><circle cx="223.0" cy="665.9" r="0.45"/><circle cx="222.9" cy="663.2" r="0.45"/><circle cx="224.5" cy="665.2" r="0.45"/><circle cx="211.8" cy="661.4" r="0.45"/><circle cx="223.7" cy="666.2" r="0.45"/><circle cx="215.6" cy="656.2" r="0.45"/><circle cx="216.5" cy="654.1" r="0.45"/><circle cx="212.6" cy="658.0" r="0.45"/><circle cx="222.0" cy="665.2" r="0.45"/><circle cx="212.1" cy="659.0" r="0.45"/><circle cx="220.2" cy="659.7" r="0.45"/><circle cx="224.9" cy="666.9" r="0.45"/><circle cx="219.3" cy="659.9" r="0.45"/><circle cx="221.6" cy="663.9" r="0.45"/><circle cx="211.2" cy="663.0" r="0.45"/><circle cx="218.1" cy="657.9" r="0.45"/><circle cx="223.0" cy="664.2" r="0.45"/><circle cx="220.1" cy="659.4" r="0.45"/><circle cx="213.6" cy="656.5" r="0.45"/><circle cx="216.2" cy="654.4" r="0.45"/><circle cx="224.4" cy="666.0" r="0.45"/><circle cx="221.2" cy="661.8" r="0.45"/><circle cx="224.6" cy="666.8" r="0.45"/><circle cx="210.1" cy="665.5" r="0.45"/><circle cx="215.9" cy="654.1" r="0.45"/><circle cx="209.6" cy="663.6" r="0.45"/><circle cx="215.8" cy="653.8" r="0.45"/><circle cx="208.5" cy="665.5" r="0.45"/><circle cx="222.8" cy="662.8" r="0.45"/><circle cx="208.6" cy="666.3" r="0.45"/><circle cx="213.2" cy="657.0" r="0.45"/><circle cx="220.1" cy="661.0" r="0.45"/><circle cx="219.2" cy="657.9" r="0.45"/><circle cx="222.3" cy="662.2" r="0.45"/><circle cx="214.1" cy="654.5" r="0.45"/><circle cx="211.5" cy="661.2" r="0.45"/><circle cx="211.9" cy="659.5" r="0.45"/><circle cx="221.4" cy="661.1" r="0.45"/><circle cx="216.2" cy="651.9" r="0.45"/><circle cx="222.4" cy="662.0" r="0.45"/><circle cx="224.5" cy="666.6" r="0.45"/><circle cx="220.6" cy="662.7" r="0.45"/><circle cx="223.0" cy="663.9" r="0.45"/><circle cx="207.9" cy="665.4" r="0.45"/><circle cx="220.5" cy="659.5" r="0.45"/><circle cx="224.0" cy="666.6" r="0.45"/><circle cx="222.8" cy="663.5" r="0.45"/><circle cx="209.4" cy="665.7" r="0.45"/><circle cx="220.8" cy="660.7" r="0.45"/><circle cx="210.8" cy="665.7" r="0.45"/><circle cx="219.7" cy="661.6" r="0.45"/><circle cx="210.3" cy="661.1" r="0.45"/><circle cx="214.2" cy="659.7" r="0.45"/><circle cx="212.3" cy="661.6" r="0.45"/><circle cx="222.9" cy="665.7" r="0.45"/><circle cx="219.6" cy="658.1" r="0.45"/><circle cx="207.9" cy="666.9" r="0.45"/><circle cx="213.4" cy="656.3" r="0.45"/><circle cx="211.3" cy="660.3" r="0.45"/><circle cx="222.6" cy="662.4" r="0.45"/><circle cx="209.8" cy="665.1" r="0.45"/><circle cx="215.7" cy="652.2" r="0.45"/><circle cx="217.3" cy="655.9" r="0.45"/><circle cx="208.5" cy="664.5" r="0.45"/><circle cx="211.2" cy="660.3" r="0.45"/><circle cx="212.0" cy="658.6" r="0.45"/><circle cx="215.9" cy="653.0" r="0.45"/><circle cx="211.3" cy="665.8" r="0.45"/><circle cx="222.2" cy="664.4" r="0.45"/><circle cx="223.8" cy="666.3" r="0.45"/><circle cx="211.6" cy="660.1" r="0.45"/><circle cx="210.0" cy="664.4" r="0.45"/><circle cx="220.9" cy="660.2" r="0.45"/><circle cx="210.7" cy="662.2" r="0.45"/><circle cx="224.1" cy="664.3" r="0.45"/><circle cx="220.9" cy="661.1" r="0.45"/><circle cx="214.6" cy="653.0" r="0.45"/><circle cx="208.9" cy="663.6" r="0.45"/><circle cx="209.1" cy="665.7" r="0.45"/><circle cx="212.7" cy="658.8" r="0.45"/><circle cx="217.6" cy="655.3" r="0.45"/><circle cx="216.3" cy="653.8" r="0.45"/><circle cx="208.8" cy="664.6" r="0.45"/><circle cx="212.3" cy="659.1" r="0.45"/><circle cx="224.2" cy="666.6" r="0.45"/><circle cx="219.1" cy="656.1" r="0.45"/><circle cx="220.7" cy="660.3" r="0.45"/><circle cx="221.8" cy="662.5" r="0.45"/><circle cx="211.5" cy="659.7" r="0.45"/><circle cx="221.1" cy="662.8" r="0.45"/><circle cx="219.3" cy="658.7" r="0.45"/><circle cx="214.7" cy="654.0" r="0.45"/><circle cx="222.7" cy="665.0" r="0.45"/><circle cx="216.4" cy="653.2" r="0.45"/><circle cx="223.2" cy="666.7" r="0.45"/><circle cx="207.2" cy="666.4" r="0.45"/><circle cx="215.8" cy="655.5" r="0.45"/><circle cx="209.0" cy="663.9" r="0.45"/><circle cx="216.0" cy="653.0" r="0.45"/><circle cx="208.7" cy="664.2" r="0.45"/><circle cx="209.1" cy="665.4" r="0.45"/><circle cx="219.7" cy="657.3" r="0.45"/><circle cx="223.0" cy="663.7" r="0.45"/><circle cx="222.9" cy="666.8" r="0.45"/><circle cx="208.5" cy="664.9" r="0.45"/><circle cx="210.8" cy="660.3" r="0.45"/><circle cx="217.0" cy="656.3" r="0.45"/><circle cx="212.4" cy="660.6" r="0.45"/><circle cx="224.6" cy="665.5" r="0.45"/><circle cx="222.0" cy="665.7" r="0.45"/><circle cx="224.4" cy="666.2" r="0.45"/><circle cx="210.6" cy="660.1" r="0.45"/><circle cx="224.5" cy="666.7" r="0.45"/><circle cx="213.2" cy="655.8" r="0.45"/><circle cx="212.7" cy="657.7" r="0.45"/><circle cx="221.8" cy="662.1" r="0.45"/><circle cx="225.5" cy="666.8" r="0.45"/><circle cx="212.3" cy="660.0" r="0.45"/><circle cx="223.2" cy="664.9" r="0.45"/><circle cx="217.6" cy="656.3" r="0.45"/><circle cx="223.7" cy="665.4" r="0.45"/><circle cx="224.2" cy="664.8" r="0.45"/><circle cx="211.2" cy="660.0" r="0.45"/><circle cx="223.3" cy="664.9" r="0.45"/><circle cx="212.9" cy="657.7" r="0.45"/><circle cx="214.6" cy="656.2" r="0.45"/><circle cx="220.8" cy="660.8" r="0.45"/><circle cx="208.7" cy="665.3" r="0.45"/><circle cx="213.2" cy="658.7" r="0.45"/><circle cx="209.4" cy="664.6" r="0.45"/><circle cx="214.1" cy="655.9" r="0.45"/><circle cx="223.8" cy="666.4" r="0.45"/><circle cx="224.5" cy="665.0" r="0.45"/><circle cx="220.4" cy="663.7" r="0.45"/><circle cx="210.1" cy="663.1" r="0.45"/><circle cx="215.1" cy="657.0" r="0.45"/><circle cx="212.9" cy="661.5" r="0.45"/><circle cx="218.6" cy="656.2" r="0.45"/><circle cx="210.0" cy="662.8" r="0.45"/><circle cx="210.9" cy="661.7" r="0.45"/><circle cx="210.1" cy="662.3" r="0.45"/><circle cx="210.4" cy="660.6" r="0.45"/><circle cx="207.9" cy="665.5" r="0.45"/><circle cx="223.5" cy="664.8" r="0.45"/><circle cx="223.7" cy="666.0" r="0.45"/><circle cx="222.9" cy="664.3" r="0.45"/><circle cx="219.4" cy="657.0" r="0.45"/><circle cx="225.0" cy="666.9" r="0.45"/><circle cx="210.2" cy="663.8" r="0.45"/><circle cx="220.0" cy="658.3" r="0.45"/><circle cx="210.5" cy="662.9" r="0.45"/><circle cx="214.1" cy="659.2" r="0.45"/><circle cx="216.6" cy="659.6" r="0.45"/><circle cx="216.4" cy="655.1" r="0.45"/><circle cx="214.4" cy="654.9" r="0.45"/><circle cx="209.1" cy="665.9" r="0.45"/><circle cx="209.2" cy="663.9" r="0.45"/><circle cx="208.3" cy="664.4" r="0.45"/><circle cx="222.7" cy="662.9" r="0.45"/><circle cx="222.3" cy="661.4" r="0.45"/><circle cx="222.2" cy="663.9" r="0.45"/><circle cx="219.5" cy="658.8" r="0.45"/><circle cx="207.7" cy="665.5" r="0.45"/><circle cx="208.0" cy="666.7" r="0.45"/><circle cx="210.3" cy="665.0" r="0.45"/><circle cx="212.4" cy="657.8" r="0.45"/><circle cx="209.2" cy="663.6" r="0.45"/><circle cx="213.2" cy="656.0" r="0.45"/><circle cx="222.5" cy="664.0" r="0.45"/><circle cx="207.2" cy="666.7" r="0.45"/><circle cx="224.4" cy="665.6" r="0.45"/><circle cx="219.1" cy="661.2" r="0.45"/><circle cx="209.4" cy="666.3" r="0.45"/><circle cx="224.0" cy="665.2" r="0.45"/><circle cx="222.3" cy="666.7" r="0.45"/><circle cx="223.0" cy="662.6" r="0.45"/><circle cx="210.2" cy="663.3" r="0.45"/><circle cx="219.5" cy="659.0" r="0.45"/><circle cx="222.4" cy="664.3" r="0.45"/><circle cx="223.1" cy="663.2" r="0.45"/><circle cx="208.3" cy="664.4" r="0.45"/><circle cx="211.7" cy="659.5" r="0.45"/><circle cx="209.3" cy="664.8" r="0.45"/><circle cx="219.7" cy="657.8" r="0.45"/><circle cx="224.5" cy="666.6" r="0.45"/><circle cx="209.4" cy="663.8" r="0.45"/><circle cx="219.4" cy="659.1" r="0.45"/><circle cx="223.2" cy="665.0" r="0.45"/><circle cx="220.2" cy="660.9" r="0.45"/><circle cx="211.0" cy="660.8" r="0.45"/><circle cx="209.5" cy="665.2" r="0.45"/><circle cx="212.0" cy="658.4" r="0.45"/><circle cx="219.7" cy="657.4" r="0.45"/><circle cx="221.7" cy="661.0" r="0.45"/><circle cx="211.7" cy="660.8" r="0.45"/><circle cx="209.3" cy="664.4" r="0.45"/><circle cx="213.2" cy="658.8" r="0.45"/><circle cx="213.6" cy="662.2" r="0.45"/><circle cx="212.0" cy="661.6" r="0.45"/><circle cx="212.3" cy="657.6" r="0.45"/><circle cx="209.7" cy="663.3" r="0.45"/><circle cx="223.4" cy="665.1" r="0.45"/><circle cx="216.3" cy="652.3" r="0.45"/><circle cx="211.4" cy="659.8" r="0.45"/><circle cx="224.8" cy="666.8" r="0.45"/><circle cx="221.5" cy="661.5" r="0.45"/><circle cx="220.4" cy="661.3" r="0.45"/><circle cx="209.2" cy="666.3" r="0.45"/><circle cx="214.5" cy="659.8" r="0.45"/><circle cx="223.4" cy="663.6" r="0.45"/><circle cx="214.2" cy="658.8" r="0.45"/><circle cx="217.5" cy="653.5" r="0.45"/><circle cx="218.0" cy="655.6" r="0.45"/><circle cx="208.9" cy="666.3" r="0.45"/><circle cx="224.2" cy="666.5" r="0.45"/><circle cx="222.7" cy="662.2" r="0.45"/><circle cx="222.7" cy="663.8" r="0.45"/><circle cx="211.9" cy="658.1" r="0.45"/><circle cx="210.2" cy="663.7" r="0.45"/><circle cx="215.2" cy="662.1" r="0.45"/><circle cx="223.1" cy="664.3" r="0.45"/><circle cx="221.7" cy="666.4" r="0.45"/><circle cx="220.7" cy="659.8" r="0.45"/><circle cx="224.6" cy="666.4" r="0.45"/><circle cx="223.6" cy="663.7" r="0.45"/><circle cx="220.4" cy="660.8" r="0.45"/><circle cx="207.7" cy="667.0" r="0.45"/><circle cx="222.8" cy="663.0" r="0.45"/><circle cx="223.9" cy="666.6" r="0.45"/><circle cx="211.5" cy="660.9" r="0.45"/><circle cx="213.7" cy="657.5" r="0.45"/><circle cx="209.6" cy="664.7" r="0.45"/><circle cx="214.1" cy="658.3" r="0.45"/><circle cx="223.4" cy="664.3" r="0.45"/><circle cx="213.7" cy="655.1" r="0.45"/><circle cx="210.6" cy="661.5" r="0.45"/><circle cx="214.2" cy="659.2" r="0.45"/><circle cx="208.2" cy="665.6" r="0.45"/><circle cx="224.5" cy="666.3" r="0.45"/><circle cx="223.6" cy="666.4" r="0.45"/><circle cx="220.6" cy="660.7" r="0.45"/><circle cx="224.9" cy="665.7" r="0.45"/><circle cx="217.0" cy="654.6" r="0.45"/><circle cx="207.6" cy="666.9" r="0.45"/><circle cx="220.9" cy="661.5" r="0.45"/><circle cx="224.7" cy="666.0" r="0.45"/><circle cx="223.2" cy="664.2" r="0.45"/><circle cx="216.2" cy="653.6" r="0.45"/><circle cx="223.6" cy="664.8" r="0.45"/><circle cx="209.8" cy="662.2" r="0.45"/><circle cx="218.3" cy="655.2" r="0.45"/><circle cx="208.1" cy="664.7" r="0.45"/><circle cx="210.1" cy="661.5" r="0.45"/><circle cx="223.7" cy="666.4" r="0.45"/><circle cx="214.7" cy="654.9" r="0.45"/><circle cx="223.5" cy="666.4" r="0.45"/><circle cx="216.3" cy="654.1" r="0.45"/><circle cx="208.5" cy="665.7" r="0.45"/><circle cx="216.6" cy="653.5" r="0.45"/><circle cx="211.4" cy="658.6" r="0.45"/><circle cx="219.9" cy="659.8" r="0.45"/><circle cx="212.0" cy="661.4" r="0.45"/><circle cx="221.5" cy="661.4" r="0.45"/><circle cx="220.3" cy="658.8" r="0.45"/><circle cx="224.5" cy="667.0" r="0.45"/><circle cx="215.0" cy="654.0" r="0.45"/><circle cx="212.5" cy="658.2" r="0.45"/><circle cx="225.2" cy="666.9" r="0.45"/><circle cx="209.7" cy="664.2" r="0.45"/><circle cx="209.7" cy="666.3" r="0.45"/><circle cx="214.2" cy="655.6" r="0.45"/><circle cx="222.6" cy="665.3" r="0.45"/><circle cx="217.3" cy="656.2" r="0.45"/><circle cx="222.9" cy="662.8" r="0.45"/><circle cx="221.7" cy="661.4" r="0.45"/><circle cx="212.2" cy="658.7" r="0.45"/><circle cx="220.3" cy="660.1" r="0.45"/><circle cx="222.1" cy="661.3" r="0.45"/><circle cx="211.5" cy="660.3" r="0.45"/><circle cx="222.1" cy="664.3" r="0.45"/><circle cx="210.8" cy="660.8" r="0.45"/><circle cx="223.8" cy="664.3" r="0.45"/><circle cx="208.4" cy="664.6" r="0.45"/><circle cx="217.4" cy="655.4" r="0.45"/><circle cx="212.0" cy="661.0" r="0.45"/><circle cx="207.9" cy="666.6" r="0.45"/><circle cx="208.2" cy="665.4" r="0.45"/><circle cx="223.6" cy="664.2" r="0.45"/><circle cx="209.0" cy="664.9" r="0.45"/><circle cx="211.6" cy="660.7" r="0.45"/></g>
<g fill="#222" fill-opacity="0.4"><circle cx="226.9" cy="666.5" r="0.45"/><circle cx="209.0" cy="666.9" r="0.45"/><circle cx="220.0" cy="667.4" r="0.45"/><circle cx="221.8" cy="666.5" r="0.45"/><circle cx="216.4" cy="667.1" r="0.45"/><circle cx="222.4" cy="666.6" r="0.45"/><circle cx="221.3" cy="666.3" r="0.45"/><circle cx="228.3" cy="665.4" r="0.45"/><circle cx="206.0" cy="665.6" r="0.45"/><circle cx="208.4" cy="665.9" r="0.45"/><circle cx="217.9" cy="665.9" r="0.45"/><circle cx="225.9" cy="665.9" r="0.45"/><circle cx="219.5" cy="666.2" r="0.45"/><circle cx="220.3" cy="667.1" r="0.45"/><circle cx="223.9" cy="667.0" r="0.45"/><circle cx="216.0" cy="666.4" r="0.45"/><circle cx="226.5" cy="665.4" r="0.45"/><circle cx="218.6" cy="666.0" r="0.45"/><circle cx="214.9" cy="666.3" r="0.45"/><circle cx="208.9" cy="666.9" r="0.45"/><circle cx="228.5" cy="666.5" r="0.45"/><circle cx="219.9" cy="667.4" r="0.45"/><circle cx="209.7" cy="666.4" r="0.45"/><circle cx="218.2" cy="666.7" r="0.45"/><circle cx="209.5" cy="665.8" r="0.45"/><circle cx="206.5" cy="664.3" r="0.45"/><circle cx="226.3" cy="666.2" r="0.45"/><circle cx="219.5" cy="665.8" r="0.45"/><circle cx="214.3" cy="666.1" r="0.45"/><circle cx="228.0" cy="667.1" r="0.45"/><circle cx="215.1" cy="665.8" r="0.45"/><circle cx="226.2" cy="666.5" r="0.45"/><circle cx="213.3" cy="666.2" r="0.45"/><circle cx="225.5" cy="667.0" r="0.45"/><circle cx="209.2" cy="665.4" r="0.45"/><circle cx="212.6" cy="667.1" r="0.45"/><circle cx="221.1" cy="666.8" r="0.45"/><circle cx="226.1" cy="666.1" r="0.45"/><circle cx="218.1" cy="666.7" r="0.45"/><circle cx="208.1" cy="665.9" r="0.45"/><circle cx="226.8" cy="666.7" r="0.45"/><circle cx="210.5" cy="668.1" r="0.45"/><circle cx="225.9" cy="666.6" r="0.45"/><circle cx="226.6" cy="665.8" r="0.45"/><circle cx="218.6" cy="666.5" r="0.45"/><circle cx="219.5" cy="665.7" r="0.45"/><circle cx="217.0" cy="666.6" r="0.45"/><circle cx="228.9" cy="667.0" r="0.45"/><circle cx="212.0" cy="667.2" r="0.45"/><circle cx="213.5" cy="666.0" r="0.45"/><circle cx="221.2" cy="665.8" r="0.45"/><circle cx="213.1" cy="665.5" r="0.45"/><circle cx="221.4" cy="666.7" r="0.45"/><circle cx="227.4" cy="666.9" r="0.45"/><circle cx="213.3" cy="664.1" r="0.45"/><circle cx="211.3" cy="665.9" r="0.45"/><circle cx="207.3" cy="665.4" r="0.45"/><circle cx="223.7" cy="665.3" r="0.45"/><circle cx="228.6" cy="665.1" r="0.45"/><circle cx="222.7" cy="665.7" r="0.45"/><circle cx="206.8" cy="666.8" r="0.45"/><circle cx="211.2" cy="666.2" r="0.45"/><circle cx="209.3" cy="667.3" r="0.45"/><circle cx="218.9" cy="664.4" r="0.45"/><circle cx="207.6" cy="666.7" r="0.45"/><circle cx="211.6" cy="666.5" r="0.45"/><circle cx="210.5" cy="667.3" r="0.45"/><circle cx="209.2" cy="665.9" r="0.45"/><circle cx="228.9" cy="666.1" r="0.45"/><circle cx="207.1" cy="666.6" r="0.45"/><circle cx="214.2" cy="665.2" r="0.45"/><circle cx="218.7" cy="665.2" r="0.45"/><circle cx="228.1" cy="665.7" r="0.45"/><circle cx="216.8" cy="664.4" r="0.45"/><circle cx="214.0" cy="666.9" r="0.45"/><circle cx="208.5" cy="667.7" r="0.45"/><circle cx="214.9" cy="665.7" r="0.45"/><circle cx="220.1" cy="666.8" r="0.45"/><circle cx="214.9" cy="667.0" r="0.45"/><circle cx="207.9" cy="666.8" r="0.45"/><circle cx="218.6" cy="666.9" r="0.45"/><circle cx="216.4" cy="666.7" r="0.45"/><circle cx="207.5" cy="666.7" r="0.45"/><circle cx="213.6" cy="667.1" r="0.45"/><circle cx="218.8" cy="665.0" r="0.45"/><circle cx="210.2" cy="666.6" r="0.45"/><circle cx="219.0" cy="668.1" r="0.45"/><circle cx="210.0" cy="667.3" r="0.45"/><circle cx="209.1" cy="667.3" r="0.45"/><circle cx="207.8" cy="666.1" r="0.45"/><circle cx="209.8" cy="667.0" r="0.45"/><circle cx="211.7" cy="667.2" r="0.45"/><circle cx="218.9" cy="667.8" r="0.45"/><circle cx="213.0" cy="665.5" r="0.45"/><circle cx="219.7" cy="665.6" r="0.45"/><circle cx="222.9" cy="664.5" r="0.45"/><circle cx="229.0" cy="667.5" r="0.45"/><circle cx="215.9" cy="665.7" r="0.45"/><circle cx="225.2" cy="666.7" r="0.45"/><circle cx="223.1" cy="665.5" r="0.45"/><circle cx="226.6" cy="665.6" r="0.45"/><circle cx="208.8" cy="665.9" r="0.45"/><circle cx="221.8" cy="666.2" r="0.45"/><circle cx="208.2" cy="666.9" r="0.45"/><circle cx="225.3" cy="666.5" r="0.45"/><circle cx="212.1" cy="665.7" r="0.45"/><circle cx="214.1" cy="666.0" r="0.45"/><circle cx="209.4" cy="666.2" r="0.45"/><circle cx="222.7" cy="666.5" r="0.45"/><circle cx="217.2" cy="666.2" r="0.45"/><circle cx="220.8" cy="665.3" r="0.45"/><circle cx="207.0" cy="667.7" r="0.45"/><circle cx="221.6" cy="666.1" r="0.45"/><circle cx="221.1" cy="667.6" r="0.45"/><circle cx="228.9" cy="666.2" r="0.45"/><circle cx="208.8" cy="665.5" r="0.45"/><circle cx="224.0" cy="667.0" r="0.45"/><circle cx="214.4" cy="665.4" r="0.45"/><circle cx="219.1" cy="665.7" r="0.45"/><circle cx="223.3" cy="668.1" r="0.45"/><circle cx="211.0" cy="666.9" r="0.45"/><circle cx="217.6" cy="666.4" r="0.45"/><circle cx="220.6" cy="666.4" r="0.45"/><circle cx="217.1" cy="665.0" r="0.45"/><circle cx="213.3" cy="666.5" r="0.45"/><circle cx="207.4" cy="664.8" r="0.45"/><circle cx="228.2" cy="665.7" r="0.45"/><circle cx="210.9" cy="666.6" r="0.45"/><circle cx="221.8" cy="664.8" r="0.45"/><circle cx="210.2" cy="665.0" r="0.45"/><circle cx="216.7" cy="666.4" r="0.45"/><circle cx="220.9" cy="665.6" r="0.45"/><circle cx="228.6" cy="667.0" r="0.45"/><circle cx="227.1" cy="667.6" r="0.45"/><circle cx="218.9" cy="666.1" r="0.45"/><circle cx="225.1" cy="665.6" r="0.45"/><circle cx="213.0" cy="668.4" r="0.45"/><circle cx="222.8" cy="666.4" r="0.45"/><circle cx="228.7" cy="666.9" r="0.45"/><circle cx="227.7" cy="667.2" r="0.45"/><circle cx="215.7" cy="665.5" r="0.45"/><circle cx="227.0" cy="665.1" r="0.45"/><circle cx="228.5" cy="666.9" r="0.45"/><circle cx="221.0" cy="666.7" r="0.45"/><circle cx="222.5" cy="665.6" r="0.45"/><circle cx="222.9" cy="664.6" r="0.45"/><circle cx="222.3" cy="665.8" r="0.45"/><circle cx="220.4" cy="666.9" r="0.45"/><circle cx="215.3" cy="666.1" r="0.45"/><circle cx="217.5" cy="665.9" r="0.45"/><circle cx="212.6" cy="666.3" r="0.45"/><circle cx="206.5" cy="664.8" r="0.45"/><circle cx="220.9" cy="667.3" r="0.45"/><circle cx="216.5" cy="662.9" r="0.45"/><circle cx="222.0" cy="666.2" r="0.45"/><circle cx="211.1" cy="666.8" r="0.45"/><circle cx="227.1" cy="666.5" r="0.45"/><circle cx="217.2" cy="665.7" r="0.45"/><circle cx="212.8" cy="666.7" r="0.45"/><circle cx="218.4" cy="667.5" r="0.45"/><circle cx="226.0" cy="666.5" r="0.45"/><circle cx="219.9" cy="666.3" r="0.45"/><circle cx="220.5" cy="665.5" r="0.45"/><circle cx="225.9" cy="667.5" r="0.45"/><circle cx="228.5" cy="666.7" r="0.45"/><circle cx="209.4" cy="666.4" r="0.45"/><circle cx="211.0" cy="664.0" r="0.45"/><circle cx="227.7" cy="665.2" r="0.45"/><circle cx="227.7" cy="666.6" r="0.45"/><circle cx="218.3" cy="666.5" r="0.45"/><circle cx="226.4" cy="667.5" r="0.45"/><circle cx="222.9" cy="664.9" r="0.45"/><circle cx="217.4" cy="667.5" r="0.45"/><circle cx="219.9" cy="665.9" r="0.45"/><circle cx="219.8" cy="666.0" r="0.45"/><circle cx="228.4" cy="666.5" r="0.45"/><circle cx="220.7" cy="666.3" r="0.45"/><circle cx="207.3" cy="667.3" r="0.45"/><circle cx="215.6" cy="666.8" r="0.45"/><circle cx="215.5" cy="666.2" r="0.45"/><circle cx="210.5" cy="666.2" r="0.45"/><circle cx="218.3" cy="665.9" r="0.45"/><circle cx="221.7" cy="665.7" r="0.45"/><circle cx="226.3" cy="667.6" r="0.45"/><circle cx="208.3" cy="665.5" r="0.45"/><circle cx="225.0" cy="665.1" r="0.45"/><circle cx="224.9" cy="666.8" r="0.45"/><circle cx="224.4" cy="665.9" r="0.45"/><circle cx="215.3" cy="665.7" r="0.45"/><circle cx="211.7" cy="667.5" r="0.45"/><circle cx="224.3" cy="665.1" r="0.45"/><circle cx="206.5" cy="665.2" r="0.45"/><circle cx="227.9" cy="666.3" r="0.45"/><circle cx="216.3" cy="666.1" r="0.45"/><circle cx="214.2" cy="666.4" r="0.45"/><circle cx="228.5" cy="666.8" r="0.45"/><circle cx="219.0" cy="666.4" r="0.45"/><circle cx="223.1" cy="666.3" r="0.45"/><circle cx="225.0" cy="664.9" r="0.45"/><circle cx="211.7" cy="666.7" r="0.45"/><circle cx="210.7" cy="667.2" r="0.45"/><circle cx="226.8" cy="666.3" r="0.45"/><circle cx="223.7" cy="667.1" r="0.45"/><circle cx="215.6" cy="665.7" r="0.45"/><circle cx="207.2" cy="665.9" r="0.45"/><circle cx="215.3" cy="667.8" r="0.45"/><circle cx="217.8" cy="665.6" r="0.45"/><circle cx="228.4" cy="666.7" r="0.45"/><circle cx="227.6" cy="668.6" r="0.45"/><circle cx="220.5" cy="667.2" r="0.45"/><circle cx="219.2" cy="665.5" r="0.45"/><circle cx="215.8" cy="666.7" r="0.45"/><circle cx="216.7" cy="665.0" r="0.45"/><circle cx="224.6" cy="666.8" r="0.45"/><circle cx="227.2" cy="666.1" r="0.45"/><circle cx="222.1" cy="666.7" r="0.45"/><circle cx="221.2" cy="666.8" r="0.45"/><circle cx="225.5" cy="667.3" r="0.45"/><circle cx="211.1" cy="667.8" r="0.45"/><circle cx="218.7" cy="666.4" r="0.45"/><circle cx="228.2" cy="665.7" r="0.45"/><circle cx="227.8" cy="666.0" r="0.45"/><circle cx="228.4" cy="667.5" r="0.45"/><circle cx="224.8" cy="666.2" r="0.45"/><circle cx="209.7" cy="666.5" r="0.45"/><circle cx="210.3" cy="667.4" r="0.45"/><circle cx="224.4" cy="665.3" r="0.45"/><circle cx="227.3" cy="666.5" r="0.45"/><circle cx="216.0" cy="665.2" r="0.45"/><circle cx="215.1" cy="667.0" r="0.45"/><circle cx="224.5" cy="667.2" r="0.45"/><circle cx="209.6" cy="667.1" r="0.45"/><circle cx="222.5" cy="667.1" r="0.45"/><circle cx="220.1" cy="666.4" r="0.45"/><circle cx="217.9" cy="667.1" r="0.45"/><circle cx="228.3" cy="668.0" r="0.45"/><circle cx="206.7" cy="665.5" r="0.45"/><circle cx="227.4" cy="666.0" r="0.45"/><circle cx="214.3" cy="667.6" r="0.45"/><circle cx="209.5" cy="665.8" r="0.45"/><circle cx="228.1" cy="667.0" r="0.45"/><circle cx="226.3" cy="667.4" r="0.45"/><circle cx="228.8" cy="667.1" r="0.45"/><circle cx="218.2" cy="666.7" r="0.45"/><circle cx="210.7" cy="668.8" r="0.45"/><circle cx="206.2" cy="666.0" r="0.45"/><circle cx="215.3" cy="664.8" r="0.45"/><circle cx="209.5" cy="666.2" r="0.45"/><circle cx="225.9" cy="665.3" r="0.45"/><circle cx="224.4" cy="666.4" r="0.45"/><circle cx="211.4" cy="665.8" r="0.45"/><circle cx="226.4" cy="666.3" r="0.45"/><circle cx="210.0" cy="667.0" r="0.45"/><circle cx="214.7" cy="667.6" r="0.45"/><circle cx="228.7" cy="666.9" r="0.45"/><circle cx="215.9" cy="667.5" r="0.45"/><circle cx="209.2" cy="666.0" r="0.45"/><circle cx="228.6" cy="666.3" r="0.45"/><circle cx="219.2" cy="666.9" r="0.45"/><circle cx="221.5" cy="667.1" r="0.45"/><circle cx="222.8" cy="667.0" r="0.45"/><circle cx="227.9" cy="667.1" r="0.45"/><circle cx="224.9" cy="666.0" r="0.45"/><circle cx="211.7" cy="666.7" r="0.45"/><circle cx="223.3" cy="666.8" r="0.45"/><circle cx="206.1" cy="666.7" r="0.45"/><circle cx="214.9" cy="667.4" r="0.45"/><circle cx="211.4" cy="665.9" r="0.45"/><circle cx="206.5" cy="667.2" r="0.45"/><circle cx="218.1" cy="666.2" r="0.45"/><circle cx="211.6" cy="664.8" r="0.45"/><circle cx="218.3" cy="664.8" r="0.45"/><circle cx="214.5" cy="666.6" r="0.45"/><circle cx="217.0" cy="666.1" r="0.45"/><circle cx="226.6" cy="665.6" r="0.45"/><circle cx="225.9" cy="666.7" r="0.45"/><circle cx="220.9" cy="666.1" r="0.45"/><circle cx="212.0" cy="665.3" r="0.45"/><circle cx="219.3" cy="667.0" r="0.45"/><circle cx="215.3" cy="665.8" r="0.45"/><circle cx="226.4" cy="666.3" r="0.45"/><circle cx="216.0" cy="666.8" r="0.45"/><circle cx="227.0" cy="665.6" r="0.45"/><circle cx="212.8" cy="666.2" r="0.45"/><circle cx="216.6" cy="666.8" r="0.45"/><circle cx="220.3" cy="666.0" r="0.45"/><circle cx="228.5" cy="667.1" r="0.45"/><circle cx="228.8" cy="665.5" r="0.45"/><circle cx="213.6" cy="667.0" r="0.45"/><circle cx="214.0" cy="666.7" r="0.45"/><circle cx="227.2" cy="666.4" r="0.45"/><circle cx="213.7" cy="666.7" r="0.45"/><circle cx="216.5" cy="666.9" r="0.45"/><circle cx="213.5" cy="665.9" r="0.45"/><circle cx="211.7" cy="666.4" r="0.45"/><circle cx="221.0" cy="666.5" r="0.45"/><circle cx="212.7" cy="665.5" r="0.45"/><circle cx="209.7" cy="667.4" r="0.45"/><circle cx="209.5" cy="668.0" r="0.45"/><circle cx="220.5" cy="667.2" r="0.45"/></g>
<g fill="#444" fill-opacity="0.32"><circle cx="197.2" cy="664.6" r="0.45"/><circle cx="190.8" cy="667.4" r="0.45"/><circle cx="204.9" cy="665.3" r="0.45"/><circle cx="195.5" cy="667.2" r="0.45"/><circle cx="192.2" cy="667.0" r="0.45"/><circle cx="197.4" cy="666.7" r="0.45"/><circle cx="191.2" cy="667.3" r="0.45"/><circle cx="197.9" cy="661.8" r="0.45"/><circle cx="191.1" cy="667.4" r="0.45"/><circle cx="198.9" cy="666.6" r="0.45"/><circle cx="202.3" cy="667.4" r="0.45"/><circle cx="193.3" cy="667.0" r="0.45"/><circle cx="207.7" cy="666.9" r="0.45"/><circle cx="191.0" cy="666.7" r="0.45"/><circle cx="193.7" cy="666.2" r="0.45"/><circle cx="190.2" cy="667.5" r="0.45"/><circle cx="200.7" cy="667.0" r="0.45"/><circle cx="195.7" cy="666.1" r="0.45"/><circle cx="193.0" cy="666.5" r="0.45"/><circle cx="191.0" cy="665.8" r="0.45"/><circle cx="191.0" cy="666.3" r="0.45"/><circle cx="204.8" cy="665.8" r="0.45"/><circle cx="190.1" cy="667.2" r="0.45"/><circle cx="199.8" cy="667.5" r="0.45"/><circle cx="207.1" cy="663.1" r="0.45"/><circle cx="196.9" cy="667.4" r="0.45"/><circle cx="200.0" cy="667.3" r="0.45"/><circle cx="189.0" cy="667.4" r="0.45"/><circle cx="189.6" cy="667.3" r="0.45"/><circle cx="201.2" cy="660.4" r="0.45"/><circle cx="200.5" cy="666.0" r="0.45"/><circle cx="203.1" cy="666.4" r="0.45"/><circle cx="204.6" cy="661.7" r="0.45"/><circle cx="200.5" cy="666.2" r="0.45"/><circle cx="194.2" cy="665.4" r="0.45"/><circle cx="202.4" cy="667.1" r="0.45"/><circle cx="200.6" cy="665.7" r="0.45"/><circle cx="203.5" cy="662.5" r="0.45"/><circle cx="191.5" cy="666.4" r="0.45"/><circle cx="203.5" cy="666.1" r="0.45"/><circle cx="205.7" cy="665.9" r="0.45"/><circle cx="190.8" cy="667.3" r="0.45"/><circle cx="195.6" cy="664.7" r="0.45"/><circle cx="194.0" cy="665.0" r="0.45"/><circle cx="196.4" cy="666.4" r="0.45"/><circle cx="196.6" cy="666.3" r="0.45"/><circle cx="191.3" cy="665.5" r="0.45"/><circle cx="207.1" cy="666.4" r="0.45"/><circle cx="193.4" cy="666.5" r="0.45"/><circle cx="194.2" cy="666.0" r="0.45"/><circle cx="201.0" cy="661.1" r="0.45"/><circle cx="205.4" cy="665.0" r="0.45"/><circle cx="195.1" cy="667.3" r="0.45"/><circle cx="207.3" cy="663.6" r="0.45"/><circle cx="191.6" cy="666.9" r="0.45"/><circle cx="200.1" cy="665.6" r="0.45"/><circle cx="203.1" cy="664.8" r="0.45"/><circle cx="204.2" cy="664.9" r="0.45"/><circle cx="205.2" cy="665.1" r="0.45"/><circle cx="189.4" cy="667.4" r="0.45"/><circle cx="197.4" cy="667.4" r="0.45"/><circle cx="191.0" cy="667.4" r="0.45"/><circle cx="194.9" cy="665.9" r="0.45"/><circle cx="194.2" cy="667.1" r="0.45"/><circle cx="192.9" cy="666.4" r="0.45"/><circle cx="193.7" cy="667.4" r="0.45"/><circle cx="197.9" cy="663.3" r="0.45"/><circle cx="204.1" cy="662.5" r="0.45"/><circle cx="195.7" cy="666.6" r="0.45"/><circle cx="205.7" cy="666.9" r="0.45"/><circle cx="205.0" cy="666.7" r="0.45"/><circle cx="196.3" cy="666.6" r="0.45"/><circle cx="194.0" cy="666.0" r="0.45"/><circle cx="206.5" cy="667.5" r="0.45"/><circle cx="196.7" cy="666.2" r="0.45"/><circle cx="198.3" cy="663.3" r="0.45"/><circle cx="190.2" cy="667.4" r="0.45"/><circle cx="207.6" cy="667.4" r="0.45"/><circle cx="189.0" cy="667.3" r="0.45"/><circle cx="201.7" cy="667.0" r="0.45"/><circle cx="204.7" cy="665.2" r="0.45"/><circle cx="200.1" cy="667.5" r="0.45"/><circle cx="194.7" cy="666.0" r="0.45"/><circle cx="195.2" cy="667.3" r="0.45"/><circle cx="205.6" cy="664.0" r="0.45"/><circle cx="193.3" cy="666.3" r="0.45"/><circle cx="205.6" cy="666.6" r="0.45"/><circle cx="196.1" cy="666.4" r="0.45"/><circle cx="204.4" cy="666.0" r="0.45"/><circle cx="198.6" cy="663.3" r="0.45"/><circle cx="197.8" cy="667.0" r="0.45"/><circle cx="194.3" cy="666.9" r="0.45"/><circle cx="202.9" cy="664.9" r="0.45"/><circle cx="200.5" cy="664.1" r="0.45"/><circle cx="192.2" cy="665.3" r="0.45"/><circle cx="192.5" cy="666.8" r="0.45"/><circle cx="202.2" cy="664.0" r="0.45"/><circle cx="195.0" cy="666.5" r="0.45"/><circle cx="203.3" cy="662.0" r="0.45"/><circle cx="201.5" cy="667.4" r="0.45"/><circle cx="189.5" cy="667.2" r="0.45"/><circle cx="200.5" cy="667.3" r="0.45"/><circle cx="190.6" cy="666.5" r="0.45"/><circle cx="191.6" cy="666.2" r="0.45"/><circle cx="195.9" cy="666.5" r="0.45"/><circle cx="198.4" cy="664.1" r="0.45"/><circle cx="200.7" cy="666.5" r="0.45"/><circle cx="200.1" cy="665.8" r="0.45"/><circle cx="204.7" cy="666.2" r="0.45"/><circle cx="193.5" cy="666.4" r="0.45"/><circle cx="195.4" cy="664.2" r="0.45"/><circle cx="206.6" cy="665.2" r="0.45"/><circle cx="193.2" cy="666.2" r="0.45"/><circle cx="195.1" cy="665.4" r="0.45"/><circle cx="200.8" cy="667.4" r="0.45"/><circle cx="206.6" cy="664.0" r="0.45"/><circle cx="202.2" cy="664.1" r="0.45"/><circle cx="193.5" cy="666.7" r="0.45"/><circle cx="193.0" cy="666.7" r="0.45"/><circle cx="202.6" cy="667.4" r="0.45"/><circle cx="200.8" cy="664.8" r="0.45"/><circle cx="193.0" cy="665.9" r="0.45"/><circle cx="203.9" cy="666.5" r="0.45"/><circle cx="198.8" cy="666.8" r="0.45"/><circle cx="192.2" cy="666.6" r="0.45"/><circle cx="207.9" cy="667.0" r="0.45"/><circle cx="189.4" cy="667.5" r="0.45"/><circle cx="200.8" cy="666.9" r="0.45"/><circle cx="201.9" cy="666.6" r="0.45"/><circle cx="197.9" cy="663.4" r="0.45"/><circle cx="199.0" cy="667.2" r="0.45"/><circle cx="194.6" cy="667.3" r="0.45"/><circle cx="191.8" cy="666.6" r="0.45"/><circle cx="194.2" cy="667.4" r="0.45"/><circle cx="204.3" cy="665.4" r="0.45"/><circle cx="194.1" cy="666.1" r="0.45"/><circle cx="207.7" cy="666.4" r="0.45"/><circle cx="204.0" cy="666.7" r="0.45"/><circle cx="194.8" cy="667.0" r="0.45"/><circle cx="204.4" cy="667.3" r="0.45"/><circle cx="203.8" cy="663.6" r="0.45"/><circle cx="193.2" cy="667.3" r="0.45"/><circle cx="198.8" cy="665.9" r="0.45"/><circle cx="202.1" cy="659.8" r="0.45"/><circle cx="198.3" cy="665.8" r="0.45"/><circle cx="202.3" cy="660.6" r="0.45"/><circle cx="202.8" cy="665.6" r="0.45"/><circle cx="194.9" cy="666.0" r="0.45"/><circle cx="195.6" cy="667.4" r="0.45"/><circle cx="203.4" cy="662.9" r="0.45"/><circle cx="202.7" cy="667.3" r="0.45"/><circle cx="190.4" cy="667.2" r="0.45"/><circle cx="207.7" cy="665.9" r="0.45"/><circle cx="207.6" cy="667.4" r="0.45"/><circle cx="201.1" cy="665.3" r="0.45"/><circle cx="190.1" cy="666.7" r="0.45"/><circle cx="198.4" cy="665.5" r="0.45"/><circle cx="207.5" cy="665.1" r="0.45"/><circle cx="198.8" cy="666.8" r="0.45"/><circle cx="189.7" cy="667.0" r="0.45"/><circle cx="195.8" cy="667.3" r="0.45"/><circle cx="189.1" cy="667.3" r="0.45"/><circle cx="199.1" cy="664.4" r="0.45"/><circle cx="205.7" cy="666.0" r="0.45"/><circle cx="204.1" cy="665.6" r="0.45"/><circle cx="200.6" cy="665.7" r="0.45"/><circle cx="196.7" cy="665.5" r="0.45"/><circle cx="204.3" cy="667.0" r="0.45"/><circle cx="200.2" cy="663.8" r="0.45"/><circle cx="196.3" cy="664.5" r="0.45"/><circle cx="206.9" cy="667.3" r="0.45"/><circle cx="193.1" cy="666.1" r="0.45"/><circle cx="207.6" cy="666.6" r="0.45"/><circle cx="201.3" cy="662.7" r="0.45"/><circle cx="201.5" cy="663.3" r="0.45"/><circle cx="192.1" cy="667.3" r="0.45"/><circle cx="200.0" cy="666.7" r="0.45"/><circle cx="205.5" cy="665.0" r="0.45"/><circle cx="204.3" cy="666.3" r="0.45"/><circle cx="200.6" cy="665.7" r="0.45"/><circle cx="206.2" cy="666.4" r="0.45"/><circle cx="205.4" cy="667.1" r="0.45"/><circle cx="201.4" cy="666.5" r="0.45"/><circle cx="200.2" cy="666.8" r="0.45"/><circle cx="203.4" cy="661.8" r="0.45"/><circle cx="205.2" cy="665.2" r="0.45"/><circle cx="205.9" cy="663.9" r="0.45"/><circle cx="202.2" cy="664.4" r="0.45"/><circle cx="198.3" cy="665.1" r="0.45"/><circle cx="207.4" cy="666.6" r="0.45"/><circle cx="203.8" cy="664.3" r="0.45"/><circle cx="204.6" cy="665.8" r="0.45"/><circle cx="194.1" cy="666.9" r="0.45"/><circle cx="199.8" cy="665.2" r="0.45"/><circle cx="189.5" cy="667.1" r="0.45"/><circle cx="200.6" cy="662.5" r="0.45"/><circle cx="200.9" cy="666.3" r="0.45"/><circle cx="189.2" cy="667.2" r="0.45"/><circle cx="195.1" cy="666.6" r="0.45"/><circle cx="195.4" cy="665.9" r="0.45"/><circle cx="204.4" cy="666.8" r="0.45"/><circle cx="207.9" cy="664.5" r="0.45"/><circle cx="191.2" cy="666.7" r="0.45"/><circle cx="193.7" cy="667.1" r="0.45"/><circle cx="203.2" cy="666.0" r="0.45"/><circle cx="195.6" cy="666.1" r="0.45"/><circle cx="199.5" cy="665.3" r="0.45"/><circle cx="197.5" cy="667.3" r="0.45"/><circle cx="203.7" cy="666.9" r="0.45"/><circle cx="197.7" cy="665.5" r="0.45"/><circle cx="199.9" cy="661.1" r="0.45"/><circle cx="201.8" cy="665.2" r="0.45"/><circle cx="194.3" cy="667.3" r="0.45"/><circle cx="189.0" cy="667.4" r="0.45"/><circle cx="201.2" cy="665.5" r="0.45"/><circle cx="189.8" cy="667.4" r="0.45"/><circle cx="191.9" cy="666.3" r="0.45"/><circle cx="195.6" cy="666.2" r="0.45"/><circle cx="205.0" cy="666.6" r="0.45"/><circle cx="189.2" cy="667.5" r="0.45"/><circle cx="207.5" cy="666.0" r="0.45"/><circle cx="189.8" cy="667.2" r="0.45"/><circle cx="201.8" cy="667.3" r="0.45"/><circle cx="193.6" cy="666.5" r="0.45"/><circle cx="204.1" cy="667.1" r="0.45"/><circle cx="194.4" cy="664.7" r="0.45"/><circle cx="193.4" cy="667.3" r="0.45"/><circle cx="202.9" cy="666.9" r="0.45"/><circle cx="206.6" cy="666.0" r="0.45"/><circle cx="189.2" cy="667.3" r="0.45"/><circle cx="204.5" cy="667.3" r="0.45"/><circle cx="205.4" cy="662.7" r="0.45"/><circle cx="189.2" cy="667.3" r="0.45"/><circle cx="199.8" cy="662.3" r="0.45"/><circle cx="193.0" cy="667.1" r="0.45"/><circle cx="192.3" cy="666.0" r="0.45"/><circle cx="189.8" cy="667.1" r="0.45"/><circle cx="201.3" cy="665.4" r="0.45"/><circle cx="191.2" cy="666.8" r="0.45"/><circle cx="206.5" cy="667.1" r="0.45"/><circle cx="191.8" cy="667.1" r="0.45"/><circle cx="203.8" cy="666.4" r="0.45"/><circle cx="196.9" cy="664.3" r="0.45"/><circle cx="194.6" cy="666.0" r="0.45"/><circle cx="207.0" cy="666.3" r="0.45"/><circle cx="204.7" cy="664.2" r="0.45"/><circle cx="199.3" cy="666.5" r="0.45"/><circle cx="190.2" cy="667.5" r="0.45"/><circle cx="193.9" cy="666.5" r="0.45"/><circle cx="197.5" cy="664.3" r="0.45"/><circle cx="196.4" cy="667.2" r="0.45"/><circle cx="205.5" cy="665.5" r="0.45"/><circle cx="200.8" cy="665.9" r="0.45"/><circle cx="191.1" cy="666.2" r="0.45"/><circle cx="201.2" cy="666.1" r="0.45"/><circle cx="198.4" cy="666.9" r="0.45"/><circle cx="203.8" cy="666.4" r="0.45"/><circle cx="194.2" cy="667.2" r="0.45"/><circle cx="195.2" cy="667.5" r="0.45"/><circle cx="205.5" cy="667.5" r="0.45"/><circle cx="205.3" cy="667.4" r="0.45"/><circle cx="189.6" cy="666.7" r="0.45"/><circle cx="198.8" cy="663.6" r="0.45"/><circle cx="205.7" cy="664.5" r="0.45"/><circle cx="198.9" cy="667.1" r="0.45"/><circle cx="198.5" cy="666.2" r="0.45"/><circle cx="195.4" cy="664.5" r="0.45"/><circle cx="194.4" cy="666.6" r="0.45"/><circle cx="201.2" cy="666.7" r="0.45"/><circle cx="192.6" cy="667.3" r="0.45"/><circle cx="206.4" cy="664.8" r="0.45"/><circle cx="194.3" cy="666.7" r="0.45"/><circle cx="201.0" cy="664.9" r="0.45"/><circle cx="190.0" cy="667.2" r="0.45"/><circle cx="206.2" cy="665.6" r="0.45"/><circle cx="199.2" cy="665.8" r="0.45"/><circle cx="205.2" cy="666.2" r="0.45"/><circle cx="207.9" cy="666.6" r="0.45"/><circle cx="190.8" cy="666.9" r="0.45"/><circle cx="198.0" cy="666.2" r="0.45"/><circle cx="200.4" cy="665.3" r="0.45"/><circle cx="199.2" cy="666.8" r="0.45"/><circle cx="206.6" cy="666.2" r="0.45"/><circle cx="207.1" cy="664.8" r="0.45"/><circle cx="203.1" cy="666.2" r="0.45"/><circle cx="207.9" cy="664.9" r="0.45"/><circle cx="200.8" cy="664.3" r="0.45"/><circle cx="192.0" cy="667.1" r="0.45"/><circle cx="200.8" cy="665.0" r="0.45"/><circle cx="190.8" cy="666.4" r="0.45"/><circle cx="189.7" cy="667.0" r="0.45"/><circle cx="194.2" cy="664.9" r="0.45"/><circle cx="201.5" cy="661.8" r="0.45"/><circle cx="189.2" cy="667.4" r="0.45"/><circle cx="198.2" cy="664.8" r="0.45"/><circle cx="196.6" cy="667.3" r="0.45"/><circle cx="204.0" cy="665.1" r="0.45"/><circle cx="200.4" cy="666.0" r="0.45"/><circle cx="204.0" cy="664.8" r="0.45"/><circle cx="193.5" cy="666.2" r="0.45"/><circle cx="194.4" cy="665.8" r="0.45"/><circle cx="193.4" cy="667.0" r="0.45"/><circle cx="199.3" cy="665.0" r="0.45"/><circle cx="191.6" cy="666.2" r="0.45"/><circle cx="201.1" cy="665.4" r="0.45"/><circle cx="197.0" cy="665.1" r="0.45"/><circle cx="196.2" cy="664.5" r="0.45"/><circle cx="201.2" cy="666.9" r="0.45"/><circle cx="197.6" cy="666.5" r="0.45"/><circle cx="206.7" cy="664.6" r="0.45"/><circle cx="191.5" cy="666.7" r="0.45"/><circle cx="202.0" cy="666.6" r="0.45"/><circle cx="202.6" cy="666.9" r="0.45"/><circle cx="196.0" cy="665.4" r="0.45"/><circle cx="199.3" cy="663.8" r="0.45"/><circle cx="191.9" cy="666.5" r="0.45"/><circle cx="189.5" cy="667.4" r="0.45"/><circle cx="203.0" cy="664.7" r="0.45"/><circle cx="196.8" cy="664.3" r="0.45"/><circle cx="199.3" cy="664.7" r="0.45"/><circle cx="195.2" cy="667.0" r="0.45"/><circle cx="204.7" cy="664.6" r="0.45"/><circle cx="196.6" cy="666.9" r="0.45"/><circle cx="203.1" cy="665.9" r="0.45"/><circle cx="200.4" cy="664.9" r="0.45"/><circle cx="193.9" cy="665.3" r="0.45"/><circle cx="189.1" cy="667.3" r="0.45"/><circle cx="194.3" cy="664.6" r="0.45"/><circle cx="195.3" cy="664.4" r="0.45"/><circle cx="196.0" cy="666.6" r="0.45"/><circle cx="205.4" cy="665.8" r="0.45"/><circle cx="197.6" cy="666.0" r="0.45"/><circle cx="203.4" cy="667.4" r="0.45"/><circle cx="200.9" cy="664.8" r="0.45"/><circle cx="203.3" cy="665.4" r="0.45"/><circle cx="200.3" cy="665.7" r="0.45"/><circle cx="206.8" cy="664.5" r="0.45"/><circle cx="197.7" cy="666.3" r="0.45"/><circle cx="203.7" cy="666.3" r="0.45"/><circle cx="192.5" cy="667.5" r="0.45"/><circle cx="195.6" cy="665.5" r="0.45"/><circle cx="197.2" cy="665.3" r="0.45"/><circle cx="202.3" cy="665.5" r="0.45"/><circle cx="205.6" cy="665.6" r="0.45"/><circle cx="204.2" cy="664.6" r="0.45"/><circle cx="204.9" cy="666.1" r="0.45"/><circle cx="198.0" cy="667.2" r="0.45"/><circle cx="193.8" cy="667.2" r="0.45"/><circle cx="193.9" cy="667.5" r="0.45"/><circle cx="191.5" cy="667.5" r="0.45"/></g>
<g fill="#222" fill-opacity="0.45"><circle cx="191.8" cy="666.6" r="0.45"/><circle cx="186.0" cy="667.6" r="0.45"/><circle cx="191.3" cy="667.2" r="0.45"/><circle cx="186.3" cy="665.9" r="0.45"/><circle cx="186.8" cy="666.5" r="0.45"/><circle cx="187.5" cy="665.9" r="0.45"/><circle cx="190.2" cy="669.0" r="0.45"/><circle cx="189.1" cy="664.8" r="0.45"/><circle cx="191.6" cy="665.4" r="0.45"/><circle cx="190.1" cy="666.4" r="0.45"/><circle cx="190.4" cy="665.8" r="0.45"/><circle cx="191.1" cy="667.3" r="0.45"/><circle cx="189.1" cy="666.2" r="0.45"/><circle cx="189.7" cy="668.1" r="0.45"/><circle cx="187.2" cy="666.0" r="0.45"/><circle cx="188.9" cy="666.4" r="0.45"/><circle cx="189.8" cy="667.6" r="0.45"/><circle cx="186.3" cy="666.9" r="0.45"/><circle cx="190.7" cy="667.0" r="0.45"/><circle cx="186.0" cy="666.8" r="0.45"/><circle cx="189.6" cy="665.7" r="0.45"/><circle cx="191.6" cy="666.8" r="0.45"/><circle cx="186.1" cy="666.0" r="0.45"/><circle cx="190.4" cy="665.1" r="0.45"/><circle cx="189.0" cy="666.8" r="0.45"/><circle cx="188.9" cy="666.2" r="0.45"/><circle cx="190.3" cy="667.0" r="0.45"/><circle cx="191.1" cy="666.4" r="0.45"/><circle cx="191.2" cy="667.2" r="0.45"/><circle cx="188.2" cy="667.6" r="0.45"/><circle cx="191.4" cy="665.3" r="0.45"/><circle cx="186.9" cy="666.9" r="0.45"/><circle cx="187.4" cy="665.9" r="0.45"/><circle cx="190.7" cy="668.4" r="0.45"/><circle cx="190.4" cy="665.4" r="0.45"/><circle cx="188.7" cy="667.4" r="0.45"/><circle cx="190.9" cy="667.3" r="0.45"/><circle cx="189.1" cy="664.8" r="0.45"/><circle cx="186.1" cy="667.4" r="0.45"/><circle cx="187.0" cy="666.3" r="0.45"/><circle cx="191.4" cy="667.4" r="0.45"/><circle cx="191.5" cy="664.1" r="0.45"/><circle cx="186.4" cy="666.6" r="0.45"/><circle cx="189.8" cy="665.9" r="0.45"/><circle cx="190.3" cy="666.1" r="0.45"/><circle cx="189.1" cy="666.1" r="0.45"/><circle cx="192.0" cy="665.8" r="0.45"/><circle cx="186.1" cy="663.7" r="0.45"/><circle cx="186.3" cy="666.6" r="0.45"/><circle cx="187.5" cy="665.8" r="0.45"/><circle cx="190.3" cy="665.8" r="0.45"/><circle cx="186.2" cy="666.6" r="0.45"/><circle cx="186.8" cy="667.0" r="0.45"/><circle cx="189.2" cy="667.3" r="0.45"/><circle cx="186.0" cy="667.6" r="0.45"/><circle cx="187.5" cy="667.0" r="0.45"/><circle cx="186.5" cy="667.4" r="0.45"/><circle cx="186.1" cy="666.8" r="0.45"/><circle cx="188.4" cy="667.4" r="0.45"/><circle cx="191.3" cy="667.4" r="0.45"/><circle cx="188.3" cy="666.2" r="0.45"/><circle cx="187.0" cy="667.4" r="0.45"/><circle cx="188.0" cy="665.4" r="0.45"/><circle cx="186.7" cy="666.1" r="0.45"/><circle cx="186.6" cy="666.4" r="0.45"/><circle cx="188.4" cy="664.8" r="0.45"/><circle cx="186.1" cy="666.2" r="0.45"/><circle cx="188.7" cy="667.6" r="0.45"/><circle cx="187.1" cy="667.4" r="0.45"/><circle cx="190.2" cy="667.0" r="0.45"/><circle cx="186.5" cy="667.2" r="0.45"/><circle cx="191.1" cy="668.6" r="0.45"/><circle cx="190.4" cy="665.5" r="0.45"/><circle cx="187.1" cy="666.6" r="0.45"/><circle cx="190.1" cy="666.7" r="0.45"/><circle cx="189.1" cy="667.2" r="0.45"/><circle cx="187.3" cy="665.6" r="0.45"/><circle cx="191.4" cy="666.3" r="0.45"/><circle cx="187.4" cy="666.5" r="0.45"/><circle cx="189.5" cy="666.6" r="0.45"/><circle cx="189.0" cy="667.4" r="0.45"/><circle cx="189.8" cy="666.5" r="0.45"/><circle cx="189.4" cy="667.8" r="0.45"/><circle cx="189.8" cy="667.3" r="0.45"/><circle cx="187.6" cy="666.0" r="0.45"/><circle cx="186.7" cy="667.3" r="0.45"/><circle cx="187.8" cy="666.3" r="0.45"/><circle cx="190.9" cy="666.3" r="0.45"/><circle cx="187.9" cy="666.4" r="0.45"/><circle cx="190.7" cy="666.3" r="0.45"/></g>
<rect x="185" y="552.5" width="53.6" height="52.1" fill="none" stroke="#111" stroke-width="1.1"/>
<path d="M205.6 604.6 Q211.8 581.15 213.1 552.5" fill="none" stroke="#111" stroke-width="1.0"/>
<text x="224.2" y="562.7" font-size="8.25" stroke="#231f20" stroke-width="0.09" text-anchor="middle" textLength="20.6" lengthAdjust="spacingAndGlyphs">29.7%</text>
<line x1="186.5" y1="604.6" x2="186.5" y2="607" stroke="#231f20" stroke-width="0.6"/>
<line x1="190.1" y1="604.6" x2="190.1" y2="606" stroke="#231f20" stroke-width="0.6"/>
<line x1="193.7" y1="604.6" x2="193.7" y2="606" stroke="#231f20" stroke-width="0.6"/>
<line x1="197.3" y1="604.6" x2="197.3" y2="607" stroke="#231f20" stroke-width="0.6"/>
<line x1="200.9" y1="604.6" x2="200.9" y2="606" stroke="#231f20" stroke-width="0.6"/>
<line x1="204.5" y1="604.6" x2="204.5" y2="606" stroke="#231f20" stroke-width="0.6"/>
<line x1="208.1" y1="604.6" x2="208.1" y2="607" stroke="#231f20" stroke-width="0.6"/>
<line x1="211.7" y1="604.6" x2="211.7" y2="606" stroke="#231f20" stroke-width="0.6"/>
<line x1="215.3" y1="604.6" x2="215.3" y2="606" stroke="#231f20" stroke-width="0.6"/>
<line x1="218.9" y1="604.6" x2="218.9" y2="607" stroke="#231f20" stroke-width="0.6"/>
<line x1="222.5" y1="604.6" x2="222.5" y2="606" stroke="#231f20" stroke-width="0.6"/>
<line x1="226.1" y1="604.6" x2="226.1" y2="606" stroke="#231f20" stroke-width="0.6"/>
<line x1="229.7" y1="604.6" x2="229.7" y2="607" stroke="#231f20" stroke-width="0.6"/>
<line x1="233.3" y1="604.6" x2="233.3" y2="606" stroke="#231f20" stroke-width="0.6"/>
<line x1="182.4" y1="602.2" x2="185" y2="602.2" stroke="#231f20" stroke-width="0.6"/>
<line x1="183.5" y1="599" x2="185" y2="599" stroke="#231f20" stroke-width="0.6"/>
<line x1="183.5" y1="595.8" x2="185" y2="595.8" stroke="#231f20" stroke-width="0.6"/>
<line x1="182.4" y1="592.6" x2="185" y2="592.6" stroke="#231f20" stroke-width="0.6"/>
<line x1="183.5" y1="589.4" x2="185" y2="589.4" stroke="#231f20" stroke-width="0.6"/>
<line x1="183.5" y1="586.2" x2="185" y2="586.2" stroke="#231f20" stroke-width="0.6"/>
<line x1="182.4" y1="583" x2="185" y2="583" stroke="#231f20" stroke-width="0.6"/>
<line x1="183.5" y1="579.8" x2="185" y2="579.8" stroke="#231f20" stroke-width="0.6"/>
<line x1="183.5" y1="576.6" x2="185" y2="576.6" stroke="#231f20" stroke-width="0.6"/>
<line x1="182.4" y1="573.4" x2="185" y2="573.4" stroke="#231f20" stroke-width="0.6"/>
<line x1="183.5" y1="570.2" x2="185" y2="570.2" stroke="#231f20" stroke-width="0.6"/>
<line x1="183.5" y1="567" x2="185" y2="567" stroke="#231f20" stroke-width="0.6"/>
<line x1="182.4" y1="563.8" x2="185" y2="563.8" stroke="#231f20" stroke-width="0.6"/>
<line x1="183.5" y1="560.6" x2="185" y2="560.6" stroke="#231f20" stroke-width="0.6"/>
<line x1="183.5" y1="557.4" x2="185" y2="557.4" stroke="#231f20" stroke-width="0.6"/>
<line x1="182.4" y1="554.2" x2="185" y2="554.2" stroke="#231f20" stroke-width="0.6"/>
<rect x="185" y="619.8" width="53.6" height="51.2" fill="none" stroke="#111" stroke-width="1.1"/>
<path d="M205.3 671 Q211.1 647.96 212.4 619.8" fill="none" stroke="#111" stroke-width="1.0"/>
<text x="224.2" y="630" font-size="8.25" stroke="#231f20" stroke-width="0.09" text-anchor="middle" textLength="20.6" lengthAdjust="spacingAndGlyphs">82.2%</text>
<line x1="186.5" y1="671" x2="186.5" y2="673.4" stroke="#231f20" stroke-width="0.6"/>
<line x1="190.1" y1="671" x2="190.1" y2="672.4" stroke="#231f20" stroke-width="0.6"/>
<line x1="193.7" y1="671" x2="193.7" y2="672.4" stroke="#231f20" stroke-width="0.6"/>
<line x1="197.3" y1="671" x2="197.3" y2="673.4" stroke="#231f20" stroke-width="0.6"/>
<line x1="200.9" y1="671" x2="200.9" y2="672.4" stroke="#231f20" stroke-width="0.6"/>
<line x1="204.5" y1="671" x2="204.5" y2="672.4" stroke="#231f20" stroke-width="0.6"/>
<line x1="208.1" y1="671" x2="208.1" y2="673.4" stroke="#231f20" stroke-width="0.6"/>
<line x1="211.7" y1="671" x2="211.7" y2="672.4" stroke="#231f20" stroke-width="0.6"/>
<line x1="215.3" y1="671" x2="215.3" y2="672.4" stroke="#231f20" stroke-width="0.6"/>
<line x1="218.9" y1="671" x2="218.9" y2="673.4" stroke="#231f20" stroke-width="0.6"/>
<line x1="222.5" y1="671" x2="222.5" y2="672.4" stroke="#231f20" stroke-width="0.6"/>
<line x1="226.1" y1="671" x2="226.1" y2="672.4" stroke="#231f20" stroke-width="0.6"/>
<line x1="229.7" y1="671" x2="229.7" y2="673.4" stroke="#231f20" stroke-width="0.6"/>
<line x1="233.3" y1="671" x2="233.3" y2="672.4" stroke="#231f20" stroke-width="0.6"/>
<line x1="182.4" y1="668.6" x2="185" y2="668.6" stroke="#231f20" stroke-width="0.6"/>
<line x1="183.5" y1="665.4" x2="185" y2="665.4" stroke="#231f20" stroke-width="0.6"/>
<line x1="183.5" y1="662.2" x2="185" y2="662.2" stroke="#231f20" stroke-width="0.6"/>
<line x1="182.4" y1="659" x2="185" y2="659" stroke="#231f20" stroke-width="0.6"/>
<line x1="183.5" y1="655.8" x2="185" y2="655.8" stroke="#231f20" stroke-width="0.6"/>
<line x1="183.5" y1="652.6" x2="185" y2="652.6" stroke="#231f20" stroke-width="0.6"/>
<line x1="182.4" y1="649.4" x2="185" y2="649.4" stroke="#231f20" stroke-width="0.6"/>
<line x1="183.5" y1="646.2" x2="185" y2="646.2" stroke="#231f20" stroke-width="0.6"/>
<line x1="183.5" y1="643" x2="185" y2="643" stroke="#231f20" stroke-width="0.6"/>
<line x1="182.4" y1="639.8" x2="185" y2="639.8" stroke="#231f20" stroke-width="0.6"/>
<line x1="183.5" y1="636.6" x2="185" y2="636.6" stroke="#231f20" stroke-width="0.6"/>
<line x1="183.5" y1="633.4" x2="185" y2="633.4" stroke="#231f20" stroke-width="0.6"/>
<line x1="182.4" y1="630.2" x2="185" y2="630.2" stroke="#231f20" stroke-width="0.6"/>
<line x1="183.5" y1="627" x2="185" y2="627" stroke="#231f20" stroke-width="0.6"/>
<line x1="183.5" y1="623.8" x2="185" y2="623.8" stroke="#231f20" stroke-width="0.6"/>
<rect x="294.9" y="639.17" width="16.6" height="23.03" fill="#e27d91"/>
<rect x="318.3" y="605.76" width="16.5" height="56.44" fill="#7fa5c9"/>
<circle cx="303.3" cy="608.47" r="1.6" fill="#c8102e"/>
<circle cx="303.3" cy="628.79" r="1.6" fill="#c8102e"/>
<circle cx="303.3" cy="630.6" r="1.6" fill="#c8102e"/>
<circle cx="303.3" cy="653.62" r="1.6" fill="#c8102e"/>
<circle cx="303.3" cy="655.43" r="1.6" fill="#c8102e"/>
<circle cx="326.2" cy="586.35" r="1.6" fill="#1c5a97"/>
<circle cx="326.2" cy="587.7" r="1.6" fill="#1c5a97"/>
<circle cx="326.2" cy="590.86" r="1.6" fill="#1c5a97"/>
<circle cx="326.2" cy="595.38" r="1.6" fill="#1c5a97"/>
<circle cx="326.2" cy="617.05" r="1.6" fill="#1c5a97"/>
<circle cx="326.2" cy="657.23" r="1.6" fill="#1c5a97"/>
<line x1="303.3" y1="632.4" x2="303.3" y2="646.85" stroke="#231f20" stroke-width="0.9"/>
<line x1="301.6" y1="632.4" x2="305" y2="632.4" stroke="#231f20" stroke-width="0.9"/>
<line x1="301.6" y1="646.85" x2="305" y2="646.85" stroke="#231f20" stroke-width="0.9"/>
<line x1="326.2" y1="595.38" x2="326.2" y2="617.95" stroke="#231f20" stroke-width="0.9"/>
<line x1="324.5" y1="595.38" x2="327.9" y2="595.38" stroke="#231f20" stroke-width="0.9"/>
<line x1="324.5" y1="617.95" x2="327.9" y2="617.95" stroke="#231f20" stroke-width="0.9"/>
<polyline points="308.9,636.8 308.9,600.5 322.4,600.5 322.4,604.9" fill="none" stroke="#231f20" stroke-width="0.9"/>
<text x="315.3" y="590.78" font-size="9.2" stroke="#231f20" stroke-width="0.09" text-anchor="middle">*</text>
<text x="314.5" y="581.6" font-size="8.69" stroke="#231f20" stroke-width="0.09" text-anchor="middle" textLength="20.9" lengthAdjust="spacingAndGlyphs">2.41×</text>
<line x1="290.5" y1="662.2" x2="338.8" y2="662.2" stroke="#231f20" stroke-width="1.3"/>
<line x1="290.5" y1="578" x2="290.5" y2="662.8" stroke="#231f20" stroke-width="1"/>
<line x1="287.4" y1="662.2" x2="290.5" y2="662.2" stroke="#231f20" stroke-width="0.9"/>
<text x="286" y="665.55" font-size="9.24" stroke="#231f20" stroke-width="0.13" text-anchor="end" textLength="4.8" lengthAdjust="spacingAndGlyphs">0</text>
<line x1="287.4" y1="653.17" x2="290.5" y2="653.17" stroke="#231f20" stroke-width="0.9"/>
<text x="286" y="656.52" font-size="9.24" stroke="#231f20" stroke-width="0.13" text-anchor="end" textLength="11" lengthAdjust="spacingAndGlyphs">0.2</text>
<line x1="287.4" y1="644.14" x2="290.5" y2="644.14" stroke="#231f20" stroke-width="0.9"/>
<text x="286" y="647.49" font-size="9.24" stroke="#231f20" stroke-width="0.13" text-anchor="end" textLength="11" lengthAdjust="spacingAndGlyphs">0.4</text>
<line x1="287.4" y1="635.11" x2="290.5" y2="635.11" stroke="#231f20" stroke-width="0.9"/>
<text x="286" y="638.46" font-size="9.24" stroke="#231f20" stroke-width="0.13" text-anchor="end" textLength="11" lengthAdjust="spacingAndGlyphs">0.6</text>
<line x1="287.4" y1="626.08" x2="290.5" y2="626.08" stroke="#231f20" stroke-width="0.9"/>
<text x="286" y="629.43" font-size="9.24" stroke="#231f20" stroke-width="0.13" text-anchor="end" textLength="11" lengthAdjust="spacingAndGlyphs">0.8</text>
<line x1="287.4" y1="617.05" x2="290.5" y2="617.05" stroke="#231f20" stroke-width="0.9"/>
<text x="286" y="620.4" font-size="9.24" stroke="#231f20" stroke-width="0.13" text-anchor="end" textLength="4.8" lengthAdjust="spacingAndGlyphs">1</text>
<line x1="287.4" y1="608.02" x2="290.5" y2="608.02" stroke="#231f20" stroke-width="0.9"/>
<text x="286" y="611.37" font-size="9.24" stroke="#231f20" stroke-width="0.13" text-anchor="end" textLength="11" lengthAdjust="spacingAndGlyphs">1.2</text>
<line x1="287.4" y1="598.99" x2="290.5" y2="598.99" stroke="#231f20" stroke-width="0.9"/>
<text x="286" y="602.34" font-size="9.24" stroke="#231f20" stroke-width="0.13" text-anchor="end" textLength="11" lengthAdjust="spacingAndGlyphs">1.4</text>
<line x1="287.4" y1="589.96" x2="290.5" y2="589.96" stroke="#231f20" stroke-width="0.9"/>
<text x="286" y="593.31" font-size="9.24" stroke="#231f20" stroke-width="0.13" text-anchor="end" textLength="11" lengthAdjust="spacingAndGlyphs">1.6</text>
<line x1="287.4" y1="580.93" x2="290.5" y2="580.93" stroke="#231f20" stroke-width="0.9"/>
<text x="286" y="584.28" font-size="9.24" stroke="#231f20" stroke-width="0.13" text-anchor="end" textLength="11" lengthAdjust="spacingAndGlyphs">1.8</text>
<line x1="303.3" y1="662.2" x2="303.3" y2="664.9" stroke="#231f20" stroke-width="0.9"/>
<line x1="326.2" y1="662.2" x2="326.2" y2="664.9" stroke="#231f20" stroke-width="0.9"/>
<text transform="translate(306.2 671.3) rotate(-45)" font-size="8.36" stroke="#231f20" stroke-width="0.09" text-anchor="end" textLength="19" lengthAdjust="spacingAndGlyphs">Cntrl</text>
<text transform="translate(330.6 671.3) rotate(-45)" font-size="8.36" stroke="#231f20" stroke-width="0.09" text-anchor="end" textLength="33" lengthAdjust="spacingAndGlyphs">PLAG1-S</text>
<text transform="translate(258.3 620.9) rotate(-90)" font-size="10.4" stroke="#231f20" stroke-width="0.16" text-anchor="middle" textLength="79.8" lengthAdjust="spacingAndGlyphs">Output/input % BFP<tspan font-size="75%" baseline-shift="super">+</tspan> of</text>
<text transform="translate(269.8 621.9) rotate(-90)" font-size="10.4" stroke="#231f20" stroke-width="0.16" text-anchor="middle" textLength="67.8" lengthAdjust="spacingAndGlyphs">human CD45<tspan font-size="75%" baseline-shift="super">+</tspan> in BM</text>
<text x="346.4" y="547.5" font-size="10.4" font-weight="bold" fill="#000" textLength="9.1" lengthAdjust="spacingAndGlyphs">K</text>
<text x="390.7" y="546.5" font-size="8.58" stroke="#231f20" stroke-width="0.09" text-anchor="middle" textLength="20.2" lengthAdjust="spacingAndGlyphs">Input</text>
<text x="390.7" y="613.8" font-size="8.58" stroke="#231f20" stroke-width="0.09" text-anchor="middle" textLength="26.9" lengthAdjust="spacingAndGlyphs">Output</text>
<line x1="358.3" y1="554" x2="358.3" y2="678.8" stroke="#231f20" stroke-width="0.9"/>
<polygon points="358.3,550.5 356.5,555.3 360.1,555.3" fill="#231f20"/>
<line x1="358.3" y1="678.8" x2="413" y2="678.8" stroke="#231f20" stroke-width="0.9"/>
<polygon points="417.5,678.8 412.7,677 412.7,680.6" fill="#231f20"/>
<text transform="translate(352.9 602) rotate(-90)" font-size="8.62" stroke="#231f20" stroke-width="0.16" text-anchor="middle" textLength="88.3" lengthAdjust="spacingAndGlyphs">Normalized to mode</text>
<text x="386.5" y="690.8" font-size="10.4" stroke="#231f20" stroke-width="0.16" text-anchor="middle" textLength="70.7" lengthAdjust="spacingAndGlyphs">BFP of human CD45<tspan font-size="75%" baseline-shift="super">+</tspan></text>
<path d="M363.7 577.3 L363.7 577.3 L372.5 577.3 L373.8 572 L374.5 563 L374.9 559.6 L375.4 563 L376 572 L377.5 576.8 L380 577.3 L417.1 577.3 L417.1 577.3 Z" fill="#49b955" fill-opacity="0.66" stroke="none"/>
<path d="M363.7 577.3 L363.7 577.3 L372.5 577.3 L373.8 572 L374.5 563 L374.9 559.6 L375.4 563 L376 572 L377.5 576.8 L380 577.3 L417.1 577.3" fill="none" stroke="#49b955" stroke-width="0.9"/>
<path d="M363.7 590.8 L363.7 590.8 L372.5 590.8 L374 580 L375.4 568.7 L376.5 575 L378 580 L381 582.5 L385 584 L390 585.5 L392 584.5 L396 585.5 L400 587 L403 589.5 L406 590.5 L417.1 590.8 L417.1 590.8 Z" fill="#d4304a" fill-opacity="0.66" stroke="none"/>
<path d="M363.7 590.8 L363.7 590.8 L372.5 590.8 L374 580 L375.4 568.7 L376.5 575 L378 580 L381 582.5 L385 584 L390 585.5 L392 584.5 L396 585.5 L400 587 L403 589.5 L406 590.5 L417.1 590.8" fill="none" stroke="#d4304a" stroke-width="0.9"/>
<path d="M363.7 603.3 L363.7 603.3 L373.5 603.3 L374.8 595 L375.8 585 L376.8 592 L378 598 L381 600.5 L385 600.8 L390 601 L393 599 L396 600 L400 599.8 L403 601.5 L407 603 L417.1 603.3 L417.1 603.3 Z" fill="#3f78ad" fill-opacity="0.66" stroke="none"/>
<path d="M363.7 603.3 L363.7 603.3 L373.5 603.3 L374.8 595 L375.8 585 L376.8 592 L378 598 L381 600.5 L385 600.8 L390 601 L393 599 L396 600 L400 599.8 L403 601.5 L407 603 L417.1 603.3" fill="none" stroke="#3f78ad" stroke-width="0.9"/>
<path d="M363.8 645.4 L363.8 645.4 L372 645.4 L375 642 L377.5 640.3 L379.5 640.5 L381 633 L382.4 620 L383.6 633 L385 643 L387 645.2 L417.6 645.4 L417.6 645.4 Z" fill="#49b955" fill-opacity="0.66" stroke="none"/>
<path d="M363.8 645.4 L363.8 645.4 L372 645.4 L375 642 L377.5 640.3 L379.5 640.5 L381 633 L382.4 620 L383.6 633 L385 643 L387 645.2 L417.6 645.4" fill="none" stroke="#49b955" stroke-width="0.9"/>
<path d="M363.8 658.5 L363.8 658.5 L370 658.5 L374 657 L377.5 652 L380 642 L382.4 633.5 L384.5 638 L386.5 645 L389 649 L393 650.5 L396 652.5 L399 656 L402 658 L417.6 658.5 L417.6 658.5 Z" fill="#d4304a" fill-opacity="0.66" stroke="none"/>
<path d="M363.8 658.5 L363.8 658.5 L370 658.5 L374 657 L377.5 652 L380 642 L382.4 633.5 L384.5 638 L386.5 645 L389 649 L393 650.5 L396 652.5 L399 656 L402 658 L417.6 658.5" fill="none" stroke="#d4304a" stroke-width="0.9"/>
<path d="M363.8 671.3 L363.8 671.3 L369 671.3 L373 669.5 L376.5 668.8 L380 670 L384 670.5 L388 669.5 L392 668 L394.5 664 L396.5 654 L398.1 646.9 L399.8 652 L401.5 662 L403.5 669.5 L405 671.3 L417.6 671.3 L417.6 671.3 Z" fill="#3f78ad" fill-opacity="0.66" stroke="none"/>
<path d="M363.8 671.3 L363.8 671.3 L369 671.3 L373 669.5 L376.5 668.8 L380 670 L384 670.5 L388 669.5 L392 668 L394.5 664 L396.5 654 L398.1 646.9 L399.8 652 L401.5 662 L403.5 669.5 L405 671.3 L417.6 671.3" fill="none" stroke="#3f78ad" stroke-width="0.9"/>
<rect x="363.7" y="550" width="53.4" height="53.8" fill="none" stroke="#111" stroke-width="1.1"/>
<line x1="365.2" y1="603.8" x2="365.2" y2="605.3" stroke="#231f20" stroke-width="0.6"/>
<line x1="369.6" y1="603.8" x2="369.6" y2="605.3" stroke="#231f20" stroke-width="0.6"/>
<line x1="374" y1="603.8" x2="374" y2="605.3" stroke="#231f20" stroke-width="0.6"/>
<line x1="378.4" y1="603.8" x2="378.4" y2="605.3" stroke="#231f20" stroke-width="0.6"/>
<line x1="382.8" y1="603.8" x2="382.8" y2="605.3" stroke="#231f20" stroke-width="0.6"/>
<line x1="387.2" y1="603.8" x2="387.2" y2="605.3" stroke="#231f20" stroke-width="0.6"/>
<line x1="391.6" y1="603.8" x2="391.6" y2="605.3" stroke="#231f20" stroke-width="0.6"/>
<line x1="396" y1="603.8" x2="396" y2="605.3" stroke="#231f20" stroke-width="0.6"/>
<line x1="400.4" y1="603.8" x2="400.4" y2="605.3" stroke="#231f20" stroke-width="0.6"/>
<line x1="404.8" y1="603.8" x2="404.8" y2="605.3" stroke="#231f20" stroke-width="0.6"/>
<line x1="409.2" y1="603.8" x2="409.2" y2="605.3" stroke="#231f20" stroke-width="0.6"/>
<line x1="413.6" y1="603.8" x2="413.6" y2="605.3" stroke="#231f20" stroke-width="0.6"/>
<rect x="363.8" y="618.2" width="53.8" height="53.3" fill="none" stroke="#111" stroke-width="1.1"/>
<line x1="365.3" y1="671.5" x2="365.3" y2="673" stroke="#231f20" stroke-width="0.6"/>
<line x1="369.7" y1="671.5" x2="369.7" y2="673" stroke="#231f20" stroke-width="0.6"/>
<line x1="374.1" y1="671.5" x2="374.1" y2="673" stroke="#231f20" stroke-width="0.6"/>
<line x1="378.5" y1="671.5" x2="378.5" y2="673" stroke="#231f20" stroke-width="0.6"/>
<line x1="382.9" y1="671.5" x2="382.9" y2="673" stroke="#231f20" stroke-width="0.6"/>
<line x1="387.3" y1="671.5" x2="387.3" y2="673" stroke="#231f20" stroke-width="0.6"/>
<line x1="391.7" y1="671.5" x2="391.7" y2="673" stroke="#231f20" stroke-width="0.6"/>
<line x1="396.1" y1="671.5" x2="396.1" y2="673" stroke="#231f20" stroke-width="0.6"/>
<line x1="400.5" y1="671.5" x2="400.5" y2="673" stroke="#231f20" stroke-width="0.6"/>
<line x1="404.9" y1="671.5" x2="404.9" y2="673" stroke="#231f20" stroke-width="0.6"/>
<line x1="409.3" y1="671.5" x2="409.3" y2="673" stroke="#231f20" stroke-width="0.6"/>
<line x1="413.7" y1="671.5" x2="413.7" y2="673" stroke="#231f20" stroke-width="0.6"/>
<line x1="422" y1="550.1" x2="429.1" y2="550.1" stroke="#49b955" stroke-width="1.1"/>
<text x="432.5" y="552.6" font-size="8.25" stroke="#231f20" stroke-width="0.09" textLength="15.5" lengthAdjust="spacingAndGlyphs">BFP<tspan font-size="75%" baseline-shift="super">−</tspan></text>
<line x1="422" y1="557.9" x2="429.1" y2="557.9" stroke="#d4304a" stroke-width="1.1"/>
<text x="432.5" y="560.4" font-size="8.25" stroke="#231f20" stroke-width="0.09" textLength="16.1" lengthAdjust="spacingAndGlyphs">Cntrl</text>
<line x1="422" y1="566.5" x2="429.1" y2="566.5" stroke="#4a7fb2" stroke-width="1.1"/>
<text x="432.5" y="569" font-size="8.25" stroke="#231f20" stroke-width="0.09" textLength="29.6" lengthAdjust="spacingAndGlyphs">PLAG1-S</text>
<rect x="468.9" y="633.91" width="17.2" height="28.09" fill="#e27d91"/>
<rect x="492" y="612.29" width="17.3" height="49.71" fill="#7fa5c9"/>
<circle cx="477.8" cy="619.23" r="1.6" fill="#c8102e"/>
<circle cx="477.8" cy="634.26" r="1.6" fill="#c8102e"/>
<circle cx="477.8" cy="636.57" r="1.6" fill="#c8102e"/>
<circle cx="477.8" cy="638.88" r="1.6" fill="#c8102e"/>
<circle cx="477.8" cy="637.72" r="1.6" fill="#c8102e"/>
<circle cx="500.6" cy="593.8" r="1.6" fill="#1c5a97"/>
<circle cx="500.6" cy="596.11" r="1.6" fill="#1c5a97"/>
<circle cx="500.6" cy="597.84" r="1.6" fill="#1c5a97"/>
<circle cx="500.6" cy="605.93" r="1.6" fill="#1c5a97"/>
<circle cx="500.6" cy="627.32" r="1.6" fill="#1c5a97"/>
<circle cx="500.6" cy="650.44" r="1.6" fill="#1c5a97"/>
<line x1="477.8" y1="631.02" x2="477.8" y2="637.49" stroke="#231f20" stroke-width="0.9"/>
<line x1="476.1" y1="631.02" x2="479.5" y2="631.02" stroke="#231f20" stroke-width="0.9"/>
<line x1="476.1" y1="637.49" x2="479.5" y2="637.49" stroke="#231f20" stroke-width="0.9"/>
<line x1="500.6" y1="603.04" x2="500.6" y2="620.96" stroke="#231f20" stroke-width="0.9"/>
<line x1="498.9" y1="603.04" x2="502.3" y2="603.04" stroke="#231f20" stroke-width="0.9"/>
<line x1="498.9" y1="620.96" x2="502.3" y2="620.96" stroke="#231f20" stroke-width="0.9"/>
<polyline points="483.9,633 483.9,607 496.9,607 496.9,612.6" fill="none" stroke="#231f20" stroke-width="0.9"/>
<text x="490.2" y="592.38" font-size="9.2" stroke="#231f20" stroke-width="0.09" text-anchor="middle">*</text>
<text x="488.9" y="581" font-size="8.69" stroke="#231f20" stroke-width="0.09" text-anchor="middle" textLength="20.3" lengthAdjust="spacingAndGlyphs">1.77×</text>
<line x1="464.3" y1="662" x2="511.7" y2="662" stroke="#231f20" stroke-width="1.3"/>
<line x1="464.3" y1="577" x2="464.3" y2="662.6" stroke="#231f20" stroke-width="1"/>
<line x1="461.2" y1="662" x2="464.3" y2="662" stroke="#231f20" stroke-width="0.9"/>
<text x="459.8" y="665.36" font-size="9.36" stroke="#231f20" stroke-width="0.13" text-anchor="end" textLength="4.9" lengthAdjust="spacingAndGlyphs">0</text>
<line x1="461.2" y1="650.44" x2="464.3" y2="650.44" stroke="#231f20" stroke-width="0.9"/>
<text x="459.8" y="653.8" font-size="9.36" stroke="#231f20" stroke-width="0.13" text-anchor="end" textLength="4.9" lengthAdjust="spacingAndGlyphs">1</text>
<line x1="461.2" y1="638.88" x2="464.3" y2="638.88" stroke="#231f20" stroke-width="0.9"/>
<text x="459.8" y="642.24" font-size="9.36" stroke="#231f20" stroke-width="0.13" text-anchor="end" textLength="4.9" lengthAdjust="spacingAndGlyphs">2</text>
<line x1="461.2" y1="627.32" x2="464.3" y2="627.32" stroke="#231f20" stroke-width="0.9"/>
<text x="459.8" y="630.68" font-size="9.36" stroke="#231f20" stroke-width="0.13" text-anchor="end" textLength="4.9" lengthAdjust="spacingAndGlyphs">3</text>
<line x1="461.2" y1="615.76" x2="464.3" y2="615.76" stroke="#231f20" stroke-width="0.9"/>
<text x="459.8" y="619.12" font-size="9.36" stroke="#231f20" stroke-width="0.13" text-anchor="end" textLength="4.9" lengthAdjust="spacingAndGlyphs">4</text>
<line x1="461.2" y1="604.2" x2="464.3" y2="604.2" stroke="#231f20" stroke-width="0.9"/>
<text x="459.8" y="607.56" font-size="9.36" stroke="#231f20" stroke-width="0.13" text-anchor="end" textLength="4.9" lengthAdjust="spacingAndGlyphs">5</text>
<line x1="461.2" y1="592.64" x2="464.3" y2="592.64" stroke="#231f20" stroke-width="0.9"/>
<text x="459.8" y="596" font-size="9.36" stroke="#231f20" stroke-width="0.13" text-anchor="end" textLength="4.9" lengthAdjust="spacingAndGlyphs">6</text>
<line x1="461.2" y1="581.08" x2="464.3" y2="581.08" stroke="#231f20" stroke-width="0.9"/>
<text x="459.8" y="584.44" font-size="9.36" stroke="#231f20" stroke-width="0.13" text-anchor="end" textLength="4.9" lengthAdjust="spacingAndGlyphs">7</text>
<line x1="477.8" y1="662" x2="477.8" y2="664.7" stroke="#231f20" stroke-width="0.9"/>
<line x1="500.6" y1="662" x2="500.6" y2="664.7" stroke="#231f20" stroke-width="0.9"/>
<text transform="translate(480.8 671) rotate(-45)" font-size="8.36" stroke="#231f20" stroke-width="0.09" text-anchor="end" textLength="19" lengthAdjust="spacingAndGlyphs">Cntrl</text>
<text transform="translate(505.5 671) rotate(-45)" font-size="8.36" stroke="#231f20" stroke-width="0.09" text-anchor="end" textLength="33" lengthAdjust="spacingAndGlyphs">PLAG1-S</text>
<text transform="translate(438.3 620.9) rotate(-90)" font-size="10.4" stroke="#231f20" stroke-width="0.16" text-anchor="middle" textLength="44.3" lengthAdjust="spacingAndGlyphs">Output/input</text>
<text transform="translate(448.4 620.5) rotate(-90)" font-size="10.4" stroke="#231f20" stroke-width="0.16" text-anchor="middle" textLength="76.9" lengthAdjust="spacingAndGlyphs">MFI of BFP in BM (a.u.)</text>
<rect x="0.5" y="0.5" width="519" height="701" fill="none" stroke="#000" stroke-width="1.2"/>
</svg>
</body></html>
